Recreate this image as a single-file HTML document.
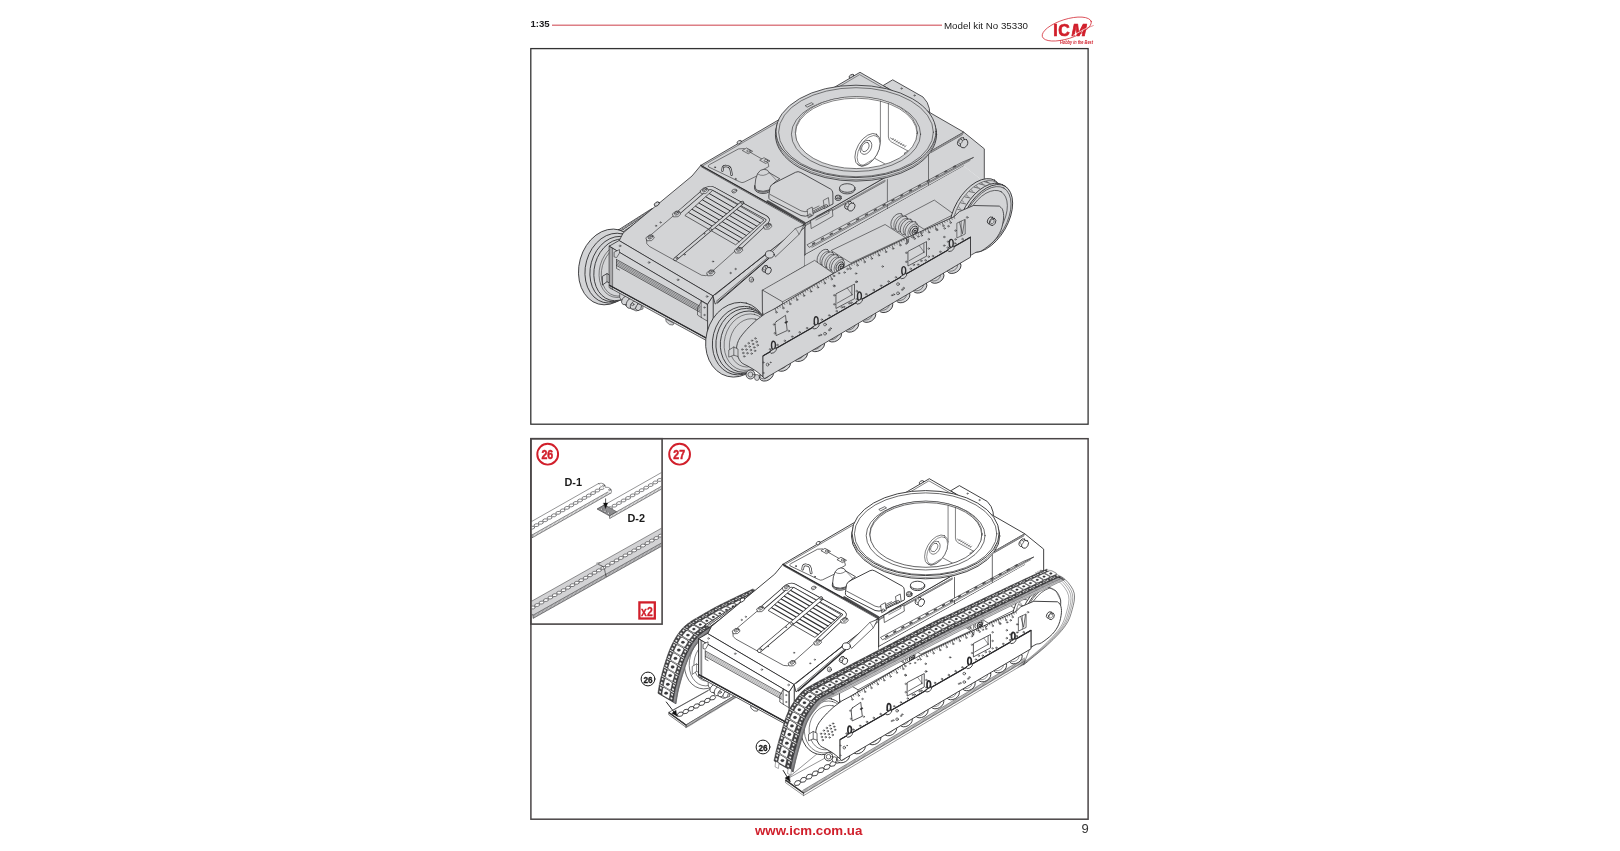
<!DOCTYPE html>
<html><head><meta charset="utf-8"><title>ICM 35330 - page 9</title>
<style>
html,body{margin:0;padding:0;background:#fff;}
body{width:1620px;height:851px;overflow:hidden;position:relative;font-family:"Liberation Sans",sans-serif;}
svg{position:absolute;left:0;top:0;will-change:transform;}
text{font-family:"Liberation Sans",sans-serif;}
.bt *{vector-effect:non-scaling-stroke;}
</style></head><body>
<svg width="1620" height="851" viewBox="0 0 1620 851" stroke-linejoin="round" stroke-linecap="round">
<rect x="0" y="0" width="1620" height="851" fill="#fff"/>
<!-- header -->
<text x="530.5" y="26.9" font-size="9.6" font-weight="bold" fill="#1d1d1f">1:35</text>
<line x1="552" y1="25.2" x2="942" y2="25.2" stroke="#dd7f86" stroke-width="1.6" stroke-linecap="butt"/>
<text x="944" y="28.5" font-size="9.3" fill="#222" textLength="84" lengthAdjust="spacingAndGlyphs">Model kit No 35330</text>
<!-- logo -->
<g>
<ellipse cx="1066.8" cy="29" rx="25.6" ry="9.7" transform="rotate(-17.5 1066.8 29)" fill="none" stroke="#d11f2b" stroke-width="0.7"/>
<text x="1053.3" y="35.6" font-size="15.9" font-weight="bold" fill="#d11f2b" stroke="#d11f2b" stroke-width="0.7" letter-spacing="0.6">IC</text>
<text x="1071.6" y="35.6" font-size="15.9" font-weight="bold" font-style="italic" fill="#d11f2b" stroke="#d11f2b" stroke-width="0.7" textLength="15" lengthAdjust="spacingAndGlyphs">M</text>
<line x1="1073.5" y1="35.2" x2="1087" y2="27.8" stroke="#fff" stroke-width="0.7"/>
<line x1="1086" y1="28.4" x2="1093.3" y2="25.6" stroke="#d11f2b" stroke-width="0.5"/>
<text x="1060" y="43.8" font-size="5.2" font-style="italic" font-weight="bold" fill="#d11f2b" font-family="Liberation Serif" textLength="33" lengthAdjust="spacingAndGlyphs">Hobby in the Best</text>
</g><!-- frames -->
<rect x="530.8" y="48.6" width="557.3" height="375.6" fill="none" stroke="#333" stroke-width="1.3" stroke-linejoin="miter"/>
<rect x="530.9" y="438.7" width="557.2" height="380.5" fill="none" stroke="#4a4647" stroke-width="1.5" stroke-linejoin="miter"/>
<g id="toptank">
<path d="M616 231.5 L652 208.5 L655 209.5 L621 233.5Z" fill="#d3d4d6" stroke="#2c2c2e" stroke-width="0.8"/>
<path d="M618 232.5 L653.5 209" fill="none" stroke="#2c2c2e" stroke-width="0.5"/>
<path d="M619.2 230.4 L620.8 231.9" fill="none" stroke="#2c2c2e" stroke-width="0.6"/>
<path d="M620.7 229.4 L622.3 230.9" fill="none" stroke="#2c2c2e" stroke-width="0.6"/>
<path d="M622.3 228.4 L623.9 229.9" fill="none" stroke="#2c2c2e" stroke-width="0.6"/>
<path d="M623.8 227.5 L625.4 229" fill="none" stroke="#2c2c2e" stroke-width="0.6"/>
<path d="M625.3 226.5 L626.9 228" fill="none" stroke="#2c2c2e" stroke-width="0.6"/>
<path d="M626.8 225.5 L628.4 227" fill="none" stroke="#2c2c2e" stroke-width="0.6"/>
<path d="M628.4 224.5 L630 226" fill="none" stroke="#2c2c2e" stroke-width="0.6"/>
<path d="M629.9 223.5 L631.5 225" fill="none" stroke="#2c2c2e" stroke-width="0.6"/>
<path d="M631.4 222.5 L633 224" fill="none" stroke="#2c2c2e" stroke-width="0.6"/>
<path d="M632.9 221.6 L634.5 223.1" fill="none" stroke="#2c2c2e" stroke-width="0.6"/>
<path d="M634.5 220.6 L636.1 222.1" fill="none" stroke="#2c2c2e" stroke-width="0.6"/>
<path d="M636 219.6 L637.6 221.1" fill="none" stroke="#2c2c2e" stroke-width="0.6"/>
<path d="M637.5 218.6 L639.1 220.1" fill="none" stroke="#2c2c2e" stroke-width="0.6"/>
<path d="M639.1 217.6 L640.7 219.1" fill="none" stroke="#2c2c2e" stroke-width="0.6"/>
<path d="M640.6 216.7 L642.2 218.2" fill="none" stroke="#2c2c2e" stroke-width="0.6"/>
<path d="M642.1 215.7 L643.7 217.2" fill="none" stroke="#2c2c2e" stroke-width="0.6"/>
<path d="M643.6 214.7 L645.2 216.2" fill="none" stroke="#2c2c2e" stroke-width="0.6"/>
<path d="M645.2 213.7 L646.8 215.2" fill="none" stroke="#2c2c2e" stroke-width="0.6"/>
<path d="M646.7 212.7 L648.3 214.2" fill="none" stroke="#2c2c2e" stroke-width="0.6"/>
<path d="M648.2 211.7 L649.8 213.2" fill="none" stroke="#2c2c2e" stroke-width="0.6"/>
<path d="M649.7 210.8 L651.3 212.3" fill="none" stroke="#2c2c2e" stroke-width="0.6"/>
<path d="M651.3 209.8 L652.9 211.3" fill="none" stroke="#2c2c2e" stroke-width="0.6"/>
<ellipse cx="608.6" cy="266.9" rx="38.5" ry="29.4" transform="rotate(-74.5 608.6 266.9)" fill="#d3d4d6" stroke="#2c2c2e" stroke-width="0.8"/>
<ellipse cx="612.7" cy="268.1" rx="35.5" ry="27.1" transform="rotate(-74.5 612.7 268.1)" fill="#d3d4d6" stroke="#2c2c2e" stroke-width="0.8"/>
<ellipse cx="615.9" cy="269" rx="33.2" ry="25.4" transform="rotate(-74.5 615.9 269)" fill="#d3d4d6" stroke="#2c2c2e" stroke-width="0.8"/>
<ellipse cx="618.4" cy="269.8" rx="31.4" ry="24" transform="rotate(-74.5 618.4 269.8)" fill="#d3d4d6" stroke="#2c2c2e" stroke-width="0.8"/>
<ellipse cx="620.2" cy="270.4" rx="27.5" ry="20.6" transform="rotate(-74.5 620.2 270.4)" fill="#d3d4d6" stroke="#2c2c2e" stroke-width="0.5"/>
<ellipse cx="621" cy="270.7" rx="25.8" ry="19.2" transform="rotate(-74.5 621 270.7)" fill="#d3d4d6" stroke="#2c2c2e" stroke-width="0.5"/>
<path d="M602.7 276.1 L607 273.6 L609.6 275 L609.6 283 L607 281.7 L602.7 284.8Z" fill="#d3d4d6" stroke="#2c2c2e" stroke-width="0.8"/>
<path d="M607 273.6 L607 281.7" fill="none" stroke="#2c2c2e" stroke-width="0.6"/>
<path d="M620 291 L643 304 L643 309 L636 311 L626 306 L620 298Z" fill="#d3d4d6" stroke="#2c2c2e" stroke-width="0.6"/>
<ellipse cx="625.5" cy="300.5" rx="4.6" ry="3.4" transform="rotate(-60 625.5 300.5)" fill="#d3d4d6" stroke="#2c2c2e" stroke-width="0.7"/>
<ellipse cx="630.5" cy="303.2" rx="5.4" ry="3.8" transform="rotate(-60 630.5 303.2)" fill="#d3d4d6" stroke="#2c2c2e" stroke-width="0.7"/>
<ellipse cx="634" cy="305.2" rx="4.4" ry="3.2" transform="rotate(-60 634 305.2)" fill="#d3d4d6" stroke="#2c2c2e" stroke-width="0.7"/>
<ellipse cx="638.6" cy="307.2" rx="3.6" ry="2.6" transform="rotate(-60 638.6 307.2)" fill="#d3d4d6" stroke="#2c2c2e" stroke-width="0.7"/>
<ellipse cx="632.6" cy="304.4" rx="1.4" ry="1.2" fill="#d3d4d6" stroke="#2c2c2e" stroke-width="0.6"/>
<path d="M666 319 L674 323.4 L673 325 L669.5 324.6 L666.5 322Z" fill="#d3d4d6" stroke="#2c2c2e" stroke-width="0.6"/>
<path d="M609.5 285.3 L707.6 338.8 L707.6 341.2 L609.5 287.7Z" fill="#d3d4d6" stroke="#2c2c2e" stroke-width="0.7"/>
<path d="M883.5 85.3 L892.7 79.8 L923 97 L927.2 102.5 L929.3 108.5 L929.8 114 L905 100Z" fill="#d3d4d6" stroke="#2c2c2e" stroke-width="0.8"/>
<path d="M884.7 86.5 L925.8 109.6" fill="none" stroke="#2c2c2e" stroke-width="0.6"/>
<ellipse cx="901.5" cy="88.5" rx="0.7" ry="0.7" fill="#d3d4d6" stroke="#2c2c2e" stroke-width="0.5"/>
<ellipse cx="914.5" cy="95.5" rx="0.7" ry="0.7" fill="#d3d4d6" stroke="#2c2c2e" stroke-width="0.5"/>
<ellipse cx="851.5" cy="76.3" rx="2.6" ry="1.6" transform="rotate(-30 851.5 76.3)" fill="#d3d4d6" stroke="#2c2c2e" stroke-width="0.8"/>
<path d="M713.2 295.6 L805 226.5 L805 266 L762.5 291 L762.5 335 L713 337Z" fill="#d3d4d6" stroke="#2c2c2e" stroke-width="0.8"/>
<path d="M805 223.5 L963.7 132.1 L984.3 148.8 L984.3 182 L963.7 166 L805 255.5Z" fill="#d3d4d6" stroke="#2c2c2e" stroke-width="0.00"/>
<path d="M805 255.5 L805 223.5 L963.7 132.1 L984.3 148.8 L984.3 182" fill="none" stroke="#2c2c2e" stroke-width="0.8"/>
<path d="M707.6 304 L713.2 295.6 L713.2 335.6 L707.6 338.8Z" fill="#d3d4d6" stroke="#2c2c2e" stroke-width="0.8"/>
<path d="M609.5 246 L707.6 304 L707.6 338.8 L609.5 285.3Z" fill="#d3d4d6" stroke="#2c2c2e" stroke-width="0.8"/>
<path d="M609.5 246 L619.4 240.3 L713.2 295.6 L707.6 304Z" fill="#d3d4d6" stroke="#2c2c2e" stroke-width="0.8"/>
<path d="M713.2 295.6 L805 223.5 L805 227 L715.5 303.8Z" fill="#d3d4d6" stroke="#2c2c2e" stroke-width="0.8"/>
<path d="M619.4 240.3 L623.2 232.9 L692 176 L700.9 165.3 L805 223.5 L713.2 295.6Z" fill="#d3d4d6" stroke="#2c2c2e" stroke-width="0.8"/>
<path d="M700.9 165.3 L860 72.3 L963.7 132.1 L805 223.5Z" fill="#d3d4d6" stroke="#2c2c2e" stroke-width="0.8"/>
<path d="M700.9 165.3 L805 223.5" fill="none" stroke="#2c2c2e" stroke-width="0.9"/>
<path d="M701.6 167 L805.2 225.2" fill="none" stroke="#2c2c2e" stroke-width="0.6"/>
<path d="M767.4 201.2 L804.6 222.8" fill="none" stroke="#4a4a4c" stroke-width="2"/>
<path d="M702.6 165.9 L779 121.6" fill="none" stroke="#2c2c2e" stroke-width="0.5"/>
<path d="M835 89.2 L859.6 74.6 L884.5 88.8" fill="none" stroke="#2c2c2e" stroke-width="0.5"/>
<ellipse cx="739.2" cy="142.2" rx="2.4" ry="1.5" transform="rotate(-30 739.2 142.2)" fill="#d3d4d6" stroke="#2c2c2e" stroke-width="0.7"/>
<path d="M708.3 166.6 Q707.6 165.6 709.5 164.6 L738.5 148.9 L744 148.6 L747.8 150.9 L765 160.8 Q769.5 163 768.8 166.5 Q762 169 757.2 175.8 L744 182.2 Q742 183.2 740 182 Z" fill="#d3d4d6" stroke="#2c2c2e" stroke-width="0.6"/>
<path d="M742.6 150.3 L746.6 148 L752.6 151.3 L748.6 153.6Z" fill="#d3d4d6" stroke="#2c2c2e" stroke-width="0.6"/>
<ellipse cx="748.6" cy="150.9" rx="1.8" ry="1.1" fill="#d3d4d6" stroke="#2c2c2e" stroke-width="0.6"/>
<path d="M760 160 L764 157.7 L770 161 L766 163.3Z" fill="#d3d4d6" stroke="#2c2c2e" stroke-width="0.6"/>
<ellipse cx="766" cy="160.6" rx="1.8" ry="1.1" fill="#d3d4d6" stroke="#2c2c2e" stroke-width="0.6"/>
<path d="M722.4 170.6 L722.9 167.4 Q723.6 165.8 726 166 L728.6 166.6 Q730.4 167.4 730.8 170 L731.6 174.8" fill="none" stroke="#2c2c2e" stroke-width="2.3"/>
<path d="M722.4 170.6 L722.9 167.4 Q723.6 165.8 726 166 L728.6 166.6 Q730.4 167.4 730.8 170 L731.6 174.8" fill="none" stroke="#d3d4d6" stroke-width="1"/>
<ellipse cx="715" cy="167.3" rx="0.6" ry="0.6" fill="#d3d4d6" stroke="#2c2c2e" stroke-width="0.6"/>
<ellipse cx="735.6" cy="179" rx="0.6" ry="0.6" fill="#d3d4d6" stroke="#2c2c2e" stroke-width="0.6"/>
<ellipse cx="763.1" cy="188.4" rx="8.5" ry="5.1" fill="#d3d4d6" stroke="#2c2c2e" stroke-width="0.8"/>
<ellipse cx="763.1" cy="187" rx="8.5" ry="5.1" fill="#d3d4d6" stroke="#2c2c2e" stroke-width="0.8"/>
<path d="M754.9 186 Q755.2 178 757.6 173.6 Q760 169.4 764 169.2 Q768.2 169.4 769.2 172.6 L779.8 178.8 Q776 180.6 772.6 184.6 Q771.6 188 769 190 Q763 192.4 757.6 190.4 Q755.2 189 754.9 186Z" fill="#d3d4d6" stroke="#2c2c2e" stroke-width="0.7"/>
<path d="M757.8 174 Q763 177.6 769.2 172.8" fill="none" stroke="#2c2c2e" stroke-width="0.5"/>
<path d="M769.2 172.6 L776.4 180.2" fill="none" stroke="#2c2c2e" stroke-width="0.5"/>
<path d="M805.5 225.6 L885 181.5" fill="none" stroke="#2c2c2e" stroke-width="0.6"/>
<path d="M931 152.6 L962.5 134.6" fill="none" stroke="#2c2c2e" stroke-width="0.6"/>
<path d="M806 224.6 L885 180.4" fill="none" stroke="#8b8b8d" stroke-width="1.3"/>
<path d="M931 151.5 L963 133.3" fill="none" stroke="#8b8b8d" stroke-width="1.3"/>
<path d="M887.4 179.5 L887.4 208.5" fill="none" stroke="#2c2c2e" stroke-width="0.6"/>
<path d="M928.5 152 L928.5 185" fill="none" stroke="#2c2c2e" stroke-width="0.6"/>
<path d="M774 183.2 L795.5 172.3 Q798.1 170.9 800.8 172.5 L830.5 189 Q832.8 190.3 832.8 193 L833 204 L809.5 215.2 Q805.5 217 801 215.5 L770.5 200 Q768.3 198.8 768.8 196 L770 187.5 Q770.6 184.8 774 183.2Z" fill="#d3d4d6" stroke="#2c2c2e" stroke-width="0.8"/>
<path d="M770.2 194.5 L801 210.8 Q805 212.6 809 210.9 L819 206" fill="none" stroke="#2c2c2e" stroke-width="0.6"/>
<path d="M810.9 220.6 L832.3 209.4 L832.9 216.2 L811.5 228.4Z" fill="#d3d4d6" stroke="#2c2c2e" stroke-width="0.6"/>
<path d="M816 216.5 L829 209.8 L829 213.2 L816 220" fill="none" stroke="#2c2c2e" stroke-width="0.5"/>
<path d="M812.5 212 L826 205" fill="none" stroke="#2c2c2e" stroke-width="1.8"/>
<path d="M812.5 212 L826 205" fill="none" stroke="#d3d4d6" stroke-width="0.8"/>
<path d="M807.4 209.6 L812.2 207 L813.2 215.2 L808.6 217.8Z" fill="#d3d4d6" stroke="#2c2c2e" stroke-width="0.6"/>
<ellipse cx="810" cy="215.2" rx="1.3" ry="1.3" fill="#d3d4d6" stroke="#2c2c2e" stroke-width="0.6"/>
<path d="M823.6 200.2 L828.4 197.6 L829.4 205.8 L824.8 208.4Z" fill="#d3d4d6" stroke="#2c2c2e" stroke-width="0.6"/>
<ellipse cx="826.2" cy="205.8" rx="1.3" ry="1.3" fill="#d3d4d6" stroke="#2c2c2e" stroke-width="0.6"/>
<ellipse cx="847.2" cy="189.6" rx="7.8" ry="4.3" fill="#d3d4d6" stroke="#2c2c2e" stroke-width="0.8"/>
<ellipse cx="847.2" cy="188" rx="7.8" ry="4.3" fill="#d3d4d6" stroke="#2c2c2e" stroke-width="0.8"/>
<ellipse cx="838.2" cy="198.6" rx="3" ry="1.9" fill="#d3d4d6" stroke="#2c2c2e" stroke-width="0.8"/>
<ellipse cx="838.2" cy="197" rx="3" ry="1.9" fill="#d3d4d6" stroke="#2c2c2e" stroke-width="0.8"/>
<ellipse cx="838.2" cy="196.8" rx="1.6" ry="1" fill="#d3d4d6" stroke="#2c2c2e" stroke-width="0.5"/>
<ellipse cx="848.3" cy="205.2" rx="4.4" ry="3.1" transform="rotate(-60 848.3 205.2)" fill="#d3d4d6" stroke="#2c2c2e" stroke-width="0.8"/>
<path d="M845.6 201.9 L849 203.7 L853.5 210.3 L850.8 208.8Z" fill="#d3d4d6" stroke="#2c2c2e" stroke-width="0.00"/>
<ellipse cx="851.4" cy="207" rx="4.4" ry="3.1" transform="rotate(-60 851.4 207)" fill="#d3d4d6" stroke="#2c2c2e" stroke-width="0.8"/>
<ellipse cx="847.4" cy="204.7" rx="2.2" ry="1.5" transform="rotate(-60 847.4 204.7)" fill="#d3d4d6" stroke="#2c2c2e" stroke-width="0.5"/>
<ellipse cx="961.3" cy="141.9" rx="4.6" ry="3.3" transform="rotate(-60 961.3 141.9)" fill="#d3d4d6" stroke="#2c2c2e" stroke-width="0.8"/>
<ellipse cx="964.2" cy="143.6" rx="4.6" ry="3.3" transform="rotate(-60 964.2 143.6)" fill="#d3d4d6" stroke="#2c2c2e" stroke-width="0.8"/>
<ellipse cx="960.6" cy="141.5" rx="2.3" ry="1.6" transform="rotate(-60 960.6 141.5)" fill="#d3d4d6" stroke="#2c2c2e" stroke-width="0.5"/>
<path d="M807.4 244.6 L961.9 162.3 L973.6 157.4 L809.5 247.2Z" fill="#d3d4d6" stroke="#2c2c2e" stroke-width="0.6"/>
<path d="M812 247.3 L970 160.5" fill="none" stroke="#2c2c2e" stroke-width="0.5"/>
<path d="M812.7 244 L814.6 242.9" fill="none" stroke="#4c4c4e" stroke-width="1.5"/>
<path d="M821.5 239.1 L823.4 238.1" fill="none" stroke="#4c4c4e" stroke-width="1.5"/>
<path d="M830.3 234.3 L832.2 233.3" fill="none" stroke="#4c4c4e" stroke-width="1.5"/>
<path d="M839.1 229.5 L841 228.5" fill="none" stroke="#4c4c4e" stroke-width="1.5"/>
<path d="M847.9 224.7 L849.8 223.7" fill="none" stroke="#4c4c4e" stroke-width="1.5"/>
<path d="M856.7 219.9 L858.6 218.9" fill="none" stroke="#4c4c4e" stroke-width="1.5"/>
<path d="M865.5 215.1 L867.4 214.1" fill="none" stroke="#4c4c4e" stroke-width="1.5"/>
<path d="M874.4 210.3 L876.2 209.2" fill="none" stroke="#4c4c4e" stroke-width="1.5"/>
<path d="M883.2 205.5 L885 204.4" fill="none" stroke="#4c4c4e" stroke-width="1.5"/>
<path d="M892 200.7 L893.8 199.6" fill="none" stroke="#4c4c4e" stroke-width="1.5"/>
<path d="M900.8 195.8 L902.6 194.8" fill="none" stroke="#4c4c4e" stroke-width="1.5"/>
<path d="M909.6 191 L911.5 190" fill="none" stroke="#4c4c4e" stroke-width="1.5"/>
<path d="M918.4 186.2 L920.3 185.2" fill="none" stroke="#4c4c4e" stroke-width="1.5"/>
<path d="M927.2 181.4 L929.1 180.4" fill="none" stroke="#4c4c4e" stroke-width="1.5"/>
<path d="M936 176.6 L937.9 175.6" fill="none" stroke="#4c4c4e" stroke-width="1.5"/>
<path d="M944.8 171.8 L946.7 170.8" fill="none" stroke="#4c4c4e" stroke-width="1.5"/>
<path d="M953.6 167 L955.5 166" fill="none" stroke="#4c4c4e" stroke-width="1.5"/>
<path d="M805 254.6 L963.7 166" fill="none" stroke="#2c2c2e" stroke-width="0.7"/>
<ellipse cx="856" cy="134.6" rx="80.6" ry="46.5" fill="#d3d4d6" stroke="#2c2c2e" stroke-width="0.8"/>
<ellipse cx="856" cy="133.4" rx="80.2" ry="46.3" fill="#d3d4d6" stroke="#2c2c2e" stroke-width="0.5"/>
<ellipse cx="856" cy="131.4" rx="80" ry="46.2" fill="#d3d4d6" stroke="#2c2c2e" stroke-width="0.8"/>
<ellipse cx="856" cy="132.2" rx="77.4" ry="44.5" fill="#d3d4d6" stroke="#2c2c2e" stroke-width="0.6"/>
<ellipse cx="856" cy="134.2" rx="64.6" ry="37.3" fill="#d3d4d6" stroke="#2c2c2e" stroke-width="0.6"/>
<ellipse cx="856.3" cy="132.2" rx="61" ry="35.6" fill="#ffffff" stroke="#2c2c2e" stroke-width="0.6"/>
<ellipse cx="856.3" cy="133.4" rx="60.8" ry="35.2" fill="#ffffff" stroke="#2c2c2e" stroke-width="0.6"/>
<clipPath id="hole"><ellipse cx="856.3" cy="133" rx="60.7" ry="35.2"/></clipPath>
<g clip-path="url(#hole)">
<path d="M880.4 95 L880.4 141" fill="none" stroke="#2c2c2e" stroke-width="0.6"/>
<path d="M888.4 95 L888.4 137 Q888.6 140.5 891.5 142 L908 151" fill="none" stroke="#2c2c2e" stroke-width="0.6"/>
<path d="M890.3 137.8 L905 146.3" fill="none" stroke="#2c2c2e" stroke-width="0.5"/>
<path d="M892 139.9 L893.4 138.3" fill="none" stroke="#2c2c2e" stroke-width="0.5"/>
<path d="M894.1 141.1 L895.5 139.5" fill="none" stroke="#2c2c2e" stroke-width="0.5"/>
<path d="M896.2 142.3 L897.6 140.7" fill="none" stroke="#2c2c2e" stroke-width="0.5"/>
<path d="M898.3 143.5 L899.7 141.9" fill="none" stroke="#2c2c2e" stroke-width="0.5"/>
<path d="M900.4 144.7 L901.8 143.1" fill="none" stroke="#2c2c2e" stroke-width="0.5"/>
<path d="M902.5 145.9 L903.9 144.3" fill="none" stroke="#2c2c2e" stroke-width="0.5"/>
<path d="M904.6 147.1 L906 145.5" fill="none" stroke="#2c2c2e" stroke-width="0.5"/>
<path d="M908 151 L904 153.4 L907.3 155.6 L913 152.5" fill="none" stroke="#2c2c2e" stroke-width="0.6"/>
<path d="M875 158.5 L886 164.5 L896 160.5 L899 162.2 L893 166" fill="none" stroke="#2c2c2e" stroke-width="0.6"/>
<path d="M880.4 141 L876 150" fill="none" stroke="#2c2c2e" stroke-width="0.6"/>
<ellipse cx="867.6" cy="149.8" rx="18" ry="10.4" transform="rotate(-60 867.6 149.8)" fill="#ffffff" stroke="#2c2c2e" stroke-width="0.6"/>
<ellipse cx="868.6" cy="150.4" rx="16.5" ry="9.2" transform="rotate(-60 868.6 150.4)" fill="#ffffff" stroke="#2c2c2e" stroke-width="0.5"/>
<ellipse cx="866" cy="147.3" rx="7.6" ry="5.2" transform="rotate(-60 866 147.3)" fill="#ffffff" stroke="#2c2c2e" stroke-width="0.6"/>
<ellipse cx="865.4" cy="147" rx="5" ry="3.3" transform="rotate(-60 865.4 147)" fill="#ffffff" stroke="#2c2c2e" stroke-width="0.6"/>
<path d="M857.5 163.8 L861.5 166.3 L872 160" fill="none" stroke="#2c2c2e" stroke-width="0.5"/>
</g>
<path d="M805.5 105.5 L811.5 102.7 L813.5 104 L807.5 107Z" fill="#d3d4d6" stroke="#2c2c2e" stroke-width="0.6"/>
<ellipse cx="656.8" cy="204" rx="2.8" ry="1.8" transform="rotate(-35 656.8 204)" fill="#d3d4d6" stroke="#2c2c2e" stroke-width="0.8"/>
<path d="M649 236.5 L706 188.2 Q709.5 185.2 714 187.2 L767.5 216.4 Q770.3 218.2 768.6 221 L709.5 273.8 Q706 276.8 701.5 275.2 L649.5 246.5 Q645.5 244 646.6 240 Q647 238 649 236.5Z" fill="#d3d4d6" stroke="#2c2c2e" stroke-width="0.6"/>
<path d="M677.6 213.6 L704.5 190.2 Q709 186.4 714 189 L766 217.5 Q769 219.4 767 222 L739.5 248" fill="none" stroke="#2c2c2e" stroke-width="3.9"/>
<path d="M677.6 213.6 L704.5 190.2 Q709 186.4 714 189 L766 217.5 Q769 219.4 767 222 L739.5 248" fill="none" stroke="#d3d4d6" stroke-width="2.6"/>
<path d="M713 190.6 L764 220 L735.7 244.8 L685.2 215.7Z" fill="#d3d4d6" stroke="#2c2c2e" stroke-width="0.7"/>
<path d="M709.5 193.7 L760.5 223.1" fill="none" stroke="#2e2e30" stroke-width="1"/>
<path d="M706 196.9 L756.9 226.2" fill="none" stroke="#2e2e30" stroke-width="1"/>
<path d="M702.6 200 L753.4 229.3" fill="none" stroke="#2e2e30" stroke-width="1"/>
<path d="M699.1 203.1 L749.9 232.4" fill="none" stroke="#2e2e30" stroke-width="1"/>
<path d="M695.6 206.3 L746.3 235.5" fill="none" stroke="#2e2e30" stroke-width="1"/>
<path d="M692.2 209.4 L742.8 238.6" fill="none" stroke="#2e2e30" stroke-width="1"/>
<path d="M688.7 212.6 L739.2 241.7" fill="none" stroke="#2e2e30" stroke-width="1"/>
<path d="M742.3 202.6 L675.3 259.2" fill="none" stroke="#2c2c2e" stroke-width="3.7"/>
<path d="M742.3 202.6 L675.3 259.2" fill="none" stroke="#d3d4d6" stroke-width="2.4"/>
<ellipse cx="742.2" cy="202.9" rx="1.3" ry="1" fill="#d3d4d6" stroke="#2c2c2e" stroke-width="0.6"/>
<ellipse cx="710.5" cy="229.8" rx="1.5" ry="1.1" fill="#d3d4d6" stroke="#2c2c2e" stroke-width="0.6"/>
<ellipse cx="676.8" cy="257.8" rx="1" ry="0.8" fill="#d3d4d6" stroke="#2c2c2e" stroke-width="0.6"/>
<ellipse cx="704.3" cy="233.7" rx="0.6" ry="0.6" fill="#d3d4d6" stroke="#2c2c2e" stroke-width="0.5"/>
<ellipse cx="684.7" cy="254.6" rx="0.6" ry="0.6" fill="#d3d4d6" stroke="#2c2c2e" stroke-width="0.5"/>
<path d="M700.4 190.5 l3.4 -2.6 l3.6 0.4 l1.2 2.6 l-2.8 2.6 l-4.2 0.2 Z" fill="#d3d4d6" stroke="#2c2c2e" stroke-width="0.6"/>
<ellipse cx="704.6" cy="189.9" rx="2.5" ry="1.7" transform="rotate(-25 704.6 189.9)" fill="#d3d4d6" stroke="#2c2c2e" stroke-width="0.6"/>
<ellipse cx="704.3" cy="189.7" rx="1.2" ry="0.8" transform="rotate(-25 704.3 189.7)" fill="#d3d4d6" stroke="#2c2c2e" stroke-width="0.5"/>
<path d="M672.6 213.7 l3.4 -2.6 l3.6 0.4 l1.2 2.6 l-2.8 2.6 l-4.2 0.2 Z" fill="#d3d4d6" stroke="#2c2c2e" stroke-width="0.6"/>
<ellipse cx="676.8" cy="213.1" rx="2.5" ry="1.7" transform="rotate(-25 676.8 213.1)" fill="#d3d4d6" stroke="#2c2c2e" stroke-width="0.6"/>
<ellipse cx="676.5" cy="212.9" rx="1.2" ry="0.8" transform="rotate(-25 676.5 212.9)" fill="#d3d4d6" stroke="#2c2c2e" stroke-width="0.5"/>
<path d="M646.1 237.6 l3.4 -2.6 l3.6 0.4 l1.2 2.6 l-2.8 2.6 l-4.2 0.2 Z" fill="#d3d4d6" stroke="#2c2c2e" stroke-width="0.6"/>
<ellipse cx="650.3" cy="237" rx="2.5" ry="1.7" transform="rotate(-25 650.3 237)" fill="#d3d4d6" stroke="#2c2c2e" stroke-width="0.6"/>
<ellipse cx="650" cy="236.8" rx="1.2" ry="0.8" transform="rotate(-25 650 236.8)" fill="#d3d4d6" stroke="#2c2c2e" stroke-width="0.5"/>
<path d="M763.8 226 l3.4 -2.6 l3.6 0.4 l1.2 2.6 l-2.8 2.6 l-4.2 0.2 Z" fill="#d3d4d6" stroke="#2c2c2e" stroke-width="0.6"/>
<ellipse cx="768" cy="225.4" rx="2.5" ry="1.7" transform="rotate(-25 768 225.4)" fill="#d3d4d6" stroke="#2c2c2e" stroke-width="0.6"/>
<ellipse cx="767.7" cy="225.2" rx="1.2" ry="0.8" transform="rotate(-25 767.7 225.2)" fill="#d3d4d6" stroke="#2c2c2e" stroke-width="0.5"/>
<path d="M734.7 249.9 l3.4 -2.6 l3.6 0.4 l1.2 2.6 l-2.8 2.6 l-4.2 0.2 Z" fill="#d3d4d6" stroke="#2c2c2e" stroke-width="0.6"/>
<ellipse cx="738.9" cy="249.3" rx="2.5" ry="1.7" transform="rotate(-25 738.9 249.3)" fill="#d3d4d6" stroke="#2c2c2e" stroke-width="0.6"/>
<ellipse cx="738.6" cy="249.1" rx="1.2" ry="0.8" transform="rotate(-25 738.6 249.1)" fill="#d3d4d6" stroke="#2c2c2e" stroke-width="0.5"/>
<path d="M706.9 272.6 l3.4 -2.6 l3.6 0.4 l1.2 2.6 l-2.8 2.6 l-4.2 0.2 Z" fill="#d3d4d6" stroke="#2c2c2e" stroke-width="0.6"/>
<ellipse cx="711.1" cy="272" rx="2.5" ry="1.7" transform="rotate(-25 711.1 272)" fill="#d3d4d6" stroke="#2c2c2e" stroke-width="0.6"/>
<ellipse cx="710.8" cy="271.8" rx="1.2" ry="0.8" transform="rotate(-25 710.8 271.8)" fill="#d3d4d6" stroke="#2c2c2e" stroke-width="0.5"/>
<ellipse cx="734.3" cy="191" rx="2.6" ry="1.8" transform="rotate(-20 734.3 191)" fill="#d3d4d6" stroke="#2c2c2e" stroke-width="0.6"/>
<path d="M732.6 192 L736.2 190.2" fill="none" stroke="#2c2c2e" stroke-width="0.5"/>
<ellipse cx="656" cy="225.8" rx="0.7" ry="0.7" fill="#d3d4d6" stroke="#2c2c2e" stroke-width="0.5"/>
<ellipse cx="660.5" cy="222.4" rx="0.7" ry="0.7" fill="#d3d4d6" stroke="#2c2c2e" stroke-width="0.5"/>
<ellipse cx="730.5" cy="273" rx="0.7" ry="0.7" fill="#d3d4d6" stroke="#2c2c2e" stroke-width="0.5"/>
<ellipse cx="735.5" cy="269" rx="0.7" ry="0.7" fill="#d3d4d6" stroke="#2c2c2e" stroke-width="0.5"/>
<ellipse cx="713" cy="261.5" rx="0.7" ry="0.7" fill="#d3d4d6" stroke="#2c2c2e" stroke-width="0.5"/>
<path d="M803.6 225.2 L795.3 228.6 L772.3 251.5 L775.5 256.8 L799 234.5Z" fill="#d3d4d6" stroke="#2c2c2e" stroke-width="0.6"/>
<path d="M795.3 228.6 L797.5 231.2 L799 234.5" fill="none" stroke="#2c2c2e" stroke-width="0.5"/>
<ellipse cx="769.8" cy="254.4" rx="4.4" ry="3.7" fill="#d3d4d6" stroke="#2c2c2e" stroke-width="0.8"/>
<path d="M765.6 254 L715.5 294.6" fill="none" stroke="#2c2c2e" stroke-width="0.6"/>
<path d="M767.2 258 L716.4 301.2" fill="none" stroke="#2c2c2e" stroke-width="0.6"/>
<path d="M768.6 258.7 L717.5 303" fill="none" stroke="#2c2c2e" stroke-width="1"/>
<ellipse cx="765.2" cy="268.8" rx="3.6" ry="2.8" transform="rotate(-60 765.2 268.8)" fill="#d3d4d6" stroke="#2c2c2e" stroke-width="0.8"/>
<path d="M763.4 266 L766.4 267.6 L770 273.4 L767 271.8Z" fill="#d3d4d6" stroke="#2c2c2e" stroke-width="0.00"/>
<ellipse cx="768.3" cy="270.7" rx="3.6" ry="2.8" transform="rotate(-60 768.3 270.7)" fill="#d3d4d6" stroke="#2c2c2e" stroke-width="0.8"/>
<ellipse cx="764.4" cy="268.4" rx="1.8" ry="1.3" transform="rotate(-60 764.4 268.4)" fill="#d3d4d6" stroke="#2c2c2e" stroke-width="0.5"/>
<ellipse cx="751.4" cy="279.6" rx="2.2" ry="2.6" fill="#d3d4d6" stroke="#2c2c2e" stroke-width="0.6"/>
<ellipse cx="752.2" cy="280.2" rx="1.2" ry="1.5" fill="#d3d4d6" stroke="#2c2c2e" stroke-width="0.5"/>
<path d="M612.6 248.2 L612.6 289.5" fill="none" stroke="#2c2c2e" stroke-width="0.6"/>
<path d="M611 247.2 L611 288.8" fill="none" stroke="#2c2c2e" stroke-width="0.5"/>
<ellipse cx="620" cy="245.9" rx="0.9" ry="0.9" fill="#d3d4d6" stroke="#2c2c2e" stroke-width="0.5"/>
<ellipse cx="649" cy="262.5" rx="0.9" ry="0.9" fill="#d3d4d6" stroke="#2c2c2e" stroke-width="0.5"/>
<ellipse cx="678" cy="279.8" rx="0.9" ry="0.9" fill="#d3d4d6" stroke="#2c2c2e" stroke-width="0.5"/>
<ellipse cx="707" cy="296.5" rx="0.9" ry="0.9" fill="#d3d4d6" stroke="#2c2c2e" stroke-width="0.5"/>
<path d="M616.5 259.5 L700 306.2" fill="none" stroke="#2c2c2e" stroke-width="0.7"/>
<path d="M616.5 261 L700 307.7" fill="none" stroke="#2c2c2e" stroke-width="0.5"/>
<path d="M616.5 262.5 L700 309.2" fill="none" stroke="#2c2c2e" stroke-width="0.5"/>
<path d="M616.5 264 L700 310.7" fill="none" stroke="#2c2c2e" stroke-width="0.5"/>
<path d="M616.5 265.5 L700 312.2" fill="none" stroke="#2c2c2e" stroke-width="0.7"/>
<path d="M616.5 259.5 L616.5 268.5 L619.5 270" fill="none" stroke="#2c2c2e" stroke-width="0.6"/>
<path d="M614.5 252 L619.5 249.6 L619.5 253 L616.6 257.6 L614.5 257Z" fill="#d3d4d6" stroke="#2c2c2e" stroke-width="0.6"/>
<path d="M609.5 285.3 L707.6 338.8" fill="none" stroke="#2c2c2e" stroke-width="1.3"/>
<path d="M701.5 301.2 L707.3 304.7 L707.3 321.1 L701.5 317.6Z" fill="#d3d4d6" stroke="#2c2c2e" stroke-width="0.6"/>
<ellipse cx="704.4" cy="307.5" rx="0.7" ry="0.7" fill="#d3d4d6" stroke="#2c2c2e" stroke-width="0.5"/>
<ellipse cx="704.4" cy="315" rx="0.7" ry="0.7" fill="#d3d4d6" stroke="#2c2c2e" stroke-width="0.5"/>
<path d="M701.5 301.2 L697.5 308 L697.5 315 L701.5 317.6" fill="none" stroke="#2c2c2e" stroke-width="0.6"/>
<path d="M805 255.5 L963.7 166 L984.3 182 L984.3 200 L954 217 L783 302.5 L762.5 291 L805 266Z" fill="#d3d4d6" stroke="#2c2c2e" stroke-width="0.00"/>
<path d="M904.2 216 L934.3 200.1 L954 214.3 L924.4 229.1Z" fill="#d3d4d6" stroke="#2c2c2e" stroke-width="0.6"/>
<ellipse cx="897.2" cy="221.3" rx="8.6" ry="5.4" transform="rotate(-60 897.2 221.3)" fill="#d3d4d6" stroke="#2c2c2e" stroke-width="0.6"/>
<ellipse cx="899.1" cy="222.4" rx="7.4" ry="4.4" transform="rotate(-60 899.1 222.4)" fill="#d3d4d6" stroke="#2c2c2e" stroke-width="0.5"/>
<ellipse cx="901.9" cy="224" rx="8.6" ry="5.4" transform="rotate(-60 901.9 224)" fill="#d3d4d6" stroke="#2c2c2e" stroke-width="0.6"/>
<ellipse cx="903.8" cy="225.1" rx="7.4" ry="4.4" transform="rotate(-60 903.8 225.1)" fill="#d3d4d6" stroke="#2c2c2e" stroke-width="0.5"/>
<ellipse cx="906.6" cy="226.8" rx="8.6" ry="5.4" transform="rotate(-60 906.6 226.8)" fill="#d3d4d6" stroke="#2c2c2e" stroke-width="0.6"/>
<ellipse cx="908.5" cy="227.8" rx="7.4" ry="4.4" transform="rotate(-60 908.5 227.8)" fill="#d3d4d6" stroke="#2c2c2e" stroke-width="0.5"/>
<ellipse cx="911.3" cy="229.4" rx="8.6" ry="5.4" transform="rotate(-60 911.3 229.4)" fill="#d3d4d6" stroke="#2c2c2e" stroke-width="0.6"/>
<ellipse cx="913.2" cy="230.5" rx="7.4" ry="4.4" transform="rotate(-60 913.2 230.5)" fill="#d3d4d6" stroke="#2c2c2e" stroke-width="0.5"/>
<ellipse cx="913.7" cy="230.8" rx="5.2" ry="3.4" transform="rotate(-60 913.7 230.8)" fill="#d3d4d6" stroke="#2c2c2e" stroke-width="0.8"/>
<ellipse cx="914.7" cy="231.4" rx="3.4" ry="2.2" transform="rotate(-60 914.7 231.4)" fill="#d3d4d6" stroke="#2c2c2e" stroke-width="0.9"/>
<ellipse cx="915" cy="231.7" rx="1.5" ry="1" transform="rotate(-60 915 231.7)" fill="#d3d4d6" stroke="#2c2c2e" stroke-width="0.9"/>
<path d="M831.5 250.4 L885.1 224.5 L905.4 237.5 L851.2 262.8Z" fill="#d3d4d6" stroke="#2c2c2e" stroke-width="0.6"/>
<ellipse cx="823.4" cy="257.1" rx="8.6" ry="5.4" transform="rotate(-60 823.4 257.1)" fill="#d3d4d6" stroke="#2c2c2e" stroke-width="0.6"/>
<ellipse cx="825.3" cy="258.2" rx="7.4" ry="4.4" transform="rotate(-60 825.3 258.2)" fill="#d3d4d6" stroke="#2c2c2e" stroke-width="0.5"/>
<ellipse cx="828.1" cy="259.8" rx="8.6" ry="5.4" transform="rotate(-60 828.1 259.8)" fill="#d3d4d6" stroke="#2c2c2e" stroke-width="0.6"/>
<ellipse cx="830" cy="260.9" rx="7.4" ry="4.4" transform="rotate(-60 830 260.9)" fill="#d3d4d6" stroke="#2c2c2e" stroke-width="0.5"/>
<ellipse cx="832.8" cy="262.4" rx="8.6" ry="5.4" transform="rotate(-60 832.8 262.4)" fill="#d3d4d6" stroke="#2c2c2e" stroke-width="0.6"/>
<ellipse cx="834.7" cy="263.6" rx="7.4" ry="4.4" transform="rotate(-60 834.7 263.6)" fill="#d3d4d6" stroke="#2c2c2e" stroke-width="0.5"/>
<ellipse cx="837.5" cy="265.2" rx="8.6" ry="5.4" transform="rotate(-60 837.5 265.2)" fill="#d3d4d6" stroke="#2c2c2e" stroke-width="0.6"/>
<ellipse cx="839.4" cy="266.3" rx="7.4" ry="4.4" transform="rotate(-60 839.4 266.3)" fill="#d3d4d6" stroke="#2c2c2e" stroke-width="0.5"/>
<ellipse cx="839.9" cy="266.6" rx="5.2" ry="3.4" transform="rotate(-60 839.9 266.6)" fill="#d3d4d6" stroke="#2c2c2e" stroke-width="0.8"/>
<ellipse cx="840.9" cy="267.2" rx="3.4" ry="2.2" transform="rotate(-60 840.9 267.2)" fill="#d3d4d6" stroke="#2c2c2e" stroke-width="0.9"/>
<ellipse cx="841.2" cy="267.4" rx="1.5" ry="1" transform="rotate(-60 841.2 267.4)" fill="#d3d4d6" stroke="#2c2c2e" stroke-width="0.9"/>
<path d="M762.5 290.1 L814.6 260.4 L833.5 273.6 L782.6 301.8Z" fill="#d3d4d6" stroke="#2c2c2e" stroke-width="0.6"/>
<path d="M762.5 290.1 L782.6 301.8 L782.6 304 L764 316.5 L762.5 312Z" fill="#d3d4d6" stroke="#2c2c2e" stroke-width="0.6"/>
<ellipse cx="976" cy="212.5" rx="37.3" ry="21.5" transform="rotate(-60 976 212.5)" fill="#d3d4d6" stroke="#2c2c2e" stroke-width="0.8"/>
<ellipse cx="978" cy="213.7" rx="36.5" ry="21.1" transform="rotate(-60 978 213.7)" fill="#d3d4d6" stroke="#2c2c2e" stroke-width="0.5"/>
<ellipse cx="984.2" cy="217.1" rx="37.3" ry="21.5" transform="rotate(-60 984.2 217.1)" fill="#d3d4d6" stroke="#2c2c2e" stroke-width="0.8"/>
<ellipse cx="986.4" cy="218.4" rx="37.3" ry="21.5" transform="rotate(-60 986.4 218.4)" fill="#d3d4d6" stroke="#2c2c2e" stroke-width="0.8"/>
<ellipse cx="986.4" cy="218.4" rx="35" ry="20.2" transform="rotate(-60 986.4 218.4)" fill="#d3d4d6" stroke="#2c2c2e" stroke-width="0.6"/>
<ellipse cx="985.9" cy="218.1" rx="30.5" ry="17.6" transform="rotate(-60 985.9 218.1)" fill="#d3d4d6" stroke="#2c2c2e" stroke-width="0.6"/>
<path d="M955 215.9 L959.5 217" fill="none" stroke="#2c2c2e" stroke-width="0.6"/>
<path d="M955.8 213.6 L957.6 215.3" fill="none" stroke="#2c2c2e" stroke-width="0.5"/>
<path d="M957.5 209.3 L962.2 210.3" fill="none" stroke="#2c2c2e" stroke-width="0.6"/>
<path d="M958.6 207 L960.4 208.7" fill="none" stroke="#2c2c2e" stroke-width="0.5"/>
<path d="M960.8 202.9 L965.7 203.9" fill="none" stroke="#2c2c2e" stroke-width="0.6"/>
<path d="M962.2 200.7 L963.9 202.3" fill="none" stroke="#2c2c2e" stroke-width="0.5"/>
<path d="M964.9 196.9 L969.9 197.9" fill="none" stroke="#2c2c2e" stroke-width="0.6"/>
<path d="M966.4 195 L968.2 196.4" fill="none" stroke="#2c2c2e" stroke-width="0.5"/>
<path d="M969.5 191.6 L974.7 192.7" fill="none" stroke="#2c2c2e" stroke-width="0.6"/>
<path d="M971.2 189.9 L972.9 191.3" fill="none" stroke="#2c2c2e" stroke-width="0.5"/>
<path d="M974.4 187.2 L979.8 188.4" fill="none" stroke="#2c2c2e" stroke-width="0.6"/>
<path d="M976.2 185.9 L978 187.2" fill="none" stroke="#2c2c2e" stroke-width="0.5"/>
<path d="M979.5 183.9 L985 185.3" fill="none" stroke="#2c2c2e" stroke-width="0.6"/>
<path d="M981.3 183 L983.1 184.1" fill="none" stroke="#2c2c2e" stroke-width="0.5"/>
<path d="M984.6 181.7 L990.1 183.4" fill="none" stroke="#2c2c2e" stroke-width="0.6"/>
<path d="M986.3 181.3 L988.2 182.3" fill="none" stroke="#2c2c2e" stroke-width="0.5"/>
<ellipse cx="736.8" cy="339.7" rx="37.8" ry="30.7" transform="rotate(-75.5 736.8 339.7)" fill="#d3d4d6" stroke="#2c2c2e" stroke-width="0.8"/>
<ellipse cx="741" cy="340.6" rx="34.7" ry="28.2" transform="rotate(-75.5 741 340.6)" fill="#d3d4d6" stroke="#2c2c2e" stroke-width="0.8"/>
<ellipse cx="743.2" cy="341" rx="33" ry="26.9" transform="rotate(-75.5 743.2 341)" fill="#d3d4d6" stroke="#2c2c2e" stroke-width="0.8"/>
<ellipse cx="745.9" cy="341.6" rx="31" ry="25.2" transform="rotate(-75.5 745.9 341.6)" fill="#d3d4d6" stroke="#2c2c2e" stroke-width="0.8"/>
<ellipse cx="747.5" cy="342.1" rx="28.6" ry="23" transform="rotate(-75.5 747.5 342.1)" fill="#d3d4d6" stroke="#2c2c2e" stroke-width="0.5"/>
<ellipse cx="749.1" cy="342.8" rx="24.5" ry="19.4" transform="rotate(-75.5 749.1 342.8)" fill="#d3d4d6" stroke="#2c2c2e" stroke-width="0.5"/>
<ellipse cx="954" cy="267.6" rx="7.6" ry="5.2" transform="rotate(-30 954 267.6)" fill="#d3d4d6" stroke="#2c2c2e" stroke-width="0.8"/>
<ellipse cx="952.6" cy="267.2" rx="5.4" ry="3.4" transform="rotate(-30 952.6 267.2)" fill="#d3d4d6" stroke="#2c2c2e" stroke-width="0.5"/>
<ellipse cx="951.8" cy="266.6" rx="2.6" ry="1.6" transform="rotate(-30 951.8 266.6)" fill="#d3d4d6" stroke="#2c2c2e" stroke-width="0.5"/>
<ellipse cx="937" cy="277.4" rx="7.6" ry="5.2" transform="rotate(-30 937 277.4)" fill="#d3d4d6" stroke="#2c2c2e" stroke-width="0.8"/>
<ellipse cx="935.6" cy="277" rx="5.4" ry="3.4" transform="rotate(-30 935.6 277)" fill="#d3d4d6" stroke="#2c2c2e" stroke-width="0.5"/>
<ellipse cx="934.8" cy="276.4" rx="2.6" ry="1.6" transform="rotate(-30 934.8 276.4)" fill="#d3d4d6" stroke="#2c2c2e" stroke-width="0.5"/>
<ellipse cx="919.9" cy="287.2" rx="7.6" ry="5.2" transform="rotate(-30 919.9 287.2)" fill="#d3d4d6" stroke="#2c2c2e" stroke-width="0.8"/>
<ellipse cx="918.5" cy="286.8" rx="5.4" ry="3.4" transform="rotate(-30 918.5 286.8)" fill="#d3d4d6" stroke="#2c2c2e" stroke-width="0.5"/>
<ellipse cx="917.7" cy="286.2" rx="2.6" ry="1.6" transform="rotate(-30 917.7 286.2)" fill="#d3d4d6" stroke="#2c2c2e" stroke-width="0.5"/>
<ellipse cx="902.9" cy="296.9" rx="7.6" ry="5.2" transform="rotate(-30 902.9 296.9)" fill="#d3d4d6" stroke="#2c2c2e" stroke-width="0.8"/>
<ellipse cx="901.5" cy="296.5" rx="5.4" ry="3.4" transform="rotate(-30 901.5 296.5)" fill="#d3d4d6" stroke="#2c2c2e" stroke-width="0.5"/>
<ellipse cx="900.6" cy="295.9" rx="2.6" ry="1.6" transform="rotate(-30 900.6 295.9)" fill="#d3d4d6" stroke="#2c2c2e" stroke-width="0.5"/>
<ellipse cx="885.8" cy="306.7" rx="7.6" ry="5.2" transform="rotate(-30 885.8 306.7)" fill="#d3d4d6" stroke="#2c2c2e" stroke-width="0.8"/>
<ellipse cx="884.4" cy="306.3" rx="5.4" ry="3.4" transform="rotate(-30 884.4 306.3)" fill="#d3d4d6" stroke="#2c2c2e" stroke-width="0.5"/>
<ellipse cx="883.6" cy="305.7" rx="2.6" ry="1.6" transform="rotate(-30 883.6 305.7)" fill="#d3d4d6" stroke="#2c2c2e" stroke-width="0.5"/>
<ellipse cx="868.8" cy="316.5" rx="7.6" ry="5.2" transform="rotate(-30 868.8 316.5)" fill="#d3d4d6" stroke="#2c2c2e" stroke-width="0.8"/>
<ellipse cx="867.4" cy="316.1" rx="5.4" ry="3.4" transform="rotate(-30 867.4 316.1)" fill="#d3d4d6" stroke="#2c2c2e" stroke-width="0.5"/>
<ellipse cx="866.5" cy="315.5" rx="2.6" ry="1.6" transform="rotate(-30 866.5 315.5)" fill="#d3d4d6" stroke="#2c2c2e" stroke-width="0.5"/>
<ellipse cx="851.7" cy="326.3" rx="7.6" ry="5.2" transform="rotate(-30 851.7 326.3)" fill="#d3d4d6" stroke="#2c2c2e" stroke-width="0.8"/>
<ellipse cx="850.3" cy="325.9" rx="5.4" ry="3.4" transform="rotate(-30 850.3 325.9)" fill="#d3d4d6" stroke="#2c2c2e" stroke-width="0.5"/>
<ellipse cx="849.5" cy="325.3" rx="2.6" ry="1.6" transform="rotate(-30 849.5 325.3)" fill="#d3d4d6" stroke="#2c2c2e" stroke-width="0.5"/>
<ellipse cx="834.6" cy="336.1" rx="7.6" ry="5.2" transform="rotate(-30 834.6 336.1)" fill="#d3d4d6" stroke="#2c2c2e" stroke-width="0.8"/>
<ellipse cx="833.2" cy="335.7" rx="5.4" ry="3.4" transform="rotate(-30 833.2 335.7)" fill="#d3d4d6" stroke="#2c2c2e" stroke-width="0.5"/>
<ellipse cx="832.4" cy="335.1" rx="2.6" ry="1.6" transform="rotate(-30 832.4 335.1)" fill="#d3d4d6" stroke="#2c2c2e" stroke-width="0.5"/>
<ellipse cx="817.6" cy="345.8" rx="7.6" ry="5.2" transform="rotate(-30 817.6 345.8)" fill="#d3d4d6" stroke="#2c2c2e" stroke-width="0.8"/>
<ellipse cx="816.2" cy="345.4" rx="5.4" ry="3.4" transform="rotate(-30 816.2 345.4)" fill="#d3d4d6" stroke="#2c2c2e" stroke-width="0.5"/>
<ellipse cx="815.4" cy="344.8" rx="2.6" ry="1.6" transform="rotate(-30 815.4 344.8)" fill="#d3d4d6" stroke="#2c2c2e" stroke-width="0.5"/>
<ellipse cx="800.5" cy="355.6" rx="7.6" ry="5.2" transform="rotate(-30 800.5 355.6)" fill="#d3d4d6" stroke="#2c2c2e" stroke-width="0.8"/>
<ellipse cx="799.1" cy="355.2" rx="5.4" ry="3.4" transform="rotate(-30 799.1 355.2)" fill="#d3d4d6" stroke="#2c2c2e" stroke-width="0.5"/>
<ellipse cx="798.3" cy="354.6" rx="2.6" ry="1.6" transform="rotate(-30 798.3 354.6)" fill="#d3d4d6" stroke="#2c2c2e" stroke-width="0.5"/>
<ellipse cx="783.5" cy="365.4" rx="7.6" ry="5.2" transform="rotate(-30 783.5 365.4)" fill="#d3d4d6" stroke="#2c2c2e" stroke-width="0.8"/>
<ellipse cx="782.1" cy="365" rx="5.4" ry="3.4" transform="rotate(-30 782.1 365)" fill="#d3d4d6" stroke="#2c2c2e" stroke-width="0.5"/>
<ellipse cx="781.3" cy="364.4" rx="2.6" ry="1.6" transform="rotate(-30 781.3 364.4)" fill="#d3d4d6" stroke="#2c2c2e" stroke-width="0.5"/>
<ellipse cx="766.5" cy="375.2" rx="7.6" ry="5.2" transform="rotate(-30 766.5 375.2)" fill="#d3d4d6" stroke="#2c2c2e" stroke-width="0.8"/>
<ellipse cx="765.1" cy="374.8" rx="5.4" ry="3.4" transform="rotate(-30 765.1 374.8)" fill="#d3d4d6" stroke="#2c2c2e" stroke-width="0.5"/>
<ellipse cx="764.2" cy="374.2" rx="2.6" ry="1.6" transform="rotate(-30 764.2 374.2)" fill="#d3d4d6" stroke="#2c2c2e" stroke-width="0.5"/>
<ellipse cx="750.5" cy="374.5" rx="4.5" ry="4.5" fill="#d3d4d6" stroke="#2c2c2e" stroke-width="0.8"/>
<ellipse cx="750.5" cy="374.5" rx="2.5" ry="2.5" fill="#d3d4d6" stroke="#2c2c2e" stroke-width="0.6"/>
<ellipse cx="757" cy="377.5" rx="2.5" ry="3" fill="#d3d4d6" stroke="#2c2c2e" stroke-width="0.6"/><path d="M765.5 313.5 L775 308.5 L832.6 273.9 L849 264.9 L906 238.1 L954 216.8 L959.4 211.6 L973.5 205.5 L999.3 206.1  C999.8 206.7 1001.9 207.7 1002.6 209.7 C1003.3 211.7 1003.9 214.5 1003.6 218 C1003.3 221.5 1002.4 226.6 1000.8 230.5 C999.2 234.4 996.9 237.8 993.8 241.2 C990.7 244.5 984.9 248.8 982 250.6 C979.1 252.4 978.3 251.4 976.4 252.2 C974.5 253 971.5 254.9 970.5 255.5 L970.5 237.2 L763.2 355.8 L763.2 377  C762 376 758.5 372.8 756 371 C753.5 369.2 750.6 367.8 748 366.2 C745.4 364.6 742.5 364.1 740.6 361.6 C738.7 359.2 737 355 736.6 351.5 C736.2 348 736.8 344.2 738.5 340.5 C740.2 336.8 743.8 332.8 746.7 329.5 C749.6 326.2 754.5 322 756 320.5 Z" fill="#d3d4d6" stroke="#2c2c2e" stroke-width="0.8"/>
<path d="M775 308.5 L776.2 311.7" fill="none" stroke="#2c2c2e" stroke-width="0.6"/>
<ellipse cx="776.4" cy="312.3" rx="0.8" ry="0.8" fill="#d3d4d6" stroke="#2c2c2e" stroke-width="0.5"/>
<path d="M777.3 307.1 L777.9 308.7" fill="none" stroke="#2c2c2e" stroke-width="0.5"/>
<path d="M779.6 305.7 L780.2 307.3" fill="none" stroke="#2c2c2e" stroke-width="0.5"/>
<path d="M781.9 304.3 L783.1 307.5" fill="none" stroke="#2c2c2e" stroke-width="0.6"/>
<ellipse cx="783.3" cy="308.1" rx="0.8" ry="0.8" fill="#d3d4d6" stroke="#2c2c2e" stroke-width="0.5"/>
<path d="M784.2 303 L784.8 304.6" fill="none" stroke="#2c2c2e" stroke-width="0.5"/>
<path d="M786.5 301.6 L787.1 303.2" fill="none" stroke="#2c2c2e" stroke-width="0.5"/>
<path d="M788.8 300.2 L790 303.4" fill="none" stroke="#2c2c2e" stroke-width="0.6"/>
<ellipse cx="790.2" cy="304" rx="0.8" ry="0.8" fill="#d3d4d6" stroke="#2c2c2e" stroke-width="0.5"/>
<path d="M791.1 298.8 L791.7 300.4" fill="none" stroke="#2c2c2e" stroke-width="0.5"/>
<path d="M793.4 297.4 L794 299" fill="none" stroke="#2c2c2e" stroke-width="0.5"/>
<path d="M795.7 296 L796.9 299.2" fill="none" stroke="#2c2c2e" stroke-width="0.6"/>
<ellipse cx="797.1" cy="299.8" rx="0.8" ry="0.8" fill="#d3d4d6" stroke="#2c2c2e" stroke-width="0.5"/>
<path d="M798 294.7 L798.6 296.3" fill="none" stroke="#2c2c2e" stroke-width="0.5"/>
<path d="M800.3 293.3 L800.9 294.9" fill="none" stroke="#2c2c2e" stroke-width="0.5"/>
<path d="M802.6 291.9 L803.8 295.1" fill="none" stroke="#2c2c2e" stroke-width="0.6"/>
<ellipse cx="804" cy="295.7" rx="0.8" ry="0.8" fill="#d3d4d6" stroke="#2c2c2e" stroke-width="0.5"/>
<path d="M805 290.5 L805.6 292.1" fill="none" stroke="#2c2c2e" stroke-width="0.5"/>
<path d="M807.3 289.1 L807.9 290.7" fill="none" stroke="#2c2c2e" stroke-width="0.5"/>
<path d="M809.6 287.7 L810.8 290.9" fill="none" stroke="#2c2c2e" stroke-width="0.6"/>
<ellipse cx="811" cy="291.5" rx="0.8" ry="0.8" fill="#d3d4d6" stroke="#2c2c2e" stroke-width="0.5"/>
<path d="M811.9 286.4 L812.5 288" fill="none" stroke="#2c2c2e" stroke-width="0.5"/>
<path d="M814.2 285 L814.8 286.6" fill="none" stroke="#2c2c2e" stroke-width="0.5"/>
<path d="M816.5 283.6 L817.7 286.8" fill="none" stroke="#2c2c2e" stroke-width="0.6"/>
<ellipse cx="817.9" cy="287.4" rx="0.8" ry="0.8" fill="#d3d4d6" stroke="#2c2c2e" stroke-width="0.5"/>
<path d="M818.8 282.2 L819.4 283.8" fill="none" stroke="#2c2c2e" stroke-width="0.5"/>
<path d="M821.1 280.8 L821.7 282.4" fill="none" stroke="#2c2c2e" stroke-width="0.5"/>
<path d="M823.4 279.4 L824.6 282.6" fill="none" stroke="#2c2c2e" stroke-width="0.6"/>
<ellipse cx="824.8" cy="283.2" rx="0.8" ry="0.8" fill="#d3d4d6" stroke="#2c2c2e" stroke-width="0.5"/>
<path d="M825.7 278.1 L826.3 279.7" fill="none" stroke="#2c2c2e" stroke-width="0.5"/>
<path d="M828 276.7 L828.6 278.3" fill="none" stroke="#2c2c2e" stroke-width="0.5"/>
<path d="M830.3 275.3 L831.5 278.5" fill="none" stroke="#2c2c2e" stroke-width="0.6"/>
<ellipse cx="831.7" cy="279.1" rx="0.8" ry="0.8" fill="#d3d4d6" stroke="#2c2c2e" stroke-width="0.5"/>
<path d="M832.6 273.9 L833.2 275.5" fill="none" stroke="#2c2c2e" stroke-width="0.5"/>
<path d="M849 264.9 L850.2 268.1" fill="none" stroke="#2c2c2e" stroke-width="0.6"/>
<ellipse cx="850.4" cy="268.7" rx="0.8" ry="0.8" fill="#d3d4d6" stroke="#2c2c2e" stroke-width="0.5"/>
<path d="M851.4 263.8 L852 265.4" fill="none" stroke="#2c2c2e" stroke-width="0.5"/>
<path d="M853.8 262.7 L854.4 264.3" fill="none" stroke="#2c2c2e" stroke-width="0.5"/>
<path d="M856.1 261.5 L857.3 264.7" fill="none" stroke="#2c2c2e" stroke-width="0.6"/>
<ellipse cx="857.5" cy="265.3" rx="0.8" ry="0.8" fill="#d3d4d6" stroke="#2c2c2e" stroke-width="0.5"/>
<path d="M858.5 260.4 L859.1 262" fill="none" stroke="#2c2c2e" stroke-width="0.5"/>
<path d="M860.9 259.3 L861.5 260.9" fill="none" stroke="#2c2c2e" stroke-width="0.5"/>
<path d="M863.2 258.2 L864.5 261.4" fill="none" stroke="#2c2c2e" stroke-width="0.6"/>
<ellipse cx="864.6" cy="262" rx="0.8" ry="0.8" fill="#d3d4d6" stroke="#2c2c2e" stroke-width="0.5"/>
<path d="M865.6 257.1 L866.2 258.7" fill="none" stroke="#2c2c2e" stroke-width="0.5"/>
<path d="M868 256 L868.6 257.6" fill="none" stroke="#2c2c2e" stroke-width="0.5"/>
<path d="M870.4 254.8 L871.6 258.1" fill="none" stroke="#2c2c2e" stroke-width="0.6"/>
<ellipse cx="871.8" cy="258.6" rx="0.8" ry="0.8" fill="#d3d4d6" stroke="#2c2c2e" stroke-width="0.5"/>
<path d="M872.8 253.7 L873.4 255.3" fill="none" stroke="#2c2c2e" stroke-width="0.5"/>
<path d="M875.1 252.6 L875.7 254.2" fill="none" stroke="#2c2c2e" stroke-width="0.5"/>
<path d="M877.5 251.5 L878.7 254.7" fill="none" stroke="#2c2c2e" stroke-width="0.6"/>
<ellipse cx="878.9" cy="255.3" rx="0.8" ry="0.8" fill="#d3d4d6" stroke="#2c2c2e" stroke-width="0.5"/>
<path d="M879.9 250.4 L880.5 252" fill="none" stroke="#2c2c2e" stroke-width="0.5"/>
<path d="M882.2 249.3 L882.9 250.9" fill="none" stroke="#2c2c2e" stroke-width="0.5"/>
<path d="M884.6 248.1 L885.8 251.3" fill="none" stroke="#2c2c2e" stroke-width="0.6"/>
<ellipse cx="886" cy="251.9" rx="0.8" ry="0.8" fill="#d3d4d6" stroke="#2c2c2e" stroke-width="0.5"/>
<path d="M887 247 L887.6 248.6" fill="none" stroke="#2c2c2e" stroke-width="0.5"/>
<path d="M889.4 245.9 L890 247.5" fill="none" stroke="#2c2c2e" stroke-width="0.5"/>
<path d="M891.8 244.8 L893 248" fill="none" stroke="#2c2c2e" stroke-width="0.6"/>
<ellipse cx="893.1" cy="248.6" rx="0.8" ry="0.8" fill="#d3d4d6" stroke="#2c2c2e" stroke-width="0.5"/>
<path d="M894.1 243.7 L894.7 245.3" fill="none" stroke="#2c2c2e" stroke-width="0.5"/>
<path d="M896.5 242.6 L897.1 244.2" fill="none" stroke="#2c2c2e" stroke-width="0.5"/>
<path d="M898.9 241.4 L900.1 244.6" fill="none" stroke="#2c2c2e" stroke-width="0.6"/>
<ellipse cx="900.3" cy="245.2" rx="0.8" ry="0.8" fill="#d3d4d6" stroke="#2c2c2e" stroke-width="0.5"/>
<path d="M901.2 240.3 L901.9 241.9" fill="none" stroke="#2c2c2e" stroke-width="0.5"/>
<path d="M903.6 239.2 L904.2 240.8" fill="none" stroke="#2c2c2e" stroke-width="0.5"/>
<path d="M906 238.1 L907.2 241.3" fill="none" stroke="#2c2c2e" stroke-width="0.6"/>
<ellipse cx="907.4" cy="241.9" rx="0.8" ry="0.8" fill="#d3d4d6" stroke="#2c2c2e" stroke-width="0.5"/>
<path d="M906 238.1 L907.2 241.3" fill="none" stroke="#2c2c2e" stroke-width="0.6"/>
<ellipse cx="907.4" cy="241.9" rx="0.8" ry="0.8" fill="#d3d4d6" stroke="#2c2c2e" stroke-width="0.5"/>
<path d="M908.4 237 L909 238.6" fill="none" stroke="#2c2c2e" stroke-width="0.5"/>
<path d="M910.8 236 L911.4 237.6" fill="none" stroke="#2c2c2e" stroke-width="0.5"/>
<path d="M913.2 234.9 L914.4 238.1" fill="none" stroke="#2c2c2e" stroke-width="0.6"/>
<ellipse cx="914.6" cy="238.7" rx="0.8" ry="0.8" fill="#d3d4d6" stroke="#2c2c2e" stroke-width="0.5"/>
<path d="M915.6 233.8 L916.2 235.4" fill="none" stroke="#2c2c2e" stroke-width="0.5"/>
<path d="M918 232.8 L918.6 234.4" fill="none" stroke="#2c2c2e" stroke-width="0.5"/>
<path d="M920.4 231.7 L921.6 234.9" fill="none" stroke="#2c2c2e" stroke-width="0.6"/>
<ellipse cx="921.8" cy="235.5" rx="0.8" ry="0.8" fill="#d3d4d6" stroke="#2c2c2e" stroke-width="0.5"/>
<path d="M922.8 230.6 L923.4 232.2" fill="none" stroke="#2c2c2e" stroke-width="0.5"/>
<path d="M925.2 229.6 L925.8 231.2" fill="none" stroke="#2c2c2e" stroke-width="0.5"/>
<path d="M927.6 228.5 L928.8 231.7" fill="none" stroke="#2c2c2e" stroke-width="0.6"/>
<ellipse cx="929" cy="232.3" rx="0.8" ry="0.8" fill="#d3d4d6" stroke="#2c2c2e" stroke-width="0.5"/>
<path d="M930 227.4 L930.6 229" fill="none" stroke="#2c2c2e" stroke-width="0.5"/>
<path d="M932.4 226.4 L933 228" fill="none" stroke="#2c2c2e" stroke-width="0.5"/>
<path d="M934.8 225.3 L936 228.5" fill="none" stroke="#2c2c2e" stroke-width="0.6"/>
<ellipse cx="936.2" cy="229.1" rx="0.8" ry="0.8" fill="#d3d4d6" stroke="#2c2c2e" stroke-width="0.5"/>
<path d="M937.2 224.3 L937.8 225.9" fill="none" stroke="#2c2c2e" stroke-width="0.5"/>
<path d="M939.6 223.2 L940.2 224.8" fill="none" stroke="#2c2c2e" stroke-width="0.5"/>
<path d="M942 222.1 L943.2 225.3" fill="none" stroke="#2c2c2e" stroke-width="0.6"/>
<ellipse cx="943.4" cy="225.9" rx="0.8" ry="0.8" fill="#d3d4d6" stroke="#2c2c2e" stroke-width="0.5"/>
<path d="M944.4 221.1 L945 222.7" fill="none" stroke="#2c2c2e" stroke-width="0.5"/>
<path d="M946.8 220 L947.4 221.6" fill="none" stroke="#2c2c2e" stroke-width="0.5"/>
<path d="M949.2 218.9 L950.4 222.1" fill="none" stroke="#2c2c2e" stroke-width="0.6"/>
<ellipse cx="950.6" cy="222.7" rx="0.8" ry="0.8" fill="#d3d4d6" stroke="#2c2c2e" stroke-width="0.5"/>
<path d="M951.6 217.9 L952.2 219.5" fill="none" stroke="#2c2c2e" stroke-width="0.5"/>
<path d="M954 216.8 L954.6 218.4" fill="none" stroke="#2c2c2e" stroke-width="0.5"/>
<ellipse cx="990.6" cy="220.6" rx="3.9" ry="3" transform="rotate(-60 990.6 220.6)" fill="#d3d4d6" stroke="#2c2c2e" stroke-width="0.8"/>
<ellipse cx="992.6" cy="221.8" rx="3.9" ry="3" transform="rotate(-60 992.6 221.8)" fill="#d3d4d6" stroke="#2c2c2e" stroke-width="0.8"/>
<ellipse cx="992.2" cy="221.5" rx="2.4" ry="1.8" transform="rotate(-60 992.2 221.5)" fill="#d3d4d6" stroke="#2c2c2e" stroke-width="0.5"/>
<ellipse cx="742.3" cy="349.5" rx="0.8" ry="0.8" fill="#d3d4d6" stroke="#2c2c2e" stroke-width="0.5"/>
<ellipse cx="743.2" cy="353" rx="0.8" ry="0.8" fill="#d3d4d6" stroke="#2c2c2e" stroke-width="0.5"/>
<ellipse cx="744.2" cy="356.4" rx="0.8" ry="0.8" fill="#d3d4d6" stroke="#2c2c2e" stroke-width="0.5"/>
<ellipse cx="745.4" cy="346" rx="0.8" ry="0.8" fill="#d3d4d6" stroke="#2c2c2e" stroke-width="0.5"/>
<ellipse cx="746.4" cy="349.6" rx="0.8" ry="0.8" fill="#d3d4d6" stroke="#2c2c2e" stroke-width="0.5"/>
<ellipse cx="747.4" cy="353.2" rx="0.8" ry="0.8" fill="#d3d4d6" stroke="#2c2c2e" stroke-width="0.5"/>
<ellipse cx="748.6" cy="343.2" rx="0.8" ry="0.8" fill="#d3d4d6" stroke="#2c2c2e" stroke-width="0.5"/>
<ellipse cx="749.6" cy="346.6" rx="0.8" ry="0.8" fill="#d3d4d6" stroke="#2c2c2e" stroke-width="0.5"/>
<ellipse cx="750.8" cy="350" rx="0.8" ry="0.8" fill="#d3d4d6" stroke="#2c2c2e" stroke-width="0.5"/>
<ellipse cx="752" cy="340.6" rx="0.8" ry="0.8" fill="#d3d4d6" stroke="#2c2c2e" stroke-width="0.5"/>
<ellipse cx="753" cy="344" rx="0.8" ry="0.8" fill="#d3d4d6" stroke="#2c2c2e" stroke-width="0.5"/>
<ellipse cx="754.2" cy="347.4" rx="0.8" ry="0.8" fill="#d3d4d6" stroke="#2c2c2e" stroke-width="0.5"/>
<ellipse cx="755.4" cy="338.4" rx="0.8" ry="0.8" fill="#d3d4d6" stroke="#2c2c2e" stroke-width="0.5"/>
<ellipse cx="756.6" cy="341.8" rx="0.8" ry="0.8" fill="#d3d4d6" stroke="#2c2c2e" stroke-width="0.5"/>
<ellipse cx="757.6" cy="345.2" rx="0.8" ry="0.8" fill="#d3d4d6" stroke="#2c2c2e" stroke-width="0.5"/>
<ellipse cx="751.6" cy="353.6" rx="0.8" ry="0.8" fill="#d3d4d6" stroke="#2c2c2e" stroke-width="0.5"/>
<ellipse cx="755" cy="350.8" rx="0.8" ry="0.8" fill="#d3d4d6" stroke="#2c2c2e" stroke-width="0.5"/>
<path d="M729.1 349.9 L733.8 347 L738 349 L738 356.5 L733.8 355.2 L729.1 357Z" fill="#d3d4d6" stroke="#2c2c2e" stroke-width="0.6"/>
<path d="M733.8 347 L733.8 355.2" fill="none" stroke="#2c2c2e" stroke-width="0.6"/>
<path d="M776.6 321.3 L785.5 315.3 L787.2 330.5 L776.1 335.6 L775 323.8 Q775 322 776.6 321.3Z" fill="#d3d4d6" stroke="#2c2c2e" stroke-width="0.7"/>
<ellipse cx="786.2" cy="322.3" rx="1.6" ry="0.8" transform="rotate(-25 786.2 322.3)" fill="#333" stroke="#2c2c2e" stroke-width="0.3"/>
<ellipse cx="787.3" cy="311.7" rx="0.8" ry="0.8" fill="#d3d4d6" stroke="#2c2c2e" stroke-width="0.5"/>
<ellipse cx="788.8" cy="331" rx="0.8" ry="0.8" fill="#d3d4d6" stroke="#2c2c2e" stroke-width="0.5"/>
<ellipse cx="774" cy="324.5" rx="0.8" ry="0.8" fill="#d3d4d6" stroke="#2c2c2e" stroke-width="0.5"/>
<ellipse cx="774.8" cy="333.2" rx="0.8" ry="0.8" fill="#d3d4d6" stroke="#2c2c2e" stroke-width="0.5"/>
<path d="M836.3 293.7 L854.5 284.1 L854.5 298.7 L836.3 308.3Z" fill="#d3d4d6" stroke="#2c2c2e" stroke-width="0.7"/>
<path d="M837.3 303.1 L852.3 294.6" fill="none" stroke="#2c2c2e" stroke-width="0.6"/>
<path d="M851.9 286.3 L851.9 295.2" fill="none" stroke="#2c2c2e" stroke-width="0.6"/>
<path d="M847.3 288.1 L851.9 294.3" fill="none" stroke="#2c2c2e" stroke-width="0.5"/>
<ellipse cx="834.3" cy="286.1" rx="0.8" ry="0.8" fill="#d3d4d6" stroke="#2c2c2e" stroke-width="0.5"/>
<ellipse cx="856.7" cy="281.7" rx="0.8" ry="0.8" fill="#d3d4d6" stroke="#2c2c2e" stroke-width="0.5"/>
<ellipse cx="834.3" cy="295.3" rx="0.8" ry="0.8" fill="#d3d4d6" stroke="#2c2c2e" stroke-width="0.5"/>
<ellipse cx="834.3" cy="304.3" rx="0.8" ry="0.8" fill="#d3d4d6" stroke="#2c2c2e" stroke-width="0.5"/>
<ellipse cx="856.7" cy="291.1" rx="0.8" ry="0.8" fill="#d3d4d6" stroke="#2c2c2e" stroke-width="0.5"/>
<ellipse cx="841.8" cy="307.3" rx="0.8" ry="0.8" fill="#d3d4d6" stroke="#2c2c2e" stroke-width="0.5"/>
<ellipse cx="849.3" cy="303.3" rx="0.8" ry="0.8" fill="#d3d4d6" stroke="#2c2c2e" stroke-width="0.5"/>
<ellipse cx="856.7" cy="299.2" rx="0.8" ry="0.8" fill="#d3d4d6" stroke="#2c2c2e" stroke-width="0.5"/>
<path d="M908.3 251.2 L926.5 241.6 L926.5 256.2 L908.3 265.8Z" fill="#d3d4d6" stroke="#2c2c2e" stroke-width="0.7"/>
<path d="M909.3 260.6 L924.3 252.1" fill="none" stroke="#2c2c2e" stroke-width="0.6"/>
<path d="M923.9 243.8 L923.9 252.7" fill="none" stroke="#2c2c2e" stroke-width="0.6"/>
<path d="M919.3 245.6 L923.9 251.8" fill="none" stroke="#2c2c2e" stroke-width="0.5"/>
<ellipse cx="906.3" cy="243.6" rx="0.8" ry="0.8" fill="#d3d4d6" stroke="#2c2c2e" stroke-width="0.5"/>
<ellipse cx="928.7" cy="239.2" rx="0.8" ry="0.8" fill="#d3d4d6" stroke="#2c2c2e" stroke-width="0.5"/>
<ellipse cx="906.3" cy="252.8" rx="0.8" ry="0.8" fill="#d3d4d6" stroke="#2c2c2e" stroke-width="0.5"/>
<ellipse cx="906.3" cy="261.8" rx="0.8" ry="0.8" fill="#d3d4d6" stroke="#2c2c2e" stroke-width="0.5"/>
<ellipse cx="928.7" cy="248.6" rx="0.8" ry="0.8" fill="#d3d4d6" stroke="#2c2c2e" stroke-width="0.5"/>
<ellipse cx="913.8" cy="264.8" rx="0.8" ry="0.8" fill="#d3d4d6" stroke="#2c2c2e" stroke-width="0.5"/>
<ellipse cx="921.3" cy="260.8" rx="0.8" ry="0.8" fill="#d3d4d6" stroke="#2c2c2e" stroke-width="0.5"/>
<ellipse cx="928.7" cy="256.7" rx="0.8" ry="0.8" fill="#d3d4d6" stroke="#2c2c2e" stroke-width="0.5"/>
<path d="M957.2 223 L965.2 219.3 L965.2 234 L957.2 237.8Z" fill="#d3d4d6" stroke="#2c2c2e" stroke-width="0.6"/>
<path d="M959.5 222.2 L962.5 233.8 L964.5 220.5" fill="none" stroke="#2c2c2e" stroke-width="0.6"/>
<path d="M961.2 221.2 L961.2 235.8" fill="none" stroke="#2c2c2e" stroke-width="0.5"/>
<ellipse cx="967.2" cy="217.4" rx="0.9" ry="0.9" fill="#d3d4d6" stroke="#2c2c2e" stroke-width="0.5"/>
<ellipse cx="856" cy="273.5" rx="0.8" ry="0.8" fill="#d3d4d6" stroke="#2c2c2e" stroke-width="0.5"/>
<ellipse cx="882.6" cy="266.5" rx="0.8" ry="0.8" fill="#d3d4d6" stroke="#2c2c2e" stroke-width="0.5"/>
<ellipse cx="856.1" cy="281.9" rx="0.8" ry="0.8" fill="#d3d4d6" stroke="#2c2c2e" stroke-width="0.5"/>
<ellipse cx="833.9" cy="285.6" rx="0.8" ry="0.8" fill="#d3d4d6" stroke="#2c2c2e" stroke-width="0.5"/>
<ellipse cx="944.6" cy="228.4" rx="0.8" ry="0.8" fill="#d3d4d6" stroke="#2c2c2e" stroke-width="0.5"/>
<ellipse cx="948.4" cy="226.2" rx="0.8" ry="0.8" fill="#d3d4d6" stroke="#2c2c2e" stroke-width="0.5"/>
<ellipse cx="955.5" cy="230.6" rx="0.8" ry="0.8" fill="#d3d4d6" stroke="#2c2c2e" stroke-width="0.5"/>
<ellipse cx="955.5" cy="239.4" rx="0.8" ry="0.8" fill="#d3d4d6" stroke="#2c2c2e" stroke-width="0.5"/>
<ellipse cx="944.2" cy="237" rx="0.8" ry="0.8" fill="#d3d4d6" stroke="#2c2c2e" stroke-width="0.5"/>
<ellipse cx="948" cy="241.6" rx="0.8" ry="0.8" fill="#d3d4d6" stroke="#2c2c2e" stroke-width="0.5"/>
<ellipse cx="944.2" cy="245.6" rx="0.8" ry="0.8" fill="#d3d4d6" stroke="#2c2c2e" stroke-width="0.5"/>
<ellipse cx="937" cy="230" rx="0.8" ry="0.8" fill="#d3d4d6" stroke="#2c2c2e" stroke-width="0.5"/>
<ellipse cx="964.2" cy="241.6" rx="0.8" ry="0.8" fill="#d3d4d6" stroke="#2c2c2e" stroke-width="0.5"/>
<ellipse cx="839" cy="273.2" rx="0.8" ry="0.8" fill="#d3d4d6" stroke="#2c2c2e" stroke-width="0.5"/>
<ellipse cx="844.5" cy="272.5" rx="0.8" ry="0.8" fill="#d3d4d6" stroke="#2c2c2e" stroke-width="0.5"/>
<ellipse cx="847.5" cy="269" rx="0.8" ry="0.8" fill="#d3d4d6" stroke="#2c2c2e" stroke-width="0.5"/>
<ellipse cx="834" cy="276" rx="0.8" ry="0.8" fill="#d3d4d6" stroke="#2c2c2e" stroke-width="0.5"/>
<ellipse cx="912.8" cy="237.2" rx="0.8" ry="0.8" fill="#d3d4d6" stroke="#2c2c2e" stroke-width="0.5"/>
<ellipse cx="918.3" cy="236.5" rx="0.8" ry="0.8" fill="#d3d4d6" stroke="#2c2c2e" stroke-width="0.5"/>
<ellipse cx="921.3" cy="233" rx="0.8" ry="0.8" fill="#d3d4d6" stroke="#2c2c2e" stroke-width="0.5"/>
<ellipse cx="907.8" cy="240" rx="0.8" ry="0.8" fill="#d3d4d6" stroke="#2c2c2e" stroke-width="0.5"/>
<path d="M763.2 355.8 L970.5 237.2 L970.5 257.2 L764.6 378.6 L763.2 377Z" fill="#d3d4d6" stroke="#2c2c2e" stroke-width="0.8"/>
<path d="M763.2 355.8 L970.5 237.2" fill="none" stroke="#2a2a2c" stroke-width="1.1"/>
<ellipse cx="770" cy="349.3" rx="0.8" ry="0.8" fill="#d3d4d6" stroke="#2c2c2e" stroke-width="0.5"/>
<ellipse cx="777.4" cy="345" rx="0.8" ry="0.8" fill="#d3d4d6" stroke="#2c2c2e" stroke-width="0.5"/>
<ellipse cx="784.8" cy="340.8" rx="0.8" ry="0.8" fill="#d3d4d6" stroke="#2c2c2e" stroke-width="0.5"/>
<ellipse cx="792.2" cy="336.6" rx="0.8" ry="0.8" fill="#d3d4d6" stroke="#2c2c2e" stroke-width="0.5"/>
<ellipse cx="799.6" cy="332.3" rx="0.8" ry="0.8" fill="#d3d4d6" stroke="#2c2c2e" stroke-width="0.5"/>
<ellipse cx="807" cy="328.1" rx="0.8" ry="0.8" fill="#d3d4d6" stroke="#2c2c2e" stroke-width="0.5"/>
<ellipse cx="814.4" cy="323.8" rx="0.8" ry="0.8" fill="#d3d4d6" stroke="#2c2c2e" stroke-width="0.5"/>
<ellipse cx="821.8" cy="319.6" rx="0.8" ry="0.8" fill="#d3d4d6" stroke="#2c2c2e" stroke-width="0.5"/>
<ellipse cx="829.2" cy="315.4" rx="0.8" ry="0.8" fill="#d3d4d6" stroke="#2c2c2e" stroke-width="0.5"/>
<ellipse cx="836.6" cy="311.1" rx="0.8" ry="0.8" fill="#d3d4d6" stroke="#2c2c2e" stroke-width="0.5"/>
<ellipse cx="844" cy="306.9" rx="0.8" ry="0.8" fill="#d3d4d6" stroke="#2c2c2e" stroke-width="0.5"/>
<ellipse cx="851.4" cy="302.7" rx="0.8" ry="0.8" fill="#d3d4d6" stroke="#2c2c2e" stroke-width="0.5"/>
<ellipse cx="858.8" cy="298.4" rx="0.8" ry="0.8" fill="#d3d4d6" stroke="#2c2c2e" stroke-width="0.5"/>
<ellipse cx="866.2" cy="294.2" rx="0.8" ry="0.8" fill="#d3d4d6" stroke="#2c2c2e" stroke-width="0.5"/>
<ellipse cx="873.7" cy="290" rx="0.8" ry="0.8" fill="#d3d4d6" stroke="#2c2c2e" stroke-width="0.5"/>
<ellipse cx="881.1" cy="285.7" rx="0.8" ry="0.8" fill="#d3d4d6" stroke="#2c2c2e" stroke-width="0.5"/>
<ellipse cx="888.5" cy="281.5" rx="0.8" ry="0.8" fill="#d3d4d6" stroke="#2c2c2e" stroke-width="0.5"/>
<ellipse cx="895.9" cy="277.3" rx="0.8" ry="0.8" fill="#d3d4d6" stroke="#2c2c2e" stroke-width="0.5"/>
<ellipse cx="903.3" cy="273" rx="0.8" ry="0.8" fill="#d3d4d6" stroke="#2c2c2e" stroke-width="0.5"/>
<ellipse cx="910.7" cy="268.8" rx="0.8" ry="0.8" fill="#d3d4d6" stroke="#2c2c2e" stroke-width="0.5"/>
<ellipse cx="918.1" cy="264.6" rx="0.8" ry="0.8" fill="#d3d4d6" stroke="#2c2c2e" stroke-width="0.5"/>
<ellipse cx="925.5" cy="260.3" rx="0.8" ry="0.8" fill="#d3d4d6" stroke="#2c2c2e" stroke-width="0.5"/>
<ellipse cx="932.9" cy="256.1" rx="0.8" ry="0.8" fill="#d3d4d6" stroke="#2c2c2e" stroke-width="0.5"/>
<ellipse cx="940.3" cy="251.8" rx="0.8" ry="0.8" fill="#d3d4d6" stroke="#2c2c2e" stroke-width="0.5"/>
<ellipse cx="947.7" cy="247.6" rx="0.8" ry="0.8" fill="#d3d4d6" stroke="#2c2c2e" stroke-width="0.5"/>
<ellipse cx="955.1" cy="243.4" rx="0.8" ry="0.8" fill="#d3d4d6" stroke="#2c2c2e" stroke-width="0.5"/>
<ellipse cx="962.5" cy="239.1" rx="0.8" ry="0.8" fill="#d3d4d6" stroke="#2c2c2e" stroke-width="0.5"/>
<path d="M773.2 349.6 c-2.2 -0.4 -2.4 -8.2 0.2 -8.4 c2.6 -0.2 2.8 7.6 -0.2 8.4Z" fill="#d3d4d6" stroke="#2c2c2e" stroke-width="1.4"/>
<path d="M770.4 351 l5.6 -3.2 l0.4 2.4 q-2.4 3.4 -5.4 3.2 q-1.6 -0.6 -0.6 -2.4Z" fill="#d3d4d6" stroke="#2c2c2e" stroke-width="0.8"/>
<path d="M815.9 325.2 c-2.2 -0.4 -2.4 -8.2 0.2 -8.4 c2.6 -0.2 2.8 7.6 -0.2 8.4Z" fill="#d3d4d6" stroke="#2c2c2e" stroke-width="1.4"/>
<path d="M813.1 326.6 l5.6 -3.2 l0.4 2.4 q-2.4 3.4 -5.4 3.2 q-1.6 -0.6 -0.6 -2.4Z" fill="#d3d4d6" stroke="#2c2c2e" stroke-width="0.8"/>
<path d="M859.2 300.4 c-2.2 -0.4 -2.4 -8.2 0.2 -8.4 c2.6 -0.2 2.8 7.6 -0.2 8.4Z" fill="#d3d4d6" stroke="#2c2c2e" stroke-width="1.4"/>
<path d="M856.4 301.8 l5.6 -3.2 l0.4 2.4 q-2.4 3.4 -5.4 3.2 q-1.6 -0.6 -0.6 -2.4Z" fill="#d3d4d6" stroke="#2c2c2e" stroke-width="0.8"/>
<path d="M903.5 275 c-2.2 -0.4 -2.4 -8.2 0.2 -8.4 c2.6 -0.2 2.8 7.6 -0.2 8.4Z" fill="#d3d4d6" stroke="#2c2c2e" stroke-width="1.4"/>
<path d="M900.7 276.4 l5.6 -3.2 l0.4 2.4 q-2.4 3.4 -5.4 3.2 q-1.6 -0.6 -0.6 -2.4Z" fill="#d3d4d6" stroke="#2c2c2e" stroke-width="0.8"/>
<path d="M951 247.8 c-2.2 -0.4 -2.4 -8.2 0.2 -8.4 c2.6 -0.2 2.8 7.6 -0.2 8.4Z" fill="#d3d4d6" stroke="#2c2c2e" stroke-width="1.4"/>
<path d="M948.2 249.2 l5.6 -3.2 l0.4 2.4 q-2.4 3.4 -5.4 3.2 q-1.6 -0.6 -0.6 -2.4Z" fill="#d3d4d6" stroke="#2c2c2e" stroke-width="0.8"/>
<ellipse cx="825" cy="324.5" rx="1.4" ry="1.4" fill="#d3d4d6" stroke="#2c2c2e" stroke-width="0.6"/>
<ellipse cx="825" cy="333.7" rx="1.4" ry="1.4" fill="#d3d4d6" stroke="#2c2c2e" stroke-width="0.6"/>
<ellipse cx="830.6" cy="328.5" rx="0.8" ry="0.8" fill="#d3d4d6" stroke="#2c2c2e" stroke-width="0.5"/>
<ellipse cx="829.2" cy="330.1" rx="0.8" ry="0.8" fill="#d3d4d6" stroke="#2c2c2e" stroke-width="0.5"/>
<ellipse cx="820.8" cy="334.9" rx="0.9" ry="0.7" fill="#d3d4d6" stroke="#2c2c2e" stroke-width="0.5"/>
<ellipse cx="819" cy="335.7" rx="0.7" ry="0.6" fill="#d3d4d6" stroke="#2c2c2e" stroke-width="0.5"/>
<ellipse cx="898" cy="284.1" rx="1.4" ry="1.4" fill="#d3d4d6" stroke="#2c2c2e" stroke-width="0.6"/>
<ellipse cx="898" cy="293.3" rx="1.4" ry="1.4" fill="#d3d4d6" stroke="#2c2c2e" stroke-width="0.6"/>
<ellipse cx="903.6" cy="288.1" rx="0.8" ry="0.8" fill="#d3d4d6" stroke="#2c2c2e" stroke-width="0.5"/>
<ellipse cx="902.2" cy="289.7" rx="0.8" ry="0.8" fill="#d3d4d6" stroke="#2c2c2e" stroke-width="0.5"/>
<ellipse cx="893.8" cy="294.5" rx="0.9" ry="0.7" fill="#d3d4d6" stroke="#2c2c2e" stroke-width="0.5"/>
<ellipse cx="892" cy="295.3" rx="0.7" ry="0.6" fill="#d3d4d6" stroke="#2c2c2e" stroke-width="0.5"/>
<ellipse cx="767.6" cy="364.6" rx="1.3" ry="1.5" fill="#d3d4d6" stroke="#2c2c2e" stroke-width="0.6"/>
<ellipse cx="770.6" cy="362.4" rx="0.5" ry="0.5" fill="#d3d4d6" stroke="#2c2c2e" stroke-width="0.5"/>
<ellipse cx="763.4" cy="362.5" rx="0.6" ry="0.6" fill="#d3d4d6" stroke="#2c2c2e" stroke-width="0.5"/>
<ellipse cx="763.4" cy="373" rx="0.6" ry="0.6" fill="#d3d4d6" stroke="#2c2c2e" stroke-width="0.5"/>
</g>
<g id="bottom">
<g class="bt" transform="translate(138.1 412.2) scale(0.92)">
<ellipse cx="618.4" cy="269.8" rx="31.4" ry="24" transform="rotate(-74.5 618.4 269.8)" fill="#fff" stroke="#2c2c2e" stroke-width="0.7"/>
<ellipse cx="620.2" cy="270.4" rx="27.5" ry="20.6" transform="rotate(-74.5 620.2 270.4)" fill="#fff" stroke="#2c2c2e" stroke-width="0.6"/>
<ellipse cx="621" cy="270.7" rx="22" ry="16.4" transform="rotate(-74.5 621 270.7)" fill="#fff" stroke="#2c2c2e" stroke-width="0.6"/>
<path d="M602.7 276.1 L607 273.6 L609.6 275 L609.6 283 L607 281.7 L602.7 284.8Z" fill="#fff" stroke="#2c2c2e" stroke-width="0.6"/>
<path d="M607 273.6 L607 281.7" fill="none" stroke="#2c2c2e" stroke-width="0.5"/>
</g>
<path d="M669.1 712.6 L686.1 724.9 L737 694.2 L722 683Z" fill="#fff" stroke="#2c2c2e" stroke-width="0.6"/>
<path d="M673.8 709.8 L708 690.8" fill="none" stroke="#2c2c2e" stroke-width="0.5"/>
<path d="M686.1 724.9 L737 694.2 L737 696.4 L686.1 727.3Z" fill="#fff" stroke="#2c2c2e" stroke-width="0.5"/>
<path d="M686.4 725.2 L686.8 727.4" fill="none" stroke="#3a3a3c" stroke-width="0.5"/>
<path d="M687.5 724.5 L687.9 726.7" fill="none" stroke="#3a3a3c" stroke-width="0.5"/>
<path d="M688.6 723.9 L689 726.1" fill="none" stroke="#3a3a3c" stroke-width="0.5"/>
<path d="M689.7 723.2 L690.1 725.4" fill="none" stroke="#3a3a3c" stroke-width="0.5"/>
<path d="M690.8 722.6 L691.2 724.8" fill="none" stroke="#3a3a3c" stroke-width="0.5"/>
<path d="M691.9 721.9 L692.3 724.1" fill="none" stroke="#3a3a3c" stroke-width="0.5"/>
<path d="M692.9 721.2 L693.3 723.4" fill="none" stroke="#3a3a3c" stroke-width="0.5"/>
<path d="M694 720.6 L694.4 722.8" fill="none" stroke="#3a3a3c" stroke-width="0.5"/>
<path d="M695.1 719.9 L695.5 722.1" fill="none" stroke="#3a3a3c" stroke-width="0.5"/>
<path d="M696.2 719.3 L696.6 721.5" fill="none" stroke="#3a3a3c" stroke-width="0.5"/>
<path d="M697.3 718.6 L697.7 720.8" fill="none" stroke="#3a3a3c" stroke-width="0.5"/>
<path d="M698.4 717.9 L698.8 720.1" fill="none" stroke="#3a3a3c" stroke-width="0.5"/>
<path d="M699.5 717.3 L699.9 719.5" fill="none" stroke="#3a3a3c" stroke-width="0.5"/>
<path d="M700.6 716.6 L701 718.8" fill="none" stroke="#3a3a3c" stroke-width="0.5"/>
<path d="M701.7 715.9 L702.1 718.1" fill="none" stroke="#3a3a3c" stroke-width="0.5"/>
<path d="M702.8 715.3 L703.2 717.5" fill="none" stroke="#3a3a3c" stroke-width="0.5"/>
<path d="M703.9 714.6 L704.3 716.8" fill="none" stroke="#3a3a3c" stroke-width="0.5"/>
<path d="M705 714 L705.4 716.2" fill="none" stroke="#3a3a3c" stroke-width="0.5"/>
<path d="M706 713.3 L706.4 715.5" fill="none" stroke="#3a3a3c" stroke-width="0.5"/>
<path d="M707.1 712.6 L707.5 714.8" fill="none" stroke="#3a3a3c" stroke-width="0.5"/>
<path d="M708.2 712 L708.6 714.2" fill="none" stroke="#3a3a3c" stroke-width="0.5"/>
<path d="M709.3 711.3 L709.7 713.5" fill="none" stroke="#3a3a3c" stroke-width="0.5"/>
<path d="M710.4 710.7 L710.8 712.9" fill="none" stroke="#3a3a3c" stroke-width="0.5"/>
<path d="M711.5 710 L711.9 712.2" fill="none" stroke="#3a3a3c" stroke-width="0.5"/>
<path d="M712.6 709.3 L713 711.5" fill="none" stroke="#3a3a3c" stroke-width="0.5"/>
<path d="M713.7 708.7 L714.1 710.9" fill="none" stroke="#3a3a3c" stroke-width="0.5"/>
<path d="M714.8 708 L715.2 710.2" fill="none" stroke="#3a3a3c" stroke-width="0.5"/>
<path d="M715.9 707.4 L716.3 709.6" fill="none" stroke="#3a3a3c" stroke-width="0.5"/>
<path d="M717 706.7 L717.4 708.9" fill="none" stroke="#3a3a3c" stroke-width="0.5"/>
<path d="M718 706 L718.4 708.2" fill="none" stroke="#3a3a3c" stroke-width="0.5"/>
<path d="M719.1 705.4 L719.5 707.6" fill="none" stroke="#3a3a3c" stroke-width="0.5"/>
<path d="M720.2 704.7 L720.6 706.9" fill="none" stroke="#3a3a3c" stroke-width="0.5"/>
<path d="M721.3 704.1 L721.7 706.3" fill="none" stroke="#3a3a3c" stroke-width="0.5"/>
<path d="M722.4 703.4 L722.8 705.6" fill="none" stroke="#3a3a3c" stroke-width="0.5"/>
<path d="M723.5 702.7 L723.9 704.9" fill="none" stroke="#3a3a3c" stroke-width="0.5"/>
<path d="M724.6 702.1 L725 704.3" fill="none" stroke="#3a3a3c" stroke-width="0.5"/>
<path d="M725.7 701.4 L726.1 703.6" fill="none" stroke="#3a3a3c" stroke-width="0.5"/>
<path d="M726.8 700.7 L727.2 702.9" fill="none" stroke="#3a3a3c" stroke-width="0.5"/>
<path d="M727.9 700.1 L728.3 702.3" fill="none" stroke="#3a3a3c" stroke-width="0.5"/>
<path d="M729 699.4 L729.4 701.6" fill="none" stroke="#3a3a3c" stroke-width="0.5"/>
<path d="M730.1 698.8 L730.5 701" fill="none" stroke="#3a3a3c" stroke-width="0.5"/>
<path d="M731.1 698.1 L731.5 700.3" fill="none" stroke="#3a3a3c" stroke-width="0.5"/>
<path d="M732.2 697.4 L732.6 699.6" fill="none" stroke="#3a3a3c" stroke-width="0.5"/>
<path d="M733.3 696.8 L733.7 699" fill="none" stroke="#3a3a3c" stroke-width="0.5"/>
<path d="M734.4 696.1 L734.8 698.3" fill="none" stroke="#3a3a3c" stroke-width="0.5"/>
<path d="M735.5 695.5 L735.9 697.7" fill="none" stroke="#3a3a3c" stroke-width="0.5"/>
<path d="M669.1 712.6 L686.1 724.9 L686.1 727.3 L669.1 715Z" fill="#fff" stroke="#2c2c2e" stroke-width="0.6"/>
<path d="M669.4 713 L685.8 725" fill="none" stroke="#333" stroke-width="1.5"/>
<path d="M677.6 714.4 L679 712.4 L682 712 L683.2 713.8 L681.8 716 L678.8 716.4Z" fill="#fff" stroke="#1c1c1e" stroke-width="0.8"/>
<path d="M683 711.7 L684.4 709.7 L687.4 709.2 L688.6 711.1 L687.2 713.2 L684.2 713.7Z" fill="#fff" stroke="#1c1c1e" stroke-width="0.8"/>
<path d="M688.4 708.9 L689.8 706.9 L692.8 706.5 L694 708.3 L692.6 710.5 L689.6 710.9Z" fill="#fff" stroke="#1c1c1e" stroke-width="0.8"/>
<path d="M693.8 706.2 L695.2 704.2 L698.2 703.8 L699.4 705.6 L698 707.8 L695 708.2Z" fill="#fff" stroke="#1c1c1e" stroke-width="0.8"/>
<path d="M699.2 703.4 L700.6 701.4 L703.6 701 L704.8 702.8 L703.4 705 L700.4 705.4Z" fill="#fff" stroke="#1c1c1e" stroke-width="0.8"/>
<path d="M704.6 700.7 L706 698.7 L709 698.2 L710.2 700.1 L708.8 702.2 L705.8 702.7Z" fill="#fff" stroke="#1c1c1e" stroke-width="0.8"/>
<path d="M710 697.9 L711.4 695.9 L714.4 695.5 L715.6 697.3 L714.2 699.5 L711.2 699.9Z" fill="#fff" stroke="#1c1c1e" stroke-width="0.8"/>
<path d="M767.4 597.8 L766.7 598.2 L765.7 598.6 L764.7 599.1 L763.5 599.7 L762.3 600.3 L760.9 600.9 L759.5 601.6 L758 602.3 L756.4 603.1 L754.8 603.8 L753.2 604.6 L751.5 605.4 L749.8 606.3 L748.1 607.1 L746.4 607.9 L744.7 608.7 L743.1 609.5 L741.5 610.3 L739.9 611.1 L738.4 611.8 L736.9 612.6 L735.5 613.2 L734.2 613.9 L733 614.5 L731.9 615.1 L730.8 615.7 L729.8 616.2 L728.7 616.8 L727.7 617.3 L726.7 617.9 L725.7 618.4 L724.8 619 L723.9 619.5 L723 620 L722.1 620.5 L721.3 621 L720.4 621.4 L719.6 621.9 L718.9 622.4 L718.1 622.8 L717.4 623.2 L716.7 623.7 L716 624.1 L715.3 624.5 L714.7 624.8 L714 625.2 L713.4 625.6 L712.8 625.9 L712.3 626.2 L711.8 626.5 L711.3 626.8 L710.9 627 L710.5 627.2 L710.1 627.5 L709.8 627.6 L709.4 627.8 L709.1 628 L708.9 628.1 L708.6 628.3 L708.3 628.4 L708.1 628.6 L707.9 628.7 L707.7 628.8 L707.4 629 L707.2 629.1 L707 629.3 L706.8 629.4 L706.5 629.6 L706.3 629.7 L706 629.9 L705.7 630.1 L705.4 630.3 L705.1 630.5 L704.8 630.7 L704.5 631 L704.2 631.2 L703.9 631.4 L703.6 631.6 L703.3 631.9 L702.9 632.1 L702.6 632.3 L702.3 632.6 L702 632.8 L701.7 633 L701.4 633.3 L701.1 633.5 L700.8 633.8 L700.4 634.1 L700.1 634.3 L699.8 634.6 L699.5 634.9 L699.2 635.1 L698.9 635.4 L698.6 635.7 L698.3 636 L698 636.3 L697.8 636.6 L697.5 636.9 L697.2 637.2 L696.9 637.6 L696.6 637.9 L696.3 638.2 L696 638.6 L695.8 638.9 L695.5 639.3 L695.2 639.6 L694.9 640 L694.6 640.3 L694.4 640.7 L694.1 641 L693.8 641.4 L693.6 641.8 L693.3 642.1 L693 642.5 L692.8 642.9 L692.5 643.2 L692.3 643.6 L692 644 L691.8 644.3 L691.5 644.7 L691.3 645.1 L691.1 645.4 L690.9 645.8 L690.6 646.1 L690.4 646.5 L690.2 646.9 L690 647.2 L689.8 647.6 L689.6 648 L689.3 648.3 L689.1 648.7 L688.9 649.1 L688.7 649.4 L688.5 649.8 L688.3 650.2 L688.2 650.5 L688 650.9 L687.8 651.3 L687.6 651.7 L687.4 652.1 L687.2 652.4 L687 652.8 L686.8 653.2 L686.6 653.6 L686.5 654 L686.3 654.4 L686.1 654.8 L685.9 655.2 L685.7 655.6 L685.6 656 L685.4 656.4 L685.2 656.8 L685 657.2 L684.9 657.6 L684.7 658 L684.5 658.4 L684.4 658.9 L684.2 659.3 L684 659.7 L683.9 660.1 L683.7 660.5 L683.6 660.9 L683.4 661.3 L683.3 661.8 L683.1 662.2 L683 662.6 L682.8 663 L682.6 663.4 L682.5 663.8 L682.4 664.2 L682.2 664.6 L682.1 665.1 L681.9 665.5 L681.8 665.9 L681.6 666.3 L681.5 666.7 L681.4 667.1 L681.2 667.6 L681.1 668 L681 668.4 L680.8 668.8 L680.7 669.2 L680.6 669.6 L680.4 670.1 L680.3 670.5 L680.2 670.9 L680.1 671.3 L679.9 671.7 L679.8 672.1 L679.7 672.5 L679.6 672.9 L679.4 673.3 L679.3 673.7 L679.2 674.1 L679.1 674.5 L679 674.9 L678.9 675.2 L678.7 675.6 L678.6 676 L678.5 676.4 L678.4 676.7 L678.3 677.1 L678.2 677.5 L678.1 677.9 L678 678.2 L677.9 678.6 L677.8 679 L677.7 679.3 L677.6 679.7 L677.5 680.1 L677.4 680.4 L677.3 680.8 L677.1 681.2 L677 681.6 L676.9 681.9 L676.8 682.3 L676.7 682.7 L676.6 683 L676.6 683.4 L676.5 683.8 L676.4 684.1 L676.3 684.5 L676.2 684.9 L676.1 685.2 L676 685.6 L675.9 686 L675.8 686.3 L675.7 686.7 L675.6 687.1 L675.5 687.4 L675.4 687.8 L675.3 688.2 L675.2 688.6 L675.2 688.9 L675.1 689.3 L675 689.7 L674.9 690.1 L674.8 690.5 L674.7 690.9 L674.6 691.3 L674.6 691.7 L674.5 692.2 L674.4 692.6 L674.3 693.1 L674.2 693.6 L674.1 694.1 L674 694.6 L674 695.1 L673.9 695.6 L673.8 696.1 L673.7 696.7 L673.6 697.2 L673.5 697.7 L673.4 698.2 L673.4 698.6 L673.3 699.1 L673.2 699.5 L673.2 700 L673.1 700.4 L673 700.7 L673 701.1 L672.9 701.4 L672.9 701.7 L672.8 701.9 L676 703.7 L676 703.5 L676.1 703.2 L676.1 702.9 L676.2 702.5 L676.2 702.2 L676.3 701.8 L676.3 701.3 L676.4 700.9 L676.5 700.4 L676.6 700 L676.6 699.5 L676.7 699 L676.8 698.5 L676.9 697.9 L677 697.4 L677.1 696.9 L677.2 696.4 L677.2 695.9 L677.3 695.4 L677.4 694.9 L677.5 694.4 L677.6 694 L677.7 693.5 L677.8 693.1 L677.8 692.7 L677.9 692.3 L678 691.9 L678.1 691.5 L678.2 691.1 L678.3 690.7 L678.4 690.4 L678.5 690 L678.5 689.6 L678.6 689.2 L678.7 688.9 L678.8 688.5 L678.9 688.1 L679 687.8 L679.1 687.4 L679.2 687 L679.3 686.7 L679.4 686.3 L679.5 685.9 L679.6 685.6 L679.7 685.2 L679.8 684.8 L679.9 684.5 L680 684.1 L680.1 683.7 L680.2 683.4 L680.3 683 L680.4 682.6 L680.5 682.2 L680.6 681.9 L680.7 681.5 L680.8 681.1 L680.9 680.8 L681 680.4 L681.1 680 L681.2 679.7 L681.3 679.3 L681.4 678.9 L681.5 678.5 L681.6 678.2 L681.8 677.8 L681.9 677.4 L682 677 L682.1 676.7 L682.2 676.3 L682.3 675.9 L682.4 675.5 L682.6 675.1 L682.7 674.7 L682.8 674.3 L682.9 673.9 L683.1 673.5 L683.2 673.1 L683.3 672.7 L683.4 672.3 L683.6 671.9 L683.7 671.4 L683.8 671 L683.9 670.6 L684.1 670.2 L684.2 669.8 L684.3 669.4 L684.5 668.9 L684.6 668.5 L684.8 668.1 L684.9 667.7 L685 667.3 L685.2 666.9 L685.3 666.4 L685.5 666 L685.6 665.6 L685.8 665.2 L685.9 664.8 L686.1 664.4 L686.2 664 L686.4 663.6 L686.5 663.1 L686.7 662.7 L686.8 662.3 L687 661.9 L687.2 661.5 L687.3 661.1 L687.5 660.7 L687.7 660.2 L687.8 659.8 L688 659.4 L688.2 659 L688.3 658.6 L688.5 658.2 L688.7 657.8 L688.9 657.4 L689 657 L689.2 656.6 L689.4 656.2 L689.6 655.8 L689.8 655.4 L690 655 L690.1 654.6 L690.3 654.2 L690.5 653.9 L690.7 653.5 L690.9 653.1 L691.1 652.7 L691.3 652.3 L691.5 652 L691.7 651.6 L691.9 651.2 L692.1 650.9 L692.3 650.5 L692.5 650.1 L692.7 649.8 L692.9 649.4 L693.1 649 L693.3 648.7 L693.5 648.3 L693.7 647.9 L694 647.6 L694.2 647.2 L694.4 646.9 L694.7 646.5 L694.9 646.1 L695.1 645.8 L695.4 645.4 L695.6 645 L695.9 644.7 L696.2 644.3 L696.4 643.9 L696.7 643.6 L696.9 643.2 L697.2 642.8 L697.5 642.5 L697.8 642.1 L698 641.8 L698.3 641.4 L698.6 641.1 L698.9 640.7 L699.2 640.4 L699.4 640 L699.7 639.7 L700 639.4 L700.3 639 L700.6 638.7 L700.9 638.4 L701.2 638.1 L701.5 637.8 L701.8 637.5 L702 637.2 L702.3 636.9 L702.6 636.7 L703 636.4 L703.3 636.1 L703.6 635.9 L703.9 635.6 L704.2 635.3 L704.5 635.1 L704.8 634.9 L705.1 634.6 L705.4 634.4 L705.8 634.1 L706.1 633.9 L706.4 633.7 L706.7 633.4 L707 633.2 L707.3 633 L707.6 632.8 L707.9 632.5 L708.3 632.3 L708.6 632.1 L708.9 631.9 L709.1 631.7 L709.4 631.5 L709.7 631.4 L709.9 631.2 L710.1 631.1 L710.3 630.9 L710.6 630.8 L710.8 630.6 L711 630.5 L711.2 630.4 L711.5 630.2 L711.7 630.1 L712 629.9 L712.3 629.8 L712.6 629.6 L712.9 629.4 L713.2 629.3 L713.6 629 L714 628.8 L714.4 628.6 L714.9 628.3 L715.4 628 L716 627.7 L716.6 627.4 L717.2 627 L717.8 626.6 L718.4 626.3 L719.1 625.9 L719.8 625.5 L720.5 625 L721.2 624.6 L722 624.2 L722.8 623.7 L723.6 623.2 L724.4 622.8 L725.2 622.3 L726.1 621.8 L727 621.3 L727.9 620.8 L728.8 620.2 L729.8 619.7 L730.8 619.1 L731.8 618.6 L732.9 618 L733.9 617.5 L735 616.9 L736.2 616.3 L737.4 615.7 L738.6 615 L740 614.4 L741.5 613.6 L743 612.9 L744.6 612.1 L746.2 611.3 L747.9 610.5 L749.5 609.7 L751.2 608.9 L752.9 608.1 L754.6 607.2 L756.3 606.4 L758 605.6 L759.6 604.9 L761.1 604.1 L762.6 603.4 L764.1 602.7 L765.4 602.1 L766.7 601.5 L767.8 600.9 L768.9 600.4 L769.8 600 L770.6 599.6Z" fill="#dcdcde" stroke="#3a3a3c" stroke-width="0.5"/>
<path d="M767.4 597.8 L766.7 598.2 L765.7 598.6 L764.7 599.1 L763.5 599.7 L762.3 600.3 L760.9 600.9 L759.5 601.6 L758 602.3 L756.4 603.1 L754.8 603.8 L753.2 604.6 L751.5 605.4 L749.8 606.3 L748.1 607.1 L746.4 607.9 L744.7 608.7 L743.1 609.5 L741.5 610.3 L739.9 611.1 L738.4 611.8 L736.9 612.6 L735.5 613.2 L734.2 613.9 L733 614.5 L731.9 615.1 L730.8 615.7 L729.8 616.2 L728.7 616.8 L727.7 617.3 L726.7 617.9 L725.7 618.4 L724.8 619 L723.9 619.5 L723 620 L722.1 620.5 L721.3 621 L720.4 621.4 L719.6 621.9 L718.9 622.4 L718.1 622.8 L717.4 623.2 L716.7 623.7 L716 624.1 L715.3 624.5 L714.7 624.8 L714 625.2 L713.4 625.6 L712.8 625.9 L712.3 626.2 L711.8 626.5 L711.3 626.8 L710.9 627 L710.5 627.2 L710.1 627.5 L709.8 627.6 L709.4 627.8 L709.1 628 L708.9 628.1 L708.6 628.3 L708.3 628.4 L708.1 628.6 L707.9 628.7 L707.7 628.8 L707.4 629 L707.2 629.1 L707 629.3 L706.8 629.4 L706.5 629.6 L706.3 629.7 L706 629.9 L705.7 630.1 L705.4 630.3 L705.1 630.5 L704.8 630.7 L704.5 631 L704.2 631.2 L703.9 631.4 L703.6 631.6 L703.3 631.9 L702.9 632.1 L702.6 632.3 L702.3 632.6 L702 632.8 L701.7 633 L701.4 633.3 L701.1 633.5 L700.8 633.8 L700.4 634.1 L700.1 634.3 L699.8 634.6 L699.5 634.9 L699.2 635.1 L698.9 635.4 L698.6 635.7 L698.3 636 L698 636.3 L697.8 636.6 L697.5 636.9 L697.2 637.2 L696.9 637.6 L696.6 637.9 L696.3 638.2 L696 638.6 L695.8 638.9 L695.5 639.3 L695.2 639.6 L694.9 640 L694.6 640.3 L694.4 640.7 L694.1 641 L693.8 641.4 L693.6 641.8 L693.3 642.1 L693 642.5 L692.8 642.9 L692.5 643.2 L692.3 643.6 L692 644 L691.8 644.3 L691.5 644.7 L691.3 645.1 L691.1 645.4 L690.9 645.8 L690.6 646.1 L690.4 646.5 L690.2 646.9 L690 647.2 L689.8 647.6 L689.6 648 L689.3 648.3 L689.1 648.7 L688.9 649.1 L688.7 649.4 L688.5 649.8 L688.3 650.2 L688.2 650.5 L688 650.9 L687.8 651.3 L687.6 651.7 L687.4 652.1 L687.2 652.4 L687 652.8 L686.8 653.2 L686.6 653.6 L686.5 654 L686.3 654.4 L686.1 654.8 L685.9 655.2 L685.7 655.6 L685.6 656 L685.4 656.4 L685.2 656.8 L685 657.2 L684.9 657.6 L684.7 658 L684.5 658.4 L684.4 658.9 L684.2 659.3 L684 659.7 L683.9 660.1 L683.7 660.5 L683.6 660.9 L683.4 661.3 L683.3 661.8 L683.1 662.2 L683 662.6 L682.8 663 L682.6 663.4 L682.5 663.8 L682.4 664.2 L682.2 664.6 L682.1 665.1 L681.9 665.5 L681.8 665.9 L681.6 666.3 L681.5 666.7 L681.4 667.1 L681.2 667.6 L681.1 668 L681 668.4 L680.8 668.8 L680.7 669.2 L680.6 669.6 L680.4 670.1 L680.3 670.5 L680.2 670.9 L680.1 671.3 L679.9 671.7 L679.8 672.1 L679.7 672.5 L679.6 672.9 L679.4 673.3 L679.3 673.7 L679.2 674.1 L679.1 674.5 L679 674.9 L678.9 675.2 L678.7 675.6 L678.6 676 L678.5 676.4 L678.4 676.7 L678.3 677.1 L678.2 677.5 L678.1 677.9 L678 678.2 L677.9 678.6 L677.8 679 L677.7 679.3 L677.6 679.7 L677.5 680.1 L677.4 680.4 L677.3 680.8 L677.1 681.2 L677 681.6 L676.9 681.9 L676.8 682.3 L676.7 682.7 L676.6 683 L676.6 683.4 L676.5 683.8 L676.4 684.1 L676.3 684.5 L676.2 684.9 L676.1 685.2 L676 685.6 L675.9 686 L675.8 686.3 L675.7 686.7 L675.6 687.1 L675.5 687.4 L675.4 687.8 L675.3 688.2 L675.2 688.6 L675.2 688.9 L675.1 689.3 L675 689.7 L674.9 690.1 L674.8 690.5 L674.7 690.9 L674.6 691.3 L674.6 691.7 L674.5 692.2 L674.4 692.6 L674.3 693.1 L674.2 693.6 L674.1 694.1 L674 694.6 L674 695.1 L673.9 695.6 L673.8 696.1 L673.7 696.7 L673.6 697.2 L673.5 697.7 L673.4 698.2 L673.4 698.6 L673.3 699.1 L673.2 699.5 L673.2 700 L673.1 700.4 L673 700.7 L673 701.1 L672.9 701.4 L672.9 701.7 L672.8 701.9 L675.6 703.5 L675.7 703.3 L675.7 703 L675.8 702.7 L675.8 702.3 L675.9 702 L675.9 701.6 L676 701.1 L676.1 700.7 L676.1 700.2 L676.2 699.8 L676.3 699.3 L676.4 698.8 L676.5 698.3 L676.5 697.7 L676.6 697.2 L676.7 696.7 L676.8 696.2 L676.9 695.7 L677 695.2 L677.1 694.7 L677.2 694.2 L677.2 693.8 L677.3 693.3 L677.4 692.9 L677.5 692.5 L677.6 692.1 L677.7 691.7 L677.8 691.3 L677.8 690.9 L677.9 690.5 L678 690.2 L678.1 689.8 L678.2 689.4 L678.3 689 L678.4 688.7 L678.5 688.3 L678.6 687.9 L678.7 687.6 L678.7 687.2 L678.8 686.8 L678.9 686.5 L679 686.1 L679.1 685.7 L679.2 685.4 L679.3 685 L679.4 684.6 L679.5 684.3 L679.6 683.9 L679.7 683.5 L679.8 683.2 L679.9 682.8 L680 682.4 L680.1 682 L680.2 681.7 L680.3 681.3 L680.4 680.9 L680.5 680.6 L680.6 680.2 L680.7 679.8 L680.9 679.5 L681 679.1 L681.1 678.7 L681.2 678.3 L681.3 678 L681.4 677.6 L681.5 677.2 L681.6 676.8 L681.7 676.5 L681.9 676.1 L682 675.7 L682.1 675.3 L682.2 674.9 L682.3 674.5 L682.5 674.1 L682.6 673.7 L682.7 673.3 L682.8 672.9 L683 672.5 L683.1 672.1 L683.2 671.7 L683.3 671.2 L683.5 670.8 L683.6 670.4 L683.7 670 L683.9 669.6 L684 669.2 L684.1 668.7 L684.3 668.3 L684.4 667.9 L684.5 667.5 L684.7 667.1 L684.8 666.7 L685 666.2 L685.1 665.8 L685.3 665.4 L685.4 665 L685.6 664.6 L685.7 664.2 L685.9 663.8 L686 663.4 L686.2 662.9 L686.3 662.5 L686.5 662.1 L686.7 661.7 L686.8 661.3 L687 660.9 L687.1 660.5 L687.3 660 L687.5 659.6 L687.6 659.2 L687.8 658.8 L688 658.4 L688.2 658 L688.3 657.6 L688.5 657.2 L688.7 656.8 L688.9 656.4 L689.1 656 L689.2 655.6 L689.4 655.2 L689.6 654.8 L689.8 654.4 L690 654 L690.2 653.7 L690.4 653.3 L690.5 652.9 L690.7 652.5 L690.9 652.1 L691.1 651.8 L691.3 651.4 L691.5 651 L691.7 650.7 L691.9 650.3 L692.1 649.9 L692.3 649.6 L692.5 649.2 L692.7 648.8 L693 648.5 L693.2 648.1 L693.4 647.7 L693.6 647.4 L693.9 647 L694.1 646.7 L694.3 646.3 L694.6 645.9 L694.8 645.6 L695 645.2 L695.3 644.8 L695.6 644.5 L695.8 644.1 L696.1 643.7 L696.3 643.4 L696.6 643 L696.9 642.6 L697.1 642.3 L697.4 641.9 L697.7 641.6 L698 641.2 L698.2 640.9 L698.5 640.5 L698.8 640.2 L699.1 639.8 L699.4 639.5 L699.7 639.2 L700 638.8 L700.2 638.5 L700.5 638.2 L700.8 637.9 L701.1 637.6 L701.4 637.3 L701.7 637 L702 636.7 L702.3 636.5 L702.6 636.2 L702.9 635.9 L703.2 635.7 L703.5 635.4 L703.8 635.1 L704.1 634.9 L704.5 634.6 L704.8 634.4 L705.1 634.2 L705.4 633.9 L705.7 633.7 L706 633.5 L706.3 633.2 L706.7 633 L707 632.8 L707.3 632.6 L707.6 632.3 L707.9 632.1 L708.2 631.9 L708.5 631.7 L708.8 631.5 L709.1 631.3 L709.3 631.2 L709.5 631 L709.8 630.9 L710 630.7 L710.2 630.6 L710.4 630.4 L710.7 630.3 L710.9 630.2 L711.1 630 L711.4 629.9 L711.6 629.7 L711.9 629.6 L712.2 629.4 L712.5 629.2 L712.9 629.1 L713.2 628.8 L713.6 628.6 L714.1 628.4 L714.6 628.1 L715.1 627.8 L715.6 627.5 L716.2 627.2 L716.8 626.8 L717.4 626.4 L718.1 626.1 L718.7 625.7 L719.4 625.3 L720.1 624.8 L720.9 624.4 L721.6 624 L722.4 623.5 L723.2 623 L724 622.6 L724.9 622.1 L725.7 621.6 L726.6 621.1 L727.6 620.6 L728.5 620 L729.5 619.5 L730.5 618.9 L731.5 618.4 L732.5 617.8 L733.6 617.3 L734.7 616.7 L735.8 616.1 L737 615.5 L738.3 614.8 L739.7 614.2 L741.1 613.4 L742.6 612.7 L744.2 611.9 L745.8 611.1 L747.5 610.3 L749.2 609.5 L750.9 608.7 L752.6 607.9 L754.3 607 L756 606.2 L757.6 605.4 L759.2 604.7 L760.8 603.9 L762.3 603.2 L763.7 602.5 L765.1 601.9 L766.3 601.3 L767.5 600.7 L768.5 600.2 L769.4 599.8 L770.2 599.4Z" fill="#a4a4a6" stroke="#3a3a3c" stroke-width="0.4"/>
<path d="M767.4 597.8 L770.2 599.4" fill="none" stroke="#555557" stroke-width="0.3"/>
<path d="M765.7 598.6 L768.5 600.2" fill="none" stroke="#555557" stroke-width="0.3"/>
<path d="M763.5 599.7 L766.3 601.3" fill="none" stroke="#555557" stroke-width="0.3"/>
<path d="M760.9 600.9 L763.7 602.5" fill="none" stroke="#555557" stroke-width="0.3"/>
<path d="M758 602.3 L760.8 603.9" fill="none" stroke="#555557" stroke-width="0.3"/>
<path d="M754.8 603.8 L757.6 605.4" fill="none" stroke="#555557" stroke-width="0.3"/>
<path d="M751.5 605.4 L754.3 607" fill="none" stroke="#555557" stroke-width="0.3"/>
<path d="M748.1 607.1 L750.9 608.7" fill="none" stroke="#555557" stroke-width="0.3"/>
<path d="M744.7 608.7 L747.5 610.3" fill="none" stroke="#555557" stroke-width="0.3"/>
<path d="M741.5 610.3 L744.2 611.9" fill="none" stroke="#555557" stroke-width="0.3"/>
<path d="M738.4 611.8 L741.1 613.4" fill="none" stroke="#555557" stroke-width="0.3"/>
<path d="M735.5 613.2 L738.3 614.8" fill="none" stroke="#555557" stroke-width="0.3"/>
<path d="M733 614.5 L735.8 616.1" fill="none" stroke="#555557" stroke-width="0.3"/>
<path d="M730.8 615.7 L733.6 617.3" fill="none" stroke="#555557" stroke-width="0.3"/>
<path d="M728.7 616.8 L731.5 618.4" fill="none" stroke="#555557" stroke-width="0.3"/>
<path d="M726.7 617.9 L729.5 619.5" fill="none" stroke="#555557" stroke-width="0.3"/>
<path d="M724.8 619 L727.6 620.6" fill="none" stroke="#555557" stroke-width="0.3"/>
<path d="M723 620 L725.7 621.6" fill="none" stroke="#555557" stroke-width="0.3"/>
<path d="M721.3 621 L724 622.6" fill="none" stroke="#555557" stroke-width="0.3"/>
<path d="M719.6 621.9 L722.4 623.5" fill="none" stroke="#555557" stroke-width="0.3"/>
<path d="M718.1 622.8 L720.9 624.4" fill="none" stroke="#555557" stroke-width="0.3"/>
<path d="M716.7 623.7 L719.4 625.3" fill="none" stroke="#555557" stroke-width="0.3"/>
<path d="M715.3 624.5 L718.1 626.1" fill="none" stroke="#555557" stroke-width="0.3"/>
<path d="M714 625.2 L716.8 626.8" fill="none" stroke="#555557" stroke-width="0.3"/>
<path d="M712.8 625.9 L715.6 627.5" fill="none" stroke="#555557" stroke-width="0.3"/>
<path d="M711.8 626.5 L714.6 628.1" fill="none" stroke="#555557" stroke-width="0.3"/>
<path d="M710.9 627 L713.6 628.6" fill="none" stroke="#555557" stroke-width="0.3"/>
<path d="M710.1 627.5 L712.9 629.1" fill="none" stroke="#555557" stroke-width="0.3"/>
<path d="M709.4 627.8 L712.2 629.4" fill="none" stroke="#555557" stroke-width="0.3"/>
<path d="M708.9 628.1 L711.6 629.7" fill="none" stroke="#555557" stroke-width="0.3"/>
<path d="M708.3 628.4 L711.1 630" fill="none" stroke="#555557" stroke-width="0.3"/>
<path d="M707.9 628.7 L710.7 630.3" fill="none" stroke="#555557" stroke-width="0.3"/>
<path d="M707.4 629 L710.2 630.6" fill="none" stroke="#555557" stroke-width="0.3"/>
<path d="M707 629.3 L709.8 630.9" fill="none" stroke="#555557" stroke-width="0.3"/>
<path d="M706.5 629.6 L709.3 631.2" fill="none" stroke="#555557" stroke-width="0.3"/>
<path d="M706 629.9 L708.8 631.5" fill="none" stroke="#555557" stroke-width="0.3"/>
<path d="M705.4 630.3 L708.2 631.9" fill="none" stroke="#555557" stroke-width="0.3"/>
<path d="M704.8 630.7 L707.6 632.3" fill="none" stroke="#555557" stroke-width="0.3"/>
<path d="M704.2 631.2 L707 632.8" fill="none" stroke="#555557" stroke-width="0.3"/>
<path d="M703.6 631.6 L706.3 633.2" fill="none" stroke="#555557" stroke-width="0.3"/>
<path d="M702.9 632.1 L705.7 633.7" fill="none" stroke="#555557" stroke-width="0.3"/>
<path d="M702.3 632.6 L705.1 634.2" fill="none" stroke="#555557" stroke-width="0.3"/>
<path d="M701.7 633 L704.5 634.6" fill="none" stroke="#555557" stroke-width="0.3"/>
<path d="M701.1 633.5 L703.8 635.1" fill="none" stroke="#555557" stroke-width="0.3"/>
<path d="M700.4 634.1 L703.2 635.7" fill="none" stroke="#555557" stroke-width="0.3"/>
<path d="M699.8 634.6 L702.6 636.2" fill="none" stroke="#555557" stroke-width="0.3"/>
<path d="M699.2 635.1 L702 636.7" fill="none" stroke="#555557" stroke-width="0.3"/>
<path d="M698.6 635.7 L701.4 637.3" fill="none" stroke="#555557" stroke-width="0.3"/>
<path d="M698 636.3 L700.8 637.9" fill="none" stroke="#555557" stroke-width="0.3"/>
<path d="M697.5 636.9 L700.2 638.5" fill="none" stroke="#555557" stroke-width="0.3"/>
<path d="M696.9 637.6 L699.7 639.2" fill="none" stroke="#555557" stroke-width="0.3"/>
<path d="M696.3 638.2 L699.1 639.8" fill="none" stroke="#555557" stroke-width="0.3"/>
<path d="M695.8 638.9 L698.5 640.5" fill="none" stroke="#555557" stroke-width="0.3"/>
<path d="M695.2 639.6 L698 641.2" fill="none" stroke="#555557" stroke-width="0.3"/>
<path d="M694.6 640.3 L697.4 641.9" fill="none" stroke="#555557" stroke-width="0.3"/>
<path d="M694.1 641 L696.9 642.6" fill="none" stroke="#555557" stroke-width="0.3"/>
<path d="M693.6 641.8 L696.3 643.4" fill="none" stroke="#555557" stroke-width="0.3"/>
<path d="M693 642.5 L695.8 644.1" fill="none" stroke="#555557" stroke-width="0.3"/>
<path d="M692.5 643.2 L695.3 644.8" fill="none" stroke="#555557" stroke-width="0.3"/>
<path d="M692 644 L694.8 645.6" fill="none" stroke="#555557" stroke-width="0.3"/>
<path d="M691.5 644.7 L694.3 646.3" fill="none" stroke="#555557" stroke-width="0.3"/>
<path d="M691.1 645.4 L693.9 647" fill="none" stroke="#555557" stroke-width="0.3"/>
<path d="M690.6 646.1 L693.4 647.7" fill="none" stroke="#555557" stroke-width="0.3"/>
<path d="M690.2 646.9 L693 648.5" fill="none" stroke="#555557" stroke-width="0.3"/>
<path d="M689.8 647.6 L692.5 649.2" fill="none" stroke="#555557" stroke-width="0.3"/>
<path d="M689.3 648.3 L692.1 649.9" fill="none" stroke="#555557" stroke-width="0.3"/>
<path d="M688.9 649.1 L691.7 650.7" fill="none" stroke="#555557" stroke-width="0.3"/>
<path d="M688.5 649.8 L691.3 651.4" fill="none" stroke="#555557" stroke-width="0.3"/>
<path d="M688.2 650.5 L690.9 652.1" fill="none" stroke="#555557" stroke-width="0.3"/>
<path d="M687.8 651.3 L690.5 652.9" fill="none" stroke="#555557" stroke-width="0.3"/>
<path d="M687.4 652.1 L690.2 653.7" fill="none" stroke="#555557" stroke-width="0.3"/>
<path d="M687 652.8 L689.8 654.4" fill="none" stroke="#555557" stroke-width="0.3"/>
<path d="M686.6 653.6 L689.4 655.2" fill="none" stroke="#555557" stroke-width="0.3"/>
<path d="M686.3 654.4 L689.1 656" fill="none" stroke="#555557" stroke-width="0.3"/>
<path d="M685.9 655.2 L688.7 656.8" fill="none" stroke="#555557" stroke-width="0.3"/>
<path d="M685.6 656 L688.3 657.6" fill="none" stroke="#555557" stroke-width="0.3"/>
<path d="M685.2 656.8 L688 658.4" fill="none" stroke="#555557" stroke-width="0.3"/>
<path d="M684.9 657.6 L687.6 659.2" fill="none" stroke="#555557" stroke-width="0.3"/>
<path d="M684.5 658.4 L687.3 660" fill="none" stroke="#555557" stroke-width="0.3"/>
<path d="M684.2 659.3 L687 660.9" fill="none" stroke="#555557" stroke-width="0.3"/>
<path d="M683.9 660.1 L686.7 661.7" fill="none" stroke="#555557" stroke-width="0.3"/>
<path d="M683.6 660.9 L686.3 662.5" fill="none" stroke="#555557" stroke-width="0.3"/>
<path d="M683.3 661.8 L686 663.4" fill="none" stroke="#555557" stroke-width="0.3"/>
<path d="M683 662.6 L685.7 664.2" fill="none" stroke="#555557" stroke-width="0.3"/>
<path d="M682.6 663.4 L685.4 665" fill="none" stroke="#555557" stroke-width="0.3"/>
<path d="M682.4 664.2 L685.1 665.8" fill="none" stroke="#555557" stroke-width="0.3"/>
<path d="M682.1 665.1 L684.8 666.7" fill="none" stroke="#555557" stroke-width="0.3"/>
<path d="M681.8 665.9 L684.5 667.5" fill="none" stroke="#555557" stroke-width="0.3"/>
<path d="M681.5 666.7 L684.3 668.3" fill="none" stroke="#555557" stroke-width="0.3"/>
<path d="M681.2 667.6 L684 669.2" fill="none" stroke="#555557" stroke-width="0.3"/>
<path d="M681 668.4 L683.7 670" fill="none" stroke="#555557" stroke-width="0.3"/>
<path d="M680.7 669.2 L683.5 670.8" fill="none" stroke="#555557" stroke-width="0.3"/>
<path d="M680.4 670.1 L683.2 671.7" fill="none" stroke="#555557" stroke-width="0.3"/>
<path d="M680.2 670.9 L683 672.5" fill="none" stroke="#555557" stroke-width="0.3"/>
<path d="M679.9 671.7 L682.7 673.3" fill="none" stroke="#555557" stroke-width="0.3"/>
<path d="M679.7 672.5 L682.5 674.1" fill="none" stroke="#555557" stroke-width="0.3"/>
<path d="M679.4 673.3 L682.2 674.9" fill="none" stroke="#555557" stroke-width="0.3"/>
<path d="M679.2 674.1 L682 675.7" fill="none" stroke="#555557" stroke-width="0.3"/>
<path d="M679 674.9 L681.7 676.5" fill="none" stroke="#555557" stroke-width="0.3"/>
<path d="M678.7 675.6 L681.5 677.2" fill="none" stroke="#555557" stroke-width="0.3"/>
<path d="M678.5 676.4 L681.3 678" fill="none" stroke="#555557" stroke-width="0.3"/>
<path d="M678.3 677.1 L681.1 678.7" fill="none" stroke="#555557" stroke-width="0.3"/>
<path d="M678.1 677.9 L680.9 679.5" fill="none" stroke="#555557" stroke-width="0.3"/>
<path d="M677.9 678.6 L680.6 680.2" fill="none" stroke="#555557" stroke-width="0.3"/>
<path d="M677.7 679.3 L680.4 680.9" fill="none" stroke="#555557" stroke-width="0.3"/>
<path d="M677.5 680.1 L680.2 681.7" fill="none" stroke="#555557" stroke-width="0.3"/>
<path d="M677.3 680.8 L680 682.4" fill="none" stroke="#555557" stroke-width="0.3"/>
<path d="M677 681.6 L679.8 683.2" fill="none" stroke="#555557" stroke-width="0.3"/>
<path d="M676.8 682.3 L679.6 683.9" fill="none" stroke="#555557" stroke-width="0.3"/>
<path d="M676.6 683 L679.4 684.6" fill="none" stroke="#555557" stroke-width="0.3"/>
<path d="M676.5 683.8 L679.2 685.4" fill="none" stroke="#555557" stroke-width="0.3"/>
<path d="M676.3 684.5 L679 686.1" fill="none" stroke="#555557" stroke-width="0.3"/>
<path d="M676.1 685.2 L678.8 686.8" fill="none" stroke="#555557" stroke-width="0.3"/>
<path d="M675.9 686 L678.7 687.6" fill="none" stroke="#555557" stroke-width="0.3"/>
<path d="M675.7 686.7 L678.5 688.3" fill="none" stroke="#555557" stroke-width="0.3"/>
<path d="M675.5 687.4 L678.3 689" fill="none" stroke="#555557" stroke-width="0.3"/>
<path d="M675.3 688.2 L678.1 689.8" fill="none" stroke="#555557" stroke-width="0.3"/>
<path d="M675.2 688.9 L677.9 690.5" fill="none" stroke="#555557" stroke-width="0.3"/>
<path d="M675 689.7 L677.8 691.3" fill="none" stroke="#555557" stroke-width="0.3"/>
<path d="M674.8 690.5 L677.6 692.1" fill="none" stroke="#555557" stroke-width="0.3"/>
<path d="M674.6 691.3 L677.4 692.9" fill="none" stroke="#555557" stroke-width="0.3"/>
<path d="M674.5 692.2 L677.2 693.8" fill="none" stroke="#555557" stroke-width="0.3"/>
<path d="M674.3 693.1 L677.1 694.7" fill="none" stroke="#555557" stroke-width="0.3"/>
<path d="M674.1 694.1 L676.9 695.7" fill="none" stroke="#555557" stroke-width="0.3"/>
<path d="M674 695.1 L676.7 696.7" fill="none" stroke="#555557" stroke-width="0.3"/>
<path d="M673.8 696.1 L676.5 697.7" fill="none" stroke="#555557" stroke-width="0.3"/>
<path d="M673.6 697.2 L676.4 698.8" fill="none" stroke="#555557" stroke-width="0.3"/>
<path d="M673.4 698.2 L676.2 699.8" fill="none" stroke="#555557" stroke-width="0.3"/>
<path d="M673.3 699.1 L676.1 700.7" fill="none" stroke="#555557" stroke-width="0.3"/>
<path d="M673.2 700 L675.9 701.6" fill="none" stroke="#555557" stroke-width="0.3"/>
<path d="M673 700.7 L675.8 702.3" fill="none" stroke="#555557" stroke-width="0.3"/>
<path d="M672.9 701.4 L675.7 703" fill="none" stroke="#555557" stroke-width="0.3"/>
<path d="M672.8 701.9 L675.6 703.5" fill="none" stroke="#555557" stroke-width="0.3"/>
<path d="M770.4 599.5 L769.6 599.9 L768.7 600.3 L767.6 600.8 L766.5 601.4 L765.2 602 L763.9 602.6 L762.4 603.3 L760.9 604 L759.4 604.8 L757.8 605.5 L756.1 606.3 L754.5 607.1 L752.8 608 L751.1 608.8 L749.4 609.6 L747.7 610.4 L746 611.2 L744.4 612 L742.8 612.8 L741.3 613.5 L739.8 614.3 L738.5 614.9 L737.2 615.6 L736 616.2 L734.9 616.8 L733.8 617.4 L732.7 617.9 L731.7 618.5 L730.6 619 L729.6 619.6 L728.7 620.1 L727.7 620.7 L726.8 621.2 L725.9 621.7 L725.1 622.2 L724.2 622.7 L723.4 623.1 L722.6 623.6 L721.8 624.1 L721.1 624.5 L720.3 624.9 L719.6 625.4 L718.9 625.8 L718.3 626.2 L717.6 626.5 L717 626.9 L716.4 627.3 L715.8 627.6 L715.2 627.9 L714.7 628.2 L714.3 628.5 L713.8 628.7 L713.4 628.9 L713 629.2 L712.7 629.3 L712.4 629.5 L712.1 629.7 L711.8 629.8 L711.5 630 L711.3 630.1 L711.1 630.3 L710.8 630.4 L710.6 630.5 L710.4 630.7 L710.2 630.8 L709.9 631 L709.7 631.1 L709.5 631.3 L709.2 631.4 L709 631.6 L708.7 631.8 L708.4 632 L708.1 632.2 L707.8 632.4 L707.5 632.7 L707.1 632.9 L706.8 633.1 L706.5 633.3 L706.2 633.6 L705.9 633.8 L705.6 634 L705.3 634.3 L704.9 634.5 L704.6 634.8 L704.3 635 L704 635.2 L703.7 635.5 L703.4 635.8 L703.1 636 L702.8 636.3 L702.5 636.6 L702.2 636.8 L701.9 637.1 L701.6 637.4 L701.3 637.7 L701 638 L700.7 638.3 L700.4 638.6 L700.1 638.9 L699.8 639.3 L699.6 639.6 L699.3 639.9 L699 640.3 L698.7 640.6 L698.4 641 L698.1 641.3 L697.9 641.7 L697.6 642 L697.3 642.4 L697 642.7 L696.8 643.1 L696.5 643.5 L696.2 643.8 L696 644.2 L695.7 644.6 L695.5 644.9 L695.2 645.3 L695 645.7 L694.7 646 L694.5 646.4 L694.3 646.8 L694 647.1 L693.8 647.5 L693.6 647.8 L693.4 648.2 L693.1 648.6 L692.9 648.9 L692.7 649.3 L692.5 649.7 L692.3 650 L692.1 650.4 L691.9 650.8 L691.7 651.1 L691.5 651.5 L691.3 651.9 L691.1 652.2 L690.9 652.6 L690.7 653 L690.5 653.4 L690.3 653.8 L690.2 654.1 L690 654.5 L689.8 654.9 L689.6 655.3 L689.4 655.7 L689.2 656.1 L689 656.5 L688.9 656.9 L688.7 657.3 L688.5 657.7 L688.3 658.1 L688.2 658.5 L688 658.9 L687.8 659.3 L687.7 659.7 L687.5 660.1 L687.3 660.6 L687.2 661 L687 661.4 L686.8 661.8 L686.7 662.2 L686.5 662.6 L686.4 663 L686.2 663.5 L686 663.9 L685.9 664.3 L685.7 664.7 L685.6 665.1 L685.4 665.5 L685.3 665.9 L685.1 666.3 L685 666.8 L684.9 667.2 L684.7 667.6 L684.6 668 L684.4 668.4 L684.3 668.8 L684.2 669.3 L684 669.7 L683.9 670.1 L683.8 670.5 L683.6 670.9 L683.5 671.3 L683.4 671.8 L683.3 672.2 L683.1 672.6 L683 673 L682.9 673.4 L682.8 673.8 L682.6 674.2 L682.5 674.6 L682.4 675 L682.3 675.4 L682.2 675.8 L682 676.2 L681.9 676.6 L681.8 676.9 L681.7 677.3 L681.6 677.7 L681.5 678.1 L681.4 678.4 L681.2 678.8 L681.1 679.2 L681 679.6 L680.9 679.9 L680.8 680.3 L680.7 680.7 L680.6 681 L680.5 681.4 L680.4 681.8 L680.3 682.1 L680.2 682.5 L680.1 682.9 L680 683.3 L679.9 683.6 L679.8 684 L679.7 684.4 L679.6 684.7 L679.5 685.1 L679.4 685.5 L679.3 685.8 L679.2 686.2 L679.1 686.6 L679 686.9 L678.9 687.3 L678.8 687.7 L678.7 688 L678.6 688.4 L678.6 688.8 L678.5 689.1 L678.4 689.5 L678.3 689.9 L678.2 690.3 L678.1 690.6 L678 691 L677.9 691.4 L677.8 691.8 L677.8 692.2 L677.7 692.6 L677.6 693 L677.5 693.4 L677.4 693.9 L677.3 694.3 L677.2 694.8 L677.2 695.3 L677.1 695.8 L677 696.3 L676.9 696.8 L676.8 697.3 L676.7 697.8 L676.6 698.4 L676.6 698.9 L676.5 699.4 L676.4 699.9 L676.3 700.3 L676.2 700.8 L676.2 701.2 L676.1 701.7 L676 702.1 L676 702.4 L675.9 702.8 L675.9 703.1 L675.8 703.4 L675.8 703.6" fill="none" stroke="#555557" stroke-width="0.4"/>
<path d="M752.6 589.2 L751.8 589.6 L750.8 590 L749.8 590.5 L748.6 591.1 L747.4 591.7 L746 592.3 L744.6 593 L743.1 593.7 L741.5 594.5 L739.9 595.2 L738.3 596 L736.6 596.8 L734.9 597.7 L733.2 598.5 L731.5 599.3 L729.8 600.1 L728.2 600.9 L726.6 601.7 L725 602.5 L723.5 603.2 L722 604 L720.6 604.6 L719.3 605.3 L718.2 605.9 L717 606.5 L715.9 607.1 L714.9 607.6 L713.8 608.2 L712.8 608.7 L711.8 609.3 L710.8 609.8 L709.9 610.4 L709 610.9 L708.1 611.4 L707.2 611.9 L706.4 612.4 L705.5 612.8 L704.7 613.3 L704 613.8 L703.2 614.2 L702.5 614.6 L701.8 615.1 L701.1 615.5 L700.4 615.9 L699.8 616.2 L699.1 616.6 L698.5 617 L698 617.3 L697.4 617.6 L696.9 617.9 L696.4 618.2 L696 618.4 L695.6 618.6 L695.2 618.9 L694.9 619 L694.5 619.2 L694.2 619.4 L694 619.5 L693.7 619.7 L693.5 619.8 L693.2 620 L693 620.1 L692.8 620.2 L692.5 620.4 L692.3 620.5 L692.1 620.7 L691.9 620.8 L691.6 621 L691.4 621.1 L691.1 621.3 L690.9 621.5 L690.6 621.7 L690.2 621.9 L689.9 622.1 L689.6 622.4 L689.3 622.6 L689 622.8 L688.7 623 L688.4 623.3 L688.1 623.5 L687.7 623.7 L687.4 624 L687.1 624.2 L686.8 624.5 L686.5 624.7 L686.2 624.9 L685.9 625.2 L685.6 625.5 L685.2 625.7 L684.9 626 L684.6 626.3 L684.3 626.5 L684 626.8 L683.7 627.1 L683.4 627.4 L683.2 627.7 L682.9 628 L682.6 628.3 L682.3 628.6 L682 629 L681.7 629.3 L681.4 629.6 L681.1 630 L680.9 630.3 L680.6 630.7 L680.3 631 L680 631.4 L679.7 631.7 L679.5 632.1 L679.2 632.4 L678.9 632.8 L678.7 633.2 L678.4 633.5 L678.1 633.9 L677.9 634.3 L677.6 634.6 L677.4 635 L677.1 635.4 L676.9 635.7 L676.7 636.1 L676.4 636.5 L676.2 636.8 L676 637.2 L675.7 637.5 L675.5 637.9 L675.3 638.3 L675.1 638.6 L674.9 639 L674.7 639.4 L674.5 639.7 L674.2 640.1 L674 640.5 L673.8 640.8 L673.6 641.2 L673.5 641.6 L673.3 641.9 L673.1 642.3 L672.9 642.7 L672.7 643.1 L672.5 643.5 L672.3 643.8 L672.1 644.2 L671.9 644.6 L671.8 645 L671.6 645.4 L671.4 645.8 L671.2 646.2 L671 646.6 L670.8 647 L670.7 647.4 L670.5 647.8 L670.3 648.2 L670.2 648.6 L670 649 L669.8 649.4 L669.6 649.8 L669.5 650.3 L669.3 650.7 L669.2 651.1 L669 651.5 L668.8 651.9 L668.7 652.3 L668.5 652.7 L668.4 653.2 L668.2 653.6 L668.1 654 L667.9 654.4 L667.8 654.8 L667.6 655.2 L667.5 655.6 L667.3 656 L667.2 656.5 L667 656.9 L666.9 657.3 L666.7 657.7 L666.6 658.1 L666.5 658.5 L666.3 659 L666.2 659.4 L666.1 659.8 L665.9 660.2 L665.8 660.6 L665.7 661 L665.5 661.5 L665.4 661.9 L665.3 662.3 L665.2 662.7 L665 663.1 L664.9 663.5 L664.8 663.9 L664.7 664.3 L664.6 664.7 L664.4 665.1 L664.3 665.5 L664.2 665.9 L664.1 666.3 L664 666.6 L663.9 667 L663.7 667.4 L663.6 667.8 L663.5 668.1 L663.4 668.5 L663.3 668.9 L663.2 669.3 L663.1 669.6 L663 670 L662.9 670.4 L662.8 670.7 L662.7 671.1 L662.6 671.5 L662.5 671.8 L662.4 672.2 L662.3 672.6 L662.2 673 L662.1 673.3 L662 673.7 L661.9 674.1 L661.8 674.4 L661.7 674.8 L661.6 675.2 L661.5 675.5 L661.4 675.9 L661.3 676.3 L661.2 676.6 L661.1 677 L661 677.4 L660.9 677.7 L660.8 678.1 L660.7 678.5 L660.6 678.8 L660.5 679.2 L660.4 679.6 L660.4 680 L660.3 680.3 L660.2 680.7 L660.1 681.1 L660 681.5 L659.9 681.9 L659.8 682.3 L659.8 682.7 L659.7 683.1 L659.6 683.6 L659.5 684 L659.4 684.5 L659.3 685 L659.2 685.5 L659.1 686 L659.1 686.5 L659 687 L658.9 687.5 L658.8 688.1 L658.7 688.6 L658.6 689.1 L658.6 689.6 L658.5 690 L658.4 690.5 L658.3 690.9 L658.3 691.4 L658.2 691.8 L658.1 692.1 L658.1 692.5 L658 692.8 L658 693.1 L658 693.3 L672.8 701.9 L672.9 701.7 L672.9 701.4 L673 701.1 L673 700.7 L673.1 700.4 L673.2 700 L673.2 699.5 L673.3 699.1 L673.4 698.6 L673.4 698.2 L673.5 697.7 L673.6 697.2 L673.7 696.7 L673.8 696.1 L673.9 695.6 L674 695.1 L674 694.6 L674.1 694.1 L674.2 693.6 L674.3 693.1 L674.4 692.6 L674.5 692.2 L674.6 691.7 L674.6 691.3 L674.7 690.9 L674.8 690.5 L674.9 690.1 L675 689.7 L675.1 689.3 L675.2 688.9 L675.2 688.6 L675.3 688.2 L675.4 687.8 L675.5 687.4 L675.6 687.1 L675.7 686.7 L675.8 686.3 L675.9 686 L676 685.6 L676.1 685.2 L676.2 684.9 L676.3 684.5 L676.4 684.1 L676.5 683.8 L676.6 683.4 L676.6 683 L676.7 682.7 L676.8 682.3 L676.9 681.9 L677 681.6 L677.1 681.2 L677.3 680.8 L677.4 680.4 L677.5 680.1 L677.6 679.7 L677.7 679.3 L677.8 679 L677.9 678.6 L678 678.2 L678.1 677.9 L678.2 677.5 L678.3 677.1 L678.4 676.7 L678.5 676.4 L678.6 676 L678.7 675.6 L678.9 675.2 L679 674.9 L679.1 674.5 L679.2 674.1 L679.3 673.7 L679.4 673.3 L679.6 672.9 L679.7 672.5 L679.8 672.1 L679.9 671.7 L680.1 671.3 L680.2 670.9 L680.3 670.5 L680.4 670.1 L680.6 669.6 L680.7 669.2 L680.8 668.8 L681 668.4 L681.1 668 L681.2 667.6 L681.4 667.1 L681.5 666.7 L681.6 666.3 L681.8 665.9 L681.9 665.5 L682.1 665.1 L682.2 664.6 L682.4 664.2 L682.5 663.8 L682.6 663.4 L682.8 663 L683 662.6 L683.1 662.2 L683.3 661.8 L683.4 661.3 L683.6 660.9 L683.7 660.5 L683.9 660.1 L684 659.7 L684.2 659.3 L684.4 658.9 L684.5 658.4 L684.7 658 L684.9 657.6 L685 657.2 L685.2 656.8 L685.4 656.4 L685.6 656 L685.7 655.6 L685.9 655.2 L686.1 654.8 L686.3 654.4 L686.5 654 L686.6 653.6 L686.8 653.2 L687 652.8 L687.2 652.4 L687.4 652.1 L687.6 651.7 L687.8 651.3 L688 650.9 L688.2 650.5 L688.3 650.2 L688.5 649.8 L688.7 649.4 L688.9 649.1 L689.1 648.7 L689.3 648.3 L689.6 648 L689.8 647.6 L690 647.2 L690.2 646.9 L690.4 646.5 L690.6 646.1 L690.9 645.8 L691.1 645.4 L691.3 645.1 L691.5 644.7 L691.8 644.3 L692 644 L692.3 643.6 L692.5 643.2 L692.8 642.9 L693 642.5 L693.3 642.1 L693.6 641.8 L693.8 641.4 L694.1 641 L694.4 640.7 L694.6 640.3 L694.9 640 L695.2 639.6 L695.5 639.3 L695.8 638.9 L696 638.6 L696.3 638.2 L696.6 637.9 L696.9 637.6 L697.2 637.2 L697.5 636.9 L697.8 636.6 L698 636.3 L698.3 636 L698.6 635.7 L698.9 635.4 L699.2 635.1 L699.5 634.9 L699.8 634.6 L700.1 634.3 L700.4 634.1 L700.8 633.8 L701.1 633.5 L701.4 633.3 L701.7 633 L702 632.8 L702.3 632.6 L702.6 632.3 L702.9 632.1 L703.3 631.9 L703.6 631.6 L703.9 631.4 L704.2 631.2 L704.5 631 L704.8 630.7 L705.1 630.5 L705.4 630.3 L705.7 630.1 L706 629.9 L706.3 629.7 L706.5 629.6 L706.8 629.4 L707 629.3 L707.2 629.1 L707.4 629 L707.7 628.8 L707.9 628.7 L708.1 628.6 L708.3 628.4 L708.6 628.3 L708.9 628.1 L709.1 628 L709.4 627.8 L709.8 627.6 L710.1 627.5 L710.5 627.2 L710.9 627 L711.3 626.8 L711.8 626.5 L712.3 626.2 L712.8 625.9 L713.4 625.6 L714 625.2 L714.7 624.8 L715.3 624.5 L716 624.1 L716.7 623.7 L717.4 623.2 L718.1 622.8 L718.9 622.4 L719.6 621.9 L720.4 621.4 L721.3 621 L722.1 620.5 L723 620 L723.9 619.5 L724.8 619 L725.7 618.4 L726.7 617.9 L727.7 617.3 L728.7 616.8 L729.8 616.2 L730.8 615.7 L731.9 615.1 L733 614.5 L734.2 613.9 L735.5 613.2 L736.9 612.6 L738.4 611.8 L739.9 611.1 L741.5 610.3 L743.1 609.5 L744.7 608.7 L746.4 607.9 L748.1 607.1 L749.8 606.3 L751.5 605.4 L753.2 604.6 L754.8 603.8 L756.4 603.1 L758 602.3 L759.5 601.6 L760.9 600.9 L762.3 600.3 L763.5 599.7 L764.7 599.1 L765.7 598.6 L766.7 598.2 L767.4 597.8Z" fill="#454547" stroke="#262628" stroke-width="0.6"/>
<path d="M749.9 591.1 L763.6 599" fill="none" stroke="#f2f2f2" stroke-width="0.6"/>
<path d="M753.9 593.8 L752.4 593.8 L748 595.9 L748 596.7 L752.8 599.5 L754.4 599.6 L758.8 597.5 L758.8 596.6Z" fill="#fdfdfd" stroke="#1e1e20" stroke-width="0.5"/>
<ellipse cx="753.4" cy="596.7" rx="1.3" ry="0.9" fill="#39393b" stroke="#2a2a2c" stroke-width="0.2"/>
<path d="M749.6 592.2 L748.2 592.8 L749.5 593.6 L750.9 592.9Z" fill="#eeeeee" stroke="#333" stroke-width="0.1"/>
<path d="M746.6 593.6 L745.3 594.3 L746.6 595 L747.9 594.4Z" fill="#eeeeee" stroke="#333" stroke-width="0.1"/>
<path d="M760.2 598.3 L758.9 599 L760.2 599.7 L761.5 599.1Z" fill="#eeeeee" stroke="#333" stroke-width="0.1"/>
<path d="M757.3 599.8 L755.9 600.4 L757.2 601.2 L758.6 600.5Z" fill="#eeeeee" stroke="#333" stroke-width="0.1"/>
<path d="M743.2 594.3 L756.8 602.2" fill="none" stroke="#f2f2f2" stroke-width="0.6"/>
<path d="M747.2 597.1 L745.6 597 L741.3 599.1 L741.2 599.9 L746.1 602.7 L747.7 602.8 L752 600.7 L752 599.9Z" fill="#fdfdfd" stroke="#1e1e20" stroke-width="0.5"/>
<ellipse cx="746.6" cy="599.9" rx="1.3" ry="0.9" fill="#39393b" stroke="#2a2a2c" stroke-width="0.2"/>
<path d="M742.8 595.4 L741.5 596.1 L742.8 596.8 L744.1 596.2Z" fill="#eeeeee" stroke="#333" stroke-width="0.1"/>
<path d="M739.8 596.8 L738.5 597.5 L739.8 598.2 L741.1 597.6Z" fill="#eeeeee" stroke="#333" stroke-width="0.1"/>
<path d="M753.5 601.6 L752.1 602.2 L753.4 603 L754.8 602.3Z" fill="#eeeeee" stroke="#333" stroke-width="0.1"/>
<path d="M750.5 603 L749.1 603.6 L750.4 604.4 L751.8 603.7Z" fill="#eeeeee" stroke="#333" stroke-width="0.1"/>
<path d="M736.4 597.6 L750.1 605.5" fill="none" stroke="#f2f2f2" stroke-width="0.6"/>
<path d="M740.4 600.3 L738.8 600.3 L734.5 602.4 L734.5 603.2 L739.3 606 L740.9 606.1 L745.2 604 L745.3 603.1Z" fill="#fdfdfd" stroke="#1e1e20" stroke-width="0.5"/>
<ellipse cx="739.9" cy="603.2" rx="1.3" ry="0.9" fill="#39393b" stroke="#2a2a2c" stroke-width="0.2"/>
<path d="M736.1 598.7 L734.7 599.3 L736 600.1 L737.4 599.4Z" fill="#eeeeee" stroke="#333" stroke-width="0.1"/>
<path d="M733.1 600.1 L731.7 600.8 L733 601.5 L734.4 600.8Z" fill="#eeeeee" stroke="#333" stroke-width="0.1"/>
<path d="M746.7 604.8 L745.4 605.5 L746.7 606.2 L748 605.6Z" fill="#eeeeee" stroke="#333" stroke-width="0.1"/>
<path d="M743.7 606.2 L742.4 606.9 L743.7 607.7 L745 607Z" fill="#eeeeee" stroke="#333" stroke-width="0.1"/>
<path d="M729.6 600.8 L743.3 608.7" fill="none" stroke="#f2f2f2" stroke-width="0.6"/>
<path d="M733.7 603.6 L732.1 603.5 L727.8 605.6 L727.7 606.5 L732.6 609.3 L734.2 609.3 L738.5 607.2 L738.5 606.4Z" fill="#fdfdfd" stroke="#1e1e20" stroke-width="0.5"/>
<ellipse cx="733.1" cy="606.4" rx="1.3" ry="0.9" fill="#39393b" stroke="#2a2a2c" stroke-width="0.2"/>
<path d="M729.3 601.9 L728 602.6 L729.3 603.3 L730.6 602.7Z" fill="#eeeeee" stroke="#333" stroke-width="0.1"/>
<path d="M726.3 603.4 L725 604 L726.3 604.8 L727.6 604.1Z" fill="#eeeeee" stroke="#333" stroke-width="0.1"/>
<path d="M740 608.1 L738.6 608.7 L739.9 609.5 L741.3 608.8Z" fill="#eeeeee" stroke="#333" stroke-width="0.1"/>
<path d="M737 609.5 L735.6 610.2 L736.9 610.9 L738.3 610.3Z" fill="#eeeeee" stroke="#333" stroke-width="0.1"/>
<path d="M722.9 604.1 L736.6 612" fill="none" stroke="#f2f2f2" stroke-width="0.6"/>
<path d="M726.9 606.9 L725.3 606.8 L721.1 609 L721 609.9 L725.9 612.7 L727.5 612.7 L731.8 610.5 L731.8 609.7Z" fill="#fdfdfd" stroke="#1e1e20" stroke-width="0.5"/>
<ellipse cx="726.4" cy="609.8" rx="1.3" ry="0.9" fill="#39393b" stroke="#2a2a2c" stroke-width="0.2"/>
<path d="M722.6 605.2 L721.2 605.9 L722.5 606.7 L723.9 606Z" fill="#eeeeee" stroke="#333" stroke-width="0.1"/>
<path d="M719.6 606.7 L718.3 607.4 L719.6 608.2 L720.9 607.5Z" fill="#eeeeee" stroke="#333" stroke-width="0.1"/>
<path d="M733.2 611.4 L731.9 612.1 L733.2 612.8 L734.5 612.1Z" fill="#eeeeee" stroke="#333" stroke-width="0.1"/>
<path d="M730.3 612.9 L729 613.6 L730.3 614.3 L731.6 613.6Z" fill="#eeeeee" stroke="#333" stroke-width="0.1"/>
<path d="M716.2 607.5 L729.9 615.4" fill="none" stroke="#f2f2f2" stroke-width="0.6"/>
<path d="M720.3 610.3 L718.7 610.3 L714.5 612.6 L714.5 613.5 L719.3 616.3 L720.9 616.3 L725.1 614 L725.1 613.1Z" fill="#fdfdfd" stroke="#1e1e20" stroke-width="0.5"/>
<ellipse cx="719.8" cy="613.3" rx="1.3" ry="0.9" fill="#39393b" stroke="#2a2a2c" stroke-width="0.2"/>
<path d="M715.9 608.7 L714.6 609.4 L715.9 610.2 L717.2 609.4Z" fill="#eeeeee" stroke="#333" stroke-width="0.1"/>
<path d="M713 610.3 L711.7 611 L713 611.7 L714.3 611Z" fill="#eeeeee" stroke="#333" stroke-width="0.1"/>
<path d="M726.6 614.8 L725.2 615.6 L726.5 616.3 L727.9 615.6Z" fill="#eeeeee" stroke="#333" stroke-width="0.1"/>
<path d="M723.7 616.4 L722.4 617.1 L723.7 617.9 L725 617.2Z" fill="#eeeeee" stroke="#333" stroke-width="0.1"/>
<path d="M709.7 611.2 L723.3 619.1" fill="none" stroke="#f2f2f2" stroke-width="0.6"/>
<path d="M713.7 613.9 L712.1 613.9 L708 616.4 L708 617.3 L712.8 620.1 L714.4 620.1 L718.5 617.6 L718.5 616.7Z" fill="#fdfdfd" stroke="#1e1e20" stroke-width="0.5"/>
<ellipse cx="713.3" cy="617" rx="1.3" ry="1" fill="#39393b" stroke="#2a2a2c" stroke-width="0.2"/>
<path d="M709.3 612.3 L708.1 613.1 L709.4 613.8 L710.7 613.1Z" fill="#eeeeee" stroke="#333" stroke-width="0.1"/>
<path d="M706.5 614 L705.2 614.8 L706.5 615.5 L707.8 614.7Z" fill="#eeeeee" stroke="#333" stroke-width="0.1"/>
<path d="M720 618.5 L718.7 619.2 L720 620 L721.3 619.2Z" fill="#eeeeee" stroke="#333" stroke-width="0.1"/>
<path d="M717.1 620.1 L715.8 620.9 L717.2 621.7 L718.5 620.9Z" fill="#eeeeee" stroke="#333" stroke-width="0.1"/>
<path d="M703.2 615 L716.9 622.9" fill="none" stroke="#f2f2f2" stroke-width="0.6"/>
<path d="M707.2 617.7 L705.6 617.7 L701.5 620.2 L701.5 621.1 L706.3 623.9 L707.9 623.9 L712.1 621.4 L712.1 620.5Z" fill="#fdfdfd" stroke="#1e1e20" stroke-width="0.5"/>
<ellipse cx="706.8" cy="620.8" rx="1.3" ry="1" fill="#39393b" stroke="#2a2a2c" stroke-width="0.2"/>
<path d="M702.9 616.1 L701.6 616.9 L702.9 617.7 L704.2 616.9Z" fill="#eeeeee" stroke="#333" stroke-width="0.1"/>
<path d="M700 617.8 L698.7 618.6 L700 619.3 L701.3 618.6Z" fill="#eeeeee" stroke="#333" stroke-width="0.1"/>
<path d="M713.5 622.3 L712.2 623.1 L713.5 623.8 L714.8 623Z" fill="#eeeeee" stroke="#333" stroke-width="0.1"/>
<path d="M710.7 624 L709.4 624.7 L710.7 625.5 L712 624.7Z" fill="#eeeeee" stroke="#333" stroke-width="0.1"/>
<path d="M696.6 618.7 L710.3 626.6" fill="none" stroke="#f2f2f2" stroke-width="0.6"/>
<path d="M700.6 621.4 L699.1 621.4 L694.9 623.9 L694.9 624.8 L699.8 627.6 L701.4 627.6 L705.5 625.2 L705.5 624.2Z" fill="#fdfdfd" stroke="#1e1e20" stroke-width="0.5"/>
<ellipse cx="700.2" cy="624.5" rx="1.3" ry="1" fill="#39393b" stroke="#2a2a2c" stroke-width="0.2"/>
<path d="M696.3 619.8 L695 620.6 L696.3 621.4 L697.6 620.6Z" fill="#eeeeee" stroke="#333" stroke-width="0.1"/>
<path d="M693.5 621.5 L692.2 622.3 L693.5 623.1 L694.8 622.3Z" fill="#eeeeee" stroke="#333" stroke-width="0.1"/>
<path d="M707 626 L705.7 626.8 L707 627.5 L708.3 626.8Z" fill="#eeeeee" stroke="#333" stroke-width="0.1"/>
<path d="M704.1 627.7 L702.8 628.5 L704.1 629.2 L705.4 628.5Z" fill="#eeeeee" stroke="#333" stroke-width="0.1"/>
<path d="M690 622.7 L703.7 630.6" fill="none" stroke="#f2f2f2" stroke-width="0.6"/>
<path d="M693.9 625.4 L692.4 625.6 L688.4 628.8 L688.5 629.8 L693.6 632.8 L695.1 632.7 L699.2 629.5 L699.1 628.4Z" fill="#fdfdfd" stroke="#1e1e20" stroke-width="0.5"/>
<ellipse cx="693.8" cy="629.1" rx="1.4" ry="1.1" fill="#39393b" stroke="#2a2a2c" stroke-width="0.2"/>
<path d="M689.6 624 L688.4 625 L689.8 625.8 L691.1 624.8Z" fill="#eeeeee" stroke="#333" stroke-width="0.1"/>
<path d="M686.9 626.2 L685.6 627.2 L687.1 628 L688.3 627Z" fill="#eeeeee" stroke="#333" stroke-width="0.1"/>
<path d="M700.5 630.2 L699.2 631.3 L700.6 632.1 L701.9 631.1Z" fill="#eeeeee" stroke="#333" stroke-width="0.1"/>
<path d="M697.7 632.4 L696.5 633.5 L697.9 634.3 L699.2 633.2Z" fill="#eeeeee" stroke="#333" stroke-width="0.1"/>
<path d="M683.7 627.9 L697.3 635.8" fill="none" stroke="#f2f2f2" stroke-width="0.8"/>
<path d="M687.4 630.6 L686 630.9 L682.5 635.3 L682.8 636.4 L688.4 639.7 L689.7 639.4 L693.2 635 L693 633.9Z" fill="#fdfdfd" stroke="#1e1e20" stroke-width="0.5"/>
<ellipse cx="687.9" cy="635.1" rx="1.6" ry="1.2" fill="#39393b" stroke="#2a2a2c" stroke-width="0.2"/>
<path d="M683.3 629.3 L682.2 630.8 L683.7 631.7 L684.9 630.3Z" fill="#eeeeee" stroke="#333" stroke-width="0.1"/>
<path d="M681 632.3 L679.8 633.7 L681.4 634.6 L682.5 633.2Z" fill="#eeeeee" stroke="#333" stroke-width="0.1"/>
<path d="M694.3 635.7 L693.2 637.1 L694.8 638 L695.9 636.6Z" fill="#eeeeee" stroke="#333" stroke-width="0.1"/>
<path d="M692 638.6 L690.9 640 L692.5 641 L693.6 639.5Z" fill="#eeeeee" stroke="#333" stroke-width="0.1"/>
<path d="M678.3 634.6 L692 642.5" fill="none" stroke="#f2f2f2" stroke-width="0.8"/>
<path d="M682 637.3 L680.7 637.6 L677.7 642.7 L678 643.9 L683.9 647.2 L685.1 646.9 L688.1 641.9 L687.8 640.7Z" fill="#fdfdfd" stroke="#1e1e20" stroke-width="0.5"/>
<ellipse cx="682.9" cy="642.3" rx="1.6" ry="1.3" fill="#39393b" stroke="#2a2a2c" stroke-width="0.2"/>
<path d="M678 636.1 L677 637.8 L678.7 638.7 L679.6 637.1Z" fill="#eeeeee" stroke="#333" stroke-width="0.1"/>
<path d="M676 639.4 L675.1 641 L676.7 642 L677.7 640.4Z" fill="#eeeeee" stroke="#333" stroke-width="0.1"/>
<path d="M689.1 642.6 L688.2 644.2 L689.8 645.1 L690.8 643.5Z" fill="#eeeeee" stroke="#333" stroke-width="0.1"/>
<path d="M687.2 645.8 L686.2 647.5 L687.8 648.4 L688.8 646.8Z" fill="#eeeeee" stroke="#333" stroke-width="0.1"/>
<path d="M673.8 642.2 L687.5 650.1" fill="none" stroke="#f2f2f2" stroke-width="0.9"/>
<path d="M677.5 644.9 L676.3 645.2 L673.8 650.7 L674.2 652 L680.2 655.4 L681.3 655 L683.8 649.6 L683.4 648.3Z" fill="#fdfdfd" stroke="#1e1e20" stroke-width="0.5"/>
<ellipse cx="678.8" cy="650.1" rx="1.7" ry="1.4" fill="#39393b" stroke="#2a2a2c" stroke-width="0.2"/>
<path d="M673.6 643.7 L672.8 645.5 L674.5 646.5 L675.3 644.7Z" fill="#eeeeee" stroke="#333" stroke-width="0.1"/>
<path d="M672 647.3 L671.1 649.1 L672.8 650.1 L673.7 648.3Z" fill="#eeeeee" stroke="#333" stroke-width="0.1"/>
<path d="M684.8 650.2 L684 652 L685.7 653 L686.5 651.2Z" fill="#eeeeee" stroke="#333" stroke-width="0.1"/>
<path d="M683.2 653.8 L682.3 655.5 L684 656.5 L684.9 654.7Z" fill="#eeeeee" stroke="#333" stroke-width="0.1"/>
<path d="M670.2 650.3 L683.8 658.2" fill="none" stroke="#f2f2f2" stroke-width="0.9"/>
<path d="M673.8 653 L672.7 653.4 L670.6 659.1 L671.1 660.4 L677.1 663.9 L678.2 663.5 L680.3 657.8 L679.8 656.5Z" fill="#fdfdfd" stroke="#1e1e20" stroke-width="0.5"/>
<ellipse cx="675.4" cy="658.4" rx="1.7" ry="1.4" fill="#39393b" stroke="#2a2a2c" stroke-width="0.2"/>
<path d="M670 651.9 L669.3 653.8 L671 654.8 L671.7 652.9Z" fill="#eeeeee" stroke="#333" stroke-width="0.1"/>
<path d="M668.6 655.6 L667.9 657.5 L669.7 658.5 L670.3 656.6Z" fill="#eeeeee" stroke="#333" stroke-width="0.1"/>
<path d="M681.2 658.4 L680.5 660.3 L682.3 661.3 L683 659.4Z" fill="#eeeeee" stroke="#333" stroke-width="0.1"/>
<path d="M679.9 662.1 L679.2 664 L680.9 665 L681.6 663.1Z" fill="#eeeeee" stroke="#333" stroke-width="0.1"/>
<path d="M667.1 658.7 L680.8 666.6" fill="none" stroke="#f2f2f2" stroke-width="0.9"/>
<path d="M670.7 661.4 L669.7 661.9 L667.9 667.7 L668.4 669 L674.5 672.5 L675.5 672.1 L677.3 666.3 L676.8 664.9Z" fill="#fdfdfd" stroke="#1e1e20" stroke-width="0.5"/>
<ellipse cx="672.6" cy="667" rx="1.7" ry="1.4" fill="#39393b" stroke="#2a2a2c" stroke-width="0.2"/>
<path d="M667 660.4 L666.4 662.3 L668.1 663.3 L668.7 661.4Z" fill="#eeeeee" stroke="#333" stroke-width="0.1"/>
<path d="M665.8 664.2 L665.2 666.1 L667 667.1 L667.6 665.2Z" fill="#eeeeee" stroke="#333" stroke-width="0.1"/>
<path d="M678.3 666.9 L677.7 668.8 L679.4 669.8 L680 667.9Z" fill="#eeeeee" stroke="#333" stroke-width="0.1"/>
<path d="M677.1 670.7 L676.5 672.6 L678.2 673.6 L678.8 671.7Z" fill="#eeeeee" stroke="#333" stroke-width="0.1"/>
<path d="M664.4 667.3 L678.1 675.2" fill="none" stroke="#f2f2f2" stroke-width="0.9"/>
<path d="M668.1 670 L667.1 670.5 L665.4 676.4 L666 677.7 L672 681.2 L673 680.8 L674.7 674.9 L674.2 673.5Z" fill="#fdfdfd" stroke="#1e1e20" stroke-width="0.5"/>
<ellipse cx="670.1" cy="675.6" rx="1.7" ry="1.4" fill="#39393b" stroke="#2a2a2c" stroke-width="0.2"/>
<path d="M664.4 669 L663.8 670.9 L665.6 671.9 L666.1 670Z" fill="#eeeeee" stroke="#333" stroke-width="0.1"/>
<path d="M663.3 672.8 L662.8 674.7 L664.5 675.7 L665 673.8Z" fill="#eeeeee" stroke="#333" stroke-width="0.1"/>
<path d="M675.6 675.5 L675.1 677.4 L676.8 678.4 L677.4 676.5Z" fill="#eeeeee" stroke="#333" stroke-width="0.1"/>
<path d="M674.6 679.3 L674 681.2 L675.7 682.2 L676.3 680.3Z" fill="#eeeeee" stroke="#333" stroke-width="0.1"/>
<path d="M662 676 L675.6 683.9" fill="none" stroke="#f2f2f2" stroke-width="0.9"/>
<path d="M665.6 678.7 L664.7 679.1 L663.3 685.1 L663.9 686.4 L669.9 689.9 L670.9 689.5 L672.3 683.5 L671.7 682.2Z" fill="#fdfdfd" stroke="#1e1e20" stroke-width="0.5"/>
<ellipse cx="667.8" cy="684.3" rx="1.7" ry="1.4" fill="#39393b" stroke="#2a2a2c" stroke-width="0.2"/>
<path d="M662 677.7 L661.5 679.6 L663.2 680.6 L663.7 678.7Z" fill="#eeeeee" stroke="#333" stroke-width="0.1"/>
<path d="M661.1 681.5 L660.6 683.5 L662.4 684.5 L662.8 682.5Z" fill="#eeeeee" stroke="#333" stroke-width="0.1"/>
<path d="M673.2 684.2 L672.8 686.1 L674.5 687.1 L675 685.2Z" fill="#eeeeee" stroke="#333" stroke-width="0.1"/>
<path d="M672.3 688 L671.9 690 L673.6 691 L674.1 689Z" fill="#eeeeee" stroke="#333" stroke-width="0.1"/>
<path d="M660 684.8 L673.7 692.7" fill="none" stroke="#f2f2f2" stroke-width="0.9"/>
<path d="M663.7 687.5 L662.8 687.9 L661.8 694 L662.4 695.3 L668.5 698.8 L669.4 698.4 L670.4 692.3 L669.8 691Z" fill="#fdfdfd" stroke="#1e1e20" stroke-width="0.5"/>
<ellipse cx="666.1" cy="693.2" rx="1.7" ry="1.4" fill="#39393b" stroke="#2a2a2c" stroke-width="0.2"/>
<path d="M660.1 686.5 L659.8 688.4 L661.5 689.4 L661.8 687.5Z" fill="#eeeeee" stroke="#333" stroke-width="0.1"/>
<path d="M659.5 690.4 L659.1 692.3 L660.9 693.3 L661.2 691.4Z" fill="#eeeeee" stroke="#333" stroke-width="0.1"/>
<path d="M671.4 693 L671 694.9 L672.8 695.9 L673.1 694Z" fill="#eeeeee" stroke="#333" stroke-width="0.1"/>
<path d="M670.7 696.9 L670.4 698.8 L672.1 699.8 L672.5 697.9Z" fill="#eeeeee" stroke="#333" stroke-width="0.1"/>
<path d="M785.8 780.2 L803.6 793.1 L1026.8 659.8 L1040 650 L1030 640 L840 735Z" fill="#fff" stroke="#2c2c2e" stroke-width="0.5"/>
<path d="M785.8 780.2 L803.6 793.1 L803.6 795.6 L785.8 782.8Z" fill="#fff" stroke="#2c2c2e" stroke-width="0.5"/>
<path d="M803.6 795.6 L1027 662.2" fill="none" stroke="#2c2c2e" stroke-width="0.5"/>
<path d="M802.8 790.4 L1024.8 658" fill="none" stroke="#2c2c2e" stroke-width="0.5"/>
<path d="M803.2 790.8 L803.7 793.1" fill="none" stroke="#3a3a3c" stroke-width="0.5"/>
<path d="M804.3 790.1 L804.8 792.4" fill="none" stroke="#3a3a3c" stroke-width="0.5"/>
<path d="M805.4 789.5 L805.9 791.8" fill="none" stroke="#3a3a3c" stroke-width="0.5"/>
<path d="M806.5 788.8 L807 791.1" fill="none" stroke="#3a3a3c" stroke-width="0.5"/>
<path d="M807.6 788.2 L808.1 790.5" fill="none" stroke="#3a3a3c" stroke-width="0.5"/>
<path d="M808.8 787.5 L809.3 789.8" fill="none" stroke="#3a3a3c" stroke-width="0.5"/>
<path d="M809.9 786.8 L810.4 789.1" fill="none" stroke="#3a3a3c" stroke-width="0.5"/>
<path d="M811 786.2 L811.5 788.5" fill="none" stroke="#3a3a3c" stroke-width="0.5"/>
<path d="M812.1 785.5 L812.6 787.8" fill="none" stroke="#3a3a3c" stroke-width="0.5"/>
<path d="M813.2 784.8 L813.7 787.1" fill="none" stroke="#3a3a3c" stroke-width="0.5"/>
<path d="M814.3 784.2 L814.8 786.5" fill="none" stroke="#3a3a3c" stroke-width="0.5"/>
<path d="M815.4 783.5 L815.9 785.8" fill="none" stroke="#3a3a3c" stroke-width="0.5"/>
<path d="M816.5 782.9 L817 785.2" fill="none" stroke="#3a3a3c" stroke-width="0.5"/>
<path d="M817.6 782.2 L818.1 784.5" fill="none" stroke="#3a3a3c" stroke-width="0.5"/>
<path d="M818.8 781.5 L819.3 783.8" fill="none" stroke="#3a3a3c" stroke-width="0.5"/>
<path d="M819.9 780.9 L820.4 783.2" fill="none" stroke="#3a3a3c" stroke-width="0.5"/>
<path d="M821 780.2 L821.5 782.5" fill="none" stroke="#3a3a3c" stroke-width="0.5"/>
<path d="M822.1 779.5 L822.6 781.8" fill="none" stroke="#3a3a3c" stroke-width="0.5"/>
<path d="M823.2 778.9 L823.7 781.2" fill="none" stroke="#3a3a3c" stroke-width="0.5"/>
<path d="M824.3 778.2 L824.8 780.5" fill="none" stroke="#3a3a3c" stroke-width="0.5"/>
<path d="M825.4 777.6 L825.9 779.9" fill="none" stroke="#3a3a3c" stroke-width="0.5"/>
<path d="M826.5 776.9 L827 779.2" fill="none" stroke="#3a3a3c" stroke-width="0.5"/>
<path d="M827.7 776.2 L828.2 778.5" fill="none" stroke="#3a3a3c" stroke-width="0.5"/>
<path d="M828.8 775.6 L829.3 777.9" fill="none" stroke="#3a3a3c" stroke-width="0.5"/>
<path d="M829.9 774.9 L830.4 777.2" fill="none" stroke="#3a3a3c" stroke-width="0.5"/>
<path d="M831 774.2 L831.5 776.5" fill="none" stroke="#3a3a3c" stroke-width="0.5"/>
<path d="M832.1 773.6 L832.6 775.9" fill="none" stroke="#3a3a3c" stroke-width="0.5"/>
<path d="M833.2 772.9 L833.7 775.2" fill="none" stroke="#3a3a3c" stroke-width="0.5"/>
<path d="M834.3 772.3 L834.8 774.6" fill="none" stroke="#3a3a3c" stroke-width="0.5"/>
<path d="M835.4 771.6 L835.9 773.9" fill="none" stroke="#3a3a3c" stroke-width="0.5"/>
<path d="M836.5 770.9 L837 773.2" fill="none" stroke="#3a3a3c" stroke-width="0.5"/>
<path d="M837.7 770.3 L838.2 772.6" fill="none" stroke="#3a3a3c" stroke-width="0.5"/>
<path d="M838.8 769.6 L839.3 771.9" fill="none" stroke="#3a3a3c" stroke-width="0.5"/>
<path d="M839.9 769 L840.4 771.3" fill="none" stroke="#3a3a3c" stroke-width="0.5"/>
<path d="M841 768.3 L841.5 770.6" fill="none" stroke="#3a3a3c" stroke-width="0.5"/>
<path d="M842.1 767.6 L842.6 769.9" fill="none" stroke="#3a3a3c" stroke-width="0.5"/>
<path d="M843.2 767 L843.7 769.3" fill="none" stroke="#3a3a3c" stroke-width="0.5"/>
<path d="M844.3 766.3 L844.8 768.6" fill="none" stroke="#3a3a3c" stroke-width="0.5"/>
<path d="M845.4 765.6 L845.9 767.9" fill="none" stroke="#3a3a3c" stroke-width="0.5"/>
<path d="M846.5 765 L847 767.3" fill="none" stroke="#3a3a3c" stroke-width="0.5"/>
<path d="M847.7 764.3 L848.2 766.6" fill="none" stroke="#3a3a3c" stroke-width="0.5"/>
<path d="M848.8 763.7 L849.3 766" fill="none" stroke="#3a3a3c" stroke-width="0.5"/>
<path d="M849.9 763 L850.4 765.3" fill="none" stroke="#3a3a3c" stroke-width="0.5"/>
<path d="M851 762.3 L851.5 764.6" fill="none" stroke="#3a3a3c" stroke-width="0.5"/>
<path d="M852.1 761.7 L852.6 764" fill="none" stroke="#3a3a3c" stroke-width="0.5"/>
<path d="M853.2 761 L853.7 763.3" fill="none" stroke="#3a3a3c" stroke-width="0.5"/>
<path d="M854.3 760.3 L854.8 762.6" fill="none" stroke="#3a3a3c" stroke-width="0.5"/>
<path d="M855.4 759.7 L855.9 762" fill="none" stroke="#3a3a3c" stroke-width="0.5"/>
<path d="M856.6 759 L857.1 761.3" fill="none" stroke="#3a3a3c" stroke-width="0.5"/>
<path d="M857.7 758.4 L858.2 760.7" fill="none" stroke="#3a3a3c" stroke-width="0.5"/>
<path d="M858.8 757.7 L859.3 760" fill="none" stroke="#3a3a3c" stroke-width="0.5"/>
<path d="M859.9 757 L860.4 759.3" fill="none" stroke="#3a3a3c" stroke-width="0.5"/>
<path d="M861 756.4 L861.5 758.7" fill="none" stroke="#3a3a3c" stroke-width="0.5"/>
<path d="M862.1 755.7 L862.6 758" fill="none" stroke="#3a3a3c" stroke-width="0.5"/>
<path d="M863.2 755.1 L863.7 757.4" fill="none" stroke="#3a3a3c" stroke-width="0.5"/>
<path d="M864.3 754.4 L864.8 756.7" fill="none" stroke="#3a3a3c" stroke-width="0.5"/>
<path d="M865.4 753.7 L865.9 756" fill="none" stroke="#3a3a3c" stroke-width="0.5"/>
<path d="M866.6 753.1 L867.1 755.4" fill="none" stroke="#3a3a3c" stroke-width="0.5"/>
<path d="M867.7 752.4 L868.2 754.7" fill="none" stroke="#3a3a3c" stroke-width="0.5"/>
<path d="M868.8 751.7 L869.3 754" fill="none" stroke="#3a3a3c" stroke-width="0.5"/>
<path d="M869.9 751.1 L870.4 753.4" fill="none" stroke="#3a3a3c" stroke-width="0.5"/>
<path d="M871 750.4 L871.5 752.7" fill="none" stroke="#3a3a3c" stroke-width="0.5"/>
<path d="M872.1 749.8 L872.6 752.1" fill="none" stroke="#3a3a3c" stroke-width="0.5"/>
<path d="M873.2 749.1 L873.7 751.4" fill="none" stroke="#3a3a3c" stroke-width="0.5"/>
<path d="M874.3 748.4 L874.8 750.7" fill="none" stroke="#3a3a3c" stroke-width="0.5"/>
<path d="M875.4 747.8 L875.9 750.1" fill="none" stroke="#3a3a3c" stroke-width="0.5"/>
<path d="M876.6 747.1 L877.1 749.4" fill="none" stroke="#3a3a3c" stroke-width="0.5"/>
<path d="M877.7 746.4 L878.2 748.7" fill="none" stroke="#3a3a3c" stroke-width="0.5"/>
<path d="M878.8 745.8 L879.3 748.1" fill="none" stroke="#3a3a3c" stroke-width="0.5"/>
<path d="M879.9 745.1 L880.4 747.4" fill="none" stroke="#3a3a3c" stroke-width="0.5"/>
<path d="M881 744.5 L881.5 746.8" fill="none" stroke="#3a3a3c" stroke-width="0.5"/>
<path d="M882.1 743.8 L882.6 746.1" fill="none" stroke="#3a3a3c" stroke-width="0.5"/>
<path d="M883.2 743.1 L883.7 745.4" fill="none" stroke="#3a3a3c" stroke-width="0.5"/>
<path d="M884.3 742.5 L884.8 744.8" fill="none" stroke="#3a3a3c" stroke-width="0.5"/>
<path d="M885.5 741.8 L886 744.1" fill="none" stroke="#3a3a3c" stroke-width="0.5"/>
<path d="M886.6 741.1 L887.1 743.4" fill="none" stroke="#3a3a3c" stroke-width="0.5"/>
<path d="M887.7 740.5 L888.2 742.8" fill="none" stroke="#3a3a3c" stroke-width="0.5"/>
<path d="M888.8 739.8 L889.3 742.1" fill="none" stroke="#3a3a3c" stroke-width="0.5"/>
<path d="M889.9 739.2 L890.4 741.5" fill="none" stroke="#3a3a3c" stroke-width="0.5"/>
<path d="M891 738.5 L891.5 740.8" fill="none" stroke="#3a3a3c" stroke-width="0.5"/>
<path d="M892.1 737.8 L892.6 740.1" fill="none" stroke="#3a3a3c" stroke-width="0.5"/>
<path d="M893.2 737.2 L893.7 739.5" fill="none" stroke="#3a3a3c" stroke-width="0.5"/>
<path d="M894.3 736.5 L894.8 738.8" fill="none" stroke="#3a3a3c" stroke-width="0.5"/>
<path d="M895.5 735.9 L896 738.2" fill="none" stroke="#3a3a3c" stroke-width="0.5"/>
<path d="M896.6 735.2 L897.1 737.5" fill="none" stroke="#3a3a3c" stroke-width="0.5"/>
<path d="M897.7 734.5 L898.2 736.8" fill="none" stroke="#3a3a3c" stroke-width="0.5"/>
<path d="M898.8 733.9 L899.3 736.2" fill="none" stroke="#3a3a3c" stroke-width="0.5"/>
<path d="M899.9 733.2 L900.4 735.5" fill="none" stroke="#3a3a3c" stroke-width="0.5"/>
<path d="M901 732.5 L901.5 734.8" fill="none" stroke="#3a3a3c" stroke-width="0.5"/>
<path d="M902.1 731.9 L902.6 734.2" fill="none" stroke="#3a3a3c" stroke-width="0.5"/>
<path d="M903.2 731.2 L903.7 733.5" fill="none" stroke="#3a3a3c" stroke-width="0.5"/>
<path d="M904.3 730.6 L904.8 732.9" fill="none" stroke="#3a3a3c" stroke-width="0.5"/>
<path d="M905.5 729.9 L906 732.2" fill="none" stroke="#3a3a3c" stroke-width="0.5"/>
<path d="M906.6 729.2 L907.1 731.5" fill="none" stroke="#3a3a3c" stroke-width="0.5"/>
<path d="M907.7 728.6 L908.2 730.9" fill="none" stroke="#3a3a3c" stroke-width="0.5"/>
<path d="M908.8 727.9 L909.3 730.2" fill="none" stroke="#3a3a3c" stroke-width="0.5"/>
<path d="M909.9 727.2 L910.4 729.5" fill="none" stroke="#3a3a3c" stroke-width="0.5"/>
<path d="M911 726.6 L911.5 728.9" fill="none" stroke="#3a3a3c" stroke-width="0.5"/>
<path d="M912.1 725.9 L912.6 728.2" fill="none" stroke="#3a3a3c" stroke-width="0.5"/>
<path d="M913.2 725.3 L913.7 727.6" fill="none" stroke="#3a3a3c" stroke-width="0.5"/>
<path d="M914.4 724.6 L914.9 726.9" fill="none" stroke="#3a3a3c" stroke-width="0.5"/>
<path d="M915.5 723.9 L916 726.2" fill="none" stroke="#3a3a3c" stroke-width="0.5"/>
<path d="M916.6 723.3 L917.1 725.6" fill="none" stroke="#3a3a3c" stroke-width="0.5"/>
<path d="M917.7 722.6 L918.2 724.9" fill="none" stroke="#3a3a3c" stroke-width="0.5"/>
<path d="M918.8 722 L919.3 724.3" fill="none" stroke="#3a3a3c" stroke-width="0.5"/>
<path d="M919.9 721.3 L920.4 723.6" fill="none" stroke="#3a3a3c" stroke-width="0.5"/>
<path d="M921 720.6 L921.5 722.9" fill="none" stroke="#3a3a3c" stroke-width="0.5"/>
<path d="M922.1 720 L922.6 722.3" fill="none" stroke="#3a3a3c" stroke-width="0.5"/>
<path d="M923.2 719.3 L923.7 721.6" fill="none" stroke="#3a3a3c" stroke-width="0.5"/>
<path d="M924.4 718.6 L924.9 720.9" fill="none" stroke="#3a3a3c" stroke-width="0.5"/>
<path d="M925.5 718 L926 720.3" fill="none" stroke="#3a3a3c" stroke-width="0.5"/>
<path d="M926.6 717.3 L927.1 719.6" fill="none" stroke="#3a3a3c" stroke-width="0.5"/>
<path d="M927.7 716.7 L928.2 719" fill="none" stroke="#3a3a3c" stroke-width="0.5"/>
<path d="M928.8 716 L929.3 718.3" fill="none" stroke="#3a3a3c" stroke-width="0.5"/>
<path d="M929.9 715.3 L930.4 717.6" fill="none" stroke="#3a3a3c" stroke-width="0.5"/>
<path d="M931 714.7 L931.5 717" fill="none" stroke="#3a3a3c" stroke-width="0.5"/>
<path d="M932.1 714 L932.6 716.3" fill="none" stroke="#3a3a3c" stroke-width="0.5"/>
<path d="M933.2 713.3 L933.7 715.6" fill="none" stroke="#3a3a3c" stroke-width="0.5"/>
<path d="M934.4 712.7 L934.9 715" fill="none" stroke="#3a3a3c" stroke-width="0.5"/>
<path d="M935.5 712 L936 714.3" fill="none" stroke="#3a3a3c" stroke-width="0.5"/>
<path d="M936.6 711.4 L937.1 713.7" fill="none" stroke="#3a3a3c" stroke-width="0.5"/>
<path d="M937.7 710.7 L938.2 713" fill="none" stroke="#3a3a3c" stroke-width="0.5"/>
<path d="M938.8 710 L939.3 712.3" fill="none" stroke="#3a3a3c" stroke-width="0.5"/>
<path d="M939.9 709.4 L940.4 711.7" fill="none" stroke="#3a3a3c" stroke-width="0.5"/>
<path d="M941 708.7 L941.5 711" fill="none" stroke="#3a3a3c" stroke-width="0.5"/>
<path d="M942.1 708 L942.6 710.3" fill="none" stroke="#3a3a3c" stroke-width="0.5"/>
<path d="M943.2 707.4 L943.7 709.7" fill="none" stroke="#3a3a3c" stroke-width="0.5"/>
<path d="M944.4 706.7 L944.9 709" fill="none" stroke="#3a3a3c" stroke-width="0.5"/>
<path d="M945.5 706.1 L946 708.4" fill="none" stroke="#3a3a3c" stroke-width="0.5"/>
<path d="M946.6 705.4 L947.1 707.7" fill="none" stroke="#3a3a3c" stroke-width="0.5"/>
<path d="M947.7 704.7 L948.2 707" fill="none" stroke="#3a3a3c" stroke-width="0.5"/>
<path d="M948.8 704.1 L949.3 706.4" fill="none" stroke="#3a3a3c" stroke-width="0.5"/>
<path d="M949.9 703.4 L950.4 705.7" fill="none" stroke="#3a3a3c" stroke-width="0.5"/>
<path d="M951 702.8 L951.5 705.1" fill="none" stroke="#3a3a3c" stroke-width="0.5"/>
<path d="M952.1 702.1 L952.6 704.4" fill="none" stroke="#3a3a3c" stroke-width="0.5"/>
<path d="M953.3 701.4 L953.8 703.7" fill="none" stroke="#3a3a3c" stroke-width="0.5"/>
<path d="M954.4 700.8 L954.9 703.1" fill="none" stroke="#3a3a3c" stroke-width="0.5"/>
<path d="M955.5 700.1 L956 702.4" fill="none" stroke="#3a3a3c" stroke-width="0.5"/>
<path d="M956.6 699.4 L957.1 701.7" fill="none" stroke="#3a3a3c" stroke-width="0.5"/>
<path d="M957.7 698.8 L958.2 701.1" fill="none" stroke="#3a3a3c" stroke-width="0.5"/>
<path d="M958.8 698.1 L959.3 700.4" fill="none" stroke="#3a3a3c" stroke-width="0.5"/>
<path d="M959.9 697.5 L960.4 699.8" fill="none" stroke="#3a3a3c" stroke-width="0.5"/>
<path d="M961 696.8 L961.5 699.1" fill="none" stroke="#3a3a3c" stroke-width="0.5"/>
<path d="M962.1 696.1 L962.6 698.4" fill="none" stroke="#3a3a3c" stroke-width="0.5"/>
<path d="M963.3 695.5 L963.8 697.8" fill="none" stroke="#3a3a3c" stroke-width="0.5"/>
<path d="M964.4 694.8 L964.9 697.1" fill="none" stroke="#3a3a3c" stroke-width="0.5"/>
<path d="M965.5 694.1 L966 696.4" fill="none" stroke="#3a3a3c" stroke-width="0.5"/>
<path d="M966.6 693.5 L967.1 695.8" fill="none" stroke="#3a3a3c" stroke-width="0.5"/>
<path d="M967.7 692.8 L968.2 695.1" fill="none" stroke="#3a3a3c" stroke-width="0.5"/>
<path d="M968.8 692.2 L969.3 694.5" fill="none" stroke="#3a3a3c" stroke-width="0.5"/>
<path d="M969.9 691.5 L970.4 693.8" fill="none" stroke="#3a3a3c" stroke-width="0.5"/>
<path d="M971 690.8 L971.5 693.1" fill="none" stroke="#3a3a3c" stroke-width="0.5"/>
<path d="M972.1 690.2 L972.6 692.5" fill="none" stroke="#3a3a3c" stroke-width="0.5"/>
<path d="M973.3 689.5 L973.8 691.8" fill="none" stroke="#3a3a3c" stroke-width="0.5"/>
<path d="M974.4 688.9 L974.9 691.2" fill="none" stroke="#3a3a3c" stroke-width="0.5"/>
<path d="M975.5 688.2 L976 690.5" fill="none" stroke="#3a3a3c" stroke-width="0.5"/>
<path d="M976.6 687.5 L977.1 689.8" fill="none" stroke="#3a3a3c" stroke-width="0.5"/>
<path d="M977.7 686.9 L978.2 689.2" fill="none" stroke="#3a3a3c" stroke-width="0.5"/>
<path d="M978.8 686.2 L979.3 688.5" fill="none" stroke="#3a3a3c" stroke-width="0.5"/>
<path d="M979.9 685.5 L980.4 687.8" fill="none" stroke="#3a3a3c" stroke-width="0.5"/>
<path d="M981 684.9 L981.5 687.2" fill="none" stroke="#3a3a3c" stroke-width="0.5"/>
<path d="M982.2 684.2 L982.7 686.5" fill="none" stroke="#3a3a3c" stroke-width="0.5"/>
<path d="M983.3 683.6 L983.8 685.9" fill="none" stroke="#3a3a3c" stroke-width="0.5"/>
<path d="M984.4 682.9 L984.9 685.2" fill="none" stroke="#3a3a3c" stroke-width="0.5"/>
<path d="M985.5 682.2 L986 684.5" fill="none" stroke="#3a3a3c" stroke-width="0.5"/>
<path d="M986.6 681.6 L987.1 683.9" fill="none" stroke="#3a3a3c" stroke-width="0.5"/>
<path d="M987.7 680.9 L988.2 683.2" fill="none" stroke="#3a3a3c" stroke-width="0.5"/>
<path d="M988.8 680.2 L989.3 682.5" fill="none" stroke="#3a3a3c" stroke-width="0.5"/>
<path d="M989.9 679.6 L990.4 681.9" fill="none" stroke="#3a3a3c" stroke-width="0.5"/>
<path d="M991 678.9 L991.5 681.2" fill="none" stroke="#3a3a3c" stroke-width="0.5"/>
<path d="M992.2 678.3 L992.7 680.6" fill="none" stroke="#3a3a3c" stroke-width="0.5"/>
<path d="M993.3 677.6 L993.8 679.9" fill="none" stroke="#3a3a3c" stroke-width="0.5"/>
<path d="M994.4 676.9 L994.9 679.2" fill="none" stroke="#3a3a3c" stroke-width="0.5"/>
<path d="M995.5 676.3 L996 678.6" fill="none" stroke="#3a3a3c" stroke-width="0.5"/>
<path d="M996.6 675.6 L997.1 677.9" fill="none" stroke="#3a3a3c" stroke-width="0.5"/>
<path d="M997.7 674.9 L998.2 677.2" fill="none" stroke="#3a3a3c" stroke-width="0.5"/>
<path d="M998.8 674.3 L999.3 676.6" fill="none" stroke="#3a3a3c" stroke-width="0.5"/>
<path d="M999.9 673.6 L1000.4 675.9" fill="none" stroke="#3a3a3c" stroke-width="0.5"/>
<path d="M1001 673 L1001.5 675.3" fill="none" stroke="#3a3a3c" stroke-width="0.5"/>
<path d="M1002.2 672.3 L1002.7 674.6" fill="none" stroke="#3a3a3c" stroke-width="0.5"/>
<path d="M1003.3 671.6 L1003.8 673.9" fill="none" stroke="#3a3a3c" stroke-width="0.5"/>
<path d="M1004.4 671 L1004.9 673.3" fill="none" stroke="#3a3a3c" stroke-width="0.5"/>
<path d="M1005.5 670.3 L1006 672.6" fill="none" stroke="#3a3a3c" stroke-width="0.5"/>
<path d="M1006.6 669.7 L1007.1 672" fill="none" stroke="#3a3a3c" stroke-width="0.5"/>
<path d="M1007.7 669 L1008.2 671.3" fill="none" stroke="#3a3a3c" stroke-width="0.5"/>
<path d="M1008.8 668.3 L1009.3 670.6" fill="none" stroke="#3a3a3c" stroke-width="0.5"/>
<path d="M1009.9 667.7 L1010.4 670" fill="none" stroke="#3a3a3c" stroke-width="0.5"/>
<path d="M1011.1 667 L1011.6 669.3" fill="none" stroke="#3a3a3c" stroke-width="0.5"/>
<path d="M1012.2 666.3 L1012.7 668.6" fill="none" stroke="#3a3a3c" stroke-width="0.5"/>
<path d="M1013.3 665.7 L1013.8 668" fill="none" stroke="#3a3a3c" stroke-width="0.5"/>
<path d="M1014.4 665 L1014.9 667.3" fill="none" stroke="#3a3a3c" stroke-width="0.5"/>
<path d="M1015.5 664.4 L1016 666.7" fill="none" stroke="#3a3a3c" stroke-width="0.5"/>
<path d="M1016.6 663.7 L1017.1 666" fill="none" stroke="#3a3a3c" stroke-width="0.5"/>
<path d="M1017.7 663 L1018.2 665.3" fill="none" stroke="#3a3a3c" stroke-width="0.5"/>
<path d="M1018.8 662.4 L1019.3 664.7" fill="none" stroke="#3a3a3c" stroke-width="0.5"/>
<path d="M1019.9 661.7 L1020.4 664" fill="none" stroke="#3a3a3c" stroke-width="0.5"/>
<path d="M1021.1 661 L1021.6 663.3" fill="none" stroke="#3a3a3c" stroke-width="0.5"/>
<path d="M1022.2 660.4 L1022.7 662.7" fill="none" stroke="#3a3a3c" stroke-width="0.5"/>
<path d="M1023.3 659.7 L1023.8 662" fill="none" stroke="#3a3a3c" stroke-width="0.5"/>
<path d="M1024.4 659.1 L1024.9 661.4" fill="none" stroke="#3a3a3c" stroke-width="0.5"/>
<path d="M789.5 777.6 L846 746.5" fill="none" stroke="#2c2c2e" stroke-width="0.5"/>
<path d="M786 780.4 L803.4 793" fill="none" stroke="#333" stroke-width="1.5"/>
<path d="M794.5 783.3 L796 781 L799.3 780.5 L800.5 782.5 L799 785 L795.7 785.5Z" fill="#fff" stroke="#1c1c1e" stroke-width="0.8"/>
<path d="M800.4 780.1 L801.9 777.8 L805.2 777.3 L806.4 779.3 L804.9 781.8 L801.6 782.3Z" fill="#fff" stroke="#1c1c1e" stroke-width="0.8"/>
<path d="M806.3 776.9 L807.8 774.6 L811.1 774.1 L812.3 776.1 L810.8 778.6 L807.5 779.1Z" fill="#fff" stroke="#1c1c1e" stroke-width="0.8"/>
<path d="M812.2 773.7 L813.7 771.4 L817 770.9 L818.2 772.9 L816.7 775.4 L813.4 775.9Z" fill="#fff" stroke="#1c1c1e" stroke-width="0.8"/>
<path d="M818.1 770.5 L819.6 768.2 L822.9 767.7 L824.1 769.7 L822.6 772.2 L819.3 772.7Z" fill="#fff" stroke="#1c1c1e" stroke-width="0.8"/>
<path d="M824 767.3 L825.5 765 L828.8 764.5 L830 766.5 L828.5 769 L825.2 769.5Z" fill="#fff" stroke="#1c1c1e" stroke-width="0.8"/>
<path d="M829.9 764.1 L831.4 761.8 L834.7 761.3 L835.9 763.3 L834.4 765.8 L831.1 766.3Z" fill="#fff" stroke="#1c1c1e" stroke-width="0.8"/>
<path d="M835.8 760.9 L837.3 758.6 L840.6 758.1 L841.8 760.1 L840.3 762.6 L837 763.1Z" fill="#fff" stroke="#1c1c1e" stroke-width="0.8"/>
<path d="M841.7 757.7 L843.2 755.4 L846.5 754.9 L847.7 756.9 L846.2 759.4 L842.9 759.9Z" fill="#fff" stroke="#1c1c1e" stroke-width="0.8"/>
<g class="bt" transform="translate(138.1 412.2) scale(0.92)">
<path d="M616 231.5 L652 208.5 L655 209.5 L621 233.5Z" fill="#ffffff" stroke="#2c2c2e" stroke-width="0.9"/>
<path d="M618 232.5 L653.5 209" fill="none" stroke="#2c2c2e" stroke-width="0.5"/>
<path d="M619.2 230.4 L620.8 231.9" fill="none" stroke="#2c2c2e" stroke-width="0.7"/>
<path d="M620.7 229.4 L622.3 230.9" fill="none" stroke="#2c2c2e" stroke-width="0.7"/>
<path d="M622.3 228.4 L623.9 229.9" fill="none" stroke="#2c2c2e" stroke-width="0.7"/>
<path d="M623.8 227.5 L625.4 229" fill="none" stroke="#2c2c2e" stroke-width="0.7"/>
<path d="M625.3 226.5 L626.9 228" fill="none" stroke="#2c2c2e" stroke-width="0.7"/>
<path d="M626.8 225.5 L628.4 227" fill="none" stroke="#2c2c2e" stroke-width="0.7"/>
<path d="M628.4 224.5 L630 226" fill="none" stroke="#2c2c2e" stroke-width="0.7"/>
<path d="M629.9 223.5 L631.5 225" fill="none" stroke="#2c2c2e" stroke-width="0.7"/>
<path d="M631.4 222.5 L633 224" fill="none" stroke="#2c2c2e" stroke-width="0.7"/>
<path d="M632.9 221.6 L634.5 223.1" fill="none" stroke="#2c2c2e" stroke-width="0.7"/>
<path d="M634.5 220.6 L636.1 222.1" fill="none" stroke="#2c2c2e" stroke-width="0.7"/>
<path d="M636 219.6 L637.6 221.1" fill="none" stroke="#2c2c2e" stroke-width="0.7"/>
<path d="M637.5 218.6 L639.1 220.1" fill="none" stroke="#2c2c2e" stroke-width="0.7"/>
<path d="M639.1 217.6 L640.7 219.1" fill="none" stroke="#2c2c2e" stroke-width="0.7"/>
<path d="M640.6 216.7 L642.2 218.2" fill="none" stroke="#2c2c2e" stroke-width="0.7"/>
<path d="M642.1 215.7 L643.7 217.2" fill="none" stroke="#2c2c2e" stroke-width="0.7"/>
<path d="M643.6 214.7 L645.2 216.2" fill="none" stroke="#2c2c2e" stroke-width="0.7"/>
<path d="M645.2 213.7 L646.8 215.2" fill="none" stroke="#2c2c2e" stroke-width="0.7"/>
<path d="M646.7 212.7 L648.3 214.2" fill="none" stroke="#2c2c2e" stroke-width="0.7"/>
<path d="M648.2 211.7 L649.8 213.2" fill="none" stroke="#2c2c2e" stroke-width="0.7"/>
<path d="M649.7 210.8 L651.3 212.3" fill="none" stroke="#2c2c2e" stroke-width="0.7"/>
<path d="M651.3 209.8 L652.9 211.3" fill="none" stroke="#2c2c2e" stroke-width="0.7"/>
<path d="M620 291 L643 304 L643 309 L636 311 L626 306 L620 298Z" fill="#ffffff" stroke="#2c2c2e" stroke-width="0.7"/>
<ellipse cx="625.5" cy="300.5" rx="4.6" ry="3.4" transform="rotate(-60 625.5 300.5)" fill="#ffffff" stroke="#2c2c2e" stroke-width="0.8"/>
<ellipse cx="630.5" cy="303.2" rx="5.4" ry="3.8" transform="rotate(-60 630.5 303.2)" fill="#ffffff" stroke="#2c2c2e" stroke-width="0.8"/>
<ellipse cx="634" cy="305.2" rx="4.4" ry="3.2" transform="rotate(-60 634 305.2)" fill="#ffffff" stroke="#2c2c2e" stroke-width="0.8"/>
<ellipse cx="638.6" cy="307.2" rx="3.6" ry="2.6" transform="rotate(-60 638.6 307.2)" fill="#ffffff" stroke="#2c2c2e" stroke-width="0.8"/>
<ellipse cx="632.6" cy="304.4" rx="1.4" ry="1.2" fill="#ffffff" stroke="#2c2c2e" stroke-width="0.7"/>
<path d="M666 319 L674 323.4 L673 325 L669.5 324.6 L666.5 322Z" fill="#ffffff" stroke="#2c2c2e" stroke-width="0.7"/>
<path d="M609.5 285.3 L707.6 338.8 L707.6 341.2 L609.5 287.7Z" fill="#ffffff" stroke="#2c2c2e" stroke-width="0.8"/>
<path d="M883.5 85.3 L892.7 79.8 L923 97 L927.2 102.5 L929.3 108.5 L929.8 114 L905 100Z" fill="#ffffff" stroke="#2c2c2e" stroke-width="0.9"/>
<path d="M884.7 86.5 L925.8 109.6" fill="none" stroke="#2c2c2e" stroke-width="0.7"/>
<ellipse cx="901.5" cy="88.5" rx="0.7" ry="0.7" fill="#ffffff" stroke="#2c2c2e" stroke-width="0.5"/>
<ellipse cx="914.5" cy="95.5" rx="0.7" ry="0.7" fill="#ffffff" stroke="#2c2c2e" stroke-width="0.5"/>
<ellipse cx="851.5" cy="76.3" rx="2.6" ry="1.6" transform="rotate(-30 851.5 76.3)" fill="#ffffff" stroke="#2c2c2e" stroke-width="0.9"/>
<path d="M713.2 295.6 L805 226.5 L805 266 L762.5 291 L762.5 335 L713 337Z" fill="#ffffff" stroke="#2c2c2e" stroke-width="0.9"/>
<path d="M805 223.5 L963.7 132.1 L984.3 148.8 L984.3 182 L963.7 166 L805 255.5Z" fill="#ffffff" stroke="#2c2c2e" stroke-width="0.00"/>
<path d="M805 255.5 L805 223.5 L963.7 132.1 L984.3 148.8 L984.3 182" fill="none" stroke="#2c2c2e" stroke-width="0.9"/>
<path d="M707.6 304 L713.2 295.6 L713.2 335.6 L707.6 338.8Z" fill="#ffffff" stroke="#2c2c2e" stroke-width="0.9"/>
<path d="M609.5 246 L707.6 304 L707.6 338.8 L609.5 285.3Z" fill="#ffffff" stroke="#2c2c2e" stroke-width="0.9"/>
<path d="M609.5 246 L619.4 240.3 L713.2 295.6 L707.6 304Z" fill="#ffffff" stroke="#2c2c2e" stroke-width="0.9"/>
<path d="M713.2 295.6 L805 223.5 L805 227 L715.5 303.8Z" fill="#ffffff" stroke="#2c2c2e" stroke-width="0.9"/>
<path d="M619.4 240.3 L623.2 232.9 L692 176 L700.9 165.3 L805 223.5 L713.2 295.6Z" fill="#ffffff" stroke="#2c2c2e" stroke-width="0.9"/>
<path d="M700.9 165.3 L860 72.3 L963.7 132.1 L805 223.5Z" fill="#ffffff" stroke="#2c2c2e" stroke-width="0.9"/>
<path d="M700.9 165.3 L805 223.5" fill="none" stroke="#2c2c2e" stroke-width="1.1"/>
<path d="M701.6 167 L805.2 225.2" fill="none" stroke="#2c2c2e" stroke-width="0.7"/>
<path d="M767.4 201.2 L804.6 222.8" fill="none" stroke="#4a4a4c" stroke-width="2.2"/>
<path d="M702.6 165.9 L779 121.6" fill="none" stroke="#2c2c2e" stroke-width="0.6"/>
<path d="M835 89.2 L859.6 74.6 L884.5 88.8" fill="none" stroke="#2c2c2e" stroke-width="0.6"/>
<ellipse cx="739.2" cy="142.2" rx="2.4" ry="1.5" transform="rotate(-30 739.2 142.2)" fill="#ffffff" stroke="#2c2c2e" stroke-width="0.8"/>
<path d="M708.3 166.6 Q707.6 165.6 709.5 164.6 L738.5 148.9 L744 148.6 L747.8 150.9 L765 160.8 Q769.5 163 768.8 166.5 Q762 169 757.2 175.8 L744 182.2 Q742 183.2 740 182 Z" fill="#ffffff" stroke="#2c2c2e" stroke-width="0.7"/>
<path d="M742.6 150.3 L746.6 148 L752.6 151.3 L748.6 153.6Z" fill="#ffffff" stroke="#2c2c2e" stroke-width="0.7"/>
<ellipse cx="748.6" cy="150.9" rx="1.8" ry="1.1" fill="#ffffff" stroke="#2c2c2e" stroke-width="0.7"/>
<path d="M760 160 L764 157.7 L770 161 L766 163.3Z" fill="#ffffff" stroke="#2c2c2e" stroke-width="0.7"/>
<ellipse cx="766" cy="160.6" rx="1.8" ry="1.1" fill="#ffffff" stroke="#2c2c2e" stroke-width="0.7"/>
<path d="M722.4 170.6 L722.9 167.4 Q723.6 165.8 726 166 L728.6 166.6 Q730.4 167.4 730.8 170 L731.6 174.8" fill="none" stroke="#2c2c2e" stroke-width="2.6"/>
<path d="M722.4 170.6 L722.9 167.4 Q723.6 165.8 726 166 L728.6 166.6 Q730.4 167.4 730.8 170 L731.6 174.8" fill="none" stroke="#ffffff" stroke-width="1.2"/>
<ellipse cx="715" cy="167.3" rx="0.6" ry="0.6" fill="#ffffff" stroke="#2c2c2e" stroke-width="0.7"/>
<ellipse cx="735.6" cy="179" rx="0.6" ry="0.6" fill="#ffffff" stroke="#2c2c2e" stroke-width="0.7"/>
<ellipse cx="763.1" cy="188.4" rx="8.5" ry="5.1" fill="#ffffff" stroke="#2c2c2e" stroke-width="0.9"/>
<ellipse cx="763.1" cy="187" rx="8.5" ry="5.1" fill="#ffffff" stroke="#2c2c2e" stroke-width="0.9"/>
<path d="M754.9 186 Q755.2 178 757.6 173.6 Q760 169.4 764 169.2 Q768.2 169.4 769.2 172.6 L779.8 178.8 Q776 180.6 772.6 184.6 Q771.6 188 769 190 Q763 192.4 757.6 190.4 Q755.2 189 754.9 186Z" fill="#ffffff" stroke="#2c2c2e" stroke-width="0.8"/>
<path d="M757.8 174 Q763 177.6 769.2 172.8" fill="none" stroke="#2c2c2e" stroke-width="0.6"/>
<path d="M769.2 172.6 L776.4 180.2" fill="none" stroke="#2c2c2e" stroke-width="0.5"/>
<path d="M805.5 225.6 L885 181.5" fill="none" stroke="#2c2c2e" stroke-width="0.7"/>
<path d="M931 152.6 L962.5 134.6" fill="none" stroke="#2c2c2e" stroke-width="0.7"/>
<path d="M806 224.6 L885 180.4" fill="none" stroke="#8b8b8d" stroke-width="1.5"/>
<path d="M931 151.5 L963 133.3" fill="none" stroke="#8b8b8d" stroke-width="1.5"/>
<path d="M887.4 179.5 L887.4 208.5" fill="none" stroke="#2c2c2e" stroke-width="0.7"/>
<path d="M928.5 152 L928.5 185" fill="none" stroke="#2c2c2e" stroke-width="0.7"/>
<path d="M774 183.2 L795.5 172.3 Q798.1 170.9 800.8 172.5 L830.5 189 Q832.8 190.3 832.8 193 L833 204 L809.5 215.2 Q805.5 217 801 215.5 L770.5 200 Q768.3 198.8 768.8 196 L770 187.5 Q770.6 184.8 774 183.2Z" fill="#ffffff" stroke="#2c2c2e" stroke-width="0.9"/>
<path d="M770.2 194.5 L801 210.8 Q805 212.6 809 210.9 L819 206" fill="none" stroke="#2c2c2e" stroke-width="0.7"/>
<path d="M810.9 220.6 L832.3 209.4 L832.9 216.2 L811.5 228.4Z" fill="#ffffff" stroke="#2c2c2e" stroke-width="0.7"/>
<path d="M816 216.5 L829 209.8 L829 213.2 L816 220" fill="none" stroke="#2c2c2e" stroke-width="0.5"/>
<path d="M812.5 212 L826 205" fill="none" stroke="#2c2c2e" stroke-width="2.1"/>
<path d="M812.5 212 L826 205" fill="none" stroke="#ffffff" stroke-width="0.9"/>
<path d="M807.4 209.6 L812.2 207 L813.2 215.2 L808.6 217.8Z" fill="#ffffff" stroke="#2c2c2e" stroke-width="0.7"/>
<ellipse cx="810" cy="215.2" rx="1.3" ry="1.3" fill="#ffffff" stroke="#2c2c2e" stroke-width="0.7"/>
<path d="M823.6 200.2 L828.4 197.6 L829.4 205.8 L824.8 208.4Z" fill="#ffffff" stroke="#2c2c2e" stroke-width="0.7"/>
<ellipse cx="826.2" cy="205.8" rx="1.3" ry="1.3" fill="#ffffff" stroke="#2c2c2e" stroke-width="0.7"/>
<ellipse cx="847.2" cy="189.6" rx="7.8" ry="4.3" fill="#ffffff" stroke="#2c2c2e" stroke-width="0.9"/>
<ellipse cx="847.2" cy="188" rx="7.8" ry="4.3" fill="#ffffff" stroke="#2c2c2e" stroke-width="0.9"/>
<ellipse cx="838.2" cy="198.6" rx="3" ry="1.9" fill="#ffffff" stroke="#2c2c2e" stroke-width="0.9"/>
<ellipse cx="838.2" cy="197" rx="3" ry="1.9" fill="#ffffff" stroke="#2c2c2e" stroke-width="0.9"/>
<ellipse cx="838.2" cy="196.8" rx="1.6" ry="1" fill="#ffffff" stroke="#2c2c2e" stroke-width="0.5"/>
<ellipse cx="848.3" cy="205.2" rx="4.4" ry="3.1" transform="rotate(-60 848.3 205.2)" fill="#ffffff" stroke="#2c2c2e" stroke-width="0.9"/>
<path d="M845.6 201.9 L849 203.7 L853.5 210.3 L850.8 208.8Z" fill="#ffffff" stroke="#2c2c2e" stroke-width="0.00"/>
<ellipse cx="851.4" cy="207" rx="4.4" ry="3.1" transform="rotate(-60 851.4 207)" fill="#ffffff" stroke="#2c2c2e" stroke-width="0.9"/>
<ellipse cx="847.4" cy="204.7" rx="2.2" ry="1.5" transform="rotate(-60 847.4 204.7)" fill="#ffffff" stroke="#2c2c2e" stroke-width="0.5"/>
<ellipse cx="961.3" cy="141.9" rx="4.6" ry="3.3" transform="rotate(-60 961.3 141.9)" fill="#ffffff" stroke="#2c2c2e" stroke-width="0.9"/>
<ellipse cx="964.2" cy="143.6" rx="4.6" ry="3.3" transform="rotate(-60 964.2 143.6)" fill="#ffffff" stroke="#2c2c2e" stroke-width="0.9"/>
<ellipse cx="960.6" cy="141.5" rx="2.3" ry="1.6" transform="rotate(-60 960.6 141.5)" fill="#ffffff" stroke="#2c2c2e" stroke-width="0.5"/>
<path d="M807.4 244.6 L961.9 162.3 L973.6 157.4 L809.5 247.2Z" fill="#ffffff" stroke="#2c2c2e" stroke-width="0.7"/>
<path d="M812 247.3 L970 160.5" fill="none" stroke="#2c2c2e" stroke-width="0.5"/>
<path d="M812.7 244 L814.6 242.9" fill="none" stroke="#4c4c4e" stroke-width="1.7"/>
<path d="M821.5 239.1 L823.4 238.1" fill="none" stroke="#4c4c4e" stroke-width="1.7"/>
<path d="M830.3 234.3 L832.2 233.3" fill="none" stroke="#4c4c4e" stroke-width="1.7"/>
<path d="M839.1 229.5 L841 228.5" fill="none" stroke="#4c4c4e" stroke-width="1.7"/>
<path d="M847.9 224.7 L849.8 223.7" fill="none" stroke="#4c4c4e" stroke-width="1.7"/>
<path d="M856.7 219.9 L858.6 218.9" fill="none" stroke="#4c4c4e" stroke-width="1.7"/>
<path d="M865.5 215.1 L867.4 214.1" fill="none" stroke="#4c4c4e" stroke-width="1.7"/>
<path d="M874.4 210.3 L876.2 209.2" fill="none" stroke="#4c4c4e" stroke-width="1.7"/>
<path d="M883.2 205.5 L885 204.4" fill="none" stroke="#4c4c4e" stroke-width="1.7"/>
<path d="M892 200.7 L893.8 199.6" fill="none" stroke="#4c4c4e" stroke-width="1.7"/>
<path d="M900.8 195.8 L902.6 194.8" fill="none" stroke="#4c4c4e" stroke-width="1.7"/>
<path d="M909.6 191 L911.5 190" fill="none" stroke="#4c4c4e" stroke-width="1.7"/>
<path d="M918.4 186.2 L920.3 185.2" fill="none" stroke="#4c4c4e" stroke-width="1.7"/>
<path d="M927.2 181.4 L929.1 180.4" fill="none" stroke="#4c4c4e" stroke-width="1.7"/>
<path d="M936 176.6 L937.9 175.6" fill="none" stroke="#4c4c4e" stroke-width="1.7"/>
<path d="M944.8 171.8 L946.7 170.8" fill="none" stroke="#4c4c4e" stroke-width="1.7"/>
<path d="M953.6 167 L955.5 166" fill="none" stroke="#4c4c4e" stroke-width="1.7"/>
<path d="M805 254.6 L963.7 166" fill="none" stroke="#2c2c2e" stroke-width="0.8"/>
<ellipse cx="856" cy="134.6" rx="80.6" ry="46.5" fill="#ffffff" stroke="#2c2c2e" stroke-width="0.9"/>
<ellipse cx="856" cy="133.4" rx="80.2" ry="46.3" fill="#ffffff" stroke="#2c2c2e" stroke-width="0.5"/>
<ellipse cx="856" cy="131.4" rx="80" ry="46.2" fill="#ffffff" stroke="#2c2c2e" stroke-width="0.9"/>
<ellipse cx="856" cy="132.2" rx="77.4" ry="44.5" fill="#ffffff" stroke="#2c2c2e" stroke-width="0.7"/>
<ellipse cx="856" cy="134.2" rx="64.6" ry="37.3" fill="#ffffff" stroke="#2c2c2e" stroke-width="0.7"/>
<ellipse cx="856.3" cy="132.2" rx="61" ry="35.6" fill="#ffffff" stroke="#2c2c2e" stroke-width="0.7"/>
<ellipse cx="856.3" cy="133.4" rx="60.8" ry="35.2" fill="#ffffff" stroke="#2c2c2e" stroke-width="0.7"/>
<clipPath id="holeT"><ellipse cx="856.3" cy="133" rx="60.7" ry="35.2"/></clipPath>
<g clip-path="url(#holeT)">
<path d="M880.4 95 L880.4 141" fill="none" stroke="#2c2c2e" stroke-width="0.6"/>
<path d="M888.4 95 L888.4 137 Q888.6 140.5 891.5 142 L908 151" fill="none" stroke="#2c2c2e" stroke-width="0.6"/>
<path d="M890.3 137.8 L905 146.3" fill="none" stroke="#2c2c2e" stroke-width="0.5"/>
<path d="M892 139.9 L893.4 138.3" fill="none" stroke="#2c2c2e" stroke-width="0.5"/>
<path d="M894.1 141.1 L895.5 139.5" fill="none" stroke="#2c2c2e" stroke-width="0.5"/>
<path d="M896.2 142.3 L897.6 140.7" fill="none" stroke="#2c2c2e" stroke-width="0.5"/>
<path d="M898.3 143.5 L899.7 141.9" fill="none" stroke="#2c2c2e" stroke-width="0.5"/>
<path d="M900.4 144.7 L901.8 143.1" fill="none" stroke="#2c2c2e" stroke-width="0.5"/>
<path d="M902.5 145.9 L903.9 144.3" fill="none" stroke="#2c2c2e" stroke-width="0.5"/>
<path d="M904.6 147.1 L906 145.5" fill="none" stroke="#2c2c2e" stroke-width="0.5"/>
<path d="M908 151 L904 153.4 L907.3 155.6 L913 152.5" fill="none" stroke="#2c2c2e" stroke-width="0.6"/>
<path d="M875 158.5 L886 164.5 L896 160.5 L899 162.2 L893 166" fill="none" stroke="#2c2c2e" stroke-width="0.6"/>
<path d="M880.4 141 L876 150" fill="none" stroke="#2c2c2e" stroke-width="0.6"/>
<ellipse cx="867.6" cy="149.8" rx="18" ry="10.4" transform="rotate(-60 867.6 149.8)" fill="#ffffff" stroke="#2c2c2e" stroke-width="0.6"/>
<ellipse cx="868.6" cy="150.4" rx="16.5" ry="9.2" transform="rotate(-60 868.6 150.4)" fill="#ffffff" stroke="#2c2c2e" stroke-width="0.5"/>
<ellipse cx="866" cy="147.3" rx="7.6" ry="5.2" transform="rotate(-60 866 147.3)" fill="#ffffff" stroke="#2c2c2e" stroke-width="0.6"/>
<ellipse cx="865.4" cy="147" rx="5" ry="3.3" transform="rotate(-60 865.4 147)" fill="#ffffff" stroke="#2c2c2e" stroke-width="0.6"/>
<path d="M857.5 163.8 L861.5 166.3 L872 160" fill="none" stroke="#2c2c2e" stroke-width="0.5"/>
</g>
<path d="M805.5 105.5 L811.5 102.7 L813.5 104 L807.5 107Z" fill="#ffffff" stroke="#2c2c2e" stroke-width="0.7"/>
<ellipse cx="656.8" cy="204" rx="2.8" ry="1.8" transform="rotate(-35 656.8 204)" fill="#ffffff" stroke="#2c2c2e" stroke-width="0.9"/>
<path d="M649 236.5 L706 188.2 Q709.5 185.2 714 187.2 L767.5 216.4 Q770.3 218.2 768.6 221 L709.5 273.8 Q706 276.8 701.5 275.2 L649.5 246.5 Q645.5 244 646.6 240 Q647 238 649 236.5Z" fill="#ffffff" stroke="#2c2c2e" stroke-width="0.7"/>
<path d="M677.6 213.6 L704.5 190.2 Q709 186.4 714 189 L766 217.5 Q769 219.4 767 222 L739.5 248" fill="none" stroke="#2c2c2e" stroke-width="4.5"/>
<path d="M677.6 213.6 L704.5 190.2 Q709 186.4 714 189 L766 217.5 Q769 219.4 767 222 L739.5 248" fill="none" stroke="#ffffff" stroke-width="3"/>
<path d="M713 190.6 L764 220 L735.7 244.8 L685.2 215.7Z" fill="#ffffff" stroke="#2c2c2e" stroke-width="0.8"/>
<path d="M709.5 193.7 L760.5 223.1" fill="none" stroke="#2e2e30" stroke-width="1.2"/>
<path d="M706 196.9 L756.9 226.2" fill="none" stroke="#2e2e30" stroke-width="1.2"/>
<path d="M702.6 200 L753.4 229.3" fill="none" stroke="#2e2e30" stroke-width="1.2"/>
<path d="M699.1 203.1 L749.9 232.4" fill="none" stroke="#2e2e30" stroke-width="1.2"/>
<path d="M695.6 206.3 L746.3 235.5" fill="none" stroke="#2e2e30" stroke-width="1.2"/>
<path d="M692.2 209.4 L742.8 238.6" fill="none" stroke="#2e2e30" stroke-width="1.2"/>
<path d="M688.7 212.6 L739.2 241.7" fill="none" stroke="#2e2e30" stroke-width="1.2"/>
<path d="M742.3 202.6 L675.3 259.2" fill="none" stroke="#2c2c2e" stroke-width="4.2"/>
<path d="M742.3 202.6 L675.3 259.2" fill="none" stroke="#ffffff" stroke-width="2.8"/>
<ellipse cx="742.2" cy="202.9" rx="1.3" ry="1" fill="#ffffff" stroke="#2c2c2e" stroke-width="0.7"/>
<ellipse cx="710.5" cy="229.8" rx="1.5" ry="1.1" fill="#ffffff" stroke="#2c2c2e" stroke-width="0.7"/>
<ellipse cx="676.8" cy="257.8" rx="1" ry="0.8" fill="#ffffff" stroke="#2c2c2e" stroke-width="0.7"/>
<ellipse cx="704.3" cy="233.7" rx="0.6" ry="0.6" fill="#ffffff" stroke="#2c2c2e" stroke-width="0.5"/>
<ellipse cx="684.7" cy="254.6" rx="0.6" ry="0.6" fill="#ffffff" stroke="#2c2c2e" stroke-width="0.5"/>
<path d="M700.4 190.5 l3.4 -2.6 l3.6 0.4 l1.2 2.6 l-2.8 2.6 l-4.2 0.2 Z" fill="#ffffff" stroke="#2c2c2e" stroke-width="0.7"/>
<ellipse cx="704.6" cy="189.9" rx="2.5" ry="1.7" transform="rotate(-25 704.6 189.9)" fill="#ffffff" stroke="#2c2c2e" stroke-width="0.7"/>
<ellipse cx="704.3" cy="189.7" rx="1.2" ry="0.8" transform="rotate(-25 704.3 189.7)" fill="#ffffff" stroke="#2c2c2e" stroke-width="0.5"/>
<path d="M672.6 213.7 l3.4 -2.6 l3.6 0.4 l1.2 2.6 l-2.8 2.6 l-4.2 0.2 Z" fill="#ffffff" stroke="#2c2c2e" stroke-width="0.7"/>
<ellipse cx="676.8" cy="213.1" rx="2.5" ry="1.7" transform="rotate(-25 676.8 213.1)" fill="#ffffff" stroke="#2c2c2e" stroke-width="0.7"/>
<ellipse cx="676.5" cy="212.9" rx="1.2" ry="0.8" transform="rotate(-25 676.5 212.9)" fill="#ffffff" stroke="#2c2c2e" stroke-width="0.5"/>
<path d="M646.1 237.6 l3.4 -2.6 l3.6 0.4 l1.2 2.6 l-2.8 2.6 l-4.2 0.2 Z" fill="#ffffff" stroke="#2c2c2e" stroke-width="0.7"/>
<ellipse cx="650.3" cy="237" rx="2.5" ry="1.7" transform="rotate(-25 650.3 237)" fill="#ffffff" stroke="#2c2c2e" stroke-width="0.7"/>
<ellipse cx="650" cy="236.8" rx="1.2" ry="0.8" transform="rotate(-25 650 236.8)" fill="#ffffff" stroke="#2c2c2e" stroke-width="0.5"/>
<path d="M763.8 226 l3.4 -2.6 l3.6 0.4 l1.2 2.6 l-2.8 2.6 l-4.2 0.2 Z" fill="#ffffff" stroke="#2c2c2e" stroke-width="0.7"/>
<ellipse cx="768" cy="225.4" rx="2.5" ry="1.7" transform="rotate(-25 768 225.4)" fill="#ffffff" stroke="#2c2c2e" stroke-width="0.7"/>
<ellipse cx="767.7" cy="225.2" rx="1.2" ry="0.8" transform="rotate(-25 767.7 225.2)" fill="#ffffff" stroke="#2c2c2e" stroke-width="0.5"/>
<path d="M734.7 249.9 l3.4 -2.6 l3.6 0.4 l1.2 2.6 l-2.8 2.6 l-4.2 0.2 Z" fill="#ffffff" stroke="#2c2c2e" stroke-width="0.7"/>
<ellipse cx="738.9" cy="249.3" rx="2.5" ry="1.7" transform="rotate(-25 738.9 249.3)" fill="#ffffff" stroke="#2c2c2e" stroke-width="0.7"/>
<ellipse cx="738.6" cy="249.1" rx="1.2" ry="0.8" transform="rotate(-25 738.6 249.1)" fill="#ffffff" stroke="#2c2c2e" stroke-width="0.5"/>
<path d="M706.9 272.6 l3.4 -2.6 l3.6 0.4 l1.2 2.6 l-2.8 2.6 l-4.2 0.2 Z" fill="#ffffff" stroke="#2c2c2e" stroke-width="0.7"/>
<ellipse cx="711.1" cy="272" rx="2.5" ry="1.7" transform="rotate(-25 711.1 272)" fill="#ffffff" stroke="#2c2c2e" stroke-width="0.7"/>
<ellipse cx="710.8" cy="271.8" rx="1.2" ry="0.8" transform="rotate(-25 710.8 271.8)" fill="#ffffff" stroke="#2c2c2e" stroke-width="0.5"/>
<ellipse cx="734.3" cy="191" rx="2.6" ry="1.8" transform="rotate(-20 734.3 191)" fill="#ffffff" stroke="#2c2c2e" stroke-width="0.7"/>
<path d="M732.6 192 L736.2 190.2" fill="none" stroke="#2c2c2e" stroke-width="0.5"/>
<ellipse cx="656" cy="225.8" rx="0.7" ry="0.7" fill="#ffffff" stroke="#2c2c2e" stroke-width="0.5"/>
<ellipse cx="660.5" cy="222.4" rx="0.7" ry="0.7" fill="#ffffff" stroke="#2c2c2e" stroke-width="0.5"/>
<ellipse cx="730.5" cy="273" rx="0.7" ry="0.7" fill="#ffffff" stroke="#2c2c2e" stroke-width="0.5"/>
<ellipse cx="735.5" cy="269" rx="0.7" ry="0.7" fill="#ffffff" stroke="#2c2c2e" stroke-width="0.5"/>
<ellipse cx="713" cy="261.5" rx="0.7" ry="0.7" fill="#ffffff" stroke="#2c2c2e" stroke-width="0.5"/>
<path d="M803.6 225.2 L795.3 228.6 L772.3 251.5 L775.5 256.8 L799 234.5Z" fill="#ffffff" stroke="#2c2c2e" stroke-width="0.7"/>
<path d="M795.3 228.6 L797.5 231.2 L799 234.5" fill="none" stroke="#2c2c2e" stroke-width="0.5"/>
<ellipse cx="769.8" cy="254.4" rx="4.4" ry="3.7" fill="#ffffff" stroke="#2c2c2e" stroke-width="0.9"/>
<path d="M765.6 254 L715.5 294.6" fill="none" stroke="#2c2c2e" stroke-width="0.7"/>
<path d="M767.2 258 L716.4 301.2" fill="none" stroke="#2c2c2e" stroke-width="0.7"/>
<path d="M768.6 258.7 L717.5 303" fill="none" stroke="#2c2c2e" stroke-width="1.2"/>
<ellipse cx="765.2" cy="268.8" rx="3.6" ry="2.8" transform="rotate(-60 765.2 268.8)" fill="#ffffff" stroke="#2c2c2e" stroke-width="0.9"/>
<path d="M763.4 266 L766.4 267.6 L770 273.4 L767 271.8Z" fill="#ffffff" stroke="#2c2c2e" stroke-width="0.00"/>
<ellipse cx="768.3" cy="270.7" rx="3.6" ry="2.8" transform="rotate(-60 768.3 270.7)" fill="#ffffff" stroke="#2c2c2e" stroke-width="0.9"/>
<ellipse cx="764.4" cy="268.4" rx="1.8" ry="1.3" transform="rotate(-60 764.4 268.4)" fill="#ffffff" stroke="#2c2c2e" stroke-width="0.5"/>
<ellipse cx="751.4" cy="279.6" rx="2.2" ry="2.6" fill="#ffffff" stroke="#2c2c2e" stroke-width="0.7"/>
<ellipse cx="752.2" cy="280.2" rx="1.2" ry="1.5" fill="#ffffff" stroke="#2c2c2e" stroke-width="0.5"/>
<path d="M612.6 248.2 L612.6 289.5" fill="none" stroke="#2c2c2e" stroke-width="0.7"/>
<path d="M611 247.2 L611 288.8" fill="none" stroke="#2c2c2e" stroke-width="0.5"/>
<ellipse cx="620" cy="245.9" rx="0.9" ry="0.9" fill="#ffffff" stroke="#2c2c2e" stroke-width="0.5"/>
<ellipse cx="649" cy="262.5" rx="0.9" ry="0.9" fill="#ffffff" stroke="#2c2c2e" stroke-width="0.5"/>
<ellipse cx="678" cy="279.8" rx="0.9" ry="0.9" fill="#ffffff" stroke="#2c2c2e" stroke-width="0.5"/>
<ellipse cx="707" cy="296.5" rx="0.9" ry="0.9" fill="#ffffff" stroke="#2c2c2e" stroke-width="0.5"/>
<path d="M616.5 259.5 L700 306.2" fill="none" stroke="#2c2c2e" stroke-width="0.7"/>
<path d="M616.5 261 L700 307.7" fill="none" stroke="#2c2c2e" stroke-width="0.4"/>
<path d="M616.5 262.5 L700 309.2" fill="none" stroke="#2c2c2e" stroke-width="0.4"/>
<path d="M616.5 264 L700 310.7" fill="none" stroke="#2c2c2e" stroke-width="0.4"/>
<path d="M616.5 265.5 L700 312.2" fill="none" stroke="#2c2c2e" stroke-width="0.7"/>
<path d="M616.5 259.5 L616.5 268.5 L619.5 270" fill="none" stroke="#2c2c2e" stroke-width="0.7"/>
<path d="M614.5 252 L619.5 249.6 L619.5 253 L616.6 257.6 L614.5 257Z" fill="#ffffff" stroke="#2c2c2e" stroke-width="0.7"/>
<path d="M609.5 285.3 L707.6 338.8" fill="none" stroke="#2c2c2e" stroke-width="1.5"/>
<path d="M701.5 301.2 L707.3 304.7 L707.3 321.1 L701.5 317.6Z" fill="#ffffff" stroke="#2c2c2e" stroke-width="0.7"/>
<ellipse cx="704.4" cy="307.5" rx="0.7" ry="0.7" fill="#ffffff" stroke="#2c2c2e" stroke-width="0.5"/>
<ellipse cx="704.4" cy="315" rx="0.7" ry="0.7" fill="#ffffff" stroke="#2c2c2e" stroke-width="0.5"/>
<path d="M701.5 301.2 L697.5 308 L697.5 315 L701.5 317.6" fill="none" stroke="#2c2c2e" stroke-width="0.7"/>
<path d="M805 255.5 L963.7 166 L984.3 182 L984.3 200 L954 217 L783 302.5 L762.5 291 L805 266Z" fill="#ffffff" stroke="#2c2c2e" stroke-width="0.00"/>
<path d="M904.2 216 L934.3 200.1 L954 214.3 L924.4 229.1Z" fill="#ffffff" stroke="#2c2c2e" stroke-width="0.7"/>
<ellipse cx="897.2" cy="221.3" rx="8.6" ry="5.4" transform="rotate(-60 897.2 221.3)" fill="#ffffff" stroke="#2c2c2e" stroke-width="0.7"/>
<ellipse cx="899.1" cy="222.4" rx="7.4" ry="4.4" transform="rotate(-60 899.1 222.4)" fill="#ffffff" stroke="#2c2c2e" stroke-width="0.6"/>
<ellipse cx="901.9" cy="224" rx="8.6" ry="5.4" transform="rotate(-60 901.9 224)" fill="#ffffff" stroke="#2c2c2e" stroke-width="0.7"/>
<ellipse cx="903.8" cy="225.1" rx="7.4" ry="4.4" transform="rotate(-60 903.8 225.1)" fill="#ffffff" stroke="#2c2c2e" stroke-width="0.6"/>
<ellipse cx="906.6" cy="226.8" rx="8.6" ry="5.4" transform="rotate(-60 906.6 226.8)" fill="#ffffff" stroke="#2c2c2e" stroke-width="0.7"/>
<ellipse cx="908.5" cy="227.8" rx="7.4" ry="4.4" transform="rotate(-60 908.5 227.8)" fill="#ffffff" stroke="#2c2c2e" stroke-width="0.6"/>
<ellipse cx="911.3" cy="229.4" rx="8.6" ry="5.4" transform="rotate(-60 911.3 229.4)" fill="#ffffff" stroke="#2c2c2e" stroke-width="0.7"/>
<ellipse cx="913.2" cy="230.5" rx="7.4" ry="4.4" transform="rotate(-60 913.2 230.5)" fill="#ffffff" stroke="#2c2c2e" stroke-width="0.6"/>
<ellipse cx="913.7" cy="230.8" rx="5.2" ry="3.4" transform="rotate(-60 913.7 230.8)" fill="#ffffff" stroke="#2c2c2e" stroke-width="0.9"/>
<ellipse cx="914.7" cy="231.4" rx="3.4" ry="2.2" transform="rotate(-60 914.7 231.4)" fill="#ffffff" stroke="#2c2c2e" stroke-width="1.1"/>
<ellipse cx="915" cy="231.7" rx="1.5" ry="1" transform="rotate(-60 915 231.7)" fill="#ffffff" stroke="#2c2c2e" stroke-width="1.1"/>
<path d="M831.5 250.4 L885.1 224.5 L905.4 237.5 L851.2 262.8Z" fill="#ffffff" stroke="#2c2c2e" stroke-width="0.7"/>
<ellipse cx="823.4" cy="257.1" rx="8.6" ry="5.4" transform="rotate(-60 823.4 257.1)" fill="#ffffff" stroke="#2c2c2e" stroke-width="0.7"/>
<ellipse cx="825.3" cy="258.2" rx="7.4" ry="4.4" transform="rotate(-60 825.3 258.2)" fill="#ffffff" stroke="#2c2c2e" stroke-width="0.6"/>
<ellipse cx="828.1" cy="259.8" rx="8.6" ry="5.4" transform="rotate(-60 828.1 259.8)" fill="#ffffff" stroke="#2c2c2e" stroke-width="0.7"/>
<ellipse cx="830" cy="260.9" rx="7.4" ry="4.4" transform="rotate(-60 830 260.9)" fill="#ffffff" stroke="#2c2c2e" stroke-width="0.6"/>
<ellipse cx="832.8" cy="262.4" rx="8.6" ry="5.4" transform="rotate(-60 832.8 262.4)" fill="#ffffff" stroke="#2c2c2e" stroke-width="0.7"/>
<ellipse cx="834.7" cy="263.6" rx="7.4" ry="4.4" transform="rotate(-60 834.7 263.6)" fill="#ffffff" stroke="#2c2c2e" stroke-width="0.6"/>
<ellipse cx="837.5" cy="265.2" rx="8.6" ry="5.4" transform="rotate(-60 837.5 265.2)" fill="#ffffff" stroke="#2c2c2e" stroke-width="0.7"/>
<ellipse cx="839.4" cy="266.3" rx="7.4" ry="4.4" transform="rotate(-60 839.4 266.3)" fill="#ffffff" stroke="#2c2c2e" stroke-width="0.6"/>
<ellipse cx="839.9" cy="266.6" rx="5.2" ry="3.4" transform="rotate(-60 839.9 266.6)" fill="#ffffff" stroke="#2c2c2e" stroke-width="0.9"/>
<ellipse cx="840.9" cy="267.2" rx="3.4" ry="2.2" transform="rotate(-60 840.9 267.2)" fill="#ffffff" stroke="#2c2c2e" stroke-width="1.1"/>
<ellipse cx="841.2" cy="267.4" rx="1.5" ry="1" transform="rotate(-60 841.2 267.4)" fill="#ffffff" stroke="#2c2c2e" stroke-width="1.1"/>
<path d="M762.5 290.1 L814.6 260.4 L833.5 273.6 L782.6 301.8Z" fill="#ffffff" stroke="#2c2c2e" stroke-width="0.7"/>
<path d="M762.5 290.1 L782.6 301.8 L782.6 304 L764 316.5 L762.5 312Z" fill="#ffffff" stroke="#2c2c2e" stroke-width="0.7"/>
<ellipse cx="976" cy="212.5" rx="37.3" ry="21.5" transform="rotate(-60 976 212.5)" fill="#ffffff" stroke="#2c2c2e" stroke-width="0.9"/>
<ellipse cx="978" cy="213.7" rx="36.5" ry="21.1" transform="rotate(-60 978 213.7)" fill="#ffffff" stroke="#2c2c2e" stroke-width="0.5"/>
<ellipse cx="984.2" cy="217.1" rx="37.3" ry="21.5" transform="rotate(-60 984.2 217.1)" fill="#ffffff" stroke="#2c2c2e" stroke-width="0.9"/>
<ellipse cx="986.4" cy="218.4" rx="37.3" ry="21.5" transform="rotate(-60 986.4 218.4)" fill="#ffffff" stroke="#2c2c2e" stroke-width="0.9"/>
<ellipse cx="986.4" cy="218.4" rx="35" ry="20.2" transform="rotate(-60 986.4 218.4)" fill="#ffffff" stroke="#2c2c2e" stroke-width="0.7"/>
<ellipse cx="985.9" cy="218.1" rx="30.5" ry="17.6" transform="rotate(-60 985.9 218.1)" fill="#ffffff" stroke="#2c2c2e" stroke-width="0.7"/>
<path d="M955 215.9 L959.5 217" fill="none" stroke="#2c2c2e" stroke-width="0.7"/>
<path d="M955.8 213.6 L957.6 215.3" fill="none" stroke="#2c2c2e" stroke-width="0.5"/>
<path d="M957.5 209.3 L962.2 210.3" fill="none" stroke="#2c2c2e" stroke-width="0.7"/>
<path d="M958.6 207 L960.4 208.7" fill="none" stroke="#2c2c2e" stroke-width="0.5"/>
<path d="M960.8 202.9 L965.7 203.9" fill="none" stroke="#2c2c2e" stroke-width="0.7"/>
<path d="M962.2 200.7 L963.9 202.3" fill="none" stroke="#2c2c2e" stroke-width="0.5"/>
<path d="M964.9 196.9 L969.9 197.9" fill="none" stroke="#2c2c2e" stroke-width="0.7"/>
<path d="M966.4 195 L968.2 196.4" fill="none" stroke="#2c2c2e" stroke-width="0.5"/>
<path d="M969.5 191.6 L974.7 192.7" fill="none" stroke="#2c2c2e" stroke-width="0.7"/>
<path d="M971.2 189.9 L972.9 191.3" fill="none" stroke="#2c2c2e" stroke-width="0.5"/>
<path d="M974.4 187.2 L979.8 188.4" fill="none" stroke="#2c2c2e" stroke-width="0.7"/>
<path d="M976.2 185.9 L978 187.2" fill="none" stroke="#2c2c2e" stroke-width="0.5"/>
<path d="M979.5 183.9 L985 185.3" fill="none" stroke="#2c2c2e" stroke-width="0.7"/>
<path d="M981.3 183 L983.1 184.1" fill="none" stroke="#2c2c2e" stroke-width="0.5"/>
<path d="M984.6 181.7 L990.1 183.4" fill="none" stroke="#2c2c2e" stroke-width="0.7"/>
<path d="M986.3 181.3 L988.2 182.3" fill="none" stroke="#2c2c2e" stroke-width="0.5"/>
<ellipse cx="745.9" cy="341.6" rx="31" ry="25.2" transform="rotate(-75.5 745.9 341.6)" fill="#ffffff" stroke="#2c2c2e" stroke-width="0.9"/>
<ellipse cx="747.5" cy="342.1" rx="28.6" ry="23" transform="rotate(-75.5 747.5 342.1)" fill="#ffffff" stroke="#2c2c2e" stroke-width="0.6"/>
<ellipse cx="749.1" cy="342.8" rx="24.5" ry="19.4" transform="rotate(-75.5 749.1 342.8)" fill="#ffffff" stroke="#2c2c2e" stroke-width="0.6"/>
<ellipse cx="954" cy="267.6" rx="7.6" ry="5.2" transform="rotate(-30 954 267.6)" fill="#ffffff" stroke="#2c2c2e" stroke-width="0.9"/>
<ellipse cx="952.6" cy="267.2" rx="5.4" ry="3.4" transform="rotate(-30 952.6 267.2)" fill="#ffffff" stroke="#2c2c2e" stroke-width="0.5"/>
<ellipse cx="951.8" cy="266.6" rx="2.6" ry="1.6" transform="rotate(-30 951.8 266.6)" fill="#ffffff" stroke="#2c2c2e" stroke-width="0.5"/>
<ellipse cx="937" cy="277.4" rx="7.6" ry="5.2" transform="rotate(-30 937 277.4)" fill="#ffffff" stroke="#2c2c2e" stroke-width="0.9"/>
<ellipse cx="935.6" cy="277" rx="5.4" ry="3.4" transform="rotate(-30 935.6 277)" fill="#ffffff" stroke="#2c2c2e" stroke-width="0.5"/>
<ellipse cx="934.8" cy="276.4" rx="2.6" ry="1.6" transform="rotate(-30 934.8 276.4)" fill="#ffffff" stroke="#2c2c2e" stroke-width="0.5"/>
<ellipse cx="919.9" cy="287.2" rx="7.6" ry="5.2" transform="rotate(-30 919.9 287.2)" fill="#ffffff" stroke="#2c2c2e" stroke-width="0.9"/>
<ellipse cx="918.5" cy="286.8" rx="5.4" ry="3.4" transform="rotate(-30 918.5 286.8)" fill="#ffffff" stroke="#2c2c2e" stroke-width="0.5"/>
<ellipse cx="917.7" cy="286.2" rx="2.6" ry="1.6" transform="rotate(-30 917.7 286.2)" fill="#ffffff" stroke="#2c2c2e" stroke-width="0.5"/>
<ellipse cx="902.9" cy="296.9" rx="7.6" ry="5.2" transform="rotate(-30 902.9 296.9)" fill="#ffffff" stroke="#2c2c2e" stroke-width="0.9"/>
<ellipse cx="901.5" cy="296.5" rx="5.4" ry="3.4" transform="rotate(-30 901.5 296.5)" fill="#ffffff" stroke="#2c2c2e" stroke-width="0.5"/>
<ellipse cx="900.6" cy="295.9" rx="2.6" ry="1.6" transform="rotate(-30 900.6 295.9)" fill="#ffffff" stroke="#2c2c2e" stroke-width="0.5"/>
<ellipse cx="885.8" cy="306.7" rx="7.6" ry="5.2" transform="rotate(-30 885.8 306.7)" fill="#ffffff" stroke="#2c2c2e" stroke-width="0.9"/>
<ellipse cx="884.4" cy="306.3" rx="5.4" ry="3.4" transform="rotate(-30 884.4 306.3)" fill="#ffffff" stroke="#2c2c2e" stroke-width="0.5"/>
<ellipse cx="883.6" cy="305.7" rx="2.6" ry="1.6" transform="rotate(-30 883.6 305.7)" fill="#ffffff" stroke="#2c2c2e" stroke-width="0.5"/>
<ellipse cx="868.8" cy="316.5" rx="7.6" ry="5.2" transform="rotate(-30 868.8 316.5)" fill="#ffffff" stroke="#2c2c2e" stroke-width="0.9"/>
<ellipse cx="867.4" cy="316.1" rx="5.4" ry="3.4" transform="rotate(-30 867.4 316.1)" fill="#ffffff" stroke="#2c2c2e" stroke-width="0.5"/>
<ellipse cx="866.5" cy="315.5" rx="2.6" ry="1.6" transform="rotate(-30 866.5 315.5)" fill="#ffffff" stroke="#2c2c2e" stroke-width="0.5"/>
<ellipse cx="851.7" cy="326.3" rx="7.6" ry="5.2" transform="rotate(-30 851.7 326.3)" fill="#ffffff" stroke="#2c2c2e" stroke-width="0.9"/>
<ellipse cx="850.3" cy="325.9" rx="5.4" ry="3.4" transform="rotate(-30 850.3 325.9)" fill="#ffffff" stroke="#2c2c2e" stroke-width="0.5"/>
<ellipse cx="849.5" cy="325.3" rx="2.6" ry="1.6" transform="rotate(-30 849.5 325.3)" fill="#ffffff" stroke="#2c2c2e" stroke-width="0.5"/>
<ellipse cx="834.6" cy="336.1" rx="7.6" ry="5.2" transform="rotate(-30 834.6 336.1)" fill="#ffffff" stroke="#2c2c2e" stroke-width="0.9"/>
<ellipse cx="833.2" cy="335.7" rx="5.4" ry="3.4" transform="rotate(-30 833.2 335.7)" fill="#ffffff" stroke="#2c2c2e" stroke-width="0.5"/>
<ellipse cx="832.4" cy="335.1" rx="2.6" ry="1.6" transform="rotate(-30 832.4 335.1)" fill="#ffffff" stroke="#2c2c2e" stroke-width="0.5"/>
<ellipse cx="817.6" cy="345.8" rx="7.6" ry="5.2" transform="rotate(-30 817.6 345.8)" fill="#ffffff" stroke="#2c2c2e" stroke-width="0.9"/>
<ellipse cx="816.2" cy="345.4" rx="5.4" ry="3.4" transform="rotate(-30 816.2 345.4)" fill="#ffffff" stroke="#2c2c2e" stroke-width="0.5"/>
<ellipse cx="815.4" cy="344.8" rx="2.6" ry="1.6" transform="rotate(-30 815.4 344.8)" fill="#ffffff" stroke="#2c2c2e" stroke-width="0.5"/>
<ellipse cx="800.5" cy="355.6" rx="7.6" ry="5.2" transform="rotate(-30 800.5 355.6)" fill="#ffffff" stroke="#2c2c2e" stroke-width="0.9"/>
<ellipse cx="799.1" cy="355.2" rx="5.4" ry="3.4" transform="rotate(-30 799.1 355.2)" fill="#ffffff" stroke="#2c2c2e" stroke-width="0.5"/>
<ellipse cx="798.3" cy="354.6" rx="2.6" ry="1.6" transform="rotate(-30 798.3 354.6)" fill="#ffffff" stroke="#2c2c2e" stroke-width="0.5"/>
<ellipse cx="783.5" cy="365.4" rx="7.6" ry="5.2" transform="rotate(-30 783.5 365.4)" fill="#ffffff" stroke="#2c2c2e" stroke-width="0.9"/>
<ellipse cx="782.1" cy="365" rx="5.4" ry="3.4" transform="rotate(-30 782.1 365)" fill="#ffffff" stroke="#2c2c2e" stroke-width="0.5"/>
<ellipse cx="781.3" cy="364.4" rx="2.6" ry="1.6" transform="rotate(-30 781.3 364.4)" fill="#ffffff" stroke="#2c2c2e" stroke-width="0.5"/>
<ellipse cx="766.5" cy="375.2" rx="7.6" ry="5.2" transform="rotate(-30 766.5 375.2)" fill="#ffffff" stroke="#2c2c2e" stroke-width="0.9"/>
<ellipse cx="765.1" cy="374.8" rx="5.4" ry="3.4" transform="rotate(-30 765.1 374.8)" fill="#ffffff" stroke="#2c2c2e" stroke-width="0.5"/>
<ellipse cx="764.2" cy="374.2" rx="2.6" ry="1.6" transform="rotate(-30 764.2 374.2)" fill="#ffffff" stroke="#2c2c2e" stroke-width="0.5"/>
<ellipse cx="750.5" cy="374.5" rx="4.5" ry="4.5" fill="#ffffff" stroke="#2c2c2e" stroke-width="0.9"/>
<ellipse cx="750.5" cy="374.5" rx="2.5" ry="2.5" fill="#ffffff" stroke="#2c2c2e" stroke-width="0.7"/>
<ellipse cx="757" cy="377.5" rx="2.5" ry="3" fill="#ffffff" stroke="#2c2c2e" stroke-width="0.7"/>
</g>
<path d="M1041 570.3 C1043.2 570.8 1049.9 571.9 1054 573.5 C1058.1 575.1 1062 576.4 1065.4 579.7 C1068.8 583 1073.1 588.2 1074.2 593.2 C1075.3 598.2 1073.7 604.1 1072.2 609.5 C1070.7 614.9 1069.5 619.9 1065.4 625.7 C1061.3 631.6 1054.8 638.1 1047.8 644.6 C1040.8 651.1 1027.5 661.5 1023.5 664.9 L1030 648 L1041 638 L1054.5 622 L1059.6 610 L1060.6 600 L1056 591 L1046 586Z" fill="#fff" stroke="#2c2c2e" stroke-width="0.6"/>
<path d="M1039.2 571.1 C1041.4 571.6 1048.2 572.7 1052.2 574.3 C1056.3 575.8 1060.3 577.2 1063.6 580.5 C1067 583.8 1071.3 589 1072.4 594 C1073.6 598.9 1071.9 604.9 1070.4 610.3 C1069 615.7 1067.7 620.6 1063.6 626.5 C1059.6 632.3 1053 638.8 1046 645.4 C1039.1 651.9 1025.8 662.3 1021.7 665.7" fill="none" stroke="#2c2c2e" stroke-width="0.4"/>
<path d="M1037.5 571.8 C1039.6 572.4 1046.4 573.5 1050.5 575 C1054.5 576.6 1058.5 578 1061.9 581.2 C1065.2 584.5 1069.5 589.8 1070.7 594.7 C1071.8 599.7 1070.1 605.6 1068.7 611 C1067.2 616.5 1065.9 621.4 1061.9 627.2 C1057.8 633.1 1051.3 639.6 1044.3 646.1 C1037.3 652.7 1024 663.1 1020 666.4" fill="none" stroke="#2c2c2e" stroke-width="0.4"/>
<path d="M1035.4 572.8 C1037.6 573.3 1044.3 574.4 1048.4 576 C1052.5 577.5 1056.4 578.9 1059.8 582.2 C1063.2 585.4 1067.5 590.7 1068.6 595.7 C1069.7 600.6 1068.1 606.5 1066.6 612 C1065.1 617.4 1063.9 622.3 1059.8 628.2 C1055.7 634 1049.2 640.5 1042.2 647.1 C1035.2 653.6 1022 664 1017.9 667.4" fill="none" stroke="#2c2c2e" stroke-width="0.4"/>
<path d="M1046 586 C1047.7 586.8 1053.6 588.7 1056 591 C1058.4 593.3 1060 596.8 1060.6 600 C1061.2 603.2 1060.6 606.3 1059.6 610 C1058.6 613.7 1057.6 617.3 1054.5 622 C1051.4 626.7 1045.1 633.7 1041 638 C1036.9 642.3 1031.8 646.3 1030 648" fill="none" stroke="#2c2c2e" stroke-width="0.6"/>
<path d="M1059.4 577.6 L1059.3 577.6 L1059.2 577.6 L1059.3 577.6 L1059.3 577.5 L1059.4 577.4 L1059.6 577.3 L1059.7 577.2 L1059.9 577.1 L1060 576.9 L1060.1 576.8 L1060.1 576.8 L1060.1 576.7 L1060.1 576.7 L1059.9 576.7 L1059.7 576.8 L1059.3 576.9 L1058.8 577.1 L1058.2 577.3 L1057.4 577.6 L1056.5 578.1 L1055.3 578.6 L1054 579.2 L1052.5 579.9 L1050.7 580.7 L1048.7 581.7 L1046.4 582.8 L1043.7 584.1 L1040.8 585.5 L1037.7 587 L1034.3 588.6 L1030.8 590.3 L1027.1 592.1 L1023.3 594 L1019.4 595.9 L1015.5 597.8 L1011.4 599.8 L1007.4 601.7 L1003.4 603.7 L999.4 605.6 L995.5 607.5 L991.7 609.4 L988 611.2 L984.4 612.9 L981.1 614.6 L977.9 616.1 L975 617.6 L972.3 618.9 L969.9 620 L967.8 621.1 L966 621.9 L964.4 622.7 L963.1 623.3 L962 623.8 L961.1 624.2 L960.3 624.6 L959.6 624.9 L959.1 625.1 L958.6 625.4 L958.1 625.6 L957.7 625.8 L957.2 626 L956.7 626.2 L956.1 626.5 L955.4 626.8 L954.6 627.2 L953.7 627.7 L952.5 628.3 L951.2 629 L949.6 629.8 L947.7 630.8 L945.6 631.9 L943.1 633.1 L940.3 634.6 L937 636.3 L933.5 638.1 L929.7 640.2 L925.6 642.3 L921.2 644.6 L916.7 647 L912 649.4 L907.2 652 L902.3 654.6 L897.3 657.2 L892.3 659.8 L887.3 662.4 L882.4 665 L877.5 667.6 L872.8 670.1 L868.2 672.5 L863.8 674.9 L859.6 677.1 L855.7 679.1 L852.1 681.1 L848.7 682.8 L845.8 684.4 L843.2 685.8 L841 686.9 L839 687.9 L837.3 688.8 L835.9 689.6 L834.7 690.2 L833.6 690.8 L832.8 691.2 L832.1 691.6 L831.6 691.8 L831.2 692 L831 692.2 L830.8 692.3 L830.7 692.3 L830.7 692.3 L830.7 692.3 L830.7 692.3 L830.7 692.3 L830.7 692.3 L830.7 692.3 L830.6 692.4 L830.5 692.5 L830.3 692.6 L829.9 692.8 L829.5 693 L829 693.3 L828.5 693.6 L828 693.9 L827.5 694.2 L827 694.4 L826.5 694.7 L826 694.9 L825.5 695.2 L825.1 695.4 L824.6 695.7 L824.1 696 L823.7 696.2 L823.2 696.5 L822.8 696.7 L822.3 697 L821.9 697.3 L821.4 697.6 L821 697.8 L820.5 698.1 L820.1 698.5 L819.7 698.8 L819.2 699.1 L818.8 699.5 L818.4 699.9 L817.9 700.2 L817.5 700.7 L817.1 701.1 L816.7 701.5 L816.3 702 L815.8 702.4 L815.4 702.9 L815 703.4 L814.6 703.9 L814.2 704.4 L813.8 704.9 L813.4 705.4 L813 705.9 L812.6 706.5 L812.2 707 L811.8 707.5 L811.4 708 L811.1 708.5 L810.7 709 L810.4 709.5 L810 709.9 L809.7 710.4 L809.4 710.9 L809.1 711.3 L808.8 711.7 L808.5 712.1 L808.2 712.5 L808 713 L807.7 713.3 L807.5 713.7 L807.2 714.1 L807 714.5 L806.8 714.9 L806.6 715.2 L806.4 715.6 L806.1 716 L805.9 716.4 L805.8 716.7 L805.6 717.1 L805.4 717.5 L805.2 717.8 L805 718.2 L804.8 718.6 L804.7 718.9 L804.5 719.3 L804.3 719.7 L804.1 720.1 L803.9 720.5 L803.8 720.9 L803.6 721.3 L803.4 721.7 L803.3 722.1 L803.1 722.5 L802.9 722.9 L802.8 723.4 L802.6 723.8 L802.5 724.2 L802.3 724.6 L802.2 725 L802.1 725.4 L801.9 725.9 L801.8 726.3 L801.6 726.7 L801.5 727.1 L801.4 727.6 L801.3 728 L801.1 728.4 L801 728.8 L800.9 729.2 L800.7 729.7 L800.6 730.1 L800.5 730.5 L800.4 730.9 L800.2 731.3 L800.1 731.8 L800 732.2 L799.8 732.6 L799.7 733 L799.6 733.4 L799.5 733.9 L799.3 734.3 L799.2 734.7 L799.1 735.2 L799 735.6 L798.9 736 L798.8 736.4 L798.6 736.8 L798.5 737.3 L798.4 737.7 L798.3 738.1 L798.2 738.5 L798.1 738.9 L798 739.3 L797.9 739.7 L797.8 740.1 L797.7 740.5 L797.5 740.9 L797.4 741.3 L797.3 741.6 L797.2 742 L797.1 742.4 L797 742.7 L796.9 743.1 L796.8 743.4 L796.7 743.8 L796.6 744.1 L796.5 744.5 L796.4 744.8 L796.3 745.2 L796.2 745.5 L796.1 745.9 L796 746.2 L795.9 746.6 L795.8 746.9 L795.7 747.3 L795.6 747.6 L795.5 748 L795.4 748.4 L795.3 748.7 L795.2 749.1 L795.1 749.5 L794.9 749.9 L794.8 750.2 L794.7 750.6 L794.6 751 L794.5 751.4 L794.4 751.8 L794.3 752.2 L794.2 752.6 L794.1 753 L794 753.4 L793.9 753.8 L793.8 754.2 L793.7 754.6 L793.5 755 L793.4 755.4 L793.3 755.8 L793.2 756.2 L793.1 756.5 L793 756.9 L792.9 757.3 L792.8 757.7 L792.8 758 L792.7 758.4 L792.6 758.8 L792.5 759.1 L792.4 759.5 L792.3 759.9 L792.2 760.2 L792.1 760.6 L792.1 761 L792 761.3 L791.9 761.7 L791.8 762 L791.7 762.4 L791.7 762.8 L791.6 763.1 L791.5 763.4 L791.4 763.8 L791.4 764.1 L791.3 764.4 L791.2 764.7 L791.2 765 L791.1 765.3 L791 765.6 L791 765.9 L790.9 766.2 L790.9 766.4 L790.8 766.6 L790.8 766.9 L790.7 767.1 L790.7 767.3 L790.6 767.5 L790.6 767.7 L790.5 767.9 L790.5 768.1 L790.5 768.2 L790.4 768.4 L790.4 768.6 L790.3 768.7 L790.3 768.8 L790.3 769 L790.3 769.1 L790.2 769.2 L790.2 769.3 L790.2 769.5 L790.2 769.6 L790.1 769.7 L790.1 769.8 L790.1 769.8 L790.1 769.9 L790.1 770 L793.2 771.8 L793.2 771.7 L793.2 771.6 L793.2 771.6 L793.3 771.5 L793.3 771.4 L793.3 771.3 L793.3 771.1 L793.3 771 L793.4 770.9 L793.4 770.8 L793.4 770.6 L793.5 770.5 L793.5 770.4 L793.5 770.2 L793.6 770 L793.6 769.9 L793.6 769.7 L793.7 769.5 L793.7 769.3 L793.8 769.1 L793.8 768.9 L793.9 768.7 L793.9 768.4 L794 768.2 L794 768 L794.1 767.7 L794.1 767.4 L794.2 767.1 L794.3 766.8 L794.3 766.5 L794.4 766.2 L794.5 765.9 L794.5 765.6 L794.6 765.2 L794.7 764.9 L794.8 764.6 L794.8 764.2 L794.9 763.8 L795 763.5 L795.1 763.1 L795.2 762.8 L795.3 762.4 L795.3 762 L795.4 761.7 L795.5 761.3 L795.6 760.9 L795.7 760.6 L795.8 760.2 L795.9 759.8 L796 759.5 L796.1 759.1 L796.2 758.7 L796.3 758.3 L796.4 758 L796.5 757.6 L796.6 757.2 L796.7 756.8 L796.8 756.4 L796.9 756 L797 755.6 L797.1 755.2 L797.2 754.8 L797.3 754.4 L797.4 754 L797.5 753.6 L797.6 753.2 L797.7 752.8 L797.9 752.4 L798 752 L798.1 751.7 L798.2 751.3 L798.3 750.9 L798.4 750.5 L798.5 750.2 L798.6 749.8 L798.7 749.4 L798.8 749.1 L798.9 748.7 L799 748.4 L799.1 748 L799.2 747.7 L799.3 747.3 L799.4 747 L799.5 746.6 L799.6 746.3 L799.7 745.9 L799.8 745.6 L799.9 745.2 L800 744.9 L800.1 744.5 L800.2 744.2 L800.3 743.8 L800.4 743.4 L800.6 743.1 L800.7 742.7 L800.8 742.3 L800.9 741.9 L801 741.5 L801.1 741.1 L801.2 740.7 L801.3 740.3 L801.4 739.9 L801.5 739.5 L801.7 739.1 L801.8 738.6 L801.9 738.2 L802 737.8 L802.1 737.4 L802.2 737 L802.3 736.5 L802.5 736.1 L802.6 735.7 L802.7 735.2 L802.8 734.8 L803 734.4 L803.1 734 L803.2 733.6 L803.3 733.1 L803.5 732.7 L803.6 732.3 L803.7 731.9 L803.9 731.5 L804 731 L804.1 730.6 L804.2 730.2 L804.4 729.8 L804.5 729.4 L804.6 728.9 L804.8 728.5 L804.9 728.1 L805 727.7 L805.2 727.2 L805.3 726.8 L805.5 726.4 L805.6 726 L805.8 725.6 L805.9 725.2 L806.1 724.7 L806.2 724.3 L806.4 723.9 L806.5 723.5 L806.7 723.1 L806.9 722.7 L807.1 722.3 L807.2 721.9 L807.4 721.5 L807.6 721.1 L807.8 720.8 L808 720.4 L808.2 720 L808.4 719.7 L808.6 719.3 L808.7 718.9 L808.9 718.6 L809.1 718.2 L809.4 717.8 L809.6 717.5 L809.8 717.1 L810 716.7 L810.2 716.4 L810.5 716 L810.7 715.6 L811 715.2 L811.2 714.8 L811.5 714.4 L811.8 714 L812.1 713.6 L812.4 713.2 L812.7 712.8 L813.1 712.3 L813.4 711.9 L813.8 711.4 L814.2 711 L814.5 710.5 L814.9 710 L815.3 709.5 L815.7 709 L816.2 708.5 L816.6 708 L817 707.5 L817.4 707 L817.9 706.5 L818.3 706.1 L818.8 705.6 L819.2 705.1 L819.6 704.6 L820.1 704.2 L820.5 703.8 L821 703.3 L821.4 702.9 L821.9 702.5 L822.3 702.1 L822.8 701.8 L823.3 701.5 L823.8 701.2 L824.2 700.8 L824.7 700.6 L825.2 700.3 L825.7 700 L826.1 699.7 L826.6 699.5 L827.1 699.2 L827.6 699 L828.1 698.8 L828.6 698.5 L829.1 698.3 L829.6 698.1 L830.1 697.8 L830.6 697.6 L831.1 697.4 L831.7 697.1 L832.2 696.9 L832.7 696.6 L833.2 696.4 L833.8 696.1 L834.3 695.9 L834.8 695.6 L835.2 695.4 L835.4 695.3 L835.6 695.2 L835.7 695.2 L835.7 695.2 L835.7 695.2 L835.7 695.2 L835.7 695.3 L835.7 695.3 L835.8 695.3 L835.9 695.2 L836.1 695.1 L836.4 695 L836.8 694.8 L837.3 694.6 L838 694.2 L838.9 693.8 L839.9 693.3 L841.2 692.6 L842.6 691.9 L844.3 691 L846.3 690 L848.6 688.9 L851.1 687.5 L854.1 685.9 L857.5 684.2 L861.1 682.3 L865.1 680.2 L869.3 678 L873.7 675.7 L878.3 673.3 L883 670.8 L887.9 668.2 L892.9 665.6 L897.9 663 L902.9 660.4 L907.9 657.8 L912.8 655.2 L917.6 652.7 L922.3 650.2 L926.9 647.8 L931.2 645.6 L935.3 643.4 L939.2 641.4 L942.7 639.6 L946 637.9 L948.8 636.5 L951.3 635.2 L953.4 634.1 L955.3 633.1 L956.9 632.3 L958.2 631.6 L959.4 631 L960.3 630.5 L961.1 630.1 L961.8 629.8 L962.4 629.5 L962.9 629.3 L963.4 629.1 L963.8 628.9 L964.3 628.7 L964.8 628.4 L965.4 628.2 L966 627.9 L966.8 627.5 L967.7 627.1 L968.8 626.6 L970.2 626 L971.7 625.2 L973.5 624.4 L975.6 623.4 L978 622.2 L980.6 620.8 L983.5 619.4 L986.7 617.8 L990 616.2 L993.6 614.4 L997.2 612.6 L1001 610.7 L1004.9 608.8 L1008.9 606.9 L1012.9 604.9 L1016.9 602.9 L1020.9 600.9 L1024.8 599 L1028.7 597.1 L1032.5 595.2 L1036.2 593.4 L1039.7 591.7 L1043 590.1 L1046.1 588.5 L1049 587.1 L1051.6 585.8 L1053.9 584.7 L1055.9 583.7 L1057.6 582.9 L1059.1 582.1 L1060.4 581.5 L1061.5 581 L1062.4 580.5 L1063.2 580.2 L1063.8 579.9 L1064.2 579.7 L1064.5 579.6 L1064.8 579.5 L1064.9 579.4 L1064.9 579.5 L1064.9 579.5 L1064.8 579.6 L1064.6 579.6 L1064.5 579.7 L1064.3 579.8 L1064.1 579.9 L1063.9 580 L1063.8 580.1 L1063.7 580.2 L1063.6 580.2 L1063.7 580.2 L1063.8 580.1Z" fill="#dcdcde" stroke="#3a3a3c" stroke-width="0.5"/>
<path d="M1059.4 577.6 L1059.3 577.6 L1059.2 577.6 L1059.3 577.6 L1059.3 577.5 L1059.4 577.4 L1059.6 577.3 L1059.7 577.2 L1059.9 577.1 L1060 576.9 L1060.1 576.8 L1060.1 576.8 L1060.1 576.7 L1060.1 576.7 L1059.9 576.7 L1059.7 576.8 L1059.3 576.9 L1058.8 577.1 L1058.2 577.3 L1057.4 577.6 L1056.5 578.1 L1055.3 578.6 L1054 579.2 L1052.5 579.9 L1050.7 580.7 L1048.7 581.7 L1046.4 582.8 L1043.7 584.1 L1040.8 585.5 L1037.7 587 L1034.3 588.6 L1030.8 590.3 L1027.1 592.1 L1023.3 594 L1019.4 595.9 L1015.5 597.8 L1011.4 599.8 L1007.4 601.7 L1003.4 603.7 L999.4 605.6 L995.5 607.5 L991.7 609.4 L988 611.2 L984.4 612.9 L981.1 614.6 L977.9 616.1 L975 617.6 L972.3 618.9 L969.9 620 L967.8 621.1 L966 621.9 L964.4 622.7 L963.1 623.3 L962 623.8 L961.1 624.2 L960.3 624.6 L959.6 624.9 L959.1 625.1 L958.6 625.4 L958.1 625.6 L957.7 625.8 L957.2 626 L956.7 626.2 L956.1 626.5 L955.4 626.8 L954.6 627.2 L953.7 627.7 L952.5 628.3 L951.2 629 L949.6 629.8 L947.7 630.8 L945.6 631.9 L943.1 633.1 L940.3 634.6 L937 636.3 L933.5 638.1 L929.7 640.2 L925.6 642.3 L921.2 644.6 L916.7 647 L912 649.4 L907.2 652 L902.3 654.6 L897.3 657.2 L892.3 659.8 L887.3 662.4 L882.4 665 L877.5 667.6 L872.8 670.1 L868.2 672.5 L863.8 674.9 L859.6 677.1 L855.7 679.1 L852.1 681.1 L848.7 682.8 L845.8 684.4 L843.2 685.8 L841 686.9 L839 687.9 L837.3 688.8 L835.9 689.6 L834.7 690.2 L833.6 690.8 L832.8 691.2 L832.1 691.6 L831.6 691.8 L831.2 692 L831 692.2 L830.8 692.3 L830.7 692.3 L830.7 692.3 L830.7 692.3 L830.7 692.3 L830.7 692.3 L830.7 692.3 L830.7 692.3 L830.6 692.4 L830.5 692.5 L830.3 692.6 L829.9 692.8 L829.5 693 L829 693.3 L828.5 693.6 L828 693.9 L827.5 694.2 L827 694.4 L826.5 694.7 L826 694.9 L825.5 695.2 L825.1 695.4 L824.6 695.7 L824.1 696 L823.7 696.2 L823.2 696.5 L822.8 696.7 L822.3 697 L821.9 697.3 L821.4 697.6 L821 697.8 L820.5 698.1 L820.1 698.5 L819.7 698.8 L819.2 699.1 L818.8 699.5 L818.4 699.9 L817.9 700.2 L817.5 700.7 L817.1 701.1 L816.7 701.5 L816.3 702 L815.8 702.4 L815.4 702.9 L815 703.4 L814.6 703.9 L814.2 704.4 L813.8 704.9 L813.4 705.4 L813 705.9 L812.6 706.5 L812.2 707 L811.8 707.5 L811.4 708 L811.1 708.5 L810.7 709 L810.4 709.5 L810 709.9 L809.7 710.4 L809.4 710.9 L809.1 711.3 L808.8 711.7 L808.5 712.1 L808.2 712.5 L808 713 L807.7 713.3 L807.5 713.7 L807.2 714.1 L807 714.5 L806.8 714.9 L806.6 715.2 L806.4 715.6 L806.1 716 L805.9 716.4 L805.8 716.7 L805.6 717.1 L805.4 717.5 L805.2 717.8 L805 718.2 L804.8 718.6 L804.7 718.9 L804.5 719.3 L804.3 719.7 L804.1 720.1 L803.9 720.5 L803.8 720.9 L803.6 721.3 L803.4 721.7 L803.3 722.1 L803.1 722.5 L802.9 722.9 L802.8 723.4 L802.6 723.8 L802.5 724.2 L802.3 724.6 L802.2 725 L802.1 725.4 L801.9 725.9 L801.8 726.3 L801.6 726.7 L801.5 727.1 L801.4 727.6 L801.3 728 L801.1 728.4 L801 728.8 L800.9 729.2 L800.7 729.7 L800.6 730.1 L800.5 730.5 L800.4 730.9 L800.2 731.3 L800.1 731.8 L800 732.2 L799.8 732.6 L799.7 733 L799.6 733.4 L799.5 733.9 L799.3 734.3 L799.2 734.7 L799.1 735.2 L799 735.6 L798.9 736 L798.8 736.4 L798.6 736.8 L798.5 737.3 L798.4 737.7 L798.3 738.1 L798.2 738.5 L798.1 738.9 L798 739.3 L797.9 739.7 L797.8 740.1 L797.7 740.5 L797.5 740.9 L797.4 741.3 L797.3 741.6 L797.2 742 L797.1 742.4 L797 742.7 L796.9 743.1 L796.8 743.4 L796.7 743.8 L796.6 744.1 L796.5 744.5 L796.4 744.8 L796.3 745.2 L796.2 745.5 L796.1 745.9 L796 746.2 L795.9 746.6 L795.8 746.9 L795.7 747.3 L795.6 747.6 L795.5 748 L795.4 748.4 L795.3 748.7 L795.2 749.1 L795.1 749.5 L794.9 749.9 L794.8 750.2 L794.7 750.6 L794.6 751 L794.5 751.4 L794.4 751.8 L794.3 752.2 L794.2 752.6 L794.1 753 L794 753.4 L793.9 753.8 L793.8 754.2 L793.7 754.6 L793.5 755 L793.4 755.4 L793.3 755.8 L793.2 756.2 L793.1 756.5 L793 756.9 L792.9 757.3 L792.8 757.7 L792.8 758 L792.7 758.4 L792.6 758.8 L792.5 759.1 L792.4 759.5 L792.3 759.9 L792.2 760.2 L792.1 760.6 L792.1 761 L792 761.3 L791.9 761.7 L791.8 762 L791.7 762.4 L791.7 762.8 L791.6 763.1 L791.5 763.4 L791.4 763.8 L791.4 764.1 L791.3 764.4 L791.2 764.7 L791.2 765 L791.1 765.3 L791 765.6 L791 765.9 L790.9 766.2 L790.9 766.4 L790.8 766.6 L790.8 766.9 L790.7 767.1 L790.7 767.3 L790.6 767.5 L790.6 767.7 L790.5 767.9 L790.5 768.1 L790.5 768.2 L790.4 768.4 L790.4 768.6 L790.3 768.7 L790.3 768.8 L790.3 769 L790.3 769.1 L790.2 769.2 L790.2 769.3 L790.2 769.5 L790.2 769.6 L790.1 769.7 L790.1 769.8 L790.1 769.8 L790.1 769.9 L790.1 770 L792.8 771.6 L792.8 771.5 L792.9 771.4 L792.9 771.4 L792.9 771.3 L792.9 771.2 L793 771.1 L793 770.9 L793 770.8 L793 770.7 L793.1 770.6 L793.1 770.4 L793.1 770.3 L793.2 770.2 L793.2 770 L793.2 769.8 L793.3 769.7 L793.3 769.5 L793.3 769.3 L793.4 769.1 L793.4 768.9 L793.5 768.7 L793.5 768.5 L793.6 768.2 L793.6 768 L793.7 767.8 L793.7 767.5 L793.8 767.2 L793.9 766.9 L793.9 766.6 L794 766.3 L794.1 766 L794.1 765.7 L794.2 765.4 L794.3 765 L794.3 764.7 L794.4 764.4 L794.5 764 L794.6 763.6 L794.7 763.3 L794.7 762.9 L794.8 762.6 L794.9 762.2 L795 761.8 L795.1 761.5 L795.2 761.1 L795.3 760.7 L795.3 760.4 L795.4 760 L795.5 759.6 L795.6 759.3 L795.7 758.9 L795.8 758.5 L795.9 758.1 L796 757.8 L796.1 757.4 L796.2 757 L796.3 756.6 L796.4 756.2 L796.5 755.8 L796.6 755.4 L796.7 755 L796.9 754.6 L797 754.2 L797.1 753.8 L797.2 753.4 L797.3 753 L797.4 752.6 L797.5 752.2 L797.6 751.8 L797.7 751.5 L797.8 751.1 L797.9 750.7 L798 750.3 L798.1 750 L798.2 749.6 L798.3 749.2 L798.4 748.9 L798.5 748.5 L798.6 748.2 L798.7 747.8 L798.8 747.5 L798.9 747.1 L799 746.8 L799.1 746.4 L799.3 746.1 L799.4 745.7 L799.5 745.4 L799.6 745 L799.7 744.7 L799.8 744.3 L799.9 744 L800 743.6 L800.1 743.2 L800.2 742.9 L800.3 742.5 L800.4 742.1 L800.5 741.7 L800.6 741.3 L800.8 740.9 L800.9 740.5 L801 740.1 L801.1 739.7 L801.2 739.3 L801.3 738.9 L801.4 738.4 L801.5 738 L801.6 737.6 L801.8 737.2 L801.9 736.8 L802 736.3 L802.1 735.9 L802.2 735.5 L802.4 735 L802.5 734.6 L802.6 734.2 L802.7 733.8 L802.9 733.4 L803 732.9 L803.1 732.5 L803.3 732.1 L803.4 731.7 L803.5 731.3 L803.6 730.8 L803.8 730.4 L803.9 730 L804 729.6 L804.2 729.2 L804.3 728.7 L804.4 728.3 L804.6 727.9 L804.7 727.5 L804.8 727 L805 726.6 L805.1 726.2 L805.3 725.8 L805.4 725.4 L805.6 725 L805.7 724.5 L805.9 724.1 L806 723.7 L806.2 723.3 L806.4 722.9 L806.5 722.5 L806.7 722.1 L806.9 721.7 L807.1 721.3 L807.2 720.9 L807.4 720.5 L807.6 720.2 L807.8 719.8 L808 719.4 L808.1 719.1 L808.3 718.7 L808.5 718.3 L808.7 718 L808.9 717.6 L809.1 717.2 L809.3 716.8 L809.6 716.5 L809.8 716.1 L810 715.7 L810.2 715.3 L810.5 714.9 L810.7 714.6 L811 714.1 L811.3 713.7 L811.6 713.3 L811.9 712.9 L812.2 712.5 L812.5 712 L812.8 711.5 L813.1 711.1 L813.5 710.6 L813.8 710.1 L814.2 709.6 L814.6 709.1 L815 708.6 L815.3 708.1 L815.7 707.5 L816.1 707 L816.5 706.5 L816.9 706 L817.4 705.5 L817.8 705 L818.2 704.5 L818.6 704 L819 703.6 L819.4 703.1 L819.9 702.7 L820.3 702.3 L820.7 701.8 L821.1 701.5 L821.6 701.1 L822 700.7 L822.4 700.4 L822.9 700.1 L823.3 699.7 L823.7 699.4 L824.2 699.2 L824.6 698.9 L825.1 698.6 L825.5 698.3 L826 698.1 L826.4 697.8 L826.9 697.6 L827.4 697.3 L827.8 697 L828.3 696.8 L828.8 696.5 L829.3 696.3 L829.8 696 L830.2 695.8 L830.7 695.5 L831.2 695.2 L831.7 694.9 L832.3 694.6 L832.7 694.4 L833 694.2 L833.3 694.1 L833.4 694 L833.5 693.9 L833.5 693.9 L833.5 693.9 L833.5 693.9 L833.4 693.9 L833.4 693.9 L833.5 693.9 L833.6 693.9 L833.7 693.8 L834 693.6 L834.4 693.4 L834.9 693.2 L835.6 692.8 L836.4 692.4 L837.4 691.8 L838.7 691.2 L840.1 690.4 L841.8 689.5 L843.7 688.5 L846 687.4 L848.5 686 L851.5 684.4 L854.8 682.7 L858.5 680.7 L862.4 678.7 L866.6 676.5 L871 674.1 L875.6 671.7 L880.3 669.2 L885.2 666.6 L890.1 664 L895.1 661.4 L900.1 658.8 L905.1 656.2 L910 653.6 L914.8 651 L919.5 648.6 L924 646.2 L928.3 643.9 L932.4 641.8 L936.3 639.7 L939.8 637.9 L943 636.2 L945.9 634.8 L948.3 633.5 L950.5 632.4 L952.3 631.4 L953.9 630.6 L955.3 629.9 L956.4 629.3 L957.4 628.8 L958.2 628.4 L958.9 628.1 L959.5 627.8 L960 627.6 L960.4 627.4 L960.9 627.2 L961.3 627 L961.8 626.7 L962.4 626.5 L963.1 626.2 L963.9 625.8 L964.8 625.4 L965.9 624.9 L967.2 624.3 L968.8 623.5 L970.6 622.7 L972.7 621.6 L975 620.5 L977.7 619.2 L980.7 617.7 L983.8 616.2 L987.2 614.5 L990.7 612.8 L994.4 611 L998.3 609.1 L1002.2 607.2 L1006.2 605.3 L1010.2 603.3 L1014.2 601.4 L1018.2 599.4 L1022.2 597.5 L1026.1 595.6 L1029.9 593.7 L1033.6 591.9 L1037.1 590.2 L1040.5 588.6 L1043.6 587.1 L1046.5 585.7 L1049.1 584.4 L1051.5 583.3 L1053.5 582.3 L1055.3 581.5 L1056.8 580.8 L1058.1 580.2 L1059.2 579.7 L1060.2 579.2 L1061 578.9 L1061.6 578.7 L1062.1 578.5 L1062.4 578.4 L1062.7 578.3 L1062.8 578.3 L1062.9 578.3 L1062.9 578.4 L1062.9 578.4 L1062.8 578.5 L1062.6 578.7 L1062.5 578.8 L1062.3 578.9 L1062.2 579 L1062.1 579.1 L1062 579.2 L1062 579.2 L1062.1 579.2 L1062.2 579.2Z" fill="#a4a4a6" stroke="#3a3a3c" stroke-width="0.4"/>
<path d="M1059.4 577.6 L1062.2 579.2" fill="none" stroke="#555557" stroke-width="0.3"/>
<path d="M1059.2 577.6 L1062 579.2" fill="none" stroke="#555557" stroke-width="0.3"/>
<path d="M1059.3 577.5 L1062.1 579.1" fill="none" stroke="#555557" stroke-width="0.3"/>
<path d="M1059.6 577.3 L1062.3 578.9" fill="none" stroke="#555557" stroke-width="0.3"/>
<path d="M1059.9 577.1 L1062.6 578.7" fill="none" stroke="#555557" stroke-width="0.3"/>
<path d="M1060.1 576.8 L1062.9 578.4" fill="none" stroke="#555557" stroke-width="0.3"/>
<path d="M1060.1 576.7 L1062.9 578.3" fill="none" stroke="#555557" stroke-width="0.3"/>
<path d="M1059.9 576.7 L1062.7 578.3" fill="none" stroke="#555557" stroke-width="0.3"/>
<path d="M1059.3 576.9 L1062.1 578.5" fill="none" stroke="#555557" stroke-width="0.3"/>
<path d="M1058.2 577.3 L1061 578.9" fill="none" stroke="#555557" stroke-width="0.3"/>
<path d="M1056.5 578.1 L1059.2 579.7" fill="none" stroke="#555557" stroke-width="0.3"/>
<path d="M1054 579.2 L1056.8 580.8" fill="none" stroke="#555557" stroke-width="0.3"/>
<path d="M1050.7 580.7 L1053.5 582.3" fill="none" stroke="#555557" stroke-width="0.3"/>
<path d="M1046.4 582.8 L1049.1 584.4" fill="none" stroke="#555557" stroke-width="0.3"/>
<path d="M1040.8 585.5 L1043.6 587.1" fill="none" stroke="#555557" stroke-width="0.3"/>
<path d="M1034.3 588.6 L1037.1 590.2" fill="none" stroke="#555557" stroke-width="0.3"/>
<path d="M1027.1 592.1 L1029.9 593.7" fill="none" stroke="#555557" stroke-width="0.3"/>
<path d="M1019.4 595.9 L1022.2 597.5" fill="none" stroke="#555557" stroke-width="0.3"/>
<path d="M1011.4 599.8 L1014.2 601.4" fill="none" stroke="#555557" stroke-width="0.3"/>
<path d="M1003.4 603.7 L1006.2 605.3" fill="none" stroke="#555557" stroke-width="0.3"/>
<path d="M995.5 607.5 L998.3 609.1" fill="none" stroke="#555557" stroke-width="0.3"/>
<path d="M988 611.2 L990.7 612.8" fill="none" stroke="#555557" stroke-width="0.3"/>
<path d="M981.1 614.6 L983.8 616.2" fill="none" stroke="#555557" stroke-width="0.3"/>
<path d="M975 617.6 L977.7 619.2" fill="none" stroke="#555557" stroke-width="0.3"/>
<path d="M969.9 620 L972.7 621.6" fill="none" stroke="#555557" stroke-width="0.3"/>
<path d="M966 621.9 L968.8 623.5" fill="none" stroke="#555557" stroke-width="0.3"/>
<path d="M963.1 623.3 L965.9 624.9" fill="none" stroke="#555557" stroke-width="0.3"/>
<path d="M961.1 624.2 L963.9 625.8" fill="none" stroke="#555557" stroke-width="0.3"/>
<path d="M959.6 624.9 L962.4 626.5" fill="none" stroke="#555557" stroke-width="0.3"/>
<path d="M958.6 625.4 L961.3 627" fill="none" stroke="#555557" stroke-width="0.3"/>
<path d="M957.7 625.8 L960.4 627.4" fill="none" stroke="#555557" stroke-width="0.3"/>
<path d="M956.7 626.2 L959.5 627.8" fill="none" stroke="#555557" stroke-width="0.3"/>
<path d="M955.4 626.8 L958.2 628.4" fill="none" stroke="#555557" stroke-width="0.3"/>
<path d="M953.7 627.7 L956.4 629.3" fill="none" stroke="#555557" stroke-width="0.3"/>
<path d="M951.2 629 L953.9 630.6" fill="none" stroke="#555557" stroke-width="0.3"/>
<path d="M947.7 630.8 L950.5 632.4" fill="none" stroke="#555557" stroke-width="0.3"/>
<path d="M943.1 633.1 L945.9 634.8" fill="none" stroke="#555557" stroke-width="0.3"/>
<path d="M937 636.3 L939.8 637.9" fill="none" stroke="#555557" stroke-width="0.3"/>
<path d="M929.7 640.2 L932.4 641.8" fill="none" stroke="#555557" stroke-width="0.3"/>
<path d="M921.2 644.6 L924 646.2" fill="none" stroke="#555557" stroke-width="0.3"/>
<path d="M912 649.4 L914.8 651" fill="none" stroke="#555557" stroke-width="0.3"/>
<path d="M902.3 654.6 L905.1 656.2" fill="none" stroke="#555557" stroke-width="0.3"/>
<path d="M892.3 659.8 L895.1 661.4" fill="none" stroke="#555557" stroke-width="0.3"/>
<path d="M882.4 665 L885.2 666.6" fill="none" stroke="#555557" stroke-width="0.3"/>
<path d="M872.8 670.1 L875.6 671.7" fill="none" stroke="#555557" stroke-width="0.3"/>
<path d="M863.8 674.9 L866.6 676.5" fill="none" stroke="#555557" stroke-width="0.3"/>
<path d="M855.7 679.1 L858.5 680.7" fill="none" stroke="#555557" stroke-width="0.3"/>
<path d="M848.7 682.8 L851.5 684.4" fill="none" stroke="#555557" stroke-width="0.3"/>
<path d="M843.2 685.8 L846 687.4" fill="none" stroke="#555557" stroke-width="0.3"/>
<path d="M839 687.9 L841.8 689.5" fill="none" stroke="#555557" stroke-width="0.3"/>
<path d="M835.9 689.6 L838.7 691.2" fill="none" stroke="#555557" stroke-width="0.3"/>
<path d="M833.6 690.8 L836.4 692.4" fill="none" stroke="#555557" stroke-width="0.3"/>
<path d="M832.1 691.6 L834.9 693.2" fill="none" stroke="#555557" stroke-width="0.3"/>
<path d="M831.2 692 L834 693.6" fill="none" stroke="#555557" stroke-width="0.3"/>
<path d="M830.8 692.3 L833.6 693.9" fill="none" stroke="#555557" stroke-width="0.3"/>
<path d="M830.7 692.3 L833.4 693.9" fill="none" stroke="#555557" stroke-width="0.3"/>
<path d="M830.7 692.3 L833.5 693.9" fill="none" stroke="#555557" stroke-width="0.3"/>
<path d="M830.7 692.3 L833.5 693.9" fill="none" stroke="#555557" stroke-width="0.3"/>
<path d="M830.6 692.4 L833.4 694" fill="none" stroke="#555557" stroke-width="0.3"/>
<path d="M830.3 692.6 L833 694.2" fill="none" stroke="#555557" stroke-width="0.3"/>
<path d="M829.5 693 L832.3 694.6" fill="none" stroke="#555557" stroke-width="0.3"/>
<path d="M828.5 693.6 L831.2 695.2" fill="none" stroke="#555557" stroke-width="0.3"/>
<path d="M827.5 694.2 L830.2 695.8" fill="none" stroke="#555557" stroke-width="0.3"/>
<path d="M826.5 694.7 L829.3 696.3" fill="none" stroke="#555557" stroke-width="0.3"/>
<path d="M825.5 695.2 L828.3 696.8" fill="none" stroke="#555557" stroke-width="0.3"/>
<path d="M824.6 695.7 L827.4 697.3" fill="none" stroke="#555557" stroke-width="0.3"/>
<path d="M823.7 696.2 L826.4 697.8" fill="none" stroke="#555557" stroke-width="0.3"/>
<path d="M822.8 696.7 L825.5 698.3" fill="none" stroke="#555557" stroke-width="0.3"/>
<path d="M821.9 697.3 L824.6 698.9" fill="none" stroke="#555557" stroke-width="0.3"/>
<path d="M821 697.8 L823.7 699.4" fill="none" stroke="#555557" stroke-width="0.3"/>
<path d="M820.1 698.5 L822.9 700.1" fill="none" stroke="#555557" stroke-width="0.3"/>
<path d="M819.2 699.1 L822 700.7" fill="none" stroke="#555557" stroke-width="0.3"/>
<path d="M818.4 699.9 L821.1 701.5" fill="none" stroke="#555557" stroke-width="0.3"/>
<path d="M817.5 700.7 L820.3 702.3" fill="none" stroke="#555557" stroke-width="0.3"/>
<path d="M816.7 701.5 L819.4 703.1" fill="none" stroke="#555557" stroke-width="0.3"/>
<path d="M815.8 702.4 L818.6 704" fill="none" stroke="#555557" stroke-width="0.3"/>
<path d="M815 703.4 L817.8 705" fill="none" stroke="#555557" stroke-width="0.3"/>
<path d="M814.2 704.4 L816.9 706" fill="none" stroke="#555557" stroke-width="0.3"/>
<path d="M813.4 705.4 L816.1 707" fill="none" stroke="#555557" stroke-width="0.3"/>
<path d="M812.6 706.5 L815.3 708.1" fill="none" stroke="#555557" stroke-width="0.3"/>
<path d="M811.8 707.5 L814.6 709.1" fill="none" stroke="#555557" stroke-width="0.3"/>
<path d="M811.1 708.5 L813.8 710.1" fill="none" stroke="#555557" stroke-width="0.3"/>
<path d="M810.4 709.5 L813.1 711.1" fill="none" stroke="#555557" stroke-width="0.3"/>
<path d="M809.7 710.4 L812.5 712" fill="none" stroke="#555557" stroke-width="0.3"/>
<path d="M809.1 711.3 L811.9 712.9" fill="none" stroke="#555557" stroke-width="0.3"/>
<path d="M808.5 712.1 L811.3 713.7" fill="none" stroke="#555557" stroke-width="0.3"/>
<path d="M808 713 L810.7 714.6" fill="none" stroke="#555557" stroke-width="0.3"/>
<path d="M807.5 713.7 L810.2 715.3" fill="none" stroke="#555557" stroke-width="0.3"/>
<path d="M807 714.5 L809.8 716.1" fill="none" stroke="#555557" stroke-width="0.3"/>
<path d="M806.6 715.2 L809.3 716.8" fill="none" stroke="#555557" stroke-width="0.3"/>
<path d="M806.1 716 L808.9 717.6" fill="none" stroke="#555557" stroke-width="0.3"/>
<path d="M805.8 716.7 L808.5 718.3" fill="none" stroke="#555557" stroke-width="0.3"/>
<path d="M805.4 717.5 L808.1 719.1" fill="none" stroke="#555557" stroke-width="0.3"/>
<path d="M805 718.2 L807.8 719.8" fill="none" stroke="#555557" stroke-width="0.3"/>
<path d="M804.7 718.9 L807.4 720.5" fill="none" stroke="#555557" stroke-width="0.3"/>
<path d="M804.3 719.7 L807.1 721.3" fill="none" stroke="#555557" stroke-width="0.3"/>
<path d="M803.9 720.5 L806.7 722.1" fill="none" stroke="#555557" stroke-width="0.3"/>
<path d="M803.6 721.3 L806.4 722.9" fill="none" stroke="#555557" stroke-width="0.3"/>
<path d="M803.3 722.1 L806 723.7" fill="none" stroke="#555557" stroke-width="0.3"/>
<path d="M802.9 722.9 L805.7 724.5" fill="none" stroke="#555557" stroke-width="0.3"/>
<path d="M802.6 723.8 L805.4 725.4" fill="none" stroke="#555557" stroke-width="0.3"/>
<path d="M802.3 724.6 L805.1 726.2" fill="none" stroke="#555557" stroke-width="0.3"/>
<path d="M802.1 725.4 L804.8 727" fill="none" stroke="#555557" stroke-width="0.3"/>
<path d="M801.8 726.3 L804.6 727.9" fill="none" stroke="#555557" stroke-width="0.3"/>
<path d="M801.5 727.1 L804.3 728.7" fill="none" stroke="#555557" stroke-width="0.3"/>
<path d="M801.3 728 L804 729.6" fill="none" stroke="#555557" stroke-width="0.3"/>
<path d="M801 728.8 L803.8 730.4" fill="none" stroke="#555557" stroke-width="0.3"/>
<path d="M800.7 729.7 L803.5 731.3" fill="none" stroke="#555557" stroke-width="0.3"/>
<path d="M800.5 730.5 L803.3 732.1" fill="none" stroke="#555557" stroke-width="0.3"/>
<path d="M800.2 731.3 L803 732.9" fill="none" stroke="#555557" stroke-width="0.3"/>
<path d="M800 732.2 L802.7 733.8" fill="none" stroke="#555557" stroke-width="0.3"/>
<path d="M799.7 733 L802.5 734.6" fill="none" stroke="#555557" stroke-width="0.3"/>
<path d="M799.5 733.9 L802.2 735.5" fill="none" stroke="#555557" stroke-width="0.3"/>
<path d="M799.2 734.7 L802 736.3" fill="none" stroke="#555557" stroke-width="0.3"/>
<path d="M799 735.6 L801.8 737.2" fill="none" stroke="#555557" stroke-width="0.3"/>
<path d="M798.8 736.4 L801.5 738" fill="none" stroke="#555557" stroke-width="0.3"/>
<path d="M798.5 737.3 L801.3 738.9" fill="none" stroke="#555557" stroke-width="0.3"/>
<path d="M798.3 738.1 L801.1 739.7" fill="none" stroke="#555557" stroke-width="0.3"/>
<path d="M798.1 738.9 L800.9 740.5" fill="none" stroke="#555557" stroke-width="0.3"/>
<path d="M797.9 739.7 L800.6 741.3" fill="none" stroke="#555557" stroke-width="0.3"/>
<path d="M797.7 740.5 L800.4 742.1" fill="none" stroke="#555557" stroke-width="0.3"/>
<path d="M797.4 741.3 L800.2 742.9" fill="none" stroke="#555557" stroke-width="0.3"/>
<path d="M797.2 742 L800 743.6" fill="none" stroke="#555557" stroke-width="0.3"/>
<path d="M797 742.7 L799.8 744.3" fill="none" stroke="#555557" stroke-width="0.3"/>
<path d="M796.8 743.4 L799.6 745" fill="none" stroke="#555557" stroke-width="0.3"/>
<path d="M796.6 744.1 L799.4 745.7" fill="none" stroke="#555557" stroke-width="0.3"/>
<path d="M796.4 744.8 L799.1 746.4" fill="none" stroke="#555557" stroke-width="0.3"/>
<path d="M796.2 745.5 L798.9 747.1" fill="none" stroke="#555557" stroke-width="0.3"/>
<path d="M796 746.2 L798.7 747.8" fill="none" stroke="#555557" stroke-width="0.3"/>
<path d="M795.8 746.9 L798.5 748.5" fill="none" stroke="#555557" stroke-width="0.3"/>
<path d="M795.6 747.6 L798.3 749.2" fill="none" stroke="#555557" stroke-width="0.3"/>
<path d="M795.4 748.4 L798.1 750" fill="none" stroke="#555557" stroke-width="0.3"/>
<path d="M795.2 749.1 L797.9 750.7" fill="none" stroke="#555557" stroke-width="0.3"/>
<path d="M794.9 749.9 L797.7 751.5" fill="none" stroke="#555557" stroke-width="0.3"/>
<path d="M794.7 750.6 L797.5 752.2" fill="none" stroke="#555557" stroke-width="0.3"/>
<path d="M794.5 751.4 L797.3 753" fill="none" stroke="#555557" stroke-width="0.3"/>
<path d="M794.3 752.2 L797.1 753.8" fill="none" stroke="#555557" stroke-width="0.3"/>
<path d="M794.1 753 L796.9 754.6" fill="none" stroke="#555557" stroke-width="0.3"/>
<path d="M793.9 753.8 L796.6 755.4" fill="none" stroke="#555557" stroke-width="0.3"/>
<path d="M793.7 754.6 L796.4 756.2" fill="none" stroke="#555557" stroke-width="0.3"/>
<path d="M793.4 755.4 L796.2 757" fill="none" stroke="#555557" stroke-width="0.3"/>
<path d="M793.2 756.2 L796 757.8" fill="none" stroke="#555557" stroke-width="0.3"/>
<path d="M793 756.9 L795.8 758.5" fill="none" stroke="#555557" stroke-width="0.3"/>
<path d="M792.8 757.7 L795.6 759.3" fill="none" stroke="#555557" stroke-width="0.3"/>
<path d="M792.7 758.4 L795.4 760" fill="none" stroke="#555557" stroke-width="0.3"/>
<path d="M792.5 759.1 L795.3 760.7" fill="none" stroke="#555557" stroke-width="0.3"/>
<path d="M792.3 759.9 L795.1 761.5" fill="none" stroke="#555557" stroke-width="0.3"/>
<path d="M792.1 760.6 L794.9 762.2" fill="none" stroke="#555557" stroke-width="0.3"/>
<path d="M792 761.3 L794.7 762.9" fill="none" stroke="#555557" stroke-width="0.3"/>
<path d="M791.8 762 L794.6 763.6" fill="none" stroke="#555557" stroke-width="0.3"/>
<path d="M791.7 762.8 L794.4 764.4" fill="none" stroke="#555557" stroke-width="0.3"/>
<path d="M791.5 763.4 L794.3 765" fill="none" stroke="#555557" stroke-width="0.3"/>
<path d="M791.4 764.1 L794.1 765.7" fill="none" stroke="#555557" stroke-width="0.3"/>
<path d="M791.2 764.7 L794 766.3" fill="none" stroke="#555557" stroke-width="0.3"/>
<path d="M791.1 765.3 L793.9 766.9" fill="none" stroke="#555557" stroke-width="0.3"/>
<path d="M791 765.9 L793.7 767.5" fill="none" stroke="#555557" stroke-width="0.3"/>
<path d="M790.9 766.4 L793.6 768" fill="none" stroke="#555557" stroke-width="0.3"/>
<path d="M790.8 766.9 L793.5 768.5" fill="none" stroke="#555557" stroke-width="0.3"/>
<path d="M790.7 767.3 L793.4 768.9" fill="none" stroke="#555557" stroke-width="0.3"/>
<path d="M790.6 767.7 L793.3 769.3" fill="none" stroke="#555557" stroke-width="0.3"/>
<path d="M790.5 768.1 L793.3 769.7" fill="none" stroke="#555557" stroke-width="0.3"/>
<path d="M790.4 768.4 L793.2 770" fill="none" stroke="#555557" stroke-width="0.3"/>
<path d="M790.3 768.7 L793.1 770.3" fill="none" stroke="#555557" stroke-width="0.3"/>
<path d="M790.3 769 L793.1 770.6" fill="none" stroke="#555557" stroke-width="0.3"/>
<path d="M790.2 769.2 L793 770.8" fill="none" stroke="#555557" stroke-width="0.3"/>
<path d="M790.2 769.5 L793 771.1" fill="none" stroke="#555557" stroke-width="0.3"/>
<path d="M790.1 769.7 L792.9 771.3" fill="none" stroke="#555557" stroke-width="0.3"/>
<path d="M790.1 769.8 L792.9 771.4" fill="none" stroke="#555557" stroke-width="0.3"/>
<path d="M790.1 770 L792.8 771.6" fill="none" stroke="#555557" stroke-width="0.3"/>
<path d="M1063 579.7 L1062.9 579.7 L1062.8 579.7 L1062.9 579.7 L1062.9 579.6 L1063.1 579.5 L1063.2 579.4 L1063.4 579.3 L1063.5 579.2 L1063.7 579.1 L1063.8 579 L1063.9 578.9 L1063.9 578.9 L1063.9 578.9 L1063.7 578.9 L1063.5 579 L1063.2 579.1 L1062.7 579.3 L1062.1 579.6 L1061.3 579.9 L1060.4 580.3 L1059.3 580.8 L1058 581.4 L1056.4 582.2 L1054.7 583 L1052.7 584 L1050.4 585.1 L1047.7 586.4 L1044.8 587.8 L1041.7 589.3 L1038.4 590.9 L1034.9 592.7 L1031.2 594.5 L1027.4 596.3 L1023.5 598.2 L1019.6 600.2 L1015.6 602.1 L1011.5 604.1 L1007.5 606.1 L1003.6 608 L999.7 609.9 L995.8 611.8 L992.2 613.6 L988.6 615.4 L985.3 617 L982.1 618.6 L979.2 620 L976.5 621.3 L974.1 622.5 L972 623.5 L970.2 624.4 L968.7 625.1 L967.4 625.7 L966.3 626.3 L965.3 626.7 L964.5 627 L963.9 627.3 L963.3 627.6 L962.8 627.8 L962.4 628 L961.9 628.2 L961.4 628.4 L960.9 628.7 L960.3 628.9 L959.7 629.3 L958.9 629.7 L957.9 630.2 L956.8 630.7 L955.4 631.4 L953.8 632.3 L952 633.2 L949.8 634.3 L947.3 635.6 L944.5 637.1 L941.3 638.7 L937.7 640.6 L933.9 642.6 L929.8 644.7 L925.4 647 L920.9 649.4 L916.2 651.9 L911.4 654.4 L906.5 657 L901.5 659.6 L896.5 662.2 L891.5 664.8 L886.5 667.4 L881.7 670 L876.9 672.5 L872.3 674.9 L867.9 677.2 L863.7 679.4 L859.8 681.5 L856.1 683.4 L852.8 685.2 L849.8 686.7 L847.3 688.1 L845 689.3 L843.1 690.3 L841.4 691.2 L839.9 691.9 L838.7 692.6 L837.7 693.1 L836.8 693.5 L836.1 693.9 L835.6 694.1 L835.2 694.3 L834.9 694.5 L834.7 694.5 L834.6 694.6 L834.6 694.6 L834.6 694.6 L834.6 694.6 L834.6 694.6 L834.6 694.6 L834.6 694.6 L834.5 694.6 L834.3 694.7 L834.1 694.8 L833.8 695 L833.3 695.2 L832.8 695.5 L832.2 695.8 L831.7 696.1 L831.2 696.3 L830.7 696.6 L830.2 696.8 L829.7 697.1 L829.2 697.3 L828.7 697.6 L828.2 697.8 L827.7 698 L827.3 698.3 L826.8 698.5 L826.3 698.8 L825.9 699 L825.4 699.3 L824.9 699.6 L824.5 699.9 L824 700.2 L823.5 700.5 L823.1 700.8 L822.6 701.1 L822.2 701.4 L821.7 701.8 L821.3 702.2 L820.9 702.6 L820.4 703 L820 703.4 L819.6 703.9 L819.1 704.3 L818.7 704.8 L818.3 705.3 L817.8 705.8 L817.4 706.3 L817 706.8 L816.6 707.3 L816.2 707.8 L815.8 708.3 L815.4 708.8 L815 709.3 L814.6 709.8 L814.2 710.3 L813.8 710.8 L813.5 711.3 L813.1 711.7 L812.8 712.2 L812.4 712.6 L812.1 713 L811.8 713.5 L811.5 713.9 L811.3 714.3 L811 714.7 L810.7 715.1 L810.5 715.5 L810.2 715.9 L810 716.2 L809.8 716.6 L809.6 717 L809.3 717.3 L809.1 717.7 L808.9 718.1 L808.7 718.4 L808.5 718.8 L808.4 719.2 L808.2 719.5 L808 719.9 L807.8 720.3 L807.6 720.7 L807.4 721 L807.2 721.4 L807.1 721.8 L806.9 722.2 L806.7 722.6 L806.5 723 L806.4 723.4 L806.2 723.8 L806 724.2 L805.9 724.6 L805.7 725.1 L805.6 725.5 L805.4 725.9 L805.3 726.3 L805.1 726.7 L805 727.1 L804.9 727.6 L804.7 728 L804.6 728.4 L804.5 728.8 L804.3 729.3 L804.2 729.7 L804.1 730.1 L803.9 730.5 L803.8 730.9 L803.7 731.4 L803.6 731.8 L803.4 732.2 L803.3 732.6 L803.2 733 L803 733.5 L802.9 733.9 L802.8 734.3 L802.7 734.7 L802.5 735.1 L802.4 735.6 L802.3 736 L802.2 736.4 L802.1 736.9 L801.9 737.3 L801.8 737.7 L801.7 738.1 L801.6 738.5 L801.5 739 L801.4 739.4 L801.3 739.8 L801.1 740.2 L801 740.6 L800.9 741 L800.8 741.4 L800.7 741.8 L800.6 742.2 L800.5 742.6 L800.4 743 L800.3 743.3 L800.2 743.7 L800.1 744.1 L799.9 744.4 L799.8 744.8 L799.7 745.1 L799.6 745.5 L799.5 745.8 L799.4 746.2 L799.3 746.5 L799.2 746.9 L799.1 747.2 L799 747.6 L798.9 747.9 L798.8 748.3 L798.7 748.6 L798.6 749 L798.5 749.3 L798.4 749.7 L798.3 750.1 L798.2 750.4 L798.1 750.8 L798 751.2 L797.9 751.6 L797.8 751.9 L797.7 752.3 L797.6 752.7 L797.5 753.1 L797.4 753.5 L797.2 753.9 L797.1 754.3 L797 754.7 L796.9 755.1 L796.8 755.5 L796.7 755.9 L796.6 756.3 L796.5 756.7 L796.4 757.1 L796.3 757.5 L796.2 757.9 L796.1 758.2 L796 758.6 L795.9 759 L795.8 759.4 L795.7 759.7 L795.6 760.1 L795.5 760.5 L795.4 760.8 L795.3 761.2 L795.3 761.6 L795.2 761.9 L795.1 762.3 L795 762.7 L794.9 763 L794.8 763.4 L794.8 763.7 L794.7 764.1 L794.6 764.5 L794.5 764.8 L794.4 765.1 L794.4 765.5 L794.3 765.8 L794.2 766.1 L794.2 766.4 L794.1 766.7 L794 767 L794 767.3 L793.9 767.6 L793.9 767.9 L793.8 768.1 L793.8 768.3 L793.7 768.6 L793.7 768.8 L793.6 769 L793.6 769.2 L793.5 769.4 L793.5 769.6 L793.4 769.8 L793.4 769.9 L793.4 770.1 L793.3 770.3 L793.3 770.4 L793.3 770.5 L793.2 770.7 L793.2 770.8 L793.2 770.9 L793.1 771 L793.1 771.2 L793.1 771.3 L793.1 771.4 L793.1 771.5 L793 771.5 L793 771.6 L793 771.7" fill="none" stroke="#555557" stroke-width="0.4"/>
<path d="M1046.8 570.3 L1046.6 570.3 L1046.6 570.3 L1046.6 570.3 L1046.6 570.2 L1046.7 570.1 L1046.8 570 L1047 569.8 L1047.1 569.7 L1047.2 569.6 L1047.3 569.5 L1047.3 569.4 L1047.3 569.3 L1047.2 569.3 L1047.1 569.3 L1046.8 569.3 L1046.4 569.4 L1045.9 569.6 L1045.3 569.9 L1044.5 570.2 L1043.5 570.6 L1042.4 571.1 L1041.1 571.7 L1039.5 572.4 L1037.7 573.2 L1035.6 574.1 L1033.2 575.2 L1030.5 576.5 L1027.6 577.8 L1024.4 579.3 L1021 580.9 L1017.4 582.6 L1013.7 584.3 L1009.8 586.1 L1005.8 588 L1001.8 589.9 L997.7 591.8 L993.6 593.8 L989.5 595.7 L985.5 597.6 L981.5 599.5 L977.6 601.3 L973.9 603.1 L970.3 604.8 L966.8 606.4 L963.6 607.9 L960.6 609.3 L957.9 610.6 L955.4 611.7 L953.3 612.7 L951.5 613.6 L949.9 614.3 L948.6 614.9 L947.5 615.4 L946.5 615.8 L945.7 616.2 L945.1 616.5 L944.5 616.7 L944 616.9 L943.5 617.1 L943 617.3 L942.5 617.5 L942 617.7 L941.4 618 L940.7 618.3 L939.9 618.7 L938.9 619.2 L937.8 619.8 L936.4 620.5 L934.8 621.3 L932.9 622.2 L930.8 623.3 L928.3 624.6 L925.4 626.1 L922.2 627.7 L918.6 629.5 L914.7 631.5 L910.6 633.7 L906.2 635.9 L901.6 638.3 L896.9 640.7 L892.1 643.2 L887.1 645.8 L882.1 648.4 L877.1 651 L872.1 653.6 L867.1 656.2 L862.2 658.7 L857.4 661.2 L852.8 663.6 L848.4 665.9 L844.1 668.1 L840.2 670.2 L836.5 672.1 L833.1 673.8 L830.1 675.4 L827.5 676.7 L825.3 677.9 L823.3 678.9 L821.7 679.8 L820.2 680.5 L819 681.2 L818 681.7 L817.1 682.2 L816.5 682.5 L816 682.8 L815.6 683 L815.3 683.1 L815.1 683.2 L815 683.3 L815 683.3 L815 683.3 L815 683.3 L815 683.3 L815 683.3 L815 683.3 L815 683.3 L814.8 683.4 L814.6 683.6 L814.3 683.7 L813.8 684 L813.3 684.3 L812.8 684.6 L812.3 684.9 L811.8 685.1 L811.3 685.4 L810.9 685.7 L810.4 685.9 L809.9 686.2 L809.5 686.4 L809 686.7 L808.5 686.9 L808.1 687.2 L807.6 687.5 L807.2 687.7 L806.7 688 L806.3 688.3 L805.9 688.6 L805.4 688.9 L805 689.2 L804.6 689.5 L804.1 689.8 L803.7 690.2 L803.3 690.5 L802.9 690.9 L802.4 691.3 L802 691.7 L801.6 692.1 L801.2 692.6 L800.8 693 L800.4 693.5 L799.9 694 L799.5 694.5 L799.1 695 L798.7 695.5 L798.3 696 L797.9 696.5 L797.5 697 L797.1 697.5 L796.7 698.1 L796.4 698.6 L796 699.1 L795.6 699.6 L795.3 700.1 L794.9 700.6 L794.6 701 L794.3 701.5 L794 702 L793.7 702.4 L793.4 702.8 L793.1 703.2 L792.8 703.6 L792.5 704 L792.3 704.4 L792 704.8 L791.8 705.2 L791.5 705.6 L791.3 705.9 L791.1 706.3 L790.9 706.7 L790.6 707 L790.4 707.4 L790.2 707.8 L790 708.1 L789.8 708.5 L789.7 708.9 L789.5 709.2 L789.3 709.6 L789.1 710 L788.9 710.3 L788.7 710.7 L788.5 711.1 L788.4 711.5 L788.2 711.9 L788 712.3 L787.8 712.7 L787.6 713.1 L787.5 713.5 L787.3 713.9 L787.1 714.3 L787 714.7 L786.8 715.1 L786.6 715.5 L786.5 716 L786.3 716.4 L786.2 716.8 L786 717.2 L785.9 717.6 L785.8 718 L785.6 718.4 L785.5 718.9 L785.3 719.3 L785.2 719.7 L785.1 720.1 L784.9 720.5 L784.8 720.9 L784.6 721.4 L784.5 721.8 L784.4 722.2 L784.2 722.6 L784.1 723 L784 723.4 L783.8 723.8 L783.7 724.3 L783.6 724.7 L783.4 725.1 L783.3 725.5 L783.2 726 L783.1 726.4 L782.9 726.8 L782.8 727.2 L782.7 727.6 L782.6 728 L782.5 728.5 L782.3 728.9 L782.2 729.3 L782.1 729.7 L782 730.1 L781.9 730.5 L781.8 730.9 L781.6 731.2 L781.5 731.6 L781.4 732 L781.3 732.4 L781.2 732.8 L781.1 733.1 L781 733.5 L780.9 733.8 L780.8 734.2 L780.7 734.5 L780.6 734.9 L780.5 735.2 L780.4 735.6 L780.3 735.9 L780.2 736.3 L780.1 736.6 L780 737 L779.9 737.3 L779.8 737.7 L779.7 738 L779.5 738.4 L779.4 738.8 L779.3 739.1 L779.2 739.5 L779.1 739.9 L779 740.2 L778.9 740.6 L778.8 741 L778.7 741.4 L778.6 741.8 L778.5 742.2 L778.4 742.6 L778.3 742.9 L778.2 743.3 L778.1 743.7 L778 744.1 L777.8 744.5 L777.7 744.9 L777.6 745.3 L777.5 745.7 L777.4 746.1 L777.3 746.5 L777.2 746.9 L777.1 747.3 L777 747.7 L776.9 748 L776.8 748.4 L776.7 748.8 L776.6 749.1 L776.5 749.5 L776.5 749.9 L776.4 750.2 L776.3 750.6 L776.2 751 L776.1 751.3 L776 751.7 L776 752.1 L775.9 752.4 L775.8 752.8 L775.7 753.2 L775.6 753.5 L775.6 753.9 L775.5 754.2 L775.4 754.5 L775.3 754.9 L775.3 755.2 L775.2 755.5 L775.1 755.8 L775.1 756.1 L775 756.4 L775 756.6 L774.9 756.9 L774.8 757.1 L774.8 757.4 L774.7 757.6 L774.7 757.8 L774.6 758 L774.6 758.2 L774.5 758.4 L774.5 758.6 L774.5 758.8 L774.4 759 L774.4 759.1 L774.4 759.3 L774.3 759.4 L774.3 759.6 L774.3 759.7 L774.2 759.9 L774.2 760 L774.2 760.1 L774.2 760.2 L774.1 760.3 L774.1 760.4 L774.1 760.5 L774.1 760.6 L774.1 760.7 L774 760.8 L790.1 770 L790.1 769.9 L790.1 769.8 L790.1 769.8 L790.1 769.7 L790.2 769.6 L790.2 769.5 L790.2 769.3 L790.2 769.2 L790.3 769.1 L790.3 769 L790.3 768.8 L790.3 768.7 L790.4 768.6 L790.4 768.4 L790.5 768.2 L790.5 768.1 L790.5 767.9 L790.6 767.7 L790.6 767.5 L790.7 767.3 L790.7 767.1 L790.8 766.9 L790.8 766.6 L790.9 766.4 L790.9 766.2 L791 765.9 L791 765.6 L791.1 765.3 L791.2 765 L791.2 764.7 L791.3 764.4 L791.4 764.1 L791.4 763.8 L791.5 763.4 L791.6 763.1 L791.7 762.8 L791.7 762.4 L791.8 762 L791.9 761.7 L792 761.3 L792.1 761 L792.1 760.6 L792.2 760.2 L792.3 759.9 L792.4 759.5 L792.5 759.1 L792.6 758.8 L792.7 758.4 L792.8 758 L792.8 757.7 L792.9 757.3 L793 756.9 L793.1 756.5 L793.2 756.2 L793.3 755.8 L793.4 755.4 L793.5 755 L793.7 754.6 L793.8 754.2 L793.9 753.8 L794 753.4 L794.1 753 L794.2 752.6 L794.3 752.2 L794.4 751.8 L794.5 751.4 L794.6 751 L794.7 750.6 L794.8 750.2 L794.9 749.9 L795.1 749.5 L795.2 749.1 L795.3 748.7 L795.4 748.4 L795.5 748 L795.6 747.6 L795.7 747.3 L795.8 746.9 L795.9 746.6 L796 746.2 L796.1 745.9 L796.2 745.5 L796.3 745.2 L796.4 744.8 L796.5 744.5 L796.6 744.1 L796.7 743.8 L796.8 743.4 L796.9 743.1 L797 742.7 L797.1 742.4 L797.2 742 L797.3 741.6 L797.4 741.3 L797.5 740.9 L797.7 740.5 L797.8 740.1 L797.9 739.7 L798 739.3 L798.1 738.9 L798.2 738.5 L798.3 738.1 L798.4 737.7 L798.5 737.3 L798.6 736.8 L798.8 736.4 L798.9 736 L799 735.6 L799.1 735.2 L799.2 734.7 L799.3 734.3 L799.5 733.9 L799.6 733.4 L799.7 733 L799.8 732.6 L800 732.2 L800.1 731.8 L800.2 731.3 L800.4 730.9 L800.5 730.5 L800.6 730.1 L800.7 729.7 L800.9 729.2 L801 728.8 L801.1 728.4 L801.3 728 L801.4 727.6 L801.5 727.1 L801.6 726.7 L801.8 726.3 L801.9 725.9 L802.1 725.4 L802.2 725 L802.3 724.6 L802.5 724.2 L802.6 723.8 L802.8 723.4 L802.9 722.9 L803.1 722.5 L803.3 722.1 L803.4 721.7 L803.6 721.3 L803.8 720.9 L803.9 720.5 L804.1 720.1 L804.3 719.7 L804.5 719.3 L804.7 718.9 L804.8 718.6 L805 718.2 L805.2 717.8 L805.4 717.5 L805.6 717.1 L805.8 716.7 L805.9 716.4 L806.1 716 L806.4 715.6 L806.6 715.2 L806.8 714.9 L807 714.5 L807.2 714.1 L807.5 713.7 L807.7 713.3 L808 713 L808.2 712.5 L808.5 712.1 L808.8 711.7 L809.1 711.3 L809.4 710.9 L809.7 710.4 L810 709.9 L810.4 709.5 L810.7 709 L811.1 708.5 L811.4 708 L811.8 707.5 L812.2 707 L812.6 706.5 L813 705.9 L813.4 705.4 L813.8 704.9 L814.2 704.4 L814.6 703.9 L815 703.4 L815.4 702.9 L815.8 702.4 L816.3 702 L816.7 701.5 L817.1 701.1 L817.5 700.7 L817.9 700.2 L818.4 699.9 L818.8 699.5 L819.2 699.1 L819.7 698.8 L820.1 698.5 L820.5 698.1 L821 697.8 L821.4 697.6 L821.9 697.3 L822.3 697 L822.8 696.7 L823.2 696.5 L823.7 696.2 L824.1 696 L824.6 695.7 L825.1 695.4 L825.5 695.2 L826 694.9 L826.5 694.7 L827 694.4 L827.5 694.2 L828 693.9 L828.5 693.6 L829 693.3 L829.5 693 L829.9 692.8 L830.3 692.6 L830.5 692.5 L830.6 692.4 L830.7 692.3 L830.7 692.3 L830.7 692.3 L830.7 692.3 L830.7 692.3 L830.7 692.3 L830.7 692.3 L830.8 692.3 L831 692.2 L831.2 692 L831.6 691.8 L832.1 691.6 L832.8 691.2 L833.6 690.8 L834.7 690.2 L835.9 689.6 L837.3 688.8 L839 687.9 L841 686.9 L843.2 685.8 L845.8 684.4 L848.7 682.8 L852.1 681.1 L855.7 679.1 L859.6 677.1 L863.8 674.9 L868.2 672.5 L872.8 670.1 L877.5 667.6 L882.4 665 L887.3 662.4 L892.3 659.8 L897.3 657.2 L902.3 654.6 L907.2 652 L912 649.4 L916.7 647 L921.2 644.6 L925.6 642.3 L929.7 640.2 L933.5 638.1 L937 636.3 L940.3 634.6 L943.1 633.1 L945.6 631.9 L947.7 630.8 L949.6 629.8 L951.2 629 L952.5 628.3 L953.7 627.7 L954.6 627.2 L955.4 626.8 L956.1 626.5 L956.7 626.2 L957.2 626 L957.7 625.8 L958.1 625.6 L958.6 625.4 L959.1 625.1 L959.6 624.9 L960.3 624.6 L961.1 624.2 L962 623.8 L963.1 623.3 L964.4 622.7 L966 621.9 L967.8 621.1 L969.9 620 L972.3 618.9 L975 617.6 L977.9 616.1 L981.1 614.6 L984.4 612.9 L988 611.2 L991.7 609.4 L995.5 607.5 L999.4 605.6 L1003.4 603.7 L1007.4 601.7 L1011.4 599.8 L1015.5 597.8 L1019.4 595.9 L1023.3 594 L1027.1 592.1 L1030.8 590.3 L1034.3 588.6 L1037.7 587 L1040.8 585.5 L1043.7 584.1 L1046.4 582.8 L1048.7 581.7 L1050.7 580.7 L1052.5 579.9 L1054 579.2 L1055.3 578.6 L1056.5 578.1 L1057.4 577.6 L1058.2 577.3 L1058.8 577.1 L1059.3 576.9 L1059.7 576.8 L1059.9 576.7 L1060.1 576.7 L1060.1 576.7 L1060.1 576.8 L1060.1 576.8 L1060 576.9 L1059.9 577.1 L1059.7 577.2 L1059.6 577.3 L1059.4 577.4 L1059.3 577.5 L1059.3 577.6 L1059.2 577.6 L1059.3 577.6 L1059.4 577.6Z" fill="#454547" stroke="#262628" stroke-width="0.6"/>
<path d="M1048.9 569 L1060.6 575.7" fill="none" stroke="#f2f2f2" stroke-width="0.6"/>
<path d="M1051.4 570.8 L1049.8 570.7 L1045.4 572.6 L1045.3 573.4 L1050.2 576.2 L1051.8 576.3 L1056.2 574.4 L1056.3 573.6Z" fill="#fdfdfd" stroke="#1e1e20" stroke-width="0.5"/>
<ellipse cx="1050.8" cy="573.5" rx="1.3" ry="0.9" fill="#39393b" stroke="#2a2a2c" stroke-width="0.2"/>
<path d="M1047.8 569.6 L1046.4 570.1 L1047.7 570.9 L1049.1 570.3Z" fill="#eeeeee" stroke="#333" stroke-width="0.1"/>
<path d="M1044.7 570.8 L1043.3 571.4 L1044.6 572.2 L1046 571.6Z" fill="#eeeeee" stroke="#333" stroke-width="0.1"/>
<path d="M1057.4 575.1 L1056 575.7 L1057.3 576.5 L1058.7 575.9Z" fill="#eeeeee" stroke="#333" stroke-width="0.1"/>
<path d="M1054.4 576.4 L1053 577 L1054.3 577.7 L1055.7 577.2Z" fill="#eeeeee" stroke="#333" stroke-width="0.1"/>
<path d="M1041.9 571.9 L1053.7 578.7" fill="none" stroke="#f2f2f2" stroke-width="0.6"/>
<path d="M1044.5 573.8 L1042.9 573.8 L1038.6 575.8 L1038.6 576.6 L1043.4 579.4 L1045 579.5 L1049.3 577.5 L1049.4 576.6Z" fill="#fdfdfd" stroke="#1e1e20" stroke-width="0.5"/>
<ellipse cx="1044" cy="576.6" rx="1.3" ry="0.9" fill="#39393b" stroke="#2a2a2c" stroke-width="0.2"/>
<path d="M1040.9 572.6 L1039.5 573.2 L1040.8 573.9 L1042.2 573.3Z" fill="#eeeeee" stroke="#333" stroke-width="0.1"/>
<path d="M1037.9 574 L1036.5 574.6 L1037.8 575.3 L1039.2 574.7Z" fill="#eeeeee" stroke="#333" stroke-width="0.1"/>
<path d="M1050.6 578.2 L1049.2 578.8 L1050.5 579.5 L1051.9 578.9Z" fill="#eeeeee" stroke="#333" stroke-width="0.1"/>
<path d="M1047.6 579.6 L1046.2 580.2 L1047.5 580.9 L1048.9 580.3Z" fill="#eeeeee" stroke="#333" stroke-width="0.1"/>
<path d="M1035 575 L1046.9 581.9" fill="none" stroke="#f2f2f2" stroke-width="0.6"/>
<path d="M1037.7 577 L1036.2 577 L1031.8 579 L1031.8 579.9 L1036.6 582.7 L1038.2 582.7 L1042.6 580.7 L1042.6 579.8Z" fill="#fdfdfd" stroke="#1e1e20" stroke-width="0.5"/>
<ellipse cx="1037.2" cy="579.8" rx="1.3" ry="0.9" fill="#39393b" stroke="#2a2a2c" stroke-width="0.2"/>
<path d="M1034 575.7 L1032.7 576.4 L1034 577.1 L1035.3 576.5Z" fill="#eeeeee" stroke="#333" stroke-width="0.1"/>
<path d="M1031 577.1 L1029.7 577.8 L1031 578.5 L1032.3 577.9Z" fill="#eeeeee" stroke="#333" stroke-width="0.1"/>
<path d="M1043.8 581.4 L1042.4 582 L1043.7 582.8 L1045.1 582.1Z" fill="#eeeeee" stroke="#333" stroke-width="0.1"/>
<path d="M1040.8 582.8 L1039.5 583.4 L1040.8 584.2 L1042.1 583.5Z" fill="#eeeeee" stroke="#333" stroke-width="0.1"/>
<path d="M1028.1 578.2 L1040.2 585.1" fill="none" stroke="#f2f2f2" stroke-width="0.6"/>
<path d="M1031 580.3 L1029.4 580.2 L1025.1 582.3 L1025 583.1 L1029.9 585.9 L1031.5 586 L1035.8 583.9 L1035.8 583.1Z" fill="#fdfdfd" stroke="#1e1e20" stroke-width="0.5"/>
<ellipse cx="1030.4" cy="583.1" rx="1.3" ry="0.9" fill="#39393b" stroke="#2a2a2c" stroke-width="0.2"/>
<path d="M1027.2 578.9 L1025.8 579.6 L1027.1 580.3 L1028.5 579.7Z" fill="#eeeeee" stroke="#333" stroke-width="0.1"/>
<path d="M1024.2 580.4 L1022.9 581 L1024.2 581.8 L1025.5 581.1Z" fill="#eeeeee" stroke="#333" stroke-width="0.1"/>
<path d="M1037 584.6 L1035.7 585.3 L1037 586 L1038.3 585.4Z" fill="#eeeeee" stroke="#333" stroke-width="0.1"/>
<path d="M1034.1 586 L1032.7 586.7 L1034 587.4 L1035.4 586.8Z" fill="#eeeeee" stroke="#333" stroke-width="0.1"/>
<path d="M1021.2 581.4 L1033.5 588.4" fill="none" stroke="#f2f2f2" stroke-width="0.6"/>
<path d="M1024.2 583.5 L1022.6 583.4 L1018.3 585.5 L1018.3 586.4 L1023.1 589.2 L1024.7 589.2 L1029 587.1 L1029.1 586.3Z" fill="#fdfdfd" stroke="#1e1e20" stroke-width="0.5"/>
<ellipse cx="1023.7" cy="586.3" rx="1.3" ry="0.9" fill="#39393b" stroke="#2a2a2c" stroke-width="0.2"/>
<path d="M1020.4 582.1 L1019 582.8 L1020.3 583.5 L1021.7 582.9Z" fill="#eeeeee" stroke="#333" stroke-width="0.1"/>
<path d="M1017.4 583.6 L1016.1 584.2 L1017.4 585 L1018.7 584.3Z" fill="#eeeeee" stroke="#333" stroke-width="0.1"/>
<path d="M1030.3 587.9 L1028.9 588.5 L1030.2 589.3 L1031.6 588.6Z" fill="#eeeeee" stroke="#333" stroke-width="0.1"/>
<path d="M1027.3 589.3 L1026 590 L1027.3 590.7 L1028.6 590.1Z" fill="#eeeeee" stroke="#333" stroke-width="0.1"/>
<path d="M1014.4 584.6 L1026.7 591.7" fill="none" stroke="#f2f2f2" stroke-width="0.6"/>
<path d="M1017.5 586.8 L1015.9 586.7 L1011.6 588.8 L1011.5 589.6 L1016.4 592.4 L1018 592.5 L1022.3 590.4 L1022.3 589.6Z" fill="#fdfdfd" stroke="#1e1e20" stroke-width="0.5"/>
<ellipse cx="1016.9" cy="589.6" rx="1.3" ry="0.9" fill="#39393b" stroke="#2a2a2c" stroke-width="0.2"/>
<path d="M1013.6 585.4 L1012.2 586 L1013.5 586.8 L1014.9 586.1Z" fill="#eeeeee" stroke="#333" stroke-width="0.1"/>
<path d="M1010.6 586.8 L1009.3 587.5 L1010.6 588.2 L1011.9 587.6Z" fill="#eeeeee" stroke="#333" stroke-width="0.1"/>
<path d="M1023.5 591.1 L1022.2 591.8 L1023.5 592.5 L1024.8 591.9Z" fill="#eeeeee" stroke="#333" stroke-width="0.1"/>
<path d="M1020.6 592.6 L1019.2 593.2 L1020.5 594 L1021.9 593.3Z" fill="#eeeeee" stroke="#333" stroke-width="0.1"/>
<path d="M1007.6 587.8 L1020 595" fill="none" stroke="#f2f2f2" stroke-width="0.6"/>
<path d="M1010.7 590 L1009.1 590 L1004.8 592.1 L1004.8 592.9 L1009.6 595.7 L1011.2 595.8 L1015.5 593.7 L1015.6 592.8Z" fill="#fdfdfd" stroke="#1e1e20" stroke-width="0.5"/>
<ellipse cx="1010.2" cy="592.9" rx="1.3" ry="0.9" fill="#39393b" stroke="#2a2a2c" stroke-width="0.2"/>
<path d="M1006.8 588.6 L1005.4 589.3 L1006.7 590 L1008.1 589.4Z" fill="#eeeeee" stroke="#333" stroke-width="0.1"/>
<path d="M1003.8 590.1 L1002.5 590.7 L1003.8 591.5 L1005.1 590.8Z" fill="#eeeeee" stroke="#333" stroke-width="0.1"/>
<path d="M1016.8 594.4 L1015.5 595.1 L1016.8 595.8 L1018.1 595.2Z" fill="#eeeeee" stroke="#333" stroke-width="0.1"/>
<path d="M1013.8 595.8 L1012.5 596.5 L1013.8 597.2 L1015.1 596.6Z" fill="#eeeeee" stroke="#333" stroke-width="0.1"/>
<path d="M1000.7 591 L1013.3 598.2" fill="none" stroke="#f2f2f2" stroke-width="0.6"/>
<path d="M1004 593.3 L1002.4 593.2 L998.1 595.3 L998 596.2 L1002.9 599 L1004.5 599 L1008.8 596.9 L1008.8 596.1Z" fill="#fdfdfd" stroke="#1e1e20" stroke-width="0.5"/>
<ellipse cx="1003.4" cy="596.1" rx="1.3" ry="0.9" fill="#39393b" stroke="#2a2a2c" stroke-width="0.2"/>
<path d="M1000 591.9 L998.6 592.5 L999.9 593.3 L1001.3 592.6Z" fill="#eeeeee" stroke="#333" stroke-width="0.1"/>
<path d="M997 593.3 L995.7 594 L997 594.7 L998.3 594.1Z" fill="#eeeeee" stroke="#333" stroke-width="0.1"/>
<path d="M1010.1 597.7 L1008.7 598.3 L1010 599.1 L1011.4 598.4Z" fill="#eeeeee" stroke="#333" stroke-width="0.1"/>
<path d="M1007.1 599.1 L1005.7 599.8 L1007 600.5 L1008.4 599.9Z" fill="#eeeeee" stroke="#333" stroke-width="0.1"/>
<path d="M993.9 594.2 L1006.5 601.5" fill="none" stroke="#f2f2f2" stroke-width="0.6"/>
<path d="M997.2 596.6 L995.6 596.5 L991.3 598.6 L991.3 599.5 L996.1 602.3 L997.7 602.3 L1002 600.2 L1002.1 599.4Z" fill="#fdfdfd" stroke="#1e1e20" stroke-width="0.5"/>
<ellipse cx="996.7" cy="599.4" rx="1.3" ry="0.9" fill="#39393b" stroke="#2a2a2c" stroke-width="0.2"/>
<path d="M993.2 595.1 L991.8 595.8 L993.1 596.5 L994.5 595.9Z" fill="#eeeeee" stroke="#333" stroke-width="0.1"/>
<path d="M990.2 596.6 L988.9 597.2 L990.2 598 L991.5 597.3Z" fill="#eeeeee" stroke="#333" stroke-width="0.1"/>
<path d="M1003.3 601 L1002 601.6 L1003.3 602.4 L1004.6 601.7Z" fill="#eeeeee" stroke="#333" stroke-width="0.1"/>
<path d="M1000.4 602.4 L999 603.1 L1000.3 603.8 L1001.7 603.1Z" fill="#eeeeee" stroke="#333" stroke-width="0.1"/>
<path d="M987.1 597.4 L999.8 604.8" fill="none" stroke="#f2f2f2" stroke-width="0.6"/>
<path d="M990.5 599.8 L988.9 599.8 L984.6 601.9 L984.5 602.7 L989.4 605.5 L991 605.6 L995.3 603.5 L995.3 602.6Z" fill="#fdfdfd" stroke="#1e1e20" stroke-width="0.5"/>
<ellipse cx="989.9" cy="602.7" rx="1.3" ry="0.9" fill="#39393b" stroke="#2a2a2c" stroke-width="0.2"/>
<path d="M986.4 598.4 L985.1 599 L986.4 599.8 L987.7 599.1Z" fill="#eeeeee" stroke="#333" stroke-width="0.1"/>
<path d="M983.4 599.8 L982.1 600.5 L983.4 601.2 L984.7 600.6Z" fill="#eeeeee" stroke="#333" stroke-width="0.1"/>
<path d="M996.6 604.2 L995.2 604.9 L996.5 605.6 L997.9 605Z" fill="#eeeeee" stroke="#333" stroke-width="0.1"/>
<path d="M993.6 605.7 L992.3 606.3 L993.6 607.1 L994.9 606.4Z" fill="#eeeeee" stroke="#333" stroke-width="0.1"/>
<path d="M980.2 600.7 L993.1 608.1" fill="none" stroke="#f2f2f2" stroke-width="0.6"/>
<path d="M983.7 603.1 L982.1 603.1 L977.8 605.2 L977.8 606 L982.6 608.8 L984.2 608.9 L988.5 606.8 L988.6 605.9Z" fill="#fdfdfd" stroke="#1e1e20" stroke-width="0.5"/>
<ellipse cx="983.2" cy="606" rx="1.3" ry="0.9" fill="#39393b" stroke="#2a2a2c" stroke-width="0.2"/>
<path d="M979.6 601.6 L978.3 602.3 L979.6 603 L980.9 602.4Z" fill="#eeeeee" stroke="#333" stroke-width="0.1"/>
<path d="M976.6 603.1 L975.3 603.7 L976.6 604.5 L977.9 603.8Z" fill="#eeeeee" stroke="#333" stroke-width="0.1"/>
<path d="M989.8 607.5 L988.5 608.2 L989.8 608.9 L991.1 608.3Z" fill="#eeeeee" stroke="#333" stroke-width="0.1"/>
<path d="M986.9 609 L985.5 609.6 L986.8 610.4 L988.2 609.7Z" fill="#eeeeee" stroke="#333" stroke-width="0.1"/>
<path d="M973.4 603.9 L986.3 611.4" fill="none" stroke="#f2f2f2" stroke-width="0.6"/>
<path d="M977 606.4 L975.4 606.3 L971.1 608.4 L971 609.3 L975.9 612.1 L977.5 612.1 L981.8 610 L981.8 609.2Z" fill="#fdfdfd" stroke="#1e1e20" stroke-width="0.5"/>
<ellipse cx="976.4" cy="609.2" rx="1.3" ry="0.9" fill="#39393b" stroke="#2a2a2c" stroke-width="0.2"/>
<path d="M972.8 604.9 L971.5 605.5 L972.8 606.3 L974.1 605.6Z" fill="#eeeeee" stroke="#333" stroke-width="0.1"/>
<path d="M969.9 606.3 L968.5 607 L969.8 607.7 L971.2 607Z" fill="#eeeeee" stroke="#333" stroke-width="0.1"/>
<path d="M983.1 610.8 L981.8 611.5 L983.1 612.2 L984.4 611.5Z" fill="#eeeeee" stroke="#333" stroke-width="0.1"/>
<path d="M980.1 612.2 L978.8 612.9 L980.1 613.6 L981.4 613Z" fill="#eeeeee" stroke="#333" stroke-width="0.1"/>
<path d="M966.5 607.1 L979.6 614.7" fill="none" stroke="#f2f2f2" stroke-width="0.6"/>
<path d="M970.2 609.7 L968.6 609.6 L964.3 611.7 L964.3 612.6 L969.1 615.4 L970.7 615.4 L975 613.3 L975.1 612.5Z" fill="#fdfdfd" stroke="#1e1e20" stroke-width="0.5"/>
<ellipse cx="969.7" cy="612.5" rx="1.3" ry="0.9" fill="#39393b" stroke="#2a2a2c" stroke-width="0.2"/>
<path d="M966 608.1 L964.7 608.8 L966 609.5 L967.3 608.9Z" fill="#eeeeee" stroke="#333" stroke-width="0.1"/>
<path d="M963.1 609.5 L961.7 610.2 L963 610.9 L964.4 610.3Z" fill="#eeeeee" stroke="#333" stroke-width="0.1"/>
<path d="M976.4 614.1 L975 614.7 L976.3 615.5 L977.7 614.8Z" fill="#eeeeee" stroke="#333" stroke-width="0.1"/>
<path d="M973.4 615.5 L972.1 616.2 L973.4 616.9 L974.7 616.3Z" fill="#eeeeee" stroke="#333" stroke-width="0.1"/>
<path d="M959.6 610.3 L972.9 617.9" fill="none" stroke="#f2f2f2" stroke-width="0.6"/>
<path d="M963.5 612.9 L961.9 612.9 L957.6 615 L957.5 615.8 L962.4 618.6 L964 618.7 L968.3 616.6 L968.3 615.7Z" fill="#fdfdfd" stroke="#1e1e20" stroke-width="0.5"/>
<ellipse cx="962.9" cy="615.8" rx="1.3" ry="0.9" fill="#39393b" stroke="#2a2a2c" stroke-width="0.2"/>
<path d="M959.2 611.3 L957.9 612 L959.2 612.7 L960.5 612.1Z" fill="#eeeeee" stroke="#333" stroke-width="0.1"/>
<path d="M956.2 612.8 L954.9 613.4 L956.2 614.2 L957.5 613.5Z" fill="#eeeeee" stroke="#333" stroke-width="0.1"/>
<path d="M969.6 617.4 L968.3 618 L969.6 618.8 L970.9 618.1Z" fill="#eeeeee" stroke="#333" stroke-width="0.1"/>
<path d="M966.7 618.8 L965.3 619.5 L966.6 620.2 L968 619.6Z" fill="#eeeeee" stroke="#333" stroke-width="0.1"/>
<path d="M952.8 613.5 L966.1 621.2" fill="none" stroke="#f2f2f2" stroke-width="0.6"/>
<path d="M956.7 616.2 L955.1 616.2 L950.8 618.2 L950.8 619 L955.6 621.8 L957.2 621.9 L961.5 619.9 L961.6 619Z" fill="#fdfdfd" stroke="#1e1e20" stroke-width="0.5"/>
<ellipse cx="956.2" cy="619" rx="1.3" ry="0.9" fill="#39393b" stroke="#2a2a2c" stroke-width="0.2"/>
<path d="M952.4 614.6 L951.1 615.2 L952.4 616 L953.7 615.3Z" fill="#eeeeee" stroke="#333" stroke-width="0.1"/>
<path d="M949.4 616 L948.1 616.6 L949.4 617.4 L950.7 616.7Z" fill="#eeeeee" stroke="#333" stroke-width="0.1"/>
<path d="M962.9 620.6 L961.5 621.3 L962.8 622 L964.2 621.4Z" fill="#eeeeee" stroke="#333" stroke-width="0.1"/>
<path d="M959.9 622 L958.5 622.7 L959.8 623.4 L961.2 622.8Z" fill="#eeeeee" stroke="#333" stroke-width="0.1"/>
<path d="M945.9 616.5 L959.3 624.3" fill="none" stroke="#f2f2f2" stroke-width="0.6"/>
<path d="M949.9 619.3 L948.3 619.2 L944 621.3 L943.9 622.2 L948.8 625 L950.4 625 L954.7 622.9 L954.7 622.1Z" fill="#fdfdfd" stroke="#1e1e20" stroke-width="0.5"/>
<ellipse cx="949.3" cy="622.1" rx="1.3" ry="0.9" fill="#39393b" stroke="#2a2a2c" stroke-width="0.2"/>
<path d="M945.5 617.6 L944.2 618.3 L945.5 619 L946.8 618.4Z" fill="#eeeeee" stroke="#333" stroke-width="0.1"/>
<path d="M942.5 619.1 L941.2 619.7 L942.5 620.5 L943.8 619.8Z" fill="#eeeeee" stroke="#333" stroke-width="0.1"/>
<path d="M956.1 623.7 L954.7 624.4 L956 625.1 L957.4 624.5Z" fill="#eeeeee" stroke="#333" stroke-width="0.1"/>
<path d="M953.1 625.1 L951.7 625.8 L953 626.5 L954.4 625.9Z" fill="#eeeeee" stroke="#333" stroke-width="0.1"/>
<path d="M939 619.8 L952.6 627.6" fill="none" stroke="#f2f2f2" stroke-width="0.6"/>
<path d="M943.2 622.6 L941.6 622.6 L937.3 624.8 L937.3 625.6 L942.1 628.4 L943.7 628.5 L948 626.3 L948 625.4Z" fill="#fdfdfd" stroke="#1e1e20" stroke-width="0.5"/>
<ellipse cx="942.7" cy="625.5" rx="1.3" ry="0.9" fill="#39393b" stroke="#2a2a2c" stroke-width="0.2"/>
<path d="M938.7 620.9 L937.4 621.6 L938.7 622.4 L940 621.7Z" fill="#eeeeee" stroke="#333" stroke-width="0.1"/>
<path d="M935.8 622.4 L934.5 623.1 L935.8 623.9 L937.1 623.2Z" fill="#eeeeee" stroke="#333" stroke-width="0.1"/>
<path d="M949.3 627 L948 627.7 L949.3 628.5 L950.6 627.8Z" fill="#eeeeee" stroke="#333" stroke-width="0.1"/>
<path d="M946.4 628.5 L945.1 629.2 L946.4 630 L947.7 629.3Z" fill="#eeeeee" stroke="#333" stroke-width="0.1"/>
<path d="M932.3 623.2 L945.9 631" fill="none" stroke="#f2f2f2" stroke-width="0.6"/>
<path d="M936.5 626 L934.9 626 L930.7 628.2 L930.6 629.1 L935.5 631.9 L937.1 631.9 L941.3 629.7 L941.3 628.8Z" fill="#fdfdfd" stroke="#1e1e20" stroke-width="0.5"/>
<ellipse cx="936" cy="629" rx="1.3" ry="0.9" fill="#39393b" stroke="#2a2a2c" stroke-width="0.2"/>
<path d="M932.1 624.4 L930.7 625 L932 625.8 L933.4 625.1Z" fill="#eeeeee" stroke="#333" stroke-width="0.1"/>
<path d="M929.1 625.9 L927.8 626.6 L929.1 627.3 L930.4 626.6Z" fill="#eeeeee" stroke="#333" stroke-width="0.1"/>
<path d="M942.7 630.5 L941.3 631.2 L942.6 631.9 L944 631.2Z" fill="#eeeeee" stroke="#333" stroke-width="0.1"/>
<path d="M939.7 632 L938.4 632.7 L939.7 633.4 L941 632.7Z" fill="#eeeeee" stroke="#333" stroke-width="0.1"/>
<path d="M925.6 626.6 L939.2 634.5" fill="none" stroke="#f2f2f2" stroke-width="0.6"/>
<path d="M929.8 629.5 L928.3 629.5 L924 631.7 L924 632.5 L928.8 635.3 L930.4 635.4 L934.7 633.2 L934.7 632.3Z" fill="#fdfdfd" stroke="#1e1e20" stroke-width="0.5"/>
<ellipse cx="929.3" cy="632.4" rx="1.3" ry="0.9" fill="#39393b" stroke="#2a2a2c" stroke-width="0.2"/>
<path d="M925.4 627.8 L924 628.5 L925.3 629.2 L926.7 628.5Z" fill="#eeeeee" stroke="#333" stroke-width="0.1"/>
<path d="M922.4 629.3 L921.1 630 L922.4 630.8 L923.7 630.1Z" fill="#eeeeee" stroke="#333" stroke-width="0.1"/>
<path d="M936 633.9 L934.7 634.6 L936 635.4 L937.3 634.7Z" fill="#eeeeee" stroke="#333" stroke-width="0.1"/>
<path d="M933.1 635.5 L931.8 636.2 L933.1 636.9 L934.4 636.2Z" fill="#eeeeee" stroke="#333" stroke-width="0.1"/>
<path d="M918.9 630 L932.6 638" fill="none" stroke="#f2f2f2" stroke-width="0.6"/>
<path d="M923.2 633 L921.6 632.9 L917.4 635.2 L917.3 636 L922.2 638.8 L923.8 638.9 L928 636.6 L928 635.8Z" fill="#fdfdfd" stroke="#1e1e20" stroke-width="0.5"/>
<ellipse cx="922.7" cy="635.9" rx="1.3" ry="0.9" fill="#39393b" stroke="#2a2a2c" stroke-width="0.2"/>
<path d="M918.7 631.2 L917.4 631.9 L918.7 632.7 L920 632Z" fill="#eeeeee" stroke="#333" stroke-width="0.1"/>
<path d="M915.8 632.8 L914.4 633.5 L915.7 634.2 L917.1 633.5Z" fill="#eeeeee" stroke="#333" stroke-width="0.1"/>
<path d="M929.4 637.4 L928 638.1 L929.3 638.9 L930.7 638.2Z" fill="#eeeeee" stroke="#333" stroke-width="0.1"/>
<path d="M926.4 638.9 L925.1 639.6 L926.4 640.4 L927.7 639.7Z" fill="#eeeeee" stroke="#333" stroke-width="0.1"/>
<path d="M912.2 633.5 L926 641.4" fill="none" stroke="#f2f2f2" stroke-width="0.6"/>
<path d="M916.5 636.4 L915 636.4 L910.7 638.6 L910.7 639.5 L915.6 642.3 L917.1 642.3 L921.4 640.1 L921.4 639.2Z" fill="#fdfdfd" stroke="#1e1e20" stroke-width="0.5"/>
<ellipse cx="916" cy="639.4" rx="1.3" ry="0.9" fill="#39393b" stroke="#2a2a2c" stroke-width="0.2"/>
<path d="M912 634.7 L910.7 635.4 L912 636.2 L913.3 635.5Z" fill="#eeeeee" stroke="#333" stroke-width="0.1"/>
<path d="M909.1 636.2 L907.8 636.9 L909.1 637.7 L910.4 637Z" fill="#eeeeee" stroke="#333" stroke-width="0.1"/>
<path d="M922.7 640.9 L921.4 641.6 L922.7 642.3 L924 641.6Z" fill="#eeeeee" stroke="#333" stroke-width="0.1"/>
<path d="M919.8 642.4 L918.5 643.1 L919.8 643.9 L921.1 643.2Z" fill="#eeeeee" stroke="#333" stroke-width="0.1"/>
<path d="M905.5 636.9 L919.3 644.9" fill="none" stroke="#f2f2f2" stroke-width="0.6"/>
<path d="M909.9 639.9 L908.3 639.9 L904.1 642.1 L904.1 643 L908.9 645.8 L910.5 645.8 L914.7 643.6 L914.8 642.7Z" fill="#fdfdfd" stroke="#1e1e20" stroke-width="0.5"/>
<ellipse cx="909.4" cy="642.9" rx="1.3" ry="0.9" fill="#39393b" stroke="#2a2a2c" stroke-width="0.2"/>
<path d="M905.3 638.2 L904 638.9 L905.3 639.6 L906.6 638.9Z" fill="#eeeeee" stroke="#333" stroke-width="0.1"/>
<path d="M902.4 639.7 L901.1 640.4 L902.4 641.2 L903.7 640.5Z" fill="#eeeeee" stroke="#333" stroke-width="0.1"/>
<path d="M916.1 644.4 L914.8 645.1 L916.1 645.8 L917.4 645.1Z" fill="#eeeeee" stroke="#333" stroke-width="0.1"/>
<path d="M913.2 645.9 L911.8 646.6 L913.1 647.4 L914.5 646.7Z" fill="#eeeeee" stroke="#333" stroke-width="0.1"/>
<path d="M898.8 640.4 L912.7 648.4" fill="none" stroke="#f2f2f2" stroke-width="0.6"/>
<path d="M903.3 643.4 L901.7 643.4 L897.4 645.6 L897.4 646.5 L902.3 649.3 L903.9 649.3 L908.1 647.1 L908.1 646.2Z" fill="#fdfdfd" stroke="#1e1e20" stroke-width="0.5"/>
<ellipse cx="902.8" cy="646.4" rx="1.3" ry="0.9" fill="#39393b" stroke="#2a2a2c" stroke-width="0.2"/>
<path d="M898.7 641.7 L897.4 642.4 L898.7 643.1 L900 642.4Z" fill="#eeeeee" stroke="#333" stroke-width="0.1"/>
<path d="M895.8 643.2 L894.4 643.9 L895.7 644.6 L897.1 643.9Z" fill="#eeeeee" stroke="#333" stroke-width="0.1"/>
<path d="M909.4 647.9 L908.1 648.6 L909.4 649.3 L910.7 648.6Z" fill="#eeeeee" stroke="#333" stroke-width="0.1"/>
<path d="M906.5 649.4 L905.2 650.1 L906.5 650.9 L907.8 650.2Z" fill="#eeeeee" stroke="#333" stroke-width="0.1"/>
<path d="M892.1 643.9 L906 651.9" fill="none" stroke="#f2f2f2" stroke-width="0.6"/>
<path d="M896.6 646.9 L895.1 646.9 L890.8 649.1 L890.8 650 L895.6 652.8 L897.2 652.8 L901.5 650.6 L901.5 649.7Z" fill="#fdfdfd" stroke="#1e1e20" stroke-width="0.5"/>
<ellipse cx="896.1" cy="649.9" rx="1.3" ry="0.9" fill="#39393b" stroke="#2a2a2c" stroke-width="0.2"/>
<path d="M892 645.1 L890.7 645.8 L892 646.6 L893.3 645.9Z" fill="#eeeeee" stroke="#333" stroke-width="0.1"/>
<path d="M889.1 646.7 L887.8 647.4 L889.1 648.1 L890.4 647.4Z" fill="#eeeeee" stroke="#333" stroke-width="0.1"/>
<path d="M902.8 651.4 L901.5 652.1 L902.8 652.8 L904.1 652.1Z" fill="#eeeeee" stroke="#333" stroke-width="0.1"/>
<path d="M899.9 652.9 L898.6 653.6 L899.9 654.4 L901.2 653.7Z" fill="#eeeeee" stroke="#333" stroke-width="0.1"/>
<path d="M885.4 647.3 L899.4 655.4" fill="none" stroke="#f2f2f2" stroke-width="0.6"/>
<path d="M890 650.4 L888.4 650.4 L884.2 652.6 L884.2 653.5 L889 656.3 L890.6 656.3 L894.8 654.1 L894.8 653.2Z" fill="#fdfdfd" stroke="#1e1e20" stroke-width="0.5"/>
<ellipse cx="889.5" cy="653.4" rx="1.3" ry="0.9" fill="#39393b" stroke="#2a2a2c" stroke-width="0.2"/>
<path d="M885.4 648.6 L884 649.3 L885.3 650.1 L886.7 649.4Z" fill="#eeeeee" stroke="#333" stroke-width="0.1"/>
<path d="M882.4 650.2 L881.1 650.9 L882.4 651.6 L883.7 650.9Z" fill="#eeeeee" stroke="#333" stroke-width="0.1"/>
<path d="M896.2 654.9 L894.8 655.6 L896.1 656.3 L897.5 655.6Z" fill="#eeeeee" stroke="#333" stroke-width="0.1"/>
<path d="M893.3 656.4 L891.9 657.1 L893.2 657.9 L894.6 657.2Z" fill="#eeeeee" stroke="#333" stroke-width="0.1"/>
<path d="M878.7 650.8 L892.8 658.9" fill="none" stroke="#f2f2f2" stroke-width="0.6"/>
<path d="M883.4 653.9 L881.8 653.9 L877.5 656.1 L877.5 657 L882.4 659.8 L884 659.8 L888.2 657.6 L888.2 656.7Z" fill="#fdfdfd" stroke="#1e1e20" stroke-width="0.5"/>
<ellipse cx="882.9" cy="656.9" rx="1.3" ry="0.9" fill="#39393b" stroke="#2a2a2c" stroke-width="0.2"/>
<path d="M878.7 652.1 L877.4 652.8 L878.7 653.6 L880 652.9Z" fill="#eeeeee" stroke="#333" stroke-width="0.1"/>
<path d="M875.8 653.6 L874.5 654.3 L875.8 655.1 L877.1 654.4Z" fill="#eeeeee" stroke="#333" stroke-width="0.1"/>
<path d="M889.5 658.4 L888.2 659.1 L889.5 659.8 L890.8 659.1Z" fill="#eeeeee" stroke="#333" stroke-width="0.1"/>
<path d="M886.6 659.9 L885.3 660.6 L886.6 661.4 L887.9 660.7Z" fill="#eeeeee" stroke="#333" stroke-width="0.1"/>
<path d="M872 654.3 L886.1 662.4" fill="none" stroke="#f2f2f2" stroke-width="0.6"/>
<path d="M876.7 657.4 L875.2 657.4 L870.9 659.6 L870.9 660.5 L875.7 663.3 L877.3 663.3 L881.6 661.1 L881.6 660.2Z" fill="#fdfdfd" stroke="#1e1e20" stroke-width="0.5"/>
<ellipse cx="876.2" cy="660.4" rx="1.3" ry="0.9" fill="#39393b" stroke="#2a2a2c" stroke-width="0.2"/>
<path d="M872 655.6 L870.7 656.3 L872 657 L873.3 656.3Z" fill="#eeeeee" stroke="#333" stroke-width="0.1"/>
<path d="M869.1 657.1 L867.8 657.8 L869.1 658.6 L870.4 657.9Z" fill="#eeeeee" stroke="#333" stroke-width="0.1"/>
<path d="M882.9 661.9 L881.6 662.6 L882.9 663.3 L884.2 662.6Z" fill="#eeeeee" stroke="#333" stroke-width="0.1"/>
<path d="M880 663.4 L878.7 664.1 L880 664.9 L881.3 664.2Z" fill="#eeeeee" stroke="#333" stroke-width="0.1"/>
<path d="M865.4 657.7 L879.5 665.9" fill="none" stroke="#f2f2f2" stroke-width="0.6"/>
<path d="M870.1 660.9 L868.5 660.9 L864.3 663.1 L864.3 664 L869.1 666.8 L870.7 666.8 L874.9 664.6 L874.9 663.7Z" fill="#fdfdfd" stroke="#1e1e20" stroke-width="0.5"/>
<ellipse cx="869.6" cy="663.9" rx="1.3" ry="0.9" fill="#39393b" stroke="#2a2a2c" stroke-width="0.2"/>
<path d="M865.4 659.1 L864.1 659.8 L865.4 660.5 L866.7 659.8Z" fill="#eeeeee" stroke="#333" stroke-width="0.1"/>
<path d="M862.5 660.6 L861.1 661.3 L862.4 662.1 L863.8 661.4Z" fill="#eeeeee" stroke="#333" stroke-width="0.1"/>
<path d="M876.3 665.4 L874.9 666.1 L876.2 666.8 L877.6 666.1Z" fill="#eeeeee" stroke="#333" stroke-width="0.1"/>
<path d="M873.4 666.9 L872 667.6 L873.3 668.4 L874.7 667.7Z" fill="#eeeeee" stroke="#333" stroke-width="0.1"/>
<path d="M858.7 661.2 L872.9 669.4" fill="none" stroke="#f2f2f2" stroke-width="0.6"/>
<path d="M863.5 664.4 L861.9 664.4 L857.6 666.6 L857.6 667.5 L862.5 670.3 L864.1 670.3 L868.3 668.1 L868.3 667.2Z" fill="#fdfdfd" stroke="#1e1e20" stroke-width="0.5"/>
<ellipse cx="863" cy="667.4" rx="1.3" ry="0.9" fill="#39393b" stroke="#2a2a2c" stroke-width="0.2"/>
<path d="M858.7 662.6 L857.4 663.3 L858.7 664 L860 663.3Z" fill="#eeeeee" stroke="#333" stroke-width="0.1"/>
<path d="M855.8 664.1 L854.5 664.8 L855.8 665.6 L857.1 664.9Z" fill="#eeeeee" stroke="#333" stroke-width="0.1"/>
<path d="M869.6 668.9 L868.3 669.6 L869.6 670.3 L870.9 669.6Z" fill="#eeeeee" stroke="#333" stroke-width="0.1"/>
<path d="M866.7 670.4 L865.4 671.1 L866.7 671.9 L868 671.2Z" fill="#eeeeee" stroke="#333" stroke-width="0.1"/>
<path d="M852 664.7 L866.2 672.9" fill="none" stroke="#f2f2f2" stroke-width="0.6"/>
<path d="M856.8 667.9 L855.3 667.9 L851 670.1 L851 671 L855.8 673.8 L857.4 673.8 L861.7 671.6 L861.7 670.7Z" fill="#fdfdfd" stroke="#1e1e20" stroke-width="0.5"/>
<ellipse cx="856.3" cy="670.9" rx="1.3" ry="0.9" fill="#39393b" stroke="#2a2a2c" stroke-width="0.2"/>
<path d="M852.1 666.1 L850.7 666.8 L852 667.5 L853.4 666.8Z" fill="#eeeeee" stroke="#333" stroke-width="0.1"/>
<path d="M849.2 667.6 L847.8 668.3 L849.1 669 L850.5 668.3Z" fill="#eeeeee" stroke="#333" stroke-width="0.1"/>
<path d="M863 672.4 L861.7 673.1 L863 673.8 L864.3 673.1Z" fill="#eeeeee" stroke="#333" stroke-width="0.1"/>
<path d="M860.1 673.9 L858.8 674.6 L860.1 675.4 L861.4 674.7Z" fill="#eeeeee" stroke="#333" stroke-width="0.1"/>
<path d="M845.3 668.2 L859.6 676.4" fill="none" stroke="#f2f2f2" stroke-width="0.6"/>
<path d="M850.2 671.4 L848.6 671.4 L844.4 673.6 L844.4 674.5 L849.2 677.3 L850.8 677.3 L855 675.1 L855.1 674.2Z" fill="#fdfdfd" stroke="#1e1e20" stroke-width="0.5"/>
<ellipse cx="849.7" cy="674.4" rx="1.3" ry="0.9" fill="#39393b" stroke="#2a2a2c" stroke-width="0.2"/>
<path d="M845.4 669.5 L844.1 670.2 L845.4 671 L846.7 670.3Z" fill="#eeeeee" stroke="#333" stroke-width="0.1"/>
<path d="M842.5 671.1 L841.2 671.8 L842.5 672.5 L843.8 671.8Z" fill="#eeeeee" stroke="#333" stroke-width="0.1"/>
<path d="M856.4 675.9 L855.1 676.6 L856.3 677.3 L857.7 676.6Z" fill="#eeeeee" stroke="#333" stroke-width="0.1"/>
<path d="M853.5 677.4 L852.1 678.1 L853.4 678.9 L854.8 678.2Z" fill="#eeeeee" stroke="#333" stroke-width="0.1"/>
<path d="M838.6 671.6 L853 679.9" fill="none" stroke="#f2f2f2" stroke-width="0.6"/>
<path d="M843.6 674.9 L842 674.9 L837.7 677.1 L837.7 678 L842.6 680.8 L844.2 680.8 L848.4 678.6 L848.4 677.7Z" fill="#fdfdfd" stroke="#1e1e20" stroke-width="0.5"/>
<ellipse cx="843.1" cy="677.9" rx="1.3" ry="0.9" fill="#39393b" stroke="#2a2a2c" stroke-width="0.2"/>
<path d="M838.7 673 L837.4 673.7 L838.7 674.5 L840 673.8Z" fill="#eeeeee" stroke="#333" stroke-width="0.1"/>
<path d="M835.8 674.6 L834.5 675.3 L835.8 676 L837.1 675.3Z" fill="#eeeeee" stroke="#333" stroke-width="0.1"/>
<path d="M849.7 679.4 L848.4 680.1 L849.7 680.8 L851 680.1Z" fill="#eeeeee" stroke="#333" stroke-width="0.1"/>
<path d="M846.8 680.9 L845.5 681.6 L846.8 682.4 L848.1 681.7Z" fill="#eeeeee" stroke="#333" stroke-width="0.1"/>
<path d="M831.9 675.1 L846.3 683.4" fill="none" stroke="#f2f2f2" stroke-width="0.6"/>
<path d="M836.9 678.4 L835.4 678.4 L831.1 680.6 L831.1 681.5 L835.9 684.3 L837.5 684.3 L841.8 682.1 L841.8 681.2Z" fill="#fdfdfd" stroke="#1e1e20" stroke-width="0.5"/>
<ellipse cx="836.4" cy="681.4" rx="1.3" ry="0.9" fill="#39393b" stroke="#2a2a2c" stroke-width="0.2"/>
<path d="M832.1 676.5 L830.7 677.2 L832 677.9 L833.4 677.2Z" fill="#eeeeee" stroke="#333" stroke-width="0.1"/>
<path d="M829.2 678 L827.8 678.7 L829.1 679.5 L830.5 678.8Z" fill="#eeeeee" stroke="#333" stroke-width="0.1"/>
<path d="M843.1 682.9 L841.8 683.6 L843.1 684.3 L844.4 683.6Z" fill="#eeeeee" stroke="#333" stroke-width="0.1"/>
<path d="M840.2 684.4 L838.9 685.1 L840.2 685.9 L841.5 685.2Z" fill="#eeeeee" stroke="#333" stroke-width="0.1"/>
<path d="M825.2 678.6 L839.7 686.9" fill="none" stroke="#f2f2f2" stroke-width="0.6"/>
<path d="M830.3 681.9 L828.7 681.9 L824.5 684.1 L824.5 685 L829.3 687.8 L830.9 687.8 L835.1 685.6 L835.2 684.7Z" fill="#fdfdfd" stroke="#1e1e20" stroke-width="0.5"/>
<ellipse cx="829.8" cy="684.9" rx="1.3" ry="0.9" fill="#39393b" stroke="#2a2a2c" stroke-width="0.2"/>
<path d="M825.4 680 L824.1 680.7 L825.4 681.4 L826.7 680.7Z" fill="#eeeeee" stroke="#333" stroke-width="0.1"/>
<path d="M822.5 681.5 L821.2 682.2 L822.5 683 L823.8 682.3Z" fill="#eeeeee" stroke="#333" stroke-width="0.1"/>
<path d="M836.5 686.4 L835.2 687.1 L836.4 687.8 L837.8 687.1Z" fill="#eeeeee" stroke="#333" stroke-width="0.1"/>
<path d="M833.6 687.9 L832.2 688.6 L833.5 689.4 L834.9 688.7Z" fill="#eeeeee" stroke="#333" stroke-width="0.1"/>
<path d="M818.7 681.9 L833.1 690.2" fill="none" stroke="#f2f2f2" stroke-width="0.6"/>
<path d="M823.7 685.3 L822.2 685.3 L818 687.7 L818 688.6 L822.9 691.4 L824.4 691.4 L828.6 689 L828.6 688.1Z" fill="#fdfdfd" stroke="#1e1e20" stroke-width="0.5"/>
<ellipse cx="823.3" cy="688.3" rx="1.3" ry="1" fill="#39393b" stroke="#2a2a2c" stroke-width="0.2"/>
<path d="M818.9 683.4 L817.6 684.1 L818.9 684.9 L820.2 684.1Z" fill="#eeeeee" stroke="#333" stroke-width="0.1"/>
<path d="M816 685 L814.7 685.8 L816 686.5 L817.3 685.8Z" fill="#eeeeee" stroke="#333" stroke-width="0.1"/>
<path d="M829.9 689.7 L828.6 690.5 L829.9 691.3 L831.2 690.5Z" fill="#eeeeee" stroke="#333" stroke-width="0.1"/>
<path d="M827.1 691.4 L825.8 692.2 L827.1 692.9 L828.4 692.2Z" fill="#eeeeee" stroke="#333" stroke-width="0.1"/>
<path d="M812.3 685.6 L826.6 693.9" fill="none" stroke="#f2f2f2" stroke-width="0.6"/>
<path d="M817.2 688.9 L815.6 688.9 L811.4 691.1 L811.3 692 L816.2 694.8 L817.8 694.8 L822 692.6 L822 691.7Z" fill="#fdfdfd" stroke="#1e1e20" stroke-width="0.5"/>
<ellipse cx="816.7" cy="691.9" rx="1.3" ry="0.9" fill="#39393b" stroke="#2a2a2c" stroke-width="0.2"/>
<path d="M812.4 687 L811.1 687.7 L812.4 688.5 L813.7 687.8Z" fill="#eeeeee" stroke="#333" stroke-width="0.1"/>
<path d="M809.5 688.6 L808.1 689.3 L809.4 690 L810.8 689.3Z" fill="#eeeeee" stroke="#333" stroke-width="0.1"/>
<path d="M823.4 693.4 L822.1 694.1 L823.4 694.8 L824.7 694.1Z" fill="#eeeeee" stroke="#333" stroke-width="0.1"/>
<path d="M820.5 694.9 L819.2 695.6 L820.4 696.4 L821.8 695.7Z" fill="#eeeeee" stroke="#333" stroke-width="0.1"/>
<path d="M805.5 689.4 L819.8 697.6" fill="none" stroke="#f2f2f2" stroke-width="0.7"/>
<path d="M809.9 692.5 L808.5 692.6 L804.6 696.3 L804.8 697.4 L810.1 700.5 L811.5 700.3 L815.4 696.6 L815.3 695.6Z" fill="#fdfdfd" stroke="#1e1e20" stroke-width="0.5"/>
<ellipse cx="810" cy="696.5" rx="1.5" ry="1.1" fill="#39393b" stroke="#2a2a2c" stroke-width="0.2"/>
<path d="M805.4 690.9 L804.2 692.1 L805.7 692.9 L806.9 691.8Z" fill="#eeeeee" stroke="#333" stroke-width="0.1"/>
<path d="M802.8 693.4 L801.6 694.5 L803.1 695.4 L804.3 694.2Z" fill="#eeeeee" stroke="#333" stroke-width="0.1"/>
<path d="M816.6 697.4 L815.4 698.5 L816.9 699.4 L818.1 698.2Z" fill="#eeeeee" stroke="#333" stroke-width="0.1"/>
<path d="M814 699.8 L812.8 701 L814.3 701.9 L815.5 700.7Z" fill="#eeeeee" stroke="#333" stroke-width="0.1"/>
<path d="M799.8 695.3 L814.1 703.5" fill="none" stroke="#f2f2f2" stroke-width="0.8"/>
<path d="M803.9 698.2 L802.6 698.5 L799.1 702.9 L799.3 704.1 L804.9 707.3 L806.2 707 L809.7 702.6 L809.5 701.5Z" fill="#fdfdfd" stroke="#1e1e20" stroke-width="0.5"/>
<ellipse cx="804.4" cy="702.8" rx="1.6" ry="1.2" fill="#39393b" stroke="#2a2a2c" stroke-width="0.2"/>
<path d="M799.6 696.9 L798.5 698.3 L800.1 699.2 L801.2 697.8Z" fill="#eeeeee" stroke="#333" stroke-width="0.1"/>
<path d="M797.3 699.8 L796.2 701.2 L797.8 702.1 L798.9 700.7Z" fill="#eeeeee" stroke="#333" stroke-width="0.1"/>
<path d="M810.9 703.4 L809.8 704.8 L811.4 705.7 L812.5 704.3Z" fill="#eeeeee" stroke="#333" stroke-width="0.1"/>
<path d="M808.6 706.3 L807.5 707.7 L809.1 708.6 L810.2 707.2Z" fill="#eeeeee" stroke="#333" stroke-width="0.1"/>
<path d="M794.7 702.1 L808.9 710.3" fill="none" stroke="#f2f2f2" stroke-width="0.8"/>
<path d="M798.5 704.9 L797.2 705.2 L794 710 L794.3 711.2 L800.1 714.5 L801.3 714.2 L804.5 709.4 L804.2 708.2Z" fill="#fdfdfd" stroke="#1e1e20" stroke-width="0.5"/>
<ellipse cx="799.3" cy="709.7" rx="1.6" ry="1.3" fill="#39393b" stroke="#2a2a2c" stroke-width="0.2"/>
<path d="M794.4 703.6 L793.4 705.2 L795 706.1 L796 704.5Z" fill="#eeeeee" stroke="#333" stroke-width="0.1"/>
<path d="M792.3 706.8 L791.3 708.3 L792.9 709.3 L793.9 707.7Z" fill="#eeeeee" stroke="#333" stroke-width="0.1"/>
<path d="M805.8 710.2 L804.8 711.7 L806.4 712.7 L807.4 711.1Z" fill="#eeeeee" stroke="#333" stroke-width="0.1"/>
<path d="M803.7 713.3 L802.7 714.9 L804.3 715.8 L805.3 714.3Z" fill="#eeeeee" stroke="#333" stroke-width="0.1"/>
<path d="M790 709.5 L804.4 717.8" fill="none" stroke="#f2f2f2" stroke-width="0.9"/>
<path d="M793.6 712.2 L792.5 712.5 L790 718.1 L790.5 719.3 L796.4 722.8 L797.6 722.4 L800 716.9 L799.6 715.6Z" fill="#fdfdfd" stroke="#1e1e20" stroke-width="0.5"/>
<ellipse cx="795" cy="717.5" rx="1.7" ry="1.4" fill="#39393b" stroke="#2a2a2c" stroke-width="0.2"/>
<path d="M789.7 711.1 L789 712.9 L790.7 713.8 L791.4 712Z" fill="#eeeeee" stroke="#333" stroke-width="0.1"/>
<path d="M788.2 714.6 L787.4 716.4 L789.1 717.4 L789.9 715.6Z" fill="#eeeeee" stroke="#333" stroke-width="0.1"/>
<path d="M801.3 717.8 L800.5 719.5 L802.2 720.5 L803 718.7Z" fill="#eeeeee" stroke="#333" stroke-width="0.1"/>
<path d="M799.8 721.3 L799 723.1 L800.7 724.1 L801.5 722.3Z" fill="#eeeeee" stroke="#333" stroke-width="0.1"/>
<path d="M786.6 717.8 L801.2 726.2" fill="none" stroke="#f2f2f2" stroke-width="0.9"/>
<path d="M790.1 720.4 L789.1 720.8 L787.1 726.6 L787.6 727.9 L793.6 731.4 L794.7 731 L796.7 725.2 L796.2 723.9Z" fill="#fdfdfd" stroke="#1e1e20" stroke-width="0.5"/>
<ellipse cx="791.9" cy="725.9" rx="1.7" ry="1.4" fill="#39393b" stroke="#2a2a2c" stroke-width="0.2"/>
<path d="M786.4 719.4 L785.8 721.3 L787.5 722.3 L788.1 720.4Z" fill="#eeeeee" stroke="#333" stroke-width="0.1"/>
<path d="M785.1 723.1 L784.5 725 L786.2 726 L786.9 724.1Z" fill="#eeeeee" stroke="#333" stroke-width="0.1"/>
<path d="M798.1 726.1 L797.5 728 L799.2 729 L799.9 727.1Z" fill="#eeeeee" stroke="#333" stroke-width="0.1"/>
<path d="M796.9 729.9 L796.2 731.8 L797.9 732.8 L798.6 730.9Z" fill="#eeeeee" stroke="#333" stroke-width="0.1"/>
<path d="M783.8 726.3 L798.6 734.8" fill="none" stroke="#f2f2f2" stroke-width="0.9"/>
<path d="M787.4 729 L786.3 729.4 L784.6 735.3 L785.1 736.6 L791.2 740.1 L792.2 739.7 L794 733.8 L793.4 732.5Z" fill="#fdfdfd" stroke="#1e1e20" stroke-width="0.5"/>
<ellipse cx="789.3" cy="734.5" rx="1.7" ry="1.4" fill="#39393b" stroke="#2a2a2c" stroke-width="0.2"/>
<path d="M783.7 727.9 L783.1 729.9 L784.8 730.9 L785.4 728.9Z" fill="#eeeeee" stroke="#333" stroke-width="0.1"/>
<path d="M782.6 731.7 L782 733.7 L783.7 734.7 L784.3 732.7Z" fill="#eeeeee" stroke="#333" stroke-width="0.1"/>
<path d="M795.5 734.8 L794.9 736.7 L796.7 737.7 L797.2 735.8Z" fill="#eeeeee" stroke="#333" stroke-width="0.1"/>
<path d="M794.4 738.6 L793.8 740.5 L795.5 741.5 L796.1 739.6Z" fill="#eeeeee" stroke="#333" stroke-width="0.1"/>
<path d="M781.2 734.9 L796 743.5" fill="none" stroke="#f2f2f2" stroke-width="0.9"/>
<path d="M784.8 737.6 L783.8 738 L782.1 743.9 L782.7 745.2 L788.7 748.7 L789.7 748.3 L791.4 742.4 L790.9 741.1Z" fill="#fdfdfd" stroke="#1e1e20" stroke-width="0.5"/>
<ellipse cx="786.8" cy="743.2" rx="1.7" ry="1.4" fill="#39393b" stroke="#2a2a2c" stroke-width="0.2"/>
<path d="M781.1 736.6 L780.6 738.5 L782.3 739.5 L782.9 737.6Z" fill="#eeeeee" stroke="#333" stroke-width="0.1"/>
<path d="M780 740.4 L779.5 742.3 L781.2 743.3 L781.8 741.4Z" fill="#eeeeee" stroke="#333" stroke-width="0.1"/>
<path d="M792.9 743.4 L792.4 745.3 L794.1 746.3 L794.7 744.4Z" fill="#eeeeee" stroke="#333" stroke-width="0.1"/>
<path d="M791.9 747.2 L791.3 749.1 L793.1 750.1 L793.6 748.2Z" fill="#eeeeee" stroke="#333" stroke-width="0.1"/>
<path d="M778.8 743.6 L793.6 752.1" fill="none" stroke="#f2f2f2" stroke-width="0.9"/>
<path d="M782.4 746.3 L781.4 746.7 L779.8 752.6 L780.4 753.9 L786.4 757.4 L787.4 757 L789 751.1 L788.4 749.8Z" fill="#fdfdfd" stroke="#1e1e20" stroke-width="0.5"/>
<ellipse cx="784.4" cy="751.8" rx="1.7" ry="1.4" fill="#39393b" stroke="#2a2a2c" stroke-width="0.2"/>
<path d="M778.7 745.2 L778.2 747.2 L779.9 748.2 L780.4 746.2Z" fill="#eeeeee" stroke="#333" stroke-width="0.1"/>
<path d="M777.7 749.1 L777.2 751 L778.9 752 L779.4 750.1Z" fill="#eeeeee" stroke="#333" stroke-width="0.1"/>
<path d="M790.5 752.1 L790 754 L791.7 755 L792.2 753.1Z" fill="#eeeeee" stroke="#333" stroke-width="0.1"/>
<path d="M789.5 755.9 L789 757.8 L790.8 758.8 L791.3 756.9Z" fill="#eeeeee" stroke="#333" stroke-width="0.1"/>
<path d="M776.6 752.3 L791.4 760.9" fill="none" stroke="#f2f2f2" stroke-width="0.9"/>
<path d="M780.2 755 L779.2 755.4 L777.9 761.4 L778.5 762.7 L784.6 766.2 L785.5 765.8 L786.8 759.8 L786.2 758.5Z" fill="#fdfdfd" stroke="#1e1e20" stroke-width="0.5"/>
<ellipse cx="782.4" cy="760.6" rx="1.7" ry="1.4" fill="#39393b" stroke="#2a2a2c" stroke-width="0.2"/>
<path d="M776.6 754 L776.1 755.9 L777.9 756.9 L778.3 755Z" fill="#eeeeee" stroke="#333" stroke-width="0.1"/>
<path d="M775.7 757.8 L775.3 759.8 L777 760.8 L777.4 758.8Z" fill="#eeeeee" stroke="#333" stroke-width="0.1"/>
<path d="M788.4 760.8 L788 762.7 L789.7 763.7 L790.1 761.8Z" fill="#eeeeee" stroke="#333" stroke-width="0.1"/>
<path d="M787.5 764.7 L787.1 766.6 L788.8 767.6 L789.3 765.7Z" fill="#eeeeee" stroke="#333" stroke-width="0.1"/>
<path d="M776 761.5 L779 763 L778.4 768.5 L775.4 767Z" fill="#fff" stroke="#2c2c2e" stroke-width="0.4"/>
<path d="M788.5 768 L791.5 769.4 L790.9 775 L787.9 773.6Z" fill="#fff" stroke="#2c2c2e" stroke-width="0.4"/>
<g class="bt" transform="translate(138.1 412.2) scale(0.92)">
<path d="M765.5 313.5 L775 308.5 L832.6 273.9 L849 264.9 L906 238.1 L954 216.8 L959.4 211.6 L973.5 205.5 L999.3 206.1  C999.8 206.7 1001.9 207.7 1002.6 209.7 C1003.3 211.7 1003.9 214.5 1003.6 218 C1003.3 221.5 1002.4 226.6 1000.8 230.5 C999.2 234.4 996.9 237.8 993.8 241.2 C990.7 244.5 984.9 248.8 982 250.6 C979.1 252.4 978.3 251.4 976.4 252.2 C974.5 253 971.5 254.9 970.5 255.5 L970.5 237.2 L763.2 355.8 L763.2 377  C762 376 758.5 372.8 756 371 C753.5 369.2 750.6 367.8 748 366.2 C745.4 364.6 742.5 364.1 740.6 361.6 C738.7 359.2 737 355 736.6 351.5 C736.2 348 736.8 344.2 738.5 340.5 C740.2 336.8 743.8 332.8 746.7 329.5 C749.6 326.2 754.5 322 756 320.5 Z" fill="#ffffff" stroke="#2c2c2e" stroke-width="0.9"/>
<path d="M775 308.5 L776.2 311.7" fill="none" stroke="#2c2c2e" stroke-width="0.7"/>
<ellipse cx="776.4" cy="312.3" rx="0.8" ry="0.8" fill="#ffffff" stroke="#2c2c2e" stroke-width="0.5"/>
<path d="M777.3 307.1 L777.9 308.7" fill="none" stroke="#2c2c2e" stroke-width="0.6"/>
<path d="M779.6 305.7 L780.2 307.3" fill="none" stroke="#2c2c2e" stroke-width="0.6"/>
<path d="M781.9 304.3 L783.1 307.5" fill="none" stroke="#2c2c2e" stroke-width="0.7"/>
<ellipse cx="783.3" cy="308.1" rx="0.8" ry="0.8" fill="#ffffff" stroke="#2c2c2e" stroke-width="0.5"/>
<path d="M784.2 303 L784.8 304.6" fill="none" stroke="#2c2c2e" stroke-width="0.6"/>
<path d="M786.5 301.6 L787.1 303.2" fill="none" stroke="#2c2c2e" stroke-width="0.6"/>
<path d="M788.8 300.2 L790 303.4" fill="none" stroke="#2c2c2e" stroke-width="0.7"/>
<ellipse cx="790.2" cy="304" rx="0.8" ry="0.8" fill="#ffffff" stroke="#2c2c2e" stroke-width="0.5"/>
<path d="M791.1 298.8 L791.7 300.4" fill="none" stroke="#2c2c2e" stroke-width="0.6"/>
<path d="M793.4 297.4 L794 299" fill="none" stroke="#2c2c2e" stroke-width="0.6"/>
<path d="M795.7 296 L796.9 299.2" fill="none" stroke="#2c2c2e" stroke-width="0.7"/>
<ellipse cx="797.1" cy="299.8" rx="0.8" ry="0.8" fill="#ffffff" stroke="#2c2c2e" stroke-width="0.5"/>
<path d="M798 294.7 L798.6 296.3" fill="none" stroke="#2c2c2e" stroke-width="0.6"/>
<path d="M800.3 293.3 L800.9 294.9" fill="none" stroke="#2c2c2e" stroke-width="0.6"/>
<path d="M802.6 291.9 L803.8 295.1" fill="none" stroke="#2c2c2e" stroke-width="0.7"/>
<ellipse cx="804" cy="295.7" rx="0.8" ry="0.8" fill="#ffffff" stroke="#2c2c2e" stroke-width="0.5"/>
<path d="M805 290.5 L805.6 292.1" fill="none" stroke="#2c2c2e" stroke-width="0.6"/>
<path d="M807.3 289.1 L807.9 290.7" fill="none" stroke="#2c2c2e" stroke-width="0.6"/>
<path d="M809.6 287.7 L810.8 290.9" fill="none" stroke="#2c2c2e" stroke-width="0.7"/>
<ellipse cx="811" cy="291.5" rx="0.8" ry="0.8" fill="#ffffff" stroke="#2c2c2e" stroke-width="0.5"/>
<path d="M811.9 286.4 L812.5 288" fill="none" stroke="#2c2c2e" stroke-width="0.6"/>
<path d="M814.2 285 L814.8 286.6" fill="none" stroke="#2c2c2e" stroke-width="0.6"/>
<path d="M816.5 283.6 L817.7 286.8" fill="none" stroke="#2c2c2e" stroke-width="0.7"/>
<ellipse cx="817.9" cy="287.4" rx="0.8" ry="0.8" fill="#ffffff" stroke="#2c2c2e" stroke-width="0.5"/>
<path d="M818.8 282.2 L819.4 283.8" fill="none" stroke="#2c2c2e" stroke-width="0.6"/>
<path d="M821.1 280.8 L821.7 282.4" fill="none" stroke="#2c2c2e" stroke-width="0.6"/>
<path d="M823.4 279.4 L824.6 282.6" fill="none" stroke="#2c2c2e" stroke-width="0.7"/>
<ellipse cx="824.8" cy="283.2" rx="0.8" ry="0.8" fill="#ffffff" stroke="#2c2c2e" stroke-width="0.5"/>
<path d="M825.7 278.1 L826.3 279.7" fill="none" stroke="#2c2c2e" stroke-width="0.6"/>
<path d="M828 276.7 L828.6 278.3" fill="none" stroke="#2c2c2e" stroke-width="0.6"/>
<path d="M830.3 275.3 L831.5 278.5" fill="none" stroke="#2c2c2e" stroke-width="0.7"/>
<ellipse cx="831.7" cy="279.1" rx="0.8" ry="0.8" fill="#ffffff" stroke="#2c2c2e" stroke-width="0.5"/>
<path d="M832.6 273.9 L833.2 275.5" fill="none" stroke="#2c2c2e" stroke-width="0.6"/>
<path d="M849 264.9 L850.2 268.1" fill="none" stroke="#2c2c2e" stroke-width="0.7"/>
<ellipse cx="850.4" cy="268.7" rx="0.8" ry="0.8" fill="#ffffff" stroke="#2c2c2e" stroke-width="0.5"/>
<path d="M851.4 263.8 L852 265.4" fill="none" stroke="#2c2c2e" stroke-width="0.6"/>
<path d="M853.8 262.7 L854.4 264.3" fill="none" stroke="#2c2c2e" stroke-width="0.6"/>
<path d="M856.1 261.5 L857.3 264.7" fill="none" stroke="#2c2c2e" stroke-width="0.7"/>
<ellipse cx="857.5" cy="265.3" rx="0.8" ry="0.8" fill="#ffffff" stroke="#2c2c2e" stroke-width="0.5"/>
<path d="M858.5 260.4 L859.1 262" fill="none" stroke="#2c2c2e" stroke-width="0.6"/>
<path d="M860.9 259.3 L861.5 260.9" fill="none" stroke="#2c2c2e" stroke-width="0.6"/>
<path d="M863.2 258.2 L864.5 261.4" fill="none" stroke="#2c2c2e" stroke-width="0.7"/>
<ellipse cx="864.6" cy="262" rx="0.8" ry="0.8" fill="#ffffff" stroke="#2c2c2e" stroke-width="0.5"/>
<path d="M865.6 257.1 L866.2 258.7" fill="none" stroke="#2c2c2e" stroke-width="0.6"/>
<path d="M868 256 L868.6 257.6" fill="none" stroke="#2c2c2e" stroke-width="0.6"/>
<path d="M870.4 254.8 L871.6 258.1" fill="none" stroke="#2c2c2e" stroke-width="0.7"/>
<ellipse cx="871.8" cy="258.6" rx="0.8" ry="0.8" fill="#ffffff" stroke="#2c2c2e" stroke-width="0.5"/>
<path d="M872.8 253.7 L873.4 255.3" fill="none" stroke="#2c2c2e" stroke-width="0.6"/>
<path d="M875.1 252.6 L875.7 254.2" fill="none" stroke="#2c2c2e" stroke-width="0.6"/>
<path d="M877.5 251.5 L878.7 254.7" fill="none" stroke="#2c2c2e" stroke-width="0.7"/>
<ellipse cx="878.9" cy="255.3" rx="0.8" ry="0.8" fill="#ffffff" stroke="#2c2c2e" stroke-width="0.5"/>
<path d="M879.9 250.4 L880.5 252" fill="none" stroke="#2c2c2e" stroke-width="0.6"/>
<path d="M882.2 249.3 L882.9 250.9" fill="none" stroke="#2c2c2e" stroke-width="0.6"/>
<path d="M884.6 248.1 L885.8 251.3" fill="none" stroke="#2c2c2e" stroke-width="0.7"/>
<ellipse cx="886" cy="251.9" rx="0.8" ry="0.8" fill="#ffffff" stroke="#2c2c2e" stroke-width="0.5"/>
<path d="M887 247 L887.6 248.6" fill="none" stroke="#2c2c2e" stroke-width="0.6"/>
<path d="M889.4 245.9 L890 247.5" fill="none" stroke="#2c2c2e" stroke-width="0.6"/>
<path d="M891.8 244.8 L893 248" fill="none" stroke="#2c2c2e" stroke-width="0.7"/>
<ellipse cx="893.1" cy="248.6" rx="0.8" ry="0.8" fill="#ffffff" stroke="#2c2c2e" stroke-width="0.5"/>
<path d="M894.1 243.7 L894.7 245.3" fill="none" stroke="#2c2c2e" stroke-width="0.6"/>
<path d="M896.5 242.6 L897.1 244.2" fill="none" stroke="#2c2c2e" stroke-width="0.6"/>
<path d="M898.9 241.4 L900.1 244.6" fill="none" stroke="#2c2c2e" stroke-width="0.7"/>
<ellipse cx="900.3" cy="245.2" rx="0.8" ry="0.8" fill="#ffffff" stroke="#2c2c2e" stroke-width="0.5"/>
<path d="M901.2 240.3 L901.9 241.9" fill="none" stroke="#2c2c2e" stroke-width="0.6"/>
<path d="M903.6 239.2 L904.2 240.8" fill="none" stroke="#2c2c2e" stroke-width="0.6"/>
<path d="M906 238.1 L907.2 241.3" fill="none" stroke="#2c2c2e" stroke-width="0.7"/>
<ellipse cx="907.4" cy="241.9" rx="0.8" ry="0.8" fill="#ffffff" stroke="#2c2c2e" stroke-width="0.5"/>
<path d="M906 238.1 L907.2 241.3" fill="none" stroke="#2c2c2e" stroke-width="0.7"/>
<ellipse cx="907.4" cy="241.9" rx="0.8" ry="0.8" fill="#ffffff" stroke="#2c2c2e" stroke-width="0.5"/>
<path d="M908.4 237 L909 238.6" fill="none" stroke="#2c2c2e" stroke-width="0.6"/>
<path d="M910.8 236 L911.4 237.6" fill="none" stroke="#2c2c2e" stroke-width="0.6"/>
<path d="M913.2 234.9 L914.4 238.1" fill="none" stroke="#2c2c2e" stroke-width="0.7"/>
<ellipse cx="914.6" cy="238.7" rx="0.8" ry="0.8" fill="#ffffff" stroke="#2c2c2e" stroke-width="0.5"/>
<path d="M915.6 233.8 L916.2 235.4" fill="none" stroke="#2c2c2e" stroke-width="0.6"/>
<path d="M918 232.8 L918.6 234.4" fill="none" stroke="#2c2c2e" stroke-width="0.6"/>
<path d="M920.4 231.7 L921.6 234.9" fill="none" stroke="#2c2c2e" stroke-width="0.7"/>
<ellipse cx="921.8" cy="235.5" rx="0.8" ry="0.8" fill="#ffffff" stroke="#2c2c2e" stroke-width="0.5"/>
<path d="M922.8 230.6 L923.4 232.2" fill="none" stroke="#2c2c2e" stroke-width="0.6"/>
<path d="M925.2 229.6 L925.8 231.2" fill="none" stroke="#2c2c2e" stroke-width="0.6"/>
<path d="M927.6 228.5 L928.8 231.7" fill="none" stroke="#2c2c2e" stroke-width="0.7"/>
<ellipse cx="929" cy="232.3" rx="0.8" ry="0.8" fill="#ffffff" stroke="#2c2c2e" stroke-width="0.5"/>
<path d="M930 227.4 L930.6 229" fill="none" stroke="#2c2c2e" stroke-width="0.6"/>
<path d="M932.4 226.4 L933 228" fill="none" stroke="#2c2c2e" stroke-width="0.6"/>
<path d="M934.8 225.3 L936 228.5" fill="none" stroke="#2c2c2e" stroke-width="0.7"/>
<ellipse cx="936.2" cy="229.1" rx="0.8" ry="0.8" fill="#ffffff" stroke="#2c2c2e" stroke-width="0.5"/>
<path d="M937.2 224.3 L937.8 225.9" fill="none" stroke="#2c2c2e" stroke-width="0.6"/>
<path d="M939.6 223.2 L940.2 224.8" fill="none" stroke="#2c2c2e" stroke-width="0.6"/>
<path d="M942 222.1 L943.2 225.3" fill="none" stroke="#2c2c2e" stroke-width="0.7"/>
<ellipse cx="943.4" cy="225.9" rx="0.8" ry="0.8" fill="#ffffff" stroke="#2c2c2e" stroke-width="0.5"/>
<path d="M944.4 221.1 L945 222.7" fill="none" stroke="#2c2c2e" stroke-width="0.6"/>
<path d="M946.8 220 L947.4 221.6" fill="none" stroke="#2c2c2e" stroke-width="0.6"/>
<path d="M949.2 218.9 L950.4 222.1" fill="none" stroke="#2c2c2e" stroke-width="0.7"/>
<ellipse cx="950.6" cy="222.7" rx="0.8" ry="0.8" fill="#ffffff" stroke="#2c2c2e" stroke-width="0.5"/>
<path d="M951.6 217.9 L952.2 219.5" fill="none" stroke="#2c2c2e" stroke-width="0.6"/>
<path d="M954 216.8 L954.6 218.4" fill="none" stroke="#2c2c2e" stroke-width="0.6"/>
<ellipse cx="990.6" cy="220.6" rx="3.9" ry="3" transform="rotate(-60 990.6 220.6)" fill="#ffffff" stroke="#2c2c2e" stroke-width="0.9"/>
<ellipse cx="992.6" cy="221.8" rx="3.9" ry="3" transform="rotate(-60 992.6 221.8)" fill="#ffffff" stroke="#2c2c2e" stroke-width="0.9"/>
<ellipse cx="992.2" cy="221.5" rx="2.4" ry="1.8" transform="rotate(-60 992.2 221.5)" fill="#ffffff" stroke="#2c2c2e" stroke-width="0.5"/>
<ellipse cx="742.3" cy="349.5" rx="0.8" ry="0.8" fill="#ffffff" stroke="#2c2c2e" stroke-width="0.6"/>
<ellipse cx="743.2" cy="353" rx="0.8" ry="0.8" fill="#ffffff" stroke="#2c2c2e" stroke-width="0.6"/>
<ellipse cx="744.2" cy="356.4" rx="0.8" ry="0.8" fill="#ffffff" stroke="#2c2c2e" stroke-width="0.6"/>
<ellipse cx="745.4" cy="346" rx="0.8" ry="0.8" fill="#ffffff" stroke="#2c2c2e" stroke-width="0.6"/>
<ellipse cx="746.4" cy="349.6" rx="0.8" ry="0.8" fill="#ffffff" stroke="#2c2c2e" stroke-width="0.6"/>
<ellipse cx="747.4" cy="353.2" rx="0.8" ry="0.8" fill="#ffffff" stroke="#2c2c2e" stroke-width="0.6"/>
<ellipse cx="748.6" cy="343.2" rx="0.8" ry="0.8" fill="#ffffff" stroke="#2c2c2e" stroke-width="0.6"/>
<ellipse cx="749.6" cy="346.6" rx="0.8" ry="0.8" fill="#ffffff" stroke="#2c2c2e" stroke-width="0.6"/>
<ellipse cx="750.8" cy="350" rx="0.8" ry="0.8" fill="#ffffff" stroke="#2c2c2e" stroke-width="0.6"/>
<ellipse cx="752" cy="340.6" rx="0.8" ry="0.8" fill="#ffffff" stroke="#2c2c2e" stroke-width="0.6"/>
<ellipse cx="753" cy="344" rx="0.8" ry="0.8" fill="#ffffff" stroke="#2c2c2e" stroke-width="0.6"/>
<ellipse cx="754.2" cy="347.4" rx="0.8" ry="0.8" fill="#ffffff" stroke="#2c2c2e" stroke-width="0.6"/>
<ellipse cx="755.4" cy="338.4" rx="0.8" ry="0.8" fill="#ffffff" stroke="#2c2c2e" stroke-width="0.6"/>
<ellipse cx="756.6" cy="341.8" rx="0.8" ry="0.8" fill="#ffffff" stroke="#2c2c2e" stroke-width="0.6"/>
<ellipse cx="757.6" cy="345.2" rx="0.8" ry="0.8" fill="#ffffff" stroke="#2c2c2e" stroke-width="0.6"/>
<ellipse cx="751.6" cy="353.6" rx="0.8" ry="0.8" fill="#ffffff" stroke="#2c2c2e" stroke-width="0.6"/>
<ellipse cx="755" cy="350.8" rx="0.8" ry="0.8" fill="#ffffff" stroke="#2c2c2e" stroke-width="0.6"/>
<path d="M729.1 349.9 L733.8 347 L738 349 L738 356.5 L733.8 355.2 L729.1 357Z" fill="#ffffff" stroke="#2c2c2e" stroke-width="0.7"/>
<path d="M733.8 347 L733.8 355.2" fill="none" stroke="#2c2c2e" stroke-width="0.7"/>
<path d="M776.6 321.3 L785.5 315.3 L787.2 330.5 L776.1 335.6 L775 323.8 Q775 322 776.6 321.3Z" fill="#ffffff" stroke="#2c2c2e" stroke-width="0.8"/>
<ellipse cx="786.2" cy="322.3" rx="1.6" ry="0.8" transform="rotate(-25 786.2 322.3)" fill="#333" stroke="#2c2c2e" stroke-width="0.4"/>
<ellipse cx="787.3" cy="311.7" rx="0.8" ry="0.8" fill="#ffffff" stroke="#2c2c2e" stroke-width="0.5"/>
<ellipse cx="788.8" cy="331" rx="0.8" ry="0.8" fill="#ffffff" stroke="#2c2c2e" stroke-width="0.5"/>
<ellipse cx="774" cy="324.5" rx="0.8" ry="0.8" fill="#ffffff" stroke="#2c2c2e" stroke-width="0.5"/>
<ellipse cx="774.8" cy="333.2" rx="0.8" ry="0.8" fill="#ffffff" stroke="#2c2c2e" stroke-width="0.5"/>
<path d="M836.3 293.7 L854.5 284.1 L854.5 298.7 L836.3 308.3Z" fill="#ffffff" stroke="#2c2c2e" stroke-width="0.8"/>
<path d="M837.3 303.1 L852.3 294.6" fill="none" stroke="#2c2c2e" stroke-width="0.7"/>
<path d="M851.9 286.3 L851.9 295.2" fill="none" stroke="#2c2c2e" stroke-width="0.7"/>
<path d="M847.3 288.1 L851.9 294.3" fill="none" stroke="#2c2c2e" stroke-width="0.5"/>
<ellipse cx="834.3" cy="286.1" rx="0.8" ry="0.8" fill="#ffffff" stroke="#2c2c2e" stroke-width="0.5"/>
<ellipse cx="856.7" cy="281.7" rx="0.8" ry="0.8" fill="#ffffff" stroke="#2c2c2e" stroke-width="0.5"/>
<ellipse cx="834.3" cy="295.3" rx="0.8" ry="0.8" fill="#ffffff" stroke="#2c2c2e" stroke-width="0.5"/>
<ellipse cx="834.3" cy="304.3" rx="0.8" ry="0.8" fill="#ffffff" stroke="#2c2c2e" stroke-width="0.5"/>
<ellipse cx="856.7" cy="291.1" rx="0.8" ry="0.8" fill="#ffffff" stroke="#2c2c2e" stroke-width="0.5"/>
<ellipse cx="841.8" cy="307.3" rx="0.8" ry="0.8" fill="#ffffff" stroke="#2c2c2e" stroke-width="0.5"/>
<ellipse cx="849.3" cy="303.3" rx="0.8" ry="0.8" fill="#ffffff" stroke="#2c2c2e" stroke-width="0.5"/>
<ellipse cx="856.7" cy="299.2" rx="0.8" ry="0.8" fill="#ffffff" stroke="#2c2c2e" stroke-width="0.5"/>
<path d="M908.3 251.2 L926.5 241.6 L926.5 256.2 L908.3 265.8Z" fill="#ffffff" stroke="#2c2c2e" stroke-width="0.8"/>
<path d="M909.3 260.6 L924.3 252.1" fill="none" stroke="#2c2c2e" stroke-width="0.7"/>
<path d="M923.9 243.8 L923.9 252.7" fill="none" stroke="#2c2c2e" stroke-width="0.7"/>
<path d="M919.3 245.6 L923.9 251.8" fill="none" stroke="#2c2c2e" stroke-width="0.5"/>
<ellipse cx="906.3" cy="243.6" rx="0.8" ry="0.8" fill="#ffffff" stroke="#2c2c2e" stroke-width="0.5"/>
<ellipse cx="928.7" cy="239.2" rx="0.8" ry="0.8" fill="#ffffff" stroke="#2c2c2e" stroke-width="0.5"/>
<ellipse cx="906.3" cy="252.8" rx="0.8" ry="0.8" fill="#ffffff" stroke="#2c2c2e" stroke-width="0.5"/>
<ellipse cx="906.3" cy="261.8" rx="0.8" ry="0.8" fill="#ffffff" stroke="#2c2c2e" stroke-width="0.5"/>
<ellipse cx="928.7" cy="248.6" rx="0.8" ry="0.8" fill="#ffffff" stroke="#2c2c2e" stroke-width="0.5"/>
<ellipse cx="913.8" cy="264.8" rx="0.8" ry="0.8" fill="#ffffff" stroke="#2c2c2e" stroke-width="0.5"/>
<ellipse cx="921.3" cy="260.8" rx="0.8" ry="0.8" fill="#ffffff" stroke="#2c2c2e" stroke-width="0.5"/>
<ellipse cx="928.7" cy="256.7" rx="0.8" ry="0.8" fill="#ffffff" stroke="#2c2c2e" stroke-width="0.5"/>
<path d="M957.2 223 L965.2 219.3 L965.2 234 L957.2 237.8Z" fill="#ffffff" stroke="#2c2c2e" stroke-width="0.7"/>
<path d="M959.5 222.2 L962.5 233.8 L964.5 220.5" fill="none" stroke="#2c2c2e" stroke-width="0.7"/>
<path d="M961.2 221.2 L961.2 235.8" fill="none" stroke="#2c2c2e" stroke-width="0.5"/>
<ellipse cx="967.2" cy="217.4" rx="0.9" ry="0.9" fill="#ffffff" stroke="#2c2c2e" stroke-width="0.5"/>
<ellipse cx="856" cy="273.5" rx="0.8" ry="0.8" fill="#ffffff" stroke="#2c2c2e" stroke-width="0.6"/>
<ellipse cx="882.6" cy="266.5" rx="0.8" ry="0.8" fill="#ffffff" stroke="#2c2c2e" stroke-width="0.6"/>
<ellipse cx="856.1" cy="281.9" rx="0.8" ry="0.8" fill="#ffffff" stroke="#2c2c2e" stroke-width="0.6"/>
<ellipse cx="833.9" cy="285.6" rx="0.8" ry="0.8" fill="#ffffff" stroke="#2c2c2e" stroke-width="0.6"/>
<ellipse cx="944.6" cy="228.4" rx="0.8" ry="0.8" fill="#ffffff" stroke="#2c2c2e" stroke-width="0.6"/>
<ellipse cx="948.4" cy="226.2" rx="0.8" ry="0.8" fill="#ffffff" stroke="#2c2c2e" stroke-width="0.6"/>
<ellipse cx="955.5" cy="230.6" rx="0.8" ry="0.8" fill="#ffffff" stroke="#2c2c2e" stroke-width="0.6"/>
<ellipse cx="955.5" cy="239.4" rx="0.8" ry="0.8" fill="#ffffff" stroke="#2c2c2e" stroke-width="0.6"/>
<ellipse cx="944.2" cy="237" rx="0.8" ry="0.8" fill="#ffffff" stroke="#2c2c2e" stroke-width="0.6"/>
<ellipse cx="948" cy="241.6" rx="0.8" ry="0.8" fill="#ffffff" stroke="#2c2c2e" stroke-width="0.6"/>
<ellipse cx="944.2" cy="245.6" rx="0.8" ry="0.8" fill="#ffffff" stroke="#2c2c2e" stroke-width="0.6"/>
<ellipse cx="937" cy="230" rx="0.8" ry="0.8" fill="#ffffff" stroke="#2c2c2e" stroke-width="0.6"/>
<ellipse cx="964.2" cy="241.6" rx="0.8" ry="0.8" fill="#ffffff" stroke="#2c2c2e" stroke-width="0.6"/>
<ellipse cx="839" cy="273.2" rx="0.8" ry="0.8" fill="#ffffff" stroke="#2c2c2e" stroke-width="0.5"/>
<ellipse cx="844.5" cy="272.5" rx="0.8" ry="0.8" fill="#ffffff" stroke="#2c2c2e" stroke-width="0.5"/>
<ellipse cx="847.5" cy="269" rx="0.8" ry="0.8" fill="#ffffff" stroke="#2c2c2e" stroke-width="0.5"/>
<ellipse cx="834" cy="276" rx="0.8" ry="0.8" fill="#ffffff" stroke="#2c2c2e" stroke-width="0.5"/>
<ellipse cx="912.8" cy="237.2" rx="0.8" ry="0.8" fill="#ffffff" stroke="#2c2c2e" stroke-width="0.5"/>
<ellipse cx="918.3" cy="236.5" rx="0.8" ry="0.8" fill="#ffffff" stroke="#2c2c2e" stroke-width="0.5"/>
<ellipse cx="921.3" cy="233" rx="0.8" ry="0.8" fill="#ffffff" stroke="#2c2c2e" stroke-width="0.5"/>
<ellipse cx="907.8" cy="240" rx="0.8" ry="0.8" fill="#ffffff" stroke="#2c2c2e" stroke-width="0.5"/>
<path d="M763.2 355.8 L970.5 237.2 L970.5 257.2 L764.6 378.6 L763.2 377Z" fill="#ffffff" stroke="#2c2c2e" stroke-width="0.9"/>
<path d="M763.2 355.8 L970.5 237.2" fill="none" stroke="#2a2a2c" stroke-width="1.3"/>
<ellipse cx="770" cy="349.3" rx="0.8" ry="0.8" fill="#ffffff" stroke="#2c2c2e" stroke-width="0.6"/>
<ellipse cx="777.4" cy="345" rx="0.8" ry="0.8" fill="#ffffff" stroke="#2c2c2e" stroke-width="0.6"/>
<ellipse cx="784.8" cy="340.8" rx="0.8" ry="0.8" fill="#ffffff" stroke="#2c2c2e" stroke-width="0.6"/>
<ellipse cx="792.2" cy="336.6" rx="0.8" ry="0.8" fill="#ffffff" stroke="#2c2c2e" stroke-width="0.6"/>
<ellipse cx="799.6" cy="332.3" rx="0.8" ry="0.8" fill="#ffffff" stroke="#2c2c2e" stroke-width="0.6"/>
<ellipse cx="807" cy="328.1" rx="0.8" ry="0.8" fill="#ffffff" stroke="#2c2c2e" stroke-width="0.6"/>
<ellipse cx="814.4" cy="323.8" rx="0.8" ry="0.8" fill="#ffffff" stroke="#2c2c2e" stroke-width="0.6"/>
<ellipse cx="821.8" cy="319.6" rx="0.8" ry="0.8" fill="#ffffff" stroke="#2c2c2e" stroke-width="0.6"/>
<ellipse cx="829.2" cy="315.4" rx="0.8" ry="0.8" fill="#ffffff" stroke="#2c2c2e" stroke-width="0.6"/>
<ellipse cx="836.6" cy="311.1" rx="0.8" ry="0.8" fill="#ffffff" stroke="#2c2c2e" stroke-width="0.6"/>
<ellipse cx="844" cy="306.9" rx="0.8" ry="0.8" fill="#ffffff" stroke="#2c2c2e" stroke-width="0.6"/>
<ellipse cx="851.4" cy="302.7" rx="0.8" ry="0.8" fill="#ffffff" stroke="#2c2c2e" stroke-width="0.6"/>
<ellipse cx="858.8" cy="298.4" rx="0.8" ry="0.8" fill="#ffffff" stroke="#2c2c2e" stroke-width="0.6"/>
<ellipse cx="866.2" cy="294.2" rx="0.8" ry="0.8" fill="#ffffff" stroke="#2c2c2e" stroke-width="0.6"/>
<ellipse cx="873.7" cy="290" rx="0.8" ry="0.8" fill="#ffffff" stroke="#2c2c2e" stroke-width="0.6"/>
<ellipse cx="881.1" cy="285.7" rx="0.8" ry="0.8" fill="#ffffff" stroke="#2c2c2e" stroke-width="0.6"/>
<ellipse cx="888.5" cy="281.5" rx="0.8" ry="0.8" fill="#ffffff" stroke="#2c2c2e" stroke-width="0.6"/>
<ellipse cx="895.9" cy="277.3" rx="0.8" ry="0.8" fill="#ffffff" stroke="#2c2c2e" stroke-width="0.6"/>
<ellipse cx="903.3" cy="273" rx="0.8" ry="0.8" fill="#ffffff" stroke="#2c2c2e" stroke-width="0.6"/>
<ellipse cx="910.7" cy="268.8" rx="0.8" ry="0.8" fill="#ffffff" stroke="#2c2c2e" stroke-width="0.6"/>
<ellipse cx="918.1" cy="264.6" rx="0.8" ry="0.8" fill="#ffffff" stroke="#2c2c2e" stroke-width="0.6"/>
<ellipse cx="925.5" cy="260.3" rx="0.8" ry="0.8" fill="#ffffff" stroke="#2c2c2e" stroke-width="0.6"/>
<ellipse cx="932.9" cy="256.1" rx="0.8" ry="0.8" fill="#ffffff" stroke="#2c2c2e" stroke-width="0.6"/>
<ellipse cx="940.3" cy="251.8" rx="0.8" ry="0.8" fill="#ffffff" stroke="#2c2c2e" stroke-width="0.6"/>
<ellipse cx="947.7" cy="247.6" rx="0.8" ry="0.8" fill="#ffffff" stroke="#2c2c2e" stroke-width="0.6"/>
<ellipse cx="955.1" cy="243.4" rx="0.8" ry="0.8" fill="#ffffff" stroke="#2c2c2e" stroke-width="0.6"/>
<ellipse cx="962.5" cy="239.1" rx="0.8" ry="0.8" fill="#ffffff" stroke="#2c2c2e" stroke-width="0.6"/>
<path d="M773.2 349.6 c-2.2 -0.4 -2.4 -8.2 0.2 -8.4 c2.6 -0.2 2.8 7.6 -0.2 8.4Z" fill="#ffffff" stroke="#2c2c2e" stroke-width="1.7"/>
<path d="M770.4 351 l5.6 -3.2 l0.4 2.4 q-2.4 3.4 -5.4 3.2 q-1.6 -0.6 -0.6 -2.4Z" fill="#ffffff" stroke="#2c2c2e" stroke-width="0.9"/>
<path d="M815.9 325.2 c-2.2 -0.4 -2.4 -8.2 0.2 -8.4 c2.6 -0.2 2.8 7.6 -0.2 8.4Z" fill="#ffffff" stroke="#2c2c2e" stroke-width="1.7"/>
<path d="M813.1 326.6 l5.6 -3.2 l0.4 2.4 q-2.4 3.4 -5.4 3.2 q-1.6 -0.6 -0.6 -2.4Z" fill="#ffffff" stroke="#2c2c2e" stroke-width="0.9"/>
<path d="M859.2 300.4 c-2.2 -0.4 -2.4 -8.2 0.2 -8.4 c2.6 -0.2 2.8 7.6 -0.2 8.4Z" fill="#ffffff" stroke="#2c2c2e" stroke-width="1.7"/>
<path d="M856.4 301.8 l5.6 -3.2 l0.4 2.4 q-2.4 3.4 -5.4 3.2 q-1.6 -0.6 -0.6 -2.4Z" fill="#ffffff" stroke="#2c2c2e" stroke-width="0.9"/>
<path d="M903.5 275 c-2.2 -0.4 -2.4 -8.2 0.2 -8.4 c2.6 -0.2 2.8 7.6 -0.2 8.4Z" fill="#ffffff" stroke="#2c2c2e" stroke-width="1.7"/>
<path d="M900.7 276.4 l5.6 -3.2 l0.4 2.4 q-2.4 3.4 -5.4 3.2 q-1.6 -0.6 -0.6 -2.4Z" fill="#ffffff" stroke="#2c2c2e" stroke-width="0.9"/>
<path d="M951 247.8 c-2.2 -0.4 -2.4 -8.2 0.2 -8.4 c2.6 -0.2 2.8 7.6 -0.2 8.4Z" fill="#ffffff" stroke="#2c2c2e" stroke-width="1.7"/>
<path d="M948.2 249.2 l5.6 -3.2 l0.4 2.4 q-2.4 3.4 -5.4 3.2 q-1.6 -0.6 -0.6 -2.4Z" fill="#ffffff" stroke="#2c2c2e" stroke-width="0.9"/>
<ellipse cx="825" cy="324.5" rx="1.4" ry="1.4" fill="#ffffff" stroke="#2c2c2e" stroke-width="0.7"/>
<ellipse cx="825" cy="333.7" rx="1.4" ry="1.4" fill="#ffffff" stroke="#2c2c2e" stroke-width="0.7"/>
<ellipse cx="830.6" cy="328.5" rx="0.8" ry="0.8" fill="#ffffff" stroke="#2c2c2e" stroke-width="0.5"/>
<ellipse cx="829.2" cy="330.1" rx="0.8" ry="0.8" fill="#ffffff" stroke="#2c2c2e" stroke-width="0.5"/>
<ellipse cx="820.8" cy="334.9" rx="0.9" ry="0.7" fill="#ffffff" stroke="#2c2c2e" stroke-width="0.5"/>
<ellipse cx="819" cy="335.7" rx="0.7" ry="0.6" fill="#ffffff" stroke="#2c2c2e" stroke-width="0.5"/>
<ellipse cx="898" cy="284.1" rx="1.4" ry="1.4" fill="#ffffff" stroke="#2c2c2e" stroke-width="0.7"/>
<ellipse cx="898" cy="293.3" rx="1.4" ry="1.4" fill="#ffffff" stroke="#2c2c2e" stroke-width="0.7"/>
<ellipse cx="903.6" cy="288.1" rx="0.8" ry="0.8" fill="#ffffff" stroke="#2c2c2e" stroke-width="0.5"/>
<ellipse cx="902.2" cy="289.7" rx="0.8" ry="0.8" fill="#ffffff" stroke="#2c2c2e" stroke-width="0.5"/>
<ellipse cx="893.8" cy="294.5" rx="0.9" ry="0.7" fill="#ffffff" stroke="#2c2c2e" stroke-width="0.5"/>
<ellipse cx="892" cy="295.3" rx="0.7" ry="0.6" fill="#ffffff" stroke="#2c2c2e" stroke-width="0.5"/>
<ellipse cx="767.6" cy="364.6" rx="1.3" ry="1.5" fill="#ffffff" stroke="#2c2c2e" stroke-width="0.7"/>
<ellipse cx="770.6" cy="362.4" rx="0.5" ry="0.5" fill="#ffffff" stroke="#2c2c2e" stroke-width="0.5"/>
<ellipse cx="763.4" cy="362.5" rx="0.6" ry="0.6" fill="#ffffff" stroke="#2c2c2e" stroke-width="0.5"/>
<ellipse cx="763.4" cy="373" rx="0.6" ry="0.6" fill="#ffffff" stroke="#2c2c2e" stroke-width="0.5"/>
</g>
<path d="M666.3 702 L677.2 716.2" fill="none" stroke="#111" stroke-width="0.9"/>
<path d="M677.2 716.2 L671.8 713.3 L675.8 710.2Z" fill="#111" stroke="#111" stroke-width="0.3"/>
<path d="M783.2 770.5 L790 781.6" fill="none" stroke="#111" stroke-width="0.9"/>
<path d="M790 781.6 L784.9 778.1 L789.2 775.5Z" fill="#111" stroke="#111" stroke-width="0.3"/><circle cx="648" cy="679" r="6.9" fill="#fff" stroke="#1a1a1a" stroke-width="1.0"/><text transform="translate(648 682.5) scale(0.84 1)" text-anchor="middle" font-size="9.8" font-weight="bold" fill="#1a1a1a" stroke="#1a1a1a" stroke-width="0.3">26</text><circle cx="763" cy="747" r="6.9" fill="#fff" stroke="#1a1a1a" stroke-width="1.0"/><text transform="translate(763 750.5) scale(0.84 1)" text-anchor="middle" font-size="9.8" font-weight="bold" fill="#1a1a1a" stroke="#1a1a1a" stroke-width="0.3">26</text>
</g>
<clipPath id="insclip"><rect x="531.6" y="439.4" width="129.8" height="184.2"/></clipPath>
<g clip-path="url(#insclip)">
<path d="M520 528.1 L598.4 483.6 L610.4 490.5 L610.4 493.3 L532 537.8 L532 535Z" fill="#fff" stroke="#2c2c2e" stroke-width="0.5"/>
<path d="M532 535 L610.4 490.5" fill="none" stroke="#2c2c2e" stroke-width="0.5"/>
<path d="M532 535.4 L532.6 537.5" fill="none" stroke="#4a4a4c" stroke-width="0.4"/>
<path d="M533.3 534.7 L533.9 536.8" fill="none" stroke="#4a4a4c" stroke-width="0.4"/>
<path d="M534.6 533.9 L535.2 536" fill="none" stroke="#4a4a4c" stroke-width="0.4"/>
<path d="M535.9 533.2 L536.5 535.3" fill="none" stroke="#4a4a4c" stroke-width="0.4"/>
<path d="M537.2 532.5 L537.8 534.6" fill="none" stroke="#4a4a4c" stroke-width="0.4"/>
<path d="M538.5 531.7 L539.1 533.8" fill="none" stroke="#4a4a4c" stroke-width="0.4"/>
<path d="M539.8 531 L540.4 533.1" fill="none" stroke="#4a4a4c" stroke-width="0.4"/>
<path d="M541.1 530.2 L541.7 532.3" fill="none" stroke="#4a4a4c" stroke-width="0.4"/>
<path d="M542.4 529.5 L543 531.6" fill="none" stroke="#4a4a4c" stroke-width="0.4"/>
<path d="M543.7 528.8 L544.3 530.9" fill="none" stroke="#4a4a4c" stroke-width="0.4"/>
<path d="M545 528 L545.6 530.1" fill="none" stroke="#4a4a4c" stroke-width="0.4"/>
<path d="M546.3 527.3 L546.9 529.4" fill="none" stroke="#4a4a4c" stroke-width="0.4"/>
<path d="M547.6 526.5 L548.2 528.6" fill="none" stroke="#4a4a4c" stroke-width="0.4"/>
<path d="M548.9 525.8 L549.5 527.9" fill="none" stroke="#4a4a4c" stroke-width="0.4"/>
<path d="M550.2 525 L550.8 527.1" fill="none" stroke="#4a4a4c" stroke-width="0.4"/>
<path d="M551.6 524.3 L552.2 526.4" fill="none" stroke="#4a4a4c" stroke-width="0.4"/>
<path d="M552.9 523.6 L553.5 525.7" fill="none" stroke="#4a4a4c" stroke-width="0.4"/>
<path d="M554.2 522.8 L554.8 524.9" fill="none" stroke="#4a4a4c" stroke-width="0.4"/>
<path d="M555.5 522.1 L556.1 524.2" fill="none" stroke="#4a4a4c" stroke-width="0.4"/>
<path d="M556.8 521.3 L557.4 523.4" fill="none" stroke="#4a4a4c" stroke-width="0.4"/>
<path d="M558.1 520.6 L558.7 522.7" fill="none" stroke="#4a4a4c" stroke-width="0.4"/>
<path d="M559.4 519.8 L560 521.9" fill="none" stroke="#4a4a4c" stroke-width="0.4"/>
<path d="M560.7 519.1 L561.3 521.2" fill="none" stroke="#4a4a4c" stroke-width="0.4"/>
<path d="M562 518.4 L562.6 520.5" fill="none" stroke="#4a4a4c" stroke-width="0.4"/>
<path d="M563.3 517.6 L563.9 519.7" fill="none" stroke="#4a4a4c" stroke-width="0.4"/>
<path d="M564.6 516.9 L565.2 519" fill="none" stroke="#4a4a4c" stroke-width="0.4"/>
<path d="M565.9 516.1 L566.5 518.2" fill="none" stroke="#4a4a4c" stroke-width="0.4"/>
<path d="M567.2 515.4 L567.8 517.5" fill="none" stroke="#4a4a4c" stroke-width="0.4"/>
<path d="M568.5 514.6 L569.1 516.7" fill="none" stroke="#4a4a4c" stroke-width="0.4"/>
<path d="M569.8 513.9 L570.4 516" fill="none" stroke="#4a4a4c" stroke-width="0.4"/>
<path d="M571.2 513.2 L571.8 515.3" fill="none" stroke="#4a4a4c" stroke-width="0.4"/>
<path d="M572.5 512.4 L573.1 514.5" fill="none" stroke="#4a4a4c" stroke-width="0.4"/>
<path d="M573.8 511.7 L574.4 513.8" fill="none" stroke="#4a4a4c" stroke-width="0.4"/>
<path d="M575.1 510.9 L575.7 513" fill="none" stroke="#4a4a4c" stroke-width="0.4"/>
<path d="M576.4 510.2 L577 512.3" fill="none" stroke="#4a4a4c" stroke-width="0.4"/>
<path d="M577.7 509.5 L578.3 511.6" fill="none" stroke="#4a4a4c" stroke-width="0.4"/>
<path d="M579 508.7 L579.6 510.8" fill="none" stroke="#4a4a4c" stroke-width="0.4"/>
<path d="M580.3 508 L580.9 510.1" fill="none" stroke="#4a4a4c" stroke-width="0.4"/>
<path d="M581.6 507.2 L582.2 509.3" fill="none" stroke="#4a4a4c" stroke-width="0.4"/>
<path d="M582.9 506.5 L583.5 508.6" fill="none" stroke="#4a4a4c" stroke-width="0.4"/>
<path d="M584.2 505.7 L584.8 507.8" fill="none" stroke="#4a4a4c" stroke-width="0.4"/>
<path d="M585.5 505 L586.1 507.1" fill="none" stroke="#4a4a4c" stroke-width="0.4"/>
<path d="M586.8 504.3 L587.4 506.4" fill="none" stroke="#4a4a4c" stroke-width="0.4"/>
<path d="M588.1 503.5 L588.7 505.6" fill="none" stroke="#4a4a4c" stroke-width="0.4"/>
<path d="M589.4 502.8 L590 504.9" fill="none" stroke="#4a4a4c" stroke-width="0.4"/>
<path d="M590.8 502 L591.4 504.1" fill="none" stroke="#4a4a4c" stroke-width="0.4"/>
<path d="M592.1 501.3 L592.7 503.4" fill="none" stroke="#4a4a4c" stroke-width="0.4"/>
<path d="M593.4 500.5 L594 502.6" fill="none" stroke="#4a4a4c" stroke-width="0.4"/>
<path d="M594.7 499.8 L595.3 501.9" fill="none" stroke="#4a4a4c" stroke-width="0.4"/>
<path d="M596 499.1 L596.6 501.2" fill="none" stroke="#4a4a4c" stroke-width="0.4"/>
<path d="M597.3 498.3 L597.9 500.4" fill="none" stroke="#4a4a4c" stroke-width="0.4"/>
<path d="M598.6 497.6 L599.2 499.7" fill="none" stroke="#4a4a4c" stroke-width="0.4"/>
<path d="M599.9 496.8 L600.5 498.9" fill="none" stroke="#4a4a4c" stroke-width="0.4"/>
<path d="M601.2 496.1 L601.8 498.2" fill="none" stroke="#4a4a4c" stroke-width="0.4"/>
<path d="M602.5 495.4 L603.1 497.5" fill="none" stroke="#4a4a4c" stroke-width="0.4"/>
<path d="M603.8 494.6 L604.4 496.7" fill="none" stroke="#4a4a4c" stroke-width="0.4"/>
<path d="M605.1 493.9 L605.7 496" fill="none" stroke="#4a4a4c" stroke-width="0.4"/>
<path d="M606.4 493.1 L607 495.2" fill="none" stroke="#4a4a4c" stroke-width="0.4"/>
<path d="M607.7 492.4 L608.3 494.5" fill="none" stroke="#4a4a4c" stroke-width="0.4"/>
<path d="M609 491.6 L609.6 493.7" fill="none" stroke="#4a4a4c" stroke-width="0.4"/>
<path d="M610.4 490.9 L611 493" fill="none" stroke="#4a4a4c" stroke-width="0.4"/>
<path d="M525.4 530.7 L525.4 529.7 L527.1 528.8 L528.8 528.8 L530.2 529.6 L530.2 530.5 L528.5 531.5 L526.8 531.5Z" fill="#fff" stroke="#2e2e30" stroke-width="0.6"/>
<path d="M529.8 528.2 L529.8 527.3 L531.5 526.3 L533.2 526.3 L534.5 527.1 L534.5 528.1 L532.8 529 L531.1 529Z" fill="#fff" stroke="#2e2e30" stroke-width="0.6"/>
<path d="M534.1 525.8 L534.1 524.8 L535.8 523.8 L537.5 523.8 L538.9 524.6 L538.9 525.6 L537.2 526.5 L535.5 526.5Z" fill="#fff" stroke="#2e2e30" stroke-width="0.6"/>
<path d="M538.5 523.3 L538.5 522.3 L540.2 521.4 L541.9 521.4 L543.2 522.1 L543.2 523.1 L541.5 524.1 L539.8 524.1Z" fill="#fff" stroke="#2e2e30" stroke-width="0.6"/>
<path d="M542.8 520.8 L542.9 519.8 L544.5 518.9 L546.2 518.9 L547.6 519.7 L547.6 520.6 L545.9 521.6 L544.2 521.6Z" fill="#fff" stroke="#2e2e30" stroke-width="0.6"/>
<path d="M547.2 518.3 L547.2 517.4 L548.9 516.4 L550.6 516.4 L551.9 517.2 L551.9 518.2 L550.2 519.1 L548.6 519.1Z" fill="#fff" stroke="#2e2e30" stroke-width="0.6"/>
<path d="M551.6 515.9 L551.6 514.9 L553.3 513.9 L554.9 513.9 L556.3 514.7 L556.3 515.7 L554.6 516.7 L552.9 516.7Z" fill="#fff" stroke="#2e2e30" stroke-width="0.6"/>
<path d="M555.9 513.4 L555.9 512.4 L557.6 511.5 L559.3 511.5 L560.7 512.3 L560.6 513.2 L559 514.2 L557.3 514.2Z" fill="#fff" stroke="#2e2e30" stroke-width="0.6"/>
<path d="M560.3 510.9 L560.3 510 L562 509 L563.7 509 L565 509.8 L565 510.7 L563.3 511.7 L561.6 511.7Z" fill="#fff" stroke="#2e2e30" stroke-width="0.6"/>
<path d="M564.6 508.4 L564.6 507.5 L566.3 506.5 L568 506.5 L569.4 507.3 L569.4 508.3 L567.7 509.2 L566 509.2Z" fill="#fff" stroke="#2e2e30" stroke-width="0.6"/>
<path d="M569 506 L569 505 L570.7 504 L572.4 504 L573.7 504.8 L573.7 505.8 L572 506.8 L570.3 506.8Z" fill="#fff" stroke="#2e2e30" stroke-width="0.6"/>
<path d="M573.3 503.5 L573.3 502.5 L575 501.6 L576.7 501.6 L578.1 502.4 L578.1 503.3 L576.4 504.3 L574.7 504.3Z" fill="#fff" stroke="#2e2e30" stroke-width="0.6"/>
<path d="M577.7 501 L577.7 500.1 L579.4 499.1 L581.1 499.1 L582.4 499.9 L582.4 500.8 L580.7 501.8 L579 501.8Z" fill="#fff" stroke="#2e2e30" stroke-width="0.6"/>
<path d="M582 498.5 L582.1 497.6 L583.7 496.6 L585.4 496.6 L586.8 497.4 L586.8 498.4 L585.1 499.3 L583.4 499.3Z" fill="#fff" stroke="#2e2e30" stroke-width="0.6"/>
<path d="M586.4 496.1 L586.4 495.1 L588.1 494.1 L589.8 494.1 L591.1 494.9 L591.1 495.9 L589.4 496.9 L587.8 496.9Z" fill="#fff" stroke="#2e2e30" stroke-width="0.6"/>
<path d="M590.8 493.6 L590.8 492.6 L592.5 491.7 L594.1 491.7 L595.5 492.5 L595.5 493.4 L593.8 494.4 L592.1 494.4Z" fill="#fff" stroke="#2e2e30" stroke-width="0.6"/>
<path d="M595.1 491.1 L595.1 490.2 L596.8 489.2 L598.5 489.2 L599.9 490 L599.8 490.9 L598.2 491.9 L596.5 491.9Z" fill="#fff" stroke="#2e2e30" stroke-width="0.6"/>
<path d="M599.5 488.6 L599.5 487.7 L601.2 486.7 L602.9 486.7 L604.2 487.5 L604.2 488.5 L602.5 489.4 L600.8 489.4Z" fill="#fff" stroke="#2e2e30" stroke-width="0.6"/>
<path d="M598.4 483.6 Q601.6 482.6 603.6 483.8 Q605.6 485 605.2 487.2 L608.4 487.4 Q611.6 488.6 611.6 491.2 L610.6 493.4" fill="#fff" stroke="#2c2c2e" stroke-width="0.5"/>
<ellipse cx="603.6" cy="485.6" rx="1" ry="1" fill="#ccc" stroke="#2c2c2e" stroke-width="0.4"/>
<ellipse cx="609.6" cy="489.8" rx="1" ry="1" fill="#ccc" stroke="#2c2c2e" stroke-width="0.4"/>
<path d="M597.6 508.8 L670 467.7 L682 474.6 L682 477.4 L609.6 518.5 L609.6 515.7Z" fill="#fff" stroke="#2c2c2e" stroke-width="0.5"/>
<path d="M609.6 515.7 L682 474.6" fill="none" stroke="#2c2c2e" stroke-width="0.5"/>
<path d="M609.6 516.1 L610.2 518.2" fill="none" stroke="#4a4a4c" stroke-width="0.4"/>
<path d="M610.9 515.4 L611.5 517.5" fill="none" stroke="#4a4a4c" stroke-width="0.4"/>
<path d="M612.2 514.6 L612.8 516.7" fill="none" stroke="#4a4a4c" stroke-width="0.4"/>
<path d="M613.5 513.9 L614.1 516" fill="none" stroke="#4a4a4c" stroke-width="0.4"/>
<path d="M614.8 513.1 L615.4 515.2" fill="none" stroke="#4a4a4c" stroke-width="0.4"/>
<path d="M616.1 512.4 L616.7 514.5" fill="none" stroke="#4a4a4c" stroke-width="0.4"/>
<path d="M617.4 511.6 L618 513.7" fill="none" stroke="#4a4a4c" stroke-width="0.4"/>
<path d="M618.8 510.9 L619.4 513" fill="none" stroke="#4a4a4c" stroke-width="0.4"/>
<path d="M620.1 510.1 L620.7 512.2" fill="none" stroke="#4a4a4c" stroke-width="0.4"/>
<path d="M621.4 509.4 L622 511.5" fill="none" stroke="#4a4a4c" stroke-width="0.4"/>
<path d="M622.7 508.6 L623.3 510.7" fill="none" stroke="#4a4a4c" stroke-width="0.4"/>
<path d="M624 507.9 L624.6 510" fill="none" stroke="#4a4a4c" stroke-width="0.4"/>
<path d="M625.3 507.1 L625.9 509.2" fill="none" stroke="#4a4a4c" stroke-width="0.4"/>
<path d="M626.7 506.4 L627.3 508.5" fill="none" stroke="#4a4a4c" stroke-width="0.4"/>
<path d="M628 505.6 L628.6 507.7" fill="none" stroke="#4a4a4c" stroke-width="0.4"/>
<path d="M629.3 504.9 L629.9 507" fill="none" stroke="#4a4a4c" stroke-width="0.4"/>
<path d="M630.6 504.1 L631.2 506.2" fill="none" stroke="#4a4a4c" stroke-width="0.4"/>
<path d="M631.9 503.4 L632.5 505.5" fill="none" stroke="#4a4a4c" stroke-width="0.4"/>
<path d="M633.2 502.6 L633.8 504.7" fill="none" stroke="#4a4a4c" stroke-width="0.4"/>
<path d="M634.6 501.9 L635.2 504" fill="none" stroke="#4a4a4c" stroke-width="0.4"/>
<path d="M635.9 501.1 L636.5 503.2" fill="none" stroke="#4a4a4c" stroke-width="0.4"/>
<path d="M637.2 500.4 L637.8 502.5" fill="none" stroke="#4a4a4c" stroke-width="0.4"/>
<path d="M638.5 499.7 L639.1 501.8" fill="none" stroke="#4a4a4c" stroke-width="0.4"/>
<path d="M639.8 498.9 L640.4 501" fill="none" stroke="#4a4a4c" stroke-width="0.4"/>
<path d="M641.1 498.2 L641.7 500.3" fill="none" stroke="#4a4a4c" stroke-width="0.4"/>
<path d="M642.5 497.4 L643.1 499.5" fill="none" stroke="#4a4a4c" stroke-width="0.4"/>
<path d="M643.8 496.7 L644.4 498.8" fill="none" stroke="#4a4a4c" stroke-width="0.4"/>
<path d="M645.1 495.9 L645.7 498" fill="none" stroke="#4a4a4c" stroke-width="0.4"/>
<path d="M646.4 495.2 L647 497.3" fill="none" stroke="#4a4a4c" stroke-width="0.4"/>
<path d="M647.7 494.4 L648.3 496.5" fill="none" stroke="#4a4a4c" stroke-width="0.4"/>
<path d="M649 493.7 L649.6 495.8" fill="none" stroke="#4a4a4c" stroke-width="0.4"/>
<path d="M650.4 492.9 L651 495" fill="none" stroke="#4a4a4c" stroke-width="0.4"/>
<path d="M651.7 492.2 L652.3 494.3" fill="none" stroke="#4a4a4c" stroke-width="0.4"/>
<path d="M653 491.4 L653.6 493.5" fill="none" stroke="#4a4a4c" stroke-width="0.4"/>
<path d="M654.3 490.7 L654.9 492.8" fill="none" stroke="#4a4a4c" stroke-width="0.4"/>
<path d="M655.6 489.9 L656.2 492" fill="none" stroke="#4a4a4c" stroke-width="0.4"/>
<path d="M656.9 489.2 L657.5 491.3" fill="none" stroke="#4a4a4c" stroke-width="0.4"/>
<path d="M658.3 488.4 L658.9 490.5" fill="none" stroke="#4a4a4c" stroke-width="0.4"/>
<path d="M659.6 487.7 L660.2 489.8" fill="none" stroke="#4a4a4c" stroke-width="0.4"/>
<path d="M660.9 486.9 L661.5 489" fill="none" stroke="#4a4a4c" stroke-width="0.4"/>
<path d="M662.2 486.2 L662.8 488.3" fill="none" stroke="#4a4a4c" stroke-width="0.4"/>
<path d="M663.5 485.4 L664.1 487.5" fill="none" stroke="#4a4a4c" stroke-width="0.4"/>
<path d="M664.8 484.7 L665.4 486.8" fill="none" stroke="#4a4a4c" stroke-width="0.4"/>
<path d="M666.2 483.9 L666.8 486" fill="none" stroke="#4a4a4c" stroke-width="0.4"/>
<path d="M667.5 483.2 L668.1 485.3" fill="none" stroke="#4a4a4c" stroke-width="0.4"/>
<path d="M668.8 482.5 L669.4 484.6" fill="none" stroke="#4a4a4c" stroke-width="0.4"/>
<path d="M670.1 481.7 L670.7 483.8" fill="none" stroke="#4a4a4c" stroke-width="0.4"/>
<path d="M671.4 481 L672 483.1" fill="none" stroke="#4a4a4c" stroke-width="0.4"/>
<path d="M672.7 480.2 L673.3 482.3" fill="none" stroke="#4a4a4c" stroke-width="0.4"/>
<path d="M674.1 479.5 L674.7 481.6" fill="none" stroke="#4a4a4c" stroke-width="0.4"/>
<path d="M675.4 478.7 L676 480.8" fill="none" stroke="#4a4a4c" stroke-width="0.4"/>
<path d="M676.7 478 L677.3 480.1" fill="none" stroke="#4a4a4c" stroke-width="0.4"/>
<path d="M678 477.2 L678.6 479.3" fill="none" stroke="#4a4a4c" stroke-width="0.4"/>
<path d="M679.3 476.5 L679.9 478.6" fill="none" stroke="#4a4a4c" stroke-width="0.4"/>
<path d="M680.6 475.7 L681.2 477.8" fill="none" stroke="#4a4a4c" stroke-width="0.4"/>
<path d="M682 475 L682.6 477.1" fill="none" stroke="#4a4a4c" stroke-width="0.4"/>
<path d="M603.1 511.3 L603.1 510.4 L604.8 509.4 L606.5 509.4 L607.9 510.2 L607.8 511.2 L606.1 512.1 L604.5 512.1Z" fill="#fff" stroke="#2e2e30" stroke-width="0.6"/>
<path d="M607.6 508.8 L607.6 507.8 L609.3 506.8 L611 506.8 L612.4 507.6 L612.4 508.6 L610.7 509.5 L609 509.5Z" fill="#fff" stroke="#2e2e30" stroke-width="0.6"/>
<path d="M612.2 506.2 L612.2 505.2 L613.9 504.3 L615.5 504.3 L616.9 505 L616.9 506 L615.2 507 L613.5 507Z" fill="#fff" stroke="#2e2e30" stroke-width="0.6"/>
<path d="M616.7 503.6 L616.7 502.7 L618.4 501.7 L620.1 501.7 L621.4 502.5 L621.4 503.4 L619.7 504.4 L618 504.4Z" fill="#fff" stroke="#2e2e30" stroke-width="0.6"/>
<path d="M621.2 501 L621.2 500.1 L622.9 499.1 L624.6 499.1 L626 499.9 L625.9 500.9 L624.2 501.8 L622.6 501.8Z" fill="#fff" stroke="#2e2e30" stroke-width="0.6"/>
<path d="M625.7 498.5 L625.7 497.5 L627.4 496.6 L629.1 496.6 L630.5 497.3 L630.5 498.3 L628.8 499.3 L627.1 499.3Z" fill="#fff" stroke="#2e2e30" stroke-width="0.6"/>
<path d="M630.3 495.9 L630.3 494.9 L632 494 L633.6 494 L635 494.8 L635 495.7 L633.3 496.7 L631.6 496.7Z" fill="#fff" stroke="#2e2e30" stroke-width="0.6"/>
<path d="M634.8 493.3 L634.8 492.4 L636.5 491.4 L638.2 491.4 L639.5 492.2 L639.5 493.2 L637.8 494.1 L636.1 494.1Z" fill="#fff" stroke="#2e2e30" stroke-width="0.6"/>
<path d="M639.3 490.8 L639.3 489.8 L641 488.8 L642.7 488.8 L644.1 489.6 L644 490.6 L642.3 491.6 L640.7 491.6Z" fill="#fff" stroke="#2e2e30" stroke-width="0.6"/>
<path d="M643.8 488.2 L643.8 487.2 L645.5 486.3 L647.2 486.3 L648.6 487.1 L648.6 488 L646.9 489 L645.2 489Z" fill="#fff" stroke="#2e2e30" stroke-width="0.6"/>
<path d="M648.4 485.6 L648.4 484.7 L650.1 483.7 L651.7 483.7 L653.1 484.5 L653.1 485.4 L651.4 486.4 L649.7 486.4Z" fill="#fff" stroke="#2e2e30" stroke-width="0.6"/>
<path d="M652.9 483.1 L652.9 482.1 L654.6 481.1 L656.3 481.1 L657.6 481.9 L657.6 482.9 L655.9 483.8 L654.2 483.8Z" fill="#fff" stroke="#2e2e30" stroke-width="0.6"/>
<path d="M657.4 480.5 L657.4 479.5 L659.1 478.6 L660.8 478.6 L662.2 479.3 L662.1 480.3 L660.4 481.3 L658.8 481.3Z" fill="#fff" stroke="#2e2e30" stroke-width="0.6"/>
<path d="M661.9 477.9 L661.9 477 L663.6 476 L665.3 476 L666.7 476.8 L666.7 477.7 L665 478.7 L663.3 478.7Z" fill="#fff" stroke="#2e2e30" stroke-width="0.6"/>
<path d="M666.5 475.3 L666.5 474.4 L668.2 473.4 L669.8 473.4 L671.2 474.2 L671.2 475.2 L669.5 476.1 L667.8 476.1Z" fill="#fff" stroke="#2e2e30" stroke-width="0.6"/>
<path d="M671 472.8 L671 471.8 L672.7 470.8 L674.4 470.8 L675.7 471.6 L675.7 472.6 L674 473.6 L672.3 473.6Z" fill="#fff" stroke="#2e2e30" stroke-width="0.6"/>
<path d="M597.6 508.8 L604.6 504.8 L616.6 511.7 L609.6 515.7Z" fill="#8e8e90" stroke="#2c2c2e" stroke-width="0.5"/>
<ellipse cx="601.6" cy="509.1" rx="1.1" ry="0.9" fill="#f2f2f2" stroke="#2c2c2e" stroke-width="0.3"/>
<ellipse cx="605.1" cy="511.2" rx="1.1" ry="0.9" fill="#f2f2f2" stroke="#2c2c2e" stroke-width="0.3"/>
<ellipse cx="608.6" cy="513.2" rx="1.1" ry="0.9" fill="#f2f2f2" stroke="#2c2c2e" stroke-width="0.3"/>
<path d="M605.6 498.8 L605.6 505" fill="none" stroke="#111" stroke-width="0.7"/>
<path d="M603.5 503 L607.7 503 L605.6 508.4Z" fill="#111" stroke="#111" stroke-width="0.3"/>
<path d="M520 607.7 L670 523.4 L683 530.9 L683 534.1 L533 618.4 L533 615.2Z" fill="#d3d3d5" stroke="#2c2c2e" stroke-width="0.5"/>
<path d="M533 615.2 L683 530.9" fill="none" stroke="#2c2c2e" stroke-width="0.5"/>
<path d="M533 615.6 L533.6 618.1" fill="none" stroke="#4a4a4c" stroke-width="0.4"/>
<path d="M534.3 614.9 L534.9 617.4" fill="none" stroke="#4a4a4c" stroke-width="0.4"/>
<path d="M535.6 614.1 L536.2 616.6" fill="none" stroke="#4a4a4c" stroke-width="0.4"/>
<path d="M536.9 613.4 L537.5 615.9" fill="none" stroke="#4a4a4c" stroke-width="0.4"/>
<path d="M538.3 612.6 L538.9 615.1" fill="none" stroke="#4a4a4c" stroke-width="0.4"/>
<path d="M539.6 611.9 L540.2 614.4" fill="none" stroke="#4a4a4c" stroke-width="0.4"/>
<path d="M540.9 611.2 L541.5 613.7" fill="none" stroke="#4a4a4c" stroke-width="0.4"/>
<path d="M542.2 610.4 L542.8 612.9" fill="none" stroke="#4a4a4c" stroke-width="0.4"/>
<path d="M543.5 609.7 L544.1 612.2" fill="none" stroke="#4a4a4c" stroke-width="0.4"/>
<path d="M544.8 608.9 L545.4 611.4" fill="none" stroke="#4a4a4c" stroke-width="0.4"/>
<path d="M546.1 608.2 L546.7 610.7" fill="none" stroke="#4a4a4c" stroke-width="0.4"/>
<path d="M547.5 607.5 L548.1 610" fill="none" stroke="#4a4a4c" stroke-width="0.4"/>
<path d="M548.8 606.7 L549.4 609.2" fill="none" stroke="#4a4a4c" stroke-width="0.4"/>
<path d="M550.1 606 L550.7 608.5" fill="none" stroke="#4a4a4c" stroke-width="0.4"/>
<path d="M551.4 605.2 L552 607.7" fill="none" stroke="#4a4a4c" stroke-width="0.4"/>
<path d="M552.7 604.5 L553.3 607" fill="none" stroke="#4a4a4c" stroke-width="0.4"/>
<path d="M554 603.8 L554.6 606.3" fill="none" stroke="#4a4a4c" stroke-width="0.4"/>
<path d="M555.4 603 L556 605.5" fill="none" stroke="#4a4a4c" stroke-width="0.4"/>
<path d="M556.7 602.3 L557.3 604.8" fill="none" stroke="#4a4a4c" stroke-width="0.4"/>
<path d="M558 601.5 L558.6 604" fill="none" stroke="#4a4a4c" stroke-width="0.4"/>
<path d="M559.3 600.8 L559.9 603.3" fill="none" stroke="#4a4a4c" stroke-width="0.4"/>
<path d="M560.6 600.1 L561.2 602.6" fill="none" stroke="#4a4a4c" stroke-width="0.4"/>
<path d="M561.9 599.3 L562.5 601.8" fill="none" stroke="#4a4a4c" stroke-width="0.4"/>
<path d="M563.3 598.6 L563.9 601.1" fill="none" stroke="#4a4a4c" stroke-width="0.4"/>
<path d="M564.6 597.8 L565.2 600.3" fill="none" stroke="#4a4a4c" stroke-width="0.4"/>
<path d="M565.9 597.1 L566.5 599.6" fill="none" stroke="#4a4a4c" stroke-width="0.4"/>
<path d="M567.2 596.4 L567.8 598.9" fill="none" stroke="#4a4a4c" stroke-width="0.4"/>
<path d="M568.5 595.6 L569.1 598.1" fill="none" stroke="#4a4a4c" stroke-width="0.4"/>
<path d="M569.8 594.9 L570.4 597.4" fill="none" stroke="#4a4a4c" stroke-width="0.4"/>
<path d="M571.1 594.2 L571.7 596.7" fill="none" stroke="#4a4a4c" stroke-width="0.4"/>
<path d="M572.5 593.4 L573.1 595.9" fill="none" stroke="#4a4a4c" stroke-width="0.4"/>
<path d="M573.8 592.7 L574.4 595.2" fill="none" stroke="#4a4a4c" stroke-width="0.4"/>
<path d="M575.1 591.9 L575.7 594.4" fill="none" stroke="#4a4a4c" stroke-width="0.4"/>
<path d="M576.4 591.2 L577 593.7" fill="none" stroke="#4a4a4c" stroke-width="0.4"/>
<path d="M577.7 590.5 L578.3 593" fill="none" stroke="#4a4a4c" stroke-width="0.4"/>
<path d="M579 589.7 L579.6 592.2" fill="none" stroke="#4a4a4c" stroke-width="0.4"/>
<path d="M580.4 589 L581 591.5" fill="none" stroke="#4a4a4c" stroke-width="0.4"/>
<path d="M581.7 588.2 L582.3 590.7" fill="none" stroke="#4a4a4c" stroke-width="0.4"/>
<path d="M583 587.5 L583.6 590" fill="none" stroke="#4a4a4c" stroke-width="0.4"/>
<path d="M584.3 586.8 L584.9 589.3" fill="none" stroke="#4a4a4c" stroke-width="0.4"/>
<path d="M585.6 586 L586.2 588.5" fill="none" stroke="#4a4a4c" stroke-width="0.4"/>
<path d="M586.9 585.3 L587.5 587.8" fill="none" stroke="#4a4a4c" stroke-width="0.4"/>
<path d="M588.3 584.5 L588.9 587" fill="none" stroke="#4a4a4c" stroke-width="0.4"/>
<path d="M589.6 583.8 L590.2 586.3" fill="none" stroke="#4a4a4c" stroke-width="0.4"/>
<path d="M590.9 583.1 L591.5 585.6" fill="none" stroke="#4a4a4c" stroke-width="0.4"/>
<path d="M592.2 582.3 L592.8 584.8" fill="none" stroke="#4a4a4c" stroke-width="0.4"/>
<path d="M593.5 581.6 L594.1 584.1" fill="none" stroke="#4a4a4c" stroke-width="0.4"/>
<path d="M594.8 580.8 L595.4 583.3" fill="none" stroke="#4a4a4c" stroke-width="0.4"/>
<path d="M596.1 580.1 L596.7 582.6" fill="none" stroke="#4a4a4c" stroke-width="0.4"/>
<path d="M597.5 579.4 L598.1 581.9" fill="none" stroke="#4a4a4c" stroke-width="0.4"/>
<path d="M598.8 578.6 L599.4 581.1" fill="none" stroke="#4a4a4c" stroke-width="0.4"/>
<path d="M600.1 577.9 L600.7 580.4" fill="none" stroke="#4a4a4c" stroke-width="0.4"/>
<path d="M601.4 577.1 L602 579.6" fill="none" stroke="#4a4a4c" stroke-width="0.4"/>
<path d="M602.7 576.4 L603.3 578.9" fill="none" stroke="#4a4a4c" stroke-width="0.4"/>
<path d="M604 575.7 L604.6 578.2" fill="none" stroke="#4a4a4c" stroke-width="0.4"/>
<path d="M605.4 574.9 L606 577.4" fill="none" stroke="#4a4a4c" stroke-width="0.4"/>
<path d="M606.7 574.2 L607.3 576.7" fill="none" stroke="#4a4a4c" stroke-width="0.4"/>
<path d="M608 573.4 L608.6 575.9" fill="none" stroke="#4a4a4c" stroke-width="0.4"/>
<path d="M609.3 572.7 L609.9 575.2" fill="none" stroke="#4a4a4c" stroke-width="0.4"/>
<path d="M610.6 572 L611.2 574.5" fill="none" stroke="#4a4a4c" stroke-width="0.4"/>
<path d="M611.9 571.2 L612.5 573.7" fill="none" stroke="#4a4a4c" stroke-width="0.4"/>
<path d="M613.3 570.5 L613.9 573" fill="none" stroke="#4a4a4c" stroke-width="0.4"/>
<path d="M614.6 569.7 L615.2 572.2" fill="none" stroke="#4a4a4c" stroke-width="0.4"/>
<path d="M615.9 569 L616.5 571.5" fill="none" stroke="#4a4a4c" stroke-width="0.4"/>
<path d="M617.2 568.3 L617.8 570.8" fill="none" stroke="#4a4a4c" stroke-width="0.4"/>
<path d="M618.5 567.5 L619.1 570" fill="none" stroke="#4a4a4c" stroke-width="0.4"/>
<path d="M619.8 566.8 L620.4 569.3" fill="none" stroke="#4a4a4c" stroke-width="0.4"/>
<path d="M621.1 566.1 L621.7 568.6" fill="none" stroke="#4a4a4c" stroke-width="0.4"/>
<path d="M622.5 565.3 L623.1 567.8" fill="none" stroke="#4a4a4c" stroke-width="0.4"/>
<path d="M623.8 564.6 L624.4 567.1" fill="none" stroke="#4a4a4c" stroke-width="0.4"/>
<path d="M625.1 563.8 L625.7 566.3" fill="none" stroke="#4a4a4c" stroke-width="0.4"/>
<path d="M626.4 563.1 L627 565.6" fill="none" stroke="#4a4a4c" stroke-width="0.4"/>
<path d="M627.7 562.4 L628.3 564.9" fill="none" stroke="#4a4a4c" stroke-width="0.4"/>
<path d="M629 561.6 L629.6 564.1" fill="none" stroke="#4a4a4c" stroke-width="0.4"/>
<path d="M630.4 560.9 L631 563.4" fill="none" stroke="#4a4a4c" stroke-width="0.4"/>
<path d="M631.7 560.1 L632.3 562.6" fill="none" stroke="#4a4a4c" stroke-width="0.4"/>
<path d="M633 559.4 L633.6 561.9" fill="none" stroke="#4a4a4c" stroke-width="0.4"/>
<path d="M634.3 558.7 L634.9 561.2" fill="none" stroke="#4a4a4c" stroke-width="0.4"/>
<path d="M635.6 557.9 L636.2 560.4" fill="none" stroke="#4a4a4c" stroke-width="0.4"/>
<path d="M636.9 557.2 L637.5 559.7" fill="none" stroke="#4a4a4c" stroke-width="0.4"/>
<path d="M638.3 556.4 L638.9 558.9" fill="none" stroke="#4a4a4c" stroke-width="0.4"/>
<path d="M639.6 555.7 L640.2 558.2" fill="none" stroke="#4a4a4c" stroke-width="0.4"/>
<path d="M640.9 555 L641.5 557.5" fill="none" stroke="#4a4a4c" stroke-width="0.4"/>
<path d="M642.2 554.2 L642.8 556.7" fill="none" stroke="#4a4a4c" stroke-width="0.4"/>
<path d="M643.5 553.5 L644.1 556" fill="none" stroke="#4a4a4c" stroke-width="0.4"/>
<path d="M644.8 552.7 L645.4 555.2" fill="none" stroke="#4a4a4c" stroke-width="0.4"/>
<path d="M646.1 552 L646.7 554.5" fill="none" stroke="#4a4a4c" stroke-width="0.4"/>
<path d="M647.5 551.3 L648.1 553.8" fill="none" stroke="#4a4a4c" stroke-width="0.4"/>
<path d="M648.8 550.5 L649.4 553" fill="none" stroke="#4a4a4c" stroke-width="0.4"/>
<path d="M650.1 549.8 L650.7 552.3" fill="none" stroke="#4a4a4c" stroke-width="0.4"/>
<path d="M651.4 549 L652 551.5" fill="none" stroke="#4a4a4c" stroke-width="0.4"/>
<path d="M652.7 548.3 L653.3 550.8" fill="none" stroke="#4a4a4c" stroke-width="0.4"/>
<path d="M654 547.6 L654.6 550.1" fill="none" stroke="#4a4a4c" stroke-width="0.4"/>
<path d="M655.4 546.8 L656 549.3" fill="none" stroke="#4a4a4c" stroke-width="0.4"/>
<path d="M656.7 546.1 L657.3 548.6" fill="none" stroke="#4a4a4c" stroke-width="0.4"/>
<path d="M658 545.3 L658.6 547.8" fill="none" stroke="#4a4a4c" stroke-width="0.4"/>
<path d="M659.3 544.6 L659.9 547.1" fill="none" stroke="#4a4a4c" stroke-width="0.4"/>
<path d="M660.6 543.9 L661.2 546.4" fill="none" stroke="#4a4a4c" stroke-width="0.4"/>
<path d="M661.9 543.1 L662.5 545.6" fill="none" stroke="#4a4a4c" stroke-width="0.4"/>
<path d="M663.3 542.4 L663.9 544.9" fill="none" stroke="#4a4a4c" stroke-width="0.4"/>
<path d="M664.6 541.7 L665.2 544.2" fill="none" stroke="#4a4a4c" stroke-width="0.4"/>
<path d="M665.9 540.9 L666.5 543.4" fill="none" stroke="#4a4a4c" stroke-width="0.4"/>
<path d="M667.2 540.2 L667.8 542.7" fill="none" stroke="#4a4a4c" stroke-width="0.4"/>
<path d="M668.5 539.4 L669.1 541.9" fill="none" stroke="#4a4a4c" stroke-width="0.4"/>
<path d="M669.8 538.7 L670.4 541.2" fill="none" stroke="#4a4a4c" stroke-width="0.4"/>
<path d="M671.1 538 L671.7 540.5" fill="none" stroke="#4a4a4c" stroke-width="0.4"/>
<path d="M672.5 537.2 L673.1 539.7" fill="none" stroke="#4a4a4c" stroke-width="0.4"/>
<path d="M673.8 536.5 L674.4 539" fill="none" stroke="#4a4a4c" stroke-width="0.4"/>
<path d="M675.1 535.7 L675.7 538.2" fill="none" stroke="#4a4a4c" stroke-width="0.4"/>
<path d="M676.4 535 L677 537.5" fill="none" stroke="#4a4a4c" stroke-width="0.4"/>
<path d="M677.7 534.3 L678.3 536.8" fill="none" stroke="#4a4a4c" stroke-width="0.4"/>
<path d="M679 533.5 L679.6 536" fill="none" stroke="#4a4a4c" stroke-width="0.4"/>
<path d="M680.4 532.8 L681 535.3" fill="none" stroke="#4a4a4c" stroke-width="0.4"/>
<path d="M681.7 532 L682.3 534.5" fill="none" stroke="#4a4a4c" stroke-width="0.4"/>
<path d="M683 531.3 L683.6 533.8" fill="none" stroke="#4a4a4c" stroke-width="0.4"/>
<path d="M525.9 610.5 L525.9 609.6 L527.6 608.6 L529.3 608.6 L530.7 609.4 L530.7 610.4 L529 611.3 L527.3 611.3Z" fill="#fff" stroke="#2e2e30" stroke-width="0.6"/>
<path d="M530.3 608.1 L530.4 607.1 L532.1 606.1 L533.7 606.2 L535.1 606.9 L535.1 607.9 L533.4 608.9 L531.7 608.8Z" fill="#fff" stroke="#2e2e30" stroke-width="0.6"/>
<path d="M534.8 605.6 L534.8 604.6 L536.5 603.7 L538.2 603.7 L539.5 604.5 L539.5 605.4 L537.8 606.4 L536.1 606.4Z" fill="#fff" stroke="#2e2e30" stroke-width="0.6"/>
<path d="M539.2 603.1 L539.2 602.1 L540.9 601.2 L542.6 601.2 L543.9 602 L543.9 602.9 L542.2 603.9 L540.5 603.9Z" fill="#fff" stroke="#2e2e30" stroke-width="0.6"/>
<path d="M543.6 600.6 L543.6 599.7 L545.3 598.7 L547 598.7 L548.3 599.5 L548.3 600.5 L546.6 601.4 L544.9 601.4Z" fill="#fff" stroke="#2e2e30" stroke-width="0.6"/>
<path d="M548 598.1 L548 597.2 L549.7 596.2 L551.4 596.2 L552.8 597 L552.7 598 L551 598.9 L549.4 598.9Z" fill="#fff" stroke="#2e2e30" stroke-width="0.6"/>
<path d="M552.4 595.7 L552.4 594.7 L554.1 593.8 L555.8 593.8 L557.2 594.5 L557.1 595.5 L555.4 596.5 L553.8 596.5Z" fill="#fff" stroke="#2e2e30" stroke-width="0.6"/>
<path d="M556.8 593.2 L556.8 592.2 L558.5 591.3 L560.2 591.3 L561.6 592.1 L561.6 593 L559.9 594 L558.2 594Z" fill="#fff" stroke="#2e2e30" stroke-width="0.6"/>
<path d="M561.2 590.7 L561.2 589.7 L562.9 588.8 L564.6 588.8 L566 589.6 L566 590.5 L564.3 591.5 L562.6 591.5Z" fill="#fff" stroke="#2e2e30" stroke-width="0.6"/>
<path d="M565.6 588.2 L565.7 587.3 L567.4 586.3 L569 586.3 L570.4 587.1 L570.4 588.1 L568.7 589 L567 589Z" fill="#fff" stroke="#2e2e30" stroke-width="0.6"/>
<path d="M570 585.7 L570.1 584.8 L571.8 583.8 L573.4 583.8 L574.8 584.6 L574.8 585.6 L573.1 586.5 L571.4 586.5Z" fill="#fff" stroke="#2e2e30" stroke-width="0.6"/>
<path d="M574.5 583.3 L574.5 582.3 L576.2 581.4 L577.9 581.4 L579.2 582.1 L579.2 583.1 L577.5 584.1 L575.8 584.1Z" fill="#fff" stroke="#2e2e30" stroke-width="0.6"/>
<path d="M578.9 580.8 L578.9 579.8 L580.6 578.9 L582.3 578.9 L583.6 579.7 L583.6 580.6 L581.9 581.6 L580.2 581.6Z" fill="#fff" stroke="#2e2e30" stroke-width="0.6"/>
<path d="M583.3 578.3 L583.3 577.4 L585 576.4 L586.7 576.4 L588 577.2 L588 578.1 L586.3 579.1 L584.6 579.1Z" fill="#fff" stroke="#2e2e30" stroke-width="0.6"/>
<path d="M587.7 575.8 L587.7 574.9 L589.4 573.9 L591.1 573.9 L592.5 574.7 L592.4 575.7 L590.7 576.6 L589.1 576.6Z" fill="#fff" stroke="#2e2e30" stroke-width="0.6"/>
<path d="M592.1 573.4 L592.1 572.4 L593.8 571.4 L595.5 571.4 L596.9 572.2 L596.9 573.2 L595.2 574.1 L593.5 574.1Z" fill="#fff" stroke="#2e2e30" stroke-width="0.6"/>
<path d="M596.5 570.9 L596.5 569.9 L598.2 569 L599.9 569 L601.3 569.7 L601.3 570.7 L599.6 571.7 L597.9 571.7Z" fill="#fff" stroke="#2e2e30" stroke-width="0.6"/>
<path d="M600.9 568.4 L600.9 567.4 L602.6 566.5 L604.3 566.5 L605.7 567.3 L605.7 568.2 L604 569.2 L602.3 569.2Z" fill="#fff" stroke="#2e2e30" stroke-width="0.6"/>
<path d="M605.3 565.9 L605.4 565 L607.1 564 L608.7 564 L610.1 564.8 L610.1 565.7 L608.4 566.7 L606.7 566.7Z" fill="#fff" stroke="#2e2e30" stroke-width="0.6"/>
<path d="M609.8 563.4 L609.8 562.5 L611.5 561.5 L613.2 561.5 L614.5 562.3 L614.5 563.3 L612.8 564.2 L611.1 564.2Z" fill="#fff" stroke="#2e2e30" stroke-width="0.6"/>
<path d="M614.2 561 L614.2 560 L615.9 559 L617.6 559 L618.9 559.8 L618.9 560.8 L617.2 561.7 L615.5 561.7Z" fill="#fff" stroke="#2e2e30" stroke-width="0.6"/>
<path d="M618.6 558.5 L618.6 557.5 L620.3 556.6 L622 556.6 L623.3 557.4 L623.3 558.3 L621.6 559.3 L619.9 559.3Z" fill="#fff" stroke="#2e2e30" stroke-width="0.6"/>
<path d="M623 556 L623 555 L624.7 554.1 L626.4 554.1 L627.8 554.9 L627.7 555.8 L626 556.8 L624.4 556.8Z" fill="#fff" stroke="#2e2e30" stroke-width="0.6"/>
<path d="M627.4 553.5 L627.4 552.6 L629.1 551.6 L630.8 551.6 L632.2 552.4 L632.1 553.4 L630.4 554.3 L628.8 554.3Z" fill="#fff" stroke="#2e2e30" stroke-width="0.6"/>
<path d="M631.8 551 L631.8 550.1 L633.5 549.1 L635.2 549.1 L636.6 549.9 L636.6 550.9 L634.9 551.8 L633.2 551.8Z" fill="#fff" stroke="#2e2e30" stroke-width="0.6"/>
<path d="M636.2 548.6 L636.2 547.6 L637.9 546.6 L639.6 546.6 L641 547.4 L641 548.4 L639.3 549.3 L637.6 549.3Z" fill="#fff" stroke="#2e2e30" stroke-width="0.6"/>
<path d="M640.6 546.1 L640.7 545.1 L642.4 544.2 L644 544.2 L645.4 545 L645.4 545.9 L643.7 546.9 L642 546.9Z" fill="#fff" stroke="#2e2e30" stroke-width="0.6"/>
<path d="M645 543.6 L645.1 542.6 L646.8 541.7 L648.4 541.7 L649.8 542.5 L649.8 543.4 L648.1 544.4 L646.4 544.4Z" fill="#fff" stroke="#2e2e30" stroke-width="0.6"/>
<path d="M649.5 541.1 L649.5 540.2 L651.2 539.2 L652.9 539.2 L654.2 540 L654.2 541 L652.5 541.9 L650.8 541.9Z" fill="#fff" stroke="#2e2e30" stroke-width="0.6"/>
<path d="M653.9 538.6 L653.9 537.7 L655.6 536.7 L657.3 536.7 L658.6 537.5 L658.6 538.5 L656.9 539.4 L655.2 539.4Z" fill="#fff" stroke="#2e2e30" stroke-width="0.6"/>
<path d="M658.3 536.2 L658.3 535.2 L660 534.2 L661.7 534.3 L663 535 L663 536 L661.3 537 L659.6 536.9Z" fill="#fff" stroke="#2e2e30" stroke-width="0.6"/>
<path d="M662.7 533.7 L662.7 532.7 L664.4 531.8 L666.1 531.8 L667.5 532.6 L667.4 533.5 L665.7 534.5 L664.1 534.5Z" fill="#fff" stroke="#2e2e30" stroke-width="0.6"/>
<path d="M667.1 531.2 L667.1 530.2 L668.8 529.3 L670.5 529.3 L671.9 530.1 L671.9 531 L670.2 532 L668.5 532Z" fill="#fff" stroke="#2e2e30" stroke-width="0.6"/>
<path d="M671.5 528.7 L671.5 527.8 L673.2 526.8 L674.9 526.8 L676.3 527.6 L676.3 528.6 L674.6 529.5 L672.9 529.5Z" fill="#fff" stroke="#2e2e30" stroke-width="0.6"/>
<path d="M598.6 564.6 L602.4 566 L604.6 569.4 L605.2 572.6 L606.2 576.6" fill="none" stroke="#222" stroke-width="0.6"/>
<path d="M596.6 563.2 L600 562.6" fill="none" stroke="#222" stroke-width="0.5"/>
</g><rect x="530.9" y="438.7" width="131.2" height="185.4" fill="none" stroke="#4a4647" stroke-width="1.6" stroke-linejoin="miter"/><circle cx="547.7" cy="454.2" r="10.4" fill="#fff" stroke="#d11f2b" stroke-width="1.95"/><text transform="translate(547.3 458.8) scale(0.8 1)" text-anchor="middle" font-size="13.2" font-weight="bold" fill="#d11f2b" stroke="#d11f2b" stroke-width="0.55">26</text><circle cx="679.6" cy="454.2" r="10.4" fill="#fff" stroke="#d11f2b" stroke-width="1.95"/><text transform="translate(679.2 458.8) scale(0.8 1)" text-anchor="middle" font-size="13.2" font-weight="bold" fill="#d11f2b" stroke="#d11f2b" stroke-width="0.55">27</text><text x="564.4" y="486.3" font-size="10.9" font-weight="bold" fill="#1a1a1a">D-1</text><text x="627.4" y="522.3" font-size="10.9" font-weight="bold" fill="#1a1a1a">D-2</text><rect x="639.4" y="602.4" width="15.4" height="16.1" fill="#fff" stroke="#d11f2b" stroke-width="2.3" stroke-linejoin="miter"/><text transform="translate(646.9 615.6) scale(0.8 1)" text-anchor="middle" font-size="13" font-weight="bold" fill="#d11f2b" stroke="#d11f2b" stroke-width="0.3">x2</text>
<text x="755" y="835" font-size="13.3" font-weight="bold" fill="#d0202c">www.icm.com.ua</text>
<text x="1081.5" y="832.6" font-size="13" fill="#333">9</text>
</svg>
</body></html>
